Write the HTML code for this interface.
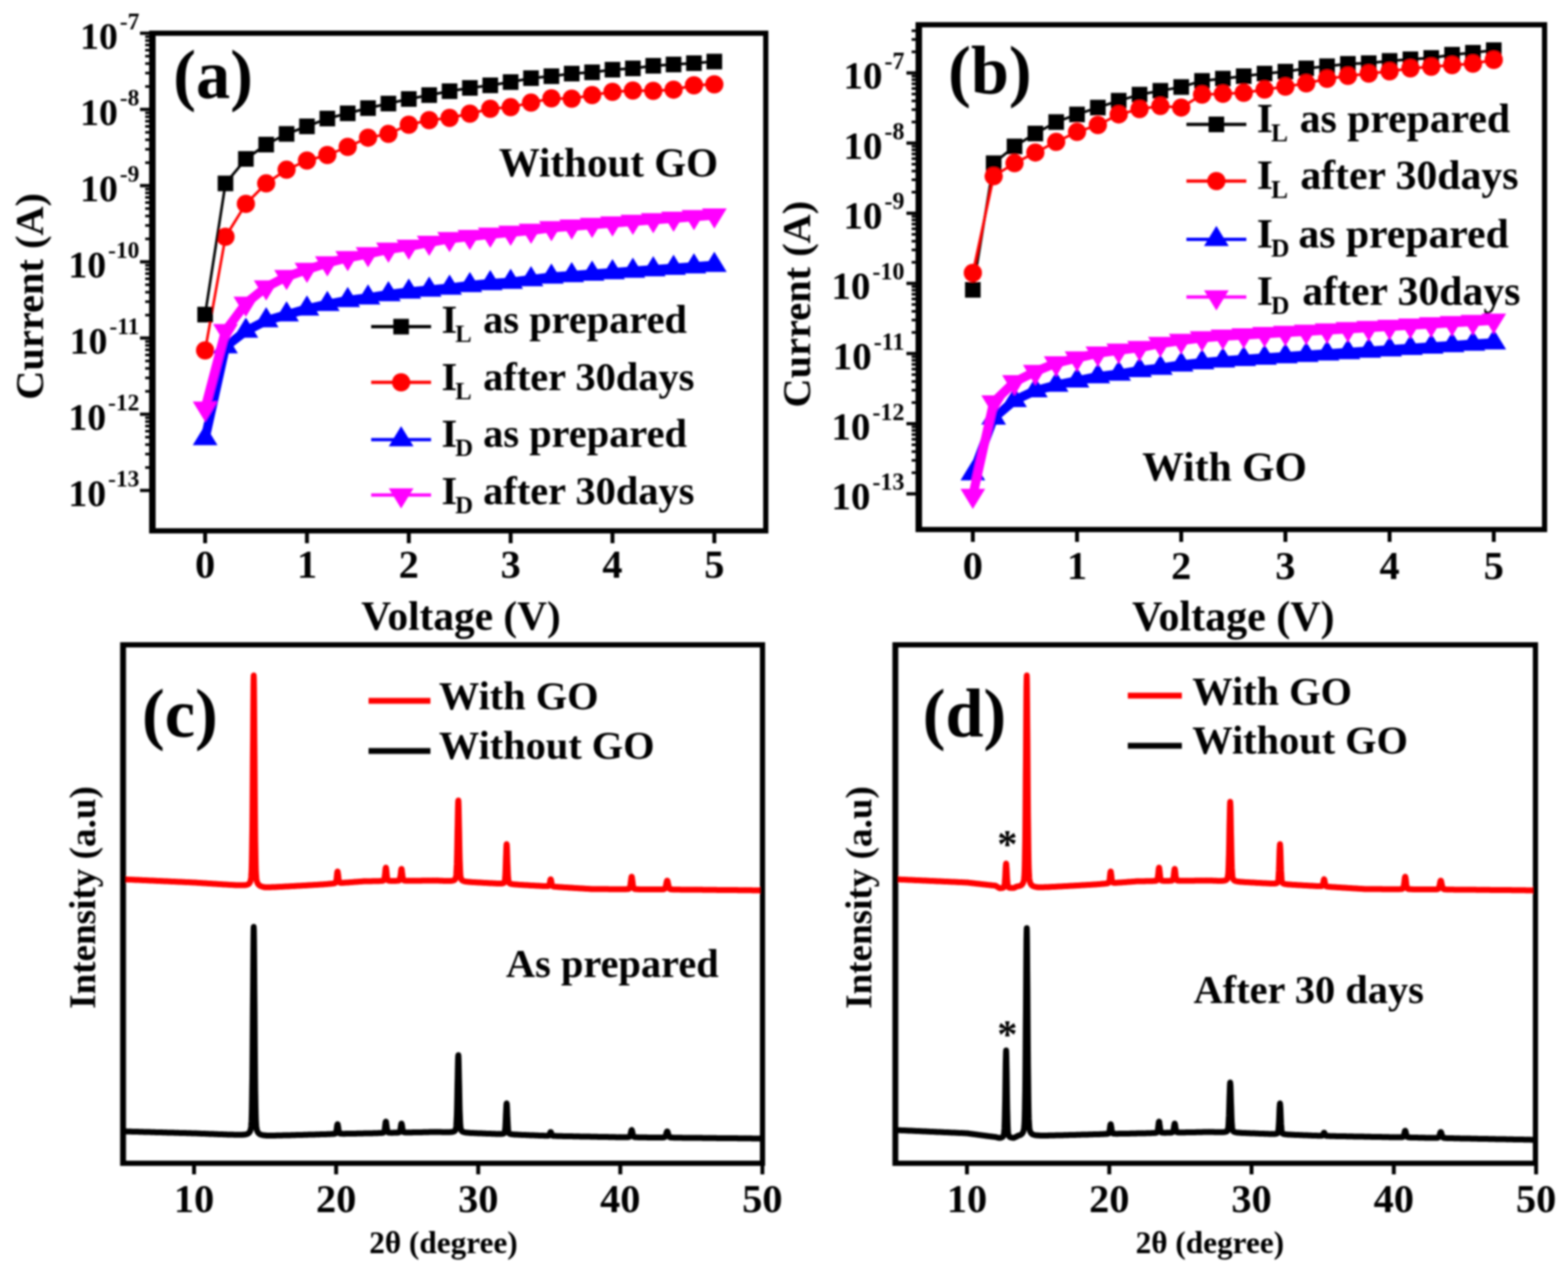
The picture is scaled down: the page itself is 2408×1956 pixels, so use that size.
<!DOCTYPE html>
<html><head><meta charset="utf-8"><title>Figure</title><style>html,body{margin:0;padding:0;background:#fff;}svg{display:block;}</style></head><body>
<svg width="2408" height="1956" viewBox="0 0 2408 1956" font-family="Liberation Serif, Times New Roman, serif" font-weight="bold">
<rect width="2408" height="1956" fill="#fff"/>
<defs><filter id="soft" x="0" y="0" width="100%" height="100%" filterUnits="userSpaceOnUse"><feGaussianBlur stdDeviation="1.6"/></filter></defs>
<g filter="url(#soft)">
<polyline points="315,673.2 346.3,532.2 377.6,508.2 408.8,492.2 440.1,483.2 471.4,474.2 502.7,467.2 534,461.2 565.2,457.2 596.5,452.2 627.8,448.2 659.1,445.2 690.4,442.2 721.6,438.2 752.9,435.2 784.2,433.2 815.5,429.2 846.8,425.2 878,422.9 909.3,420.7 940.6,418.4 971.9,416.2 1003.2,413.9 1034.4,411.7 1065.7,409.4 1097,407.2" fill="none" stroke="#0000ff" stroke-width="14" stroke-linejoin="round"/>
<polygon points="315,652.5 334,683.5 296,683.5" fill="#0000ff"/>
<polygon points="346.3,511.5 365.3,542.5 327.3,542.5" fill="#0000ff"/>
<polygon points="377.6,487.5 396.6,518.5 358.6,518.5" fill="#0000ff"/>
<polygon points="408.8,471.5 427.8,502.5 389.8,502.5" fill="#0000ff"/>
<polygon points="440.1,462.5 459.1,493.5 421.1,493.5" fill="#0000ff"/>
<polygon points="471.4,453.5 490.4,484.5 452.4,484.5" fill="#0000ff"/>
<polygon points="502.7,446.5 521.7,477.5 483.7,477.5" fill="#0000ff"/>
<polygon points="534,440.5 553,471.5 515,471.5" fill="#0000ff"/>
<polygon points="565.2,436.5 584.2,467.5 546.2,467.5" fill="#0000ff"/>
<polygon points="596.5,431.5 615.5,462.5 577.5,462.5" fill="#0000ff"/>
<polygon points="627.8,427.5 646.8,458.5 608.8,458.5" fill="#0000ff"/>
<polygon points="659.1,424.5 678.1,455.5 640.1,455.5" fill="#0000ff"/>
<polygon points="690.4,421.5 709.4,452.5 671.4,452.5" fill="#0000ff"/>
<polygon points="721.6,417.5 740.6,448.5 702.6,448.5" fill="#0000ff"/>
<polygon points="752.9,414.5 771.9,445.5 733.9,445.5" fill="#0000ff"/>
<polygon points="784.2,412.5 803.2,443.5 765.2,443.5" fill="#0000ff"/>
<polygon points="815.5,408.5 834.5,439.5 796.5,439.5" fill="#0000ff"/>
<polygon points="846.8,404.5 865.8,435.5 827.8,435.5" fill="#0000ff"/>
<polygon points="878,402.2 897,433.2 859,433.2" fill="#0000ff"/>
<polygon points="909.3,400 928.3,431 890.3,431" fill="#0000ff"/>
<polygon points="940.6,397.8 959.6,428.8 921.6,428.8" fill="#0000ff"/>
<polygon points="971.9,395.5 990.9,426.5 952.9,426.5" fill="#0000ff"/>
<polygon points="1003.2,393.2 1022.2,424.2 984.2,424.2" fill="#0000ff"/>
<polygon points="1034.4,391 1053.4,422 1015.4,422" fill="#0000ff"/>
<polygon points="1065.7,388.8 1084.7,419.8 1046.7,419.8" fill="#0000ff"/>
<polygon points="1097,386.5 1116,417.5 1078,417.5" fill="#0000ff"/>
<polyline points="315,626.8 346.3,507.8 377.6,465.8 408.8,440.8 440.1,424.8 471.4,413.8 502.7,403.8 534,395.8 565.2,389.8 596.5,382.8 627.8,378.4 659.1,372.3 690.4,366.5 721.6,363.4 752.9,359.8 784.2,356.8 815.5,353.8 846.8,349.8 878,347.4 909.3,345 940.6,342.5 971.9,340.1 1003.2,337.6 1034.4,335.2 1065.7,332.8 1097,330.3" fill="none" stroke="#ff00ff" stroke-width="14" stroke-linejoin="round"/>
<polygon points="296,616.5 334,616.5 315,647.5" fill="#ff00ff"/>
<polygon points="327.3,497.5 365.3,497.5 346.3,528.5" fill="#ff00ff"/>
<polygon points="358.6,455.5 396.6,455.5 377.6,486.5" fill="#ff00ff"/>
<polygon points="389.8,430.5 427.8,430.5 408.8,461.5" fill="#ff00ff"/>
<polygon points="421.1,414.5 459.1,414.5 440.1,445.5" fill="#ff00ff"/>
<polygon points="452.4,403.5 490.4,403.5 471.4,434.5" fill="#ff00ff"/>
<polygon points="483.7,393.5 521.7,393.5 502.7,424.5" fill="#ff00ff"/>
<polygon points="515,385.5 553,385.5 534,416.5" fill="#ff00ff"/>
<polygon points="546.2,379.5 584.2,379.5 565.2,410.5" fill="#ff00ff"/>
<polygon points="577.5,372.5 615.5,372.5 596.5,403.5" fill="#ff00ff"/>
<polygon points="608.8,368.1 646.8,368.1 627.8,399.1" fill="#ff00ff"/>
<polygon points="640.1,362 678.1,362 659.1,393" fill="#ff00ff"/>
<polygon points="671.4,356.2 709.4,356.2 690.4,387.2" fill="#ff00ff"/>
<polygon points="702.6,353.1 740.6,353.1 721.6,384.1" fill="#ff00ff"/>
<polygon points="733.9,349.5 771.9,349.5 752.9,380.5" fill="#ff00ff"/>
<polygon points="765.2,346.5 803.2,346.5 784.2,377.5" fill="#ff00ff"/>
<polygon points="796.5,343.5 834.5,343.5 815.5,374.5" fill="#ff00ff"/>
<polygon points="827.8,339.5 865.8,339.5 846.8,370.5" fill="#ff00ff"/>
<polygon points="859,337.1 897,337.1 878,368.1" fill="#ff00ff"/>
<polygon points="890.3,334.6 928.3,334.6 909.3,365.6" fill="#ff00ff"/>
<polygon points="921.6,332.2 959.6,332.2 940.6,363.2" fill="#ff00ff"/>
<polygon points="952.9,329.8 990.9,329.8 971.9,360.8" fill="#ff00ff"/>
<polygon points="984.2,327.3 1022.2,327.3 1003.2,358.3" fill="#ff00ff"/>
<polygon points="1015.4,324.9 1053.4,324.9 1034.4,355.9" fill="#ff00ff"/>
<polygon points="1046.7,322.4 1084.7,322.4 1065.7,353.4" fill="#ff00ff"/>
<polygon points="1078,320 1116,320 1097,351" fill="#ff00ff"/>
<polyline points="315,538 346.3,363.5 377.6,313 408.8,281.6 440.1,260.6 471.4,246.5 502.7,238 534,225.5 565.2,211.4 596.5,205.6 627.8,191.5 659.1,184.5 690.4,181 721.6,174.5 752.9,167 784.2,164.6 815.5,157.6 846.8,151 878,151.5 909.3,146 940.6,141 971.9,139 1003.2,139.5 1034.4,137.7 1065.7,131 1097,129.5" fill="none" stroke="#ff0000" stroke-width="4" stroke-linejoin="round"/>
<circle cx="315" cy="538" r="14.0" fill="#ff0000"/>
<circle cx="346.3" cy="363.5" r="14.0" fill="#ff0000"/>
<circle cx="377.6" cy="313" r="14.0" fill="#ff0000"/>
<circle cx="408.8" cy="281.6" r="14.0" fill="#ff0000"/>
<circle cx="440.1" cy="260.6" r="14.0" fill="#ff0000"/>
<circle cx="471.4" cy="246.5" r="14.0" fill="#ff0000"/>
<circle cx="502.7" cy="238" r="14.0" fill="#ff0000"/>
<circle cx="534" cy="225.5" r="14.0" fill="#ff0000"/>
<circle cx="565.2" cy="211.4" r="14.0" fill="#ff0000"/>
<circle cx="596.5" cy="205.6" r="14.0" fill="#ff0000"/>
<circle cx="627.8" cy="191.5" r="14.0" fill="#ff0000"/>
<circle cx="659.1" cy="184.5" r="14.0" fill="#ff0000"/>
<circle cx="690.4" cy="181" r="14.0" fill="#ff0000"/>
<circle cx="721.6" cy="174.5" r="14.0" fill="#ff0000"/>
<circle cx="752.9" cy="167" r="14.0" fill="#ff0000"/>
<circle cx="784.2" cy="164.6" r="14.0" fill="#ff0000"/>
<circle cx="815.5" cy="157.6" r="14.0" fill="#ff0000"/>
<circle cx="846.8" cy="151" r="14.0" fill="#ff0000"/>
<circle cx="878" cy="151.5" r="14.0" fill="#ff0000"/>
<circle cx="909.3" cy="146" r="14.0" fill="#ff0000"/>
<circle cx="940.6" cy="141" r="14.0" fill="#ff0000"/>
<circle cx="971.9" cy="139" r="14.0" fill="#ff0000"/>
<circle cx="1003.2" cy="139.5" r="14.0" fill="#ff0000"/>
<circle cx="1034.4" cy="137.7" r="14.0" fill="#ff0000"/>
<circle cx="1065.7" cy="131" r="14.0" fill="#ff0000"/>
<circle cx="1097" cy="129.5" r="14.0" fill="#ff0000"/>
<polyline points="315,483 346.3,281.6 377.6,244 408.8,222 440.1,205.6 471.4,194 502.7,182 534,174 565.2,166 596.5,159 627.8,152 659.1,146 690.4,140 721.6,135 752.9,131 784.2,126 815.5,120 846.8,117 878,113 909.3,111 940.6,107 971.9,105 1003.2,101 1034.4,99 1065.7,97 1097,94.5" fill="none" stroke="#000000" stroke-width="4" stroke-linejoin="round"/>
<rect x="303" y="471" width="24" height="24" fill="#000000"/>
<rect x="334.3" y="269.6" width="24" height="24" fill="#000000"/>
<rect x="365.6" y="232" width="24" height="24" fill="#000000"/>
<rect x="396.8" y="210" width="24" height="24" fill="#000000"/>
<rect x="428.1" y="193.6" width="24" height="24" fill="#000000"/>
<rect x="459.4" y="182" width="24" height="24" fill="#000000"/>
<rect x="490.7" y="170" width="24" height="24" fill="#000000"/>
<rect x="522" y="162" width="24" height="24" fill="#000000"/>
<rect x="553.2" y="154" width="24" height="24" fill="#000000"/>
<rect x="584.5" y="147" width="24" height="24" fill="#000000"/>
<rect x="615.8" y="140" width="24" height="24" fill="#000000"/>
<rect x="647.1" y="134" width="24" height="24" fill="#000000"/>
<rect x="678.4" y="128" width="24" height="24" fill="#000000"/>
<rect x="709.6" y="123" width="24" height="24" fill="#000000"/>
<rect x="740.9" y="119" width="24" height="24" fill="#000000"/>
<rect x="772.2" y="114" width="24" height="24" fill="#000000"/>
<rect x="803.5" y="108" width="24" height="24" fill="#000000"/>
<rect x="834.8" y="105" width="24" height="24" fill="#000000"/>
<rect x="866" y="101" width="24" height="24" fill="#000000"/>
<rect x="897.3" y="99" width="24" height="24" fill="#000000"/>
<rect x="928.6" y="95" width="24" height="24" fill="#000000"/>
<rect x="959.9" y="93" width="24" height="24" fill="#000000"/>
<rect x="991.2" y="89" width="24" height="24" fill="#000000"/>
<rect x="1022.4" y="87" width="24" height="24" fill="#000000"/>
<rect x="1053.7" y="85" width="24" height="24" fill="#000000"/>
<rect x="1085" y="82.5" width="24" height="24" fill="#000000"/>
<line x1="234" y1="47" x2="234" y2="819" stroke="#000" stroke-width="10"/>
<line x1="234" y1="51" x2="1180" y2="51" stroke="#000" stroke-width="8"/>
<line x1="1176" y1="51" x2="1176" y2="815" stroke="#000" stroke-width="8"/>
<line x1="234" y1="815" x2="1180" y2="815" stroke="#000" stroke-width="8"/>
<line x1="215" y1="51" x2="229" y2="51" stroke="#000" stroke-width="5"/>
<text x="214" y="75" font-size="58" text-anchor="end">10<tspan dx="3" dy="-30" font-size="36">-7</tspan></text>
<line x1="215" y1="168" x2="229" y2="168" stroke="#000" stroke-width="5"/>
<text x="214" y="192" font-size="58" text-anchor="end">10<tspan dx="3" dy="-30" font-size="36">-8</tspan></text>
<line x1="223" y1="132.8" x2="229" y2="132.8" stroke="#000" stroke-width="4"/>
<line x1="223" y1="112.2" x2="229" y2="112.2" stroke="#000" stroke-width="4"/>
<line x1="223" y1="97.6" x2="229" y2="97.6" stroke="#000" stroke-width="4"/>
<line x1="223" y1="86.2" x2="229" y2="86.2" stroke="#000" stroke-width="4"/>
<line x1="223" y1="77" x2="229" y2="77" stroke="#000" stroke-width="4"/>
<line x1="223" y1="69.1" x2="229" y2="69.1" stroke="#000" stroke-width="4"/>
<line x1="223" y1="62.3" x2="229" y2="62.3" stroke="#000" stroke-width="4"/>
<line x1="223" y1="56.4" x2="229" y2="56.4" stroke="#000" stroke-width="4"/>
<line x1="215" y1="285" x2="229" y2="285" stroke="#000" stroke-width="5"/>
<text x="214" y="309" font-size="58" text-anchor="end">10<tspan dx="3" dy="-30" font-size="36">-9</tspan></text>
<line x1="223" y1="249.8" x2="229" y2="249.8" stroke="#000" stroke-width="4"/>
<line x1="223" y1="229.2" x2="229" y2="229.2" stroke="#000" stroke-width="4"/>
<line x1="223" y1="214.6" x2="229" y2="214.6" stroke="#000" stroke-width="4"/>
<line x1="223" y1="203.2" x2="229" y2="203.2" stroke="#000" stroke-width="4"/>
<line x1="223" y1="194" x2="229" y2="194" stroke="#000" stroke-width="4"/>
<line x1="223" y1="186.1" x2="229" y2="186.1" stroke="#000" stroke-width="4"/>
<line x1="223" y1="179.3" x2="229" y2="179.3" stroke="#000" stroke-width="4"/>
<line x1="223" y1="173.4" x2="229" y2="173.4" stroke="#000" stroke-width="4"/>
<line x1="215" y1="402" x2="229" y2="402" stroke="#000" stroke-width="5"/>
<text x="214" y="426" font-size="58" text-anchor="end">10<tspan dx="3" dy="-30" font-size="36">-10</tspan></text>
<line x1="223" y1="366.8" x2="229" y2="366.8" stroke="#000" stroke-width="4"/>
<line x1="223" y1="346.2" x2="229" y2="346.2" stroke="#000" stroke-width="4"/>
<line x1="223" y1="331.6" x2="229" y2="331.6" stroke="#000" stroke-width="4"/>
<line x1="223" y1="320.2" x2="229" y2="320.2" stroke="#000" stroke-width="4"/>
<line x1="223" y1="311" x2="229" y2="311" stroke="#000" stroke-width="4"/>
<line x1="223" y1="303.1" x2="229" y2="303.1" stroke="#000" stroke-width="4"/>
<line x1="223" y1="296.3" x2="229" y2="296.3" stroke="#000" stroke-width="4"/>
<line x1="223" y1="290.4" x2="229" y2="290.4" stroke="#000" stroke-width="4"/>
<line x1="215" y1="519" x2="229" y2="519" stroke="#000" stroke-width="5"/>
<text x="214" y="543" font-size="58" text-anchor="end">10<tspan dx="3" dy="-30" font-size="36">-11</tspan></text>
<line x1="223" y1="483.8" x2="229" y2="483.8" stroke="#000" stroke-width="4"/>
<line x1="223" y1="463.2" x2="229" y2="463.2" stroke="#000" stroke-width="4"/>
<line x1="223" y1="448.6" x2="229" y2="448.6" stroke="#000" stroke-width="4"/>
<line x1="223" y1="437.2" x2="229" y2="437.2" stroke="#000" stroke-width="4"/>
<line x1="223" y1="428" x2="229" y2="428" stroke="#000" stroke-width="4"/>
<line x1="223" y1="420.1" x2="229" y2="420.1" stroke="#000" stroke-width="4"/>
<line x1="223" y1="413.3" x2="229" y2="413.3" stroke="#000" stroke-width="4"/>
<line x1="223" y1="407.4" x2="229" y2="407.4" stroke="#000" stroke-width="4"/>
<line x1="215" y1="636" x2="229" y2="636" stroke="#000" stroke-width="5"/>
<text x="214" y="660" font-size="58" text-anchor="end">10<tspan dx="3" dy="-30" font-size="36">-12</tspan></text>
<line x1="223" y1="600.8" x2="229" y2="600.8" stroke="#000" stroke-width="4"/>
<line x1="223" y1="580.2" x2="229" y2="580.2" stroke="#000" stroke-width="4"/>
<line x1="223" y1="565.6" x2="229" y2="565.6" stroke="#000" stroke-width="4"/>
<line x1="223" y1="554.2" x2="229" y2="554.2" stroke="#000" stroke-width="4"/>
<line x1="223" y1="545" x2="229" y2="545" stroke="#000" stroke-width="4"/>
<line x1="223" y1="537.1" x2="229" y2="537.1" stroke="#000" stroke-width="4"/>
<line x1="223" y1="530.3" x2="229" y2="530.3" stroke="#000" stroke-width="4"/>
<line x1="223" y1="524.4" x2="229" y2="524.4" stroke="#000" stroke-width="4"/>
<line x1="215" y1="753" x2="229" y2="753" stroke="#000" stroke-width="5"/>
<text x="214" y="777" font-size="58" text-anchor="end">10<tspan dx="3" dy="-30" font-size="36">-13</tspan></text>
<line x1="223" y1="717.8" x2="229" y2="717.8" stroke="#000" stroke-width="4"/>
<line x1="223" y1="697.2" x2="229" y2="697.2" stroke="#000" stroke-width="4"/>
<line x1="223" y1="682.6" x2="229" y2="682.6" stroke="#000" stroke-width="4"/>
<line x1="223" y1="671.2" x2="229" y2="671.2" stroke="#000" stroke-width="4"/>
<line x1="223" y1="662" x2="229" y2="662" stroke="#000" stroke-width="4"/>
<line x1="223" y1="654.1" x2="229" y2="654.1" stroke="#000" stroke-width="4"/>
<line x1="223" y1="647.3" x2="229" y2="647.3" stroke="#000" stroke-width="4"/>
<line x1="223" y1="641.4" x2="229" y2="641.4" stroke="#000" stroke-width="4"/>
<line x1="315" y1="815" x2="315" y2="834" stroke="#000" stroke-width="6"/>
<text x="315" y="887" font-size="62" text-anchor="middle" >0</text>
<line x1="471.4" y1="815" x2="471.4" y2="834" stroke="#000" stroke-width="6"/>
<text x="471.4" y="887" font-size="62" text-anchor="middle" >1</text>
<line x1="627.8" y1="815" x2="627.8" y2="834" stroke="#000" stroke-width="6"/>
<text x="627.8" y="887" font-size="62" text-anchor="middle" >2</text>
<line x1="784.2" y1="815" x2="784.2" y2="834" stroke="#000" stroke-width="6"/>
<text x="784.2" y="887" font-size="62" text-anchor="middle" >3</text>
<line x1="940.6" y1="815" x2="940.6" y2="834" stroke="#000" stroke-width="6"/>
<text x="940.6" y="887" font-size="62" text-anchor="middle" >4</text>
<line x1="1097" y1="815" x2="1097" y2="834" stroke="#000" stroke-width="6"/>
<text x="1097" y="887" font-size="62" text-anchor="middle" >5</text>
<text x="708" y="967" font-size="63.5" text-anchor="middle" >Voltage (V)</text>
<text transform="translate(66,455) rotate(-90)" font-size="62" text-anchor="middle">Current (A)</text>
<text x="266" y="150" font-size="105" text-anchor="start" >(a)</text>
<text x="766" y="271" font-size="63" text-anchor="start" >Without GO</text>
<line x1="570" y1="501.5" x2="662" y2="501.5" stroke="#000000" stroke-width="5"/>
<rect x="604" y="489.5" width="24" height="24" fill="#000000"/>
<text x="678" y="511" font-size="62">I</text>
<text x="699" y="525" font-size="38">L</text>
<text x="742" y="511" font-size="62">as prepared</text>
<line x1="570" y1="587" x2="662" y2="587" stroke="#ff0000" stroke-width="5"/>
<circle cx="616" cy="587" r="14.0" fill="#ff0000"/>
<text x="678" y="598.7" font-size="62">I</text>
<text x="699" y="612.7" font-size="38">L</text>
<text x="742" y="598.7" font-size="62">after 30days</text>
<line x1="570" y1="675" x2="662" y2="675" stroke="#0000ff" stroke-width="5"/>
<polygon points="616,654.3 635,685.3 597,685.3" fill="#0000ff"/>
<text x="678" y="686.4" font-size="62">I</text>
<text x="699" y="700.4" font-size="38">D</text>
<text x="742" y="686.4" font-size="62">as prepared</text>
<line x1="570" y1="760" x2="662" y2="760" stroke="#ff00ff" stroke-width="5"/>
<polygon points="597,749.7 635,749.7 616,780.7" fill="#ff00ff"/>
<text x="678" y="774.1" font-size="62">I</text>
<text x="699" y="788.1" font-size="38">D</text>
<text x="742" y="774.1" font-size="62">after 30days</text>
<polyline points="1494,727.2 1526,641.8 1558,614.7 1590,599.7 1622,591.2 1654,584.7 1686,578.2 1718,574.2 1750,568.8 1782,565.2 1814,560.2 1846,556.7 1878,553.9 1910,551.7 1942,549.6 1974,547.5 2006,545.3 2038,543.2 2070,541.1 2102,539 2134,536.8 2166,534.7 2198,532.6 2230,530.4 2262,528.3 2294,526.2" fill="none" stroke="#0000ff" stroke-width="14" stroke-linejoin="round"/>
<polygon points="1494,706.5 1513,737.5 1475,737.5" fill="#0000ff"/>
<polygon points="1526,621.1 1545,652.1 1507,652.1" fill="#0000ff"/>
<polygon points="1558,594 1577,625 1539,625" fill="#0000ff"/>
<polygon points="1590,579 1609,610 1571,610" fill="#0000ff"/>
<polygon points="1622,570.5 1641,601.5 1603,601.5" fill="#0000ff"/>
<polygon points="1654,564 1673,595 1635,595" fill="#0000ff"/>
<polygon points="1686,557.5 1705,588.5 1667,588.5" fill="#0000ff"/>
<polygon points="1718,553.5 1737,584.5 1699,584.5" fill="#0000ff"/>
<polygon points="1750,548.1 1769,579.1 1731,579.1" fill="#0000ff"/>
<polygon points="1782,544.5 1801,575.5 1763,575.5" fill="#0000ff"/>
<polygon points="1814,539.5 1833,570.5 1795,570.5" fill="#0000ff"/>
<polygon points="1846,536 1865,567 1827,567" fill="#0000ff"/>
<polygon points="1878,533.2 1897,564.2 1859,564.2" fill="#0000ff"/>
<polygon points="1910,531.1 1929,562.1 1891,562.1" fill="#0000ff"/>
<polygon points="1942,528.9 1961,559.9 1923,559.9" fill="#0000ff"/>
<polygon points="1974,526.8 1993,557.8 1955,557.8" fill="#0000ff"/>
<polygon points="2006,524.7 2025,555.7 1987,555.7" fill="#0000ff"/>
<polygon points="2038,522.5 2057,553.5 2019,553.5" fill="#0000ff"/>
<polygon points="2070,520.4 2089,551.4 2051,551.4" fill="#0000ff"/>
<polygon points="2102,518.3 2121,549.3 2083,549.3" fill="#0000ff"/>
<polygon points="2134,516.2 2153,547.2 2115,547.2" fill="#0000ff"/>
<polygon points="2166,514 2185,545 2147,545" fill="#0000ff"/>
<polygon points="2198,511.9 2217,542.9 2179,542.9" fill="#0000ff"/>
<polygon points="2230,509.8 2249,540.8 2211,540.8" fill="#0000ff"/>
<polygon points="2262,507.6 2281,538.6 2243,538.6" fill="#0000ff"/>
<polygon points="2294,505.5 2313,536.5 2275,536.5" fill="#0000ff"/>
<polyline points="1494,760.8 1526,617.3 1558,586.4 1590,570.5 1622,557.4 1654,549.8 1686,542.4 1718,537.8 1750,533.8 1782,527.5 1814,522.8 1846,518.8 1878,516.2 1910,514.4 1942,512.5 1974,510.6 2006,508.7 2038,506.8 2070,505 2102,503.1 2134,501.2 2166,499.3 2198,497.5 2230,495.6 2262,493.7 2294,491.8" fill="none" stroke="#ff00ff" stroke-width="14" stroke-linejoin="round"/>
<polygon points="1475,750.5 1513,750.5 1494,781.5" fill="#ff00ff"/>
<polygon points="1507,607 1545,607 1526,638" fill="#ff00ff"/>
<polygon points="1539,576.1 1577,576.1 1558,607.1" fill="#ff00ff"/>
<polygon points="1571,560.2 1609,560.2 1590,591.2" fill="#ff00ff"/>
<polygon points="1603,547.1 1641,547.1 1622,578.1" fill="#ff00ff"/>
<polygon points="1635,539.5 1673,539.5 1654,570.5" fill="#ff00ff"/>
<polygon points="1667,532.1 1705,532.1 1686,563.1" fill="#ff00ff"/>
<polygon points="1699,527.5 1737,527.5 1718,558.5" fill="#ff00ff"/>
<polygon points="1731,523.5 1769,523.5 1750,554.5" fill="#ff00ff"/>
<polygon points="1763,517.2 1801,517.2 1782,548.2" fill="#ff00ff"/>
<polygon points="1795,512.5 1833,512.5 1814,543.5" fill="#ff00ff"/>
<polygon points="1827,508.5 1865,508.5 1846,539.5" fill="#ff00ff"/>
<polygon points="1859,505.9 1897,505.9 1878,536.9" fill="#ff00ff"/>
<polygon points="1891,504 1929,504 1910,535" fill="#ff00ff"/>
<polygon points="1923,502.1 1961,502.1 1942,533.1" fill="#ff00ff"/>
<polygon points="1955,500.3 1993,500.3 1974,531.3" fill="#ff00ff"/>
<polygon points="1987,498.4 2025,498.4 2006,529.4" fill="#ff00ff"/>
<polygon points="2019,496.5 2057,496.5 2038,527.5" fill="#ff00ff"/>
<polygon points="2051,494.6 2089,494.6 2070,525.6" fill="#ff00ff"/>
<polygon points="2083,492.8 2121,492.8 2102,523.8" fill="#ff00ff"/>
<polygon points="2115,490.9 2153,490.9 2134,521.9" fill="#ff00ff"/>
<polygon points="2147,489 2185,489 2166,520" fill="#ff00ff"/>
<polygon points="2179,487.1 2217,487.1 2198,518.1" fill="#ff00ff"/>
<polygon points="2211,485.3 2249,485.3 2230,516.3" fill="#ff00ff"/>
<polygon points="2243,483.4 2281,483.4 2262,514.4" fill="#ff00ff"/>
<polygon points="2275,481.5 2313,481.5 2294,512.5" fill="#ff00ff"/>
<polyline points="1494,445 1526,250.6 1558,224.8 1590,205 1622,187.4 1654,175.7 1686,165.2 1718,154.6 1750,145.3 1782,139.4 1814,133.6 1846,124.2 1878,120.7 1910,117 1942,113 1974,110 2006,105 2038,101.7 2070,98 2102,97 2134,93.5 2166,91 2198,89 2230,84 2262,81 2294,77" fill="none" stroke="#000000" stroke-width="4" stroke-linejoin="round"/>
<rect x="1482" y="433" width="24" height="24" fill="#000000"/>
<rect x="1514" y="238.6" width="24" height="24" fill="#000000"/>
<rect x="1546" y="212.8" width="24" height="24" fill="#000000"/>
<rect x="1578" y="193" width="24" height="24" fill="#000000"/>
<rect x="1610" y="175.4" width="24" height="24" fill="#000000"/>
<rect x="1642" y="163.7" width="24" height="24" fill="#000000"/>
<rect x="1674" y="153.2" width="24" height="24" fill="#000000"/>
<rect x="1706" y="142.6" width="24" height="24" fill="#000000"/>
<rect x="1738" y="133.3" width="24" height="24" fill="#000000"/>
<rect x="1770" y="127.4" width="24" height="24" fill="#000000"/>
<rect x="1802" y="121.6" width="24" height="24" fill="#000000"/>
<rect x="1834" y="112.2" width="24" height="24" fill="#000000"/>
<rect x="1866" y="108.7" width="24" height="24" fill="#000000"/>
<rect x="1898" y="105" width="24" height="24" fill="#000000"/>
<rect x="1930" y="101" width="24" height="24" fill="#000000"/>
<rect x="1962" y="98" width="24" height="24" fill="#000000"/>
<rect x="1994" y="93" width="24" height="24" fill="#000000"/>
<rect x="2026" y="89.7" width="24" height="24" fill="#000000"/>
<rect x="2058" y="86" width="24" height="24" fill="#000000"/>
<rect x="2090" y="85" width="24" height="24" fill="#000000"/>
<rect x="2122" y="81.5" width="24" height="24" fill="#000000"/>
<rect x="2154" y="79" width="24" height="24" fill="#000000"/>
<rect x="2186" y="77" width="24" height="24" fill="#000000"/>
<rect x="2218" y="72" width="24" height="24" fill="#000000"/>
<rect x="2250" y="69" width="24" height="24" fill="#000000"/>
<rect x="2282" y="65" width="24" height="24" fill="#000000"/>
<polyline points="1494,419 1526,270.5 1558,250.6 1590,234.2 1622,217.8 1654,202.6 1686,192 1718,175.7 1750,167.5 1782,162.8 1814,165.2 1846,145.3 1878,144 1910,142.5 1942,137.6 1974,133 2006,128 2038,121 2070,116.6 2102,113 2134,109.5 2166,105 2198,102.5 2230,100 2262,97.8 2294,92" fill="none" stroke="#ff0000" stroke-width="4" stroke-linejoin="round"/>
<circle cx="1494" cy="419" r="14.0" fill="#ff0000"/>
<circle cx="1526" cy="270.5" r="14.0" fill="#ff0000"/>
<circle cx="1558" cy="250.6" r="14.0" fill="#ff0000"/>
<circle cx="1590" cy="234.2" r="14.0" fill="#ff0000"/>
<circle cx="1622" cy="217.8" r="14.0" fill="#ff0000"/>
<circle cx="1654" cy="202.6" r="14.0" fill="#ff0000"/>
<circle cx="1686" cy="192" r="14.0" fill="#ff0000"/>
<circle cx="1718" cy="175.7" r="14.0" fill="#ff0000"/>
<circle cx="1750" cy="167.5" r="14.0" fill="#ff0000"/>
<circle cx="1782" cy="162.8" r="14.0" fill="#ff0000"/>
<circle cx="1814" cy="165.2" r="14.0" fill="#ff0000"/>
<circle cx="1846" cy="145.3" r="14.0" fill="#ff0000"/>
<circle cx="1878" cy="144" r="14.0" fill="#ff0000"/>
<circle cx="1910" cy="142.5" r="14.0" fill="#ff0000"/>
<circle cx="1942" cy="137.6" r="14.0" fill="#ff0000"/>
<circle cx="1974" cy="133" r="14.0" fill="#ff0000"/>
<circle cx="2006" cy="128" r="14.0" fill="#ff0000"/>
<circle cx="2038" cy="121" r="14.0" fill="#ff0000"/>
<circle cx="2070" cy="116.6" r="14.0" fill="#ff0000"/>
<circle cx="2102" cy="113" r="14.0" fill="#ff0000"/>
<circle cx="2134" cy="109.5" r="14.0" fill="#ff0000"/>
<circle cx="2166" cy="105" r="14.0" fill="#ff0000"/>
<circle cx="2198" cy="102.5" r="14.0" fill="#ff0000"/>
<circle cx="2230" cy="100" r="14.0" fill="#ff0000"/>
<circle cx="2262" cy="97.8" r="14.0" fill="#ff0000"/>
<circle cx="2294" cy="92" r="14.0" fill="#ff0000"/>
<line x1="1411" y1="34" x2="1411" y2="817" stroke="#000" stroke-width="10"/>
<line x1="1411" y1="38" x2="2376" y2="38" stroke="#000" stroke-width="8"/>
<line x1="2372" y1="38" x2="2372" y2="813" stroke="#000" stroke-width="8"/>
<line x1="1411" y1="813" x2="2376" y2="813" stroke="#000" stroke-width="8"/>
<line x1="1392" y1="112" x2="1406" y2="112" stroke="#000" stroke-width="5"/>
<text x="1389" y="136" font-size="60" text-anchor="end">10<tspan dx="3" dy="-30" font-size="37">-7</tspan></text>
<line x1="1400" y1="79.6" x2="1406" y2="79.6" stroke="#000" stroke-width="4"/>
<line x1="1400" y1="60.6" x2="1406" y2="60.6" stroke="#000" stroke-width="4"/>
<line x1="1400" y1="47.2" x2="1406" y2="47.2" stroke="#000" stroke-width="4"/>
<line x1="1392" y1="219.7" x2="1406" y2="219.7" stroke="#000" stroke-width="5"/>
<text x="1389" y="243.7" font-size="60" text-anchor="end">10<tspan dx="3" dy="-30" font-size="37">-8</tspan></text>
<line x1="1400" y1="187.3" x2="1406" y2="187.3" stroke="#000" stroke-width="4"/>
<line x1="1400" y1="168.3" x2="1406" y2="168.3" stroke="#000" stroke-width="4"/>
<line x1="1400" y1="154.9" x2="1406" y2="154.9" stroke="#000" stroke-width="4"/>
<line x1="1400" y1="144.4" x2="1406" y2="144.4" stroke="#000" stroke-width="4"/>
<line x1="1400" y1="135.9" x2="1406" y2="135.9" stroke="#000" stroke-width="4"/>
<line x1="1400" y1="128.7" x2="1406" y2="128.7" stroke="#000" stroke-width="4"/>
<line x1="1400" y1="122.4" x2="1406" y2="122.4" stroke="#000" stroke-width="4"/>
<line x1="1400" y1="116.9" x2="1406" y2="116.9" stroke="#000" stroke-width="4"/>
<line x1="1392" y1="327.4" x2="1406" y2="327.4" stroke="#000" stroke-width="5"/>
<text x="1389" y="351.4" font-size="60" text-anchor="end">10<tspan dx="3" dy="-30" font-size="37">-9</tspan></text>
<line x1="1400" y1="295" x2="1406" y2="295" stroke="#000" stroke-width="4"/>
<line x1="1400" y1="276" x2="1406" y2="276" stroke="#000" stroke-width="4"/>
<line x1="1400" y1="262.6" x2="1406" y2="262.6" stroke="#000" stroke-width="4"/>
<line x1="1400" y1="252.1" x2="1406" y2="252.1" stroke="#000" stroke-width="4"/>
<line x1="1400" y1="243.6" x2="1406" y2="243.6" stroke="#000" stroke-width="4"/>
<line x1="1400" y1="236.4" x2="1406" y2="236.4" stroke="#000" stroke-width="4"/>
<line x1="1400" y1="230.1" x2="1406" y2="230.1" stroke="#000" stroke-width="4"/>
<line x1="1400" y1="224.6" x2="1406" y2="224.6" stroke="#000" stroke-width="4"/>
<line x1="1392" y1="435.1" x2="1406" y2="435.1" stroke="#000" stroke-width="5"/>
<text x="1389" y="459.1" font-size="60" text-anchor="end">10<tspan dx="3" dy="-30" font-size="37">-10</tspan></text>
<line x1="1400" y1="402.7" x2="1406" y2="402.7" stroke="#000" stroke-width="4"/>
<line x1="1400" y1="383.7" x2="1406" y2="383.7" stroke="#000" stroke-width="4"/>
<line x1="1400" y1="370.3" x2="1406" y2="370.3" stroke="#000" stroke-width="4"/>
<line x1="1400" y1="359.8" x2="1406" y2="359.8" stroke="#000" stroke-width="4"/>
<line x1="1400" y1="351.3" x2="1406" y2="351.3" stroke="#000" stroke-width="4"/>
<line x1="1400" y1="344.1" x2="1406" y2="344.1" stroke="#000" stroke-width="4"/>
<line x1="1400" y1="337.8" x2="1406" y2="337.8" stroke="#000" stroke-width="4"/>
<line x1="1400" y1="332.3" x2="1406" y2="332.3" stroke="#000" stroke-width="4"/>
<line x1="1392" y1="542.8" x2="1406" y2="542.8" stroke="#000" stroke-width="5"/>
<text x="1389" y="566.8" font-size="60" text-anchor="end">10<tspan dx="3" dy="-30" font-size="37">-11</tspan></text>
<line x1="1400" y1="510.4" x2="1406" y2="510.4" stroke="#000" stroke-width="4"/>
<line x1="1400" y1="491.4" x2="1406" y2="491.4" stroke="#000" stroke-width="4"/>
<line x1="1400" y1="478" x2="1406" y2="478" stroke="#000" stroke-width="4"/>
<line x1="1400" y1="467.5" x2="1406" y2="467.5" stroke="#000" stroke-width="4"/>
<line x1="1400" y1="459" x2="1406" y2="459" stroke="#000" stroke-width="4"/>
<line x1="1400" y1="451.8" x2="1406" y2="451.8" stroke="#000" stroke-width="4"/>
<line x1="1400" y1="445.5" x2="1406" y2="445.5" stroke="#000" stroke-width="4"/>
<line x1="1400" y1="440" x2="1406" y2="440" stroke="#000" stroke-width="4"/>
<line x1="1392" y1="650.5" x2="1406" y2="650.5" stroke="#000" stroke-width="5"/>
<text x="1389" y="674.5" font-size="60" text-anchor="end">10<tspan dx="3" dy="-30" font-size="37">-12</tspan></text>
<line x1="1400" y1="618.1" x2="1406" y2="618.1" stroke="#000" stroke-width="4"/>
<line x1="1400" y1="599.1" x2="1406" y2="599.1" stroke="#000" stroke-width="4"/>
<line x1="1400" y1="585.7" x2="1406" y2="585.7" stroke="#000" stroke-width="4"/>
<line x1="1400" y1="575.2" x2="1406" y2="575.2" stroke="#000" stroke-width="4"/>
<line x1="1400" y1="566.7" x2="1406" y2="566.7" stroke="#000" stroke-width="4"/>
<line x1="1400" y1="559.5" x2="1406" y2="559.5" stroke="#000" stroke-width="4"/>
<line x1="1400" y1="553.2" x2="1406" y2="553.2" stroke="#000" stroke-width="4"/>
<line x1="1400" y1="547.7" x2="1406" y2="547.7" stroke="#000" stroke-width="4"/>
<line x1="1392" y1="758.2" x2="1406" y2="758.2" stroke="#000" stroke-width="5"/>
<text x="1389" y="782.2" font-size="60" text-anchor="end">10<tspan dx="3" dy="-30" font-size="37">-13</tspan></text>
<line x1="1400" y1="725.8" x2="1406" y2="725.8" stroke="#000" stroke-width="4"/>
<line x1="1400" y1="706.8" x2="1406" y2="706.8" stroke="#000" stroke-width="4"/>
<line x1="1400" y1="693.4" x2="1406" y2="693.4" stroke="#000" stroke-width="4"/>
<line x1="1400" y1="682.9" x2="1406" y2="682.9" stroke="#000" stroke-width="4"/>
<line x1="1400" y1="674.4" x2="1406" y2="674.4" stroke="#000" stroke-width="4"/>
<line x1="1400" y1="667.2" x2="1406" y2="667.2" stroke="#000" stroke-width="4"/>
<line x1="1400" y1="660.9" x2="1406" y2="660.9" stroke="#000" stroke-width="4"/>
<line x1="1400" y1="655.4" x2="1406" y2="655.4" stroke="#000" stroke-width="4"/>
<line x1="1494" y1="813" x2="1494" y2="832" stroke="#000" stroke-width="6"/>
<text x="1494" y="889" font-size="62" text-anchor="middle" >0</text>
<line x1="1654" y1="813" x2="1654" y2="832" stroke="#000" stroke-width="6"/>
<text x="1654" y="889" font-size="62" text-anchor="middle" >1</text>
<line x1="1814" y1="813" x2="1814" y2="832" stroke="#000" stroke-width="6"/>
<text x="1814" y="889" font-size="62" text-anchor="middle" >2</text>
<line x1="1974" y1="813" x2="1974" y2="832" stroke="#000" stroke-width="6"/>
<text x="1974" y="889" font-size="62" text-anchor="middle" >3</text>
<line x1="2134" y1="813" x2="2134" y2="832" stroke="#000" stroke-width="6"/>
<text x="2134" y="889" font-size="62" text-anchor="middle" >4</text>
<line x1="2294" y1="813" x2="2294" y2="832" stroke="#000" stroke-width="6"/>
<text x="2294" y="889" font-size="62" text-anchor="middle" >5</text>
<text x="1894" y="968" font-size="64.5" text-anchor="middle" >Voltage (V)</text>
<text transform="translate(1244,467) rotate(-90)" font-size="62" text-anchor="middle">Current (A)</text>
<text x="1456" y="144" font-size="105" text-anchor="start" >(b)</text>
<text x="1754" y="738" font-size="64" text-anchor="start" >With GO</text>
<line x1="1822" y1="191" x2="1914" y2="191" stroke="#000000" stroke-width="5"/>
<rect x="1856" y="179" width="24" height="24" fill="#000000"/>
<text x="1930" y="203" font-size="64">I</text>
<text x="1952" y="217" font-size="39">L</text>
<text x="1996" y="203" font-size="64">as prepared</text>
<line x1="1822" y1="278" x2="1914" y2="278" stroke="#ff0000" stroke-width="5"/>
<circle cx="1868" cy="278" r="14.0" fill="#ff0000"/>
<text x="1930" y="290" font-size="64">I</text>
<text x="1952" y="304" font-size="39">L</text>
<text x="1997" y="290" font-size="64">after 30days</text>
<line x1="1822" y1="367.5" x2="1914" y2="367.5" stroke="#0000ff" stroke-width="5"/>
<polygon points="1868,346.8 1887,377.8 1849,377.8" fill="#0000ff"/>
<text x="1930" y="379.5" font-size="64">I</text>
<text x="1952" y="393.5" font-size="39">D</text>
<text x="1994" y="379.5" font-size="64">as prepared</text>
<line x1="1822" y1="456" x2="1914" y2="456" stroke="#ff00ff" stroke-width="5"/>
<polygon points="1849,445.7 1887,445.7 1868,476.7" fill="#ff00ff"/>
<text x="1930" y="468" font-size="64">I</text>
<text x="1952" y="482" font-size="39">D</text>
<text x="2000" y="468" font-size="64">after 30days</text>
<polyline points="189.0,1350.0 189.1,1350.0 189.3,1350.0 189.6,1350.0 189.8,1350.0 190.0,1350.0 190.2,1350.1 190.4,1350.1 190.6,1350.1 190.9,1350.1 191.1,1350.1 191.3,1350.1 191.5,1350.1 191.7,1350.1 192.0,1350.1 192.2,1350.1 192.4,1350.2 192.6,1350.2 192.8,1350.2 193.0,1350.2 193.3,1350.2 193.5,1350.2 193.7,1350.2 193.9,1350.2 194.1,1350.2 194.4,1350.2 194.6,1350.3 194.8,1350.3 195.0,1350.3 195.2,1350.3 195.4,1350.3 195.7,1350.3 195.9,1350.3 196.1,1350.3 196.3,1350.3 196.5,1350.3 196.8,1350.4 197.0,1350.4 197.2,1350.4 197.4,1350.4 197.6,1350.4 197.8,1350.4 198.1,1350.4 198.3,1350.4 198.5,1350.4 198.7,1350.4 198.9,1350.5 199.2,1350.5 199.4,1350.5 199.6,1350.5 199.8,1350.5 200.0,1350.5 200.2,1350.5 200.5,1350.5 200.7,1350.5 200.9,1350.5 201.1,1350.6 201.3,1350.6 201.6,1350.6 201.8,1350.6 202.0,1350.6 202.2,1350.6 202.4,1350.6 202.6,1350.6 202.9,1350.6 203.1,1350.6 203.3,1350.7 203.5,1350.7 203.7,1350.7 204.0,1350.7 204.2,1350.7 204.4,1350.7 204.6,1350.7 204.8,1350.7 205.0,1350.7 205.3,1350.7 205.5,1350.8 205.7,1350.8 205.9,1350.8 206.1,1350.8 206.4,1350.8 206.6,1350.8 206.8,1350.8 207.0,1350.8 207.2,1350.8 207.4,1350.8 207.7,1350.9 207.9,1350.9 208.1,1350.9 208.3,1350.9 208.5,1350.9 208.8,1350.9 209.0,1350.9 209.2,1350.9 209.4,1350.9 209.6,1350.9 209.8,1351.0 210.1,1351.0 210.3,1351.0 210.5,1351.0 210.7,1351.0 210.9,1351.0 211.2,1351.0 211.4,1351.0 211.6,1351.0 211.8,1351.0 212.0,1351.1 212.2,1351.1 212.5,1351.1 212.7,1351.1 212.9,1351.1 213.1,1351.1 213.3,1351.1 213.6,1351.1 213.8,1351.1 214.0,1351.1 214.2,1351.2 214.4,1351.2 214.6,1351.2 214.9,1351.2 215.1,1351.2 215.3,1351.2 215.5,1351.2 215.7,1351.2 216.0,1351.2 216.2,1351.2 216.4,1351.3 216.6,1351.3 216.8,1351.3 217.0,1351.3 217.3,1351.3 217.5,1351.3 217.7,1351.3 217.9,1351.3 218.1,1351.3 218.4,1351.3 218.6,1351.4 218.8,1351.4 219.0,1351.4 219.2,1351.4 219.4,1351.4 219.7,1351.4 219.9,1351.4 220.1,1351.4 220.3,1351.4 220.5,1351.4 220.8,1351.5 221.0,1351.5 221.2,1351.5 221.4,1351.5 221.6,1351.5 221.8,1351.5 222.1,1351.5 222.3,1351.5 222.5,1351.5 222.7,1351.5 222.9,1351.6 223.2,1351.6 223.4,1351.6 223.6,1351.6 223.8,1351.6 224.0,1351.6 224.2,1351.6 224.5,1351.6 224.7,1351.6 224.9,1351.6 225.1,1351.7 225.3,1351.7 225.6,1351.7 225.8,1351.7 226.0,1351.7 226.2,1351.7 226.4,1351.7 226.6,1351.7 226.9,1351.7 227.1,1351.7 227.3,1351.8 227.5,1351.8 227.7,1351.8 228.0,1351.8 228.2,1351.8 228.4,1351.8 228.6,1351.8 228.8,1351.8 229.0,1351.8 229.3,1351.8 229.5,1351.9 229.7,1351.9 229.9,1351.9 230.1,1351.9 230.4,1351.9 230.6,1351.9 230.8,1351.9 231.0,1351.9 231.2,1351.9 231.4,1351.9 231.7,1352.0 231.9,1352.0 232.1,1352.0 232.3,1352.0 232.5,1352.0 232.8,1352.0 233.0,1352.0 233.2,1352.0 233.4,1352.0 233.6,1352.0 233.8,1352.0 234.1,1352.1 234.3,1352.1 234.5,1352.1 234.7,1352.1 234.9,1352.1 235.2,1352.1 235.4,1352.1 235.6,1352.1 235.8,1352.1 236.0,1352.1 236.2,1352.2 236.5,1352.2 236.7,1352.2 236.9,1352.2 237.1,1352.2 237.3,1352.2 237.6,1352.2 237.8,1352.2 238.0,1352.2 238.2,1352.2 238.4,1352.3 238.6,1352.3 238.9,1352.3 239.1,1352.3 239.3,1352.3 239.5,1352.3 239.7,1352.3 240.0,1352.3 240.2,1352.3 240.4,1352.3 240.6,1352.4 240.8,1352.4 241.0,1352.4 241.3,1352.4 241.5,1352.4 241.7,1352.4 241.9,1352.4 242.1,1352.4 242.4,1352.4 242.6,1352.4 242.8,1352.5 243.0,1352.5 243.2,1352.5 243.4,1352.5 243.7,1352.5 243.9,1352.5 244.1,1352.5 244.3,1352.5 244.5,1352.5 244.8,1352.5 245.0,1352.6 245.2,1352.6 245.4,1352.6 245.6,1352.6 245.9,1352.6 246.1,1352.6 246.3,1352.6 246.5,1352.6 246.7,1352.6 246.9,1352.6 247.2,1352.7 247.4,1352.7 247.6,1352.7 247.8,1352.7 248.0,1352.7 248.3,1352.7 248.5,1352.7 248.7,1352.7 248.9,1352.7 249.1,1352.7 249.3,1352.8 249.6,1352.8 249.8,1352.8 250.0,1352.8 250.2,1352.8 250.4,1352.8 250.7,1352.8 250.9,1352.8 251.1,1352.8 251.3,1352.8 251.5,1352.9 251.7,1352.9 252.0,1352.9 252.2,1352.9 252.4,1352.9 252.6,1352.9 252.8,1352.9 253.1,1352.9 253.3,1352.9 253.5,1352.9 253.7,1353.0 253.9,1353.0 254.1,1353.0 254.4,1353.0 254.6,1353.0 254.8,1353.0 255.0,1353.0 255.2,1353.0 255.5,1353.0 255.7,1353.0 255.9,1353.1 256.1,1353.1 256.3,1353.1 256.5,1353.1 256.8,1353.1 257.0,1353.1 257.2,1353.1 257.4,1353.1 257.6,1353.1 257.9,1353.1 258.1,1353.2 258.3,1353.2 258.5,1353.2 258.7,1353.2 258.9,1353.2 259.2,1353.2 259.4,1353.2 259.6,1353.2 259.8,1353.2 260.0,1353.2 260.3,1353.3 260.5,1353.3 260.7,1353.3 260.9,1353.3 261.1,1353.3 261.3,1353.3 261.6,1353.3 261.8,1353.3 262.0,1353.3 262.2,1353.3 262.4,1353.4 262.7,1353.4 262.9,1353.4 263.1,1353.4 263.3,1353.4 263.5,1353.4 263.7,1353.4 264.0,1353.4 264.2,1353.4 264.4,1353.4 264.6,1353.5 264.8,1353.5 265.1,1353.5 265.3,1353.5 265.5,1353.5 265.7,1353.5 265.9,1353.5 266.1,1353.5 266.4,1353.5 266.6,1353.5 266.8,1353.6 267.0,1353.6 267.2,1353.6 267.5,1353.6 267.7,1353.6 267.9,1353.6 268.1,1353.6 268.3,1353.6 268.5,1353.6 268.8,1353.6 269.0,1353.7 269.2,1353.7 269.4,1353.7 269.6,1353.7 269.9,1353.7 270.1,1353.7 270.3,1353.7 270.5,1353.7 270.7,1353.7 270.9,1353.7 271.2,1353.8 271.4,1353.8 271.6,1353.8 271.8,1353.8 272.0,1353.8 272.3,1353.8 272.5,1353.8 272.7,1353.8 272.9,1353.8 273.1,1353.8 273.3,1353.9 273.6,1353.9 273.8,1353.9 274.0,1353.9 274.2,1353.9 274.4,1353.9 274.7,1353.9 274.9,1353.9 275.1,1353.9 275.3,1353.9 275.5,1354.0 275.7,1354.0 276.0,1354.0 276.2,1354.0 276.4,1354.0 276.6,1354.0 276.8,1354.0 277.1,1354.0 277.3,1354.0 277.5,1354.0 277.7,1354.1 277.9,1354.1 278.1,1354.1 278.4,1354.1 278.6,1354.1 278.8,1354.1 279.0,1354.1 279.2,1354.1 279.5,1354.1 279.7,1354.1 279.9,1354.2 280.1,1354.2 280.3,1354.2 280.5,1354.2 280.8,1354.2 281.0,1354.2 281.2,1354.2 281.4,1354.2 281.6,1354.2 281.9,1354.2 282.1,1354.2 282.3,1354.3 282.5,1354.3 282.7,1354.3 282.9,1354.3 283.2,1354.3 283.4,1354.3 283.6,1354.3 283.8,1354.3 284.0,1354.3 284.3,1354.3 284.5,1354.4 284.7,1354.4 284.9,1354.4 285.1,1354.4 285.3,1354.4 285.6,1354.4 285.8,1354.4 286.0,1354.4 286.2,1354.4 286.4,1354.4 286.7,1354.5 286.9,1354.5 287.1,1354.5 287.3,1354.5 287.5,1354.5 287.7,1354.5 288.0,1354.5 288.2,1354.5 288.4,1354.5 288.6,1354.5 288.8,1354.6 289.1,1354.6 289.3,1354.6 289.5,1354.6 289.7,1354.6 289.9,1354.6 290.1,1354.6 290.4,1354.6 290.6,1354.6 290.8,1354.6 291.0,1354.7 291.2,1354.7 291.5,1354.7 291.7,1354.7 291.9,1354.7 292.1,1354.7 292.3,1354.7 292.5,1354.7 292.8,1354.7 293.0,1354.7 293.2,1354.8 293.4,1354.8 293.6,1354.8 293.9,1354.8 294.1,1354.8 294.3,1354.8 294.5,1354.8 294.7,1354.8 294.9,1354.8 295.2,1354.8 295.4,1354.9 295.6,1354.9 295.8,1354.9 296.0,1354.9 296.3,1354.9 296.5,1354.9 296.7,1354.9 296.9,1354.9 297.1,1354.9 297.3,1354.9 297.6,1355.0 297.8,1355.0 298.0,1355.0 298.2,1355.0 298.4,1355.0 298.7,1355.0 298.9,1355.0 299.1,1355.0 299.3,1355.1 299.5,1355.1 299.7,1355.1 300.0,1355.1 300.2,1355.1 300.4,1355.1 300.6,1355.1 300.8,1355.2 301.1,1355.2 301.3,1355.2 301.5,1355.2 301.7,1355.2 301.9,1355.2 302.1,1355.2 302.4,1355.3 302.6,1355.3 302.8,1355.3 303.0,1355.3 303.2,1355.3 303.5,1355.3 303.7,1355.3 303.9,1355.4 304.1,1355.4 304.3,1355.4 304.5,1355.4 304.8,1355.4 305.0,1355.4 305.2,1355.4 305.4,1355.5 305.6,1355.5 305.9,1355.5 306.1,1355.5 306.3,1355.5 306.5,1355.5 306.7,1355.5 306.9,1355.6 307.2,1355.6 307.4,1355.6 307.6,1355.6 307.8,1355.6 308.0,1355.6 308.3,1355.6 308.5,1355.7 308.7,1355.7 308.9,1355.7 309.1,1355.7 309.3,1355.7 309.6,1355.7 309.8,1355.7 310.0,1355.7 310.2,1355.8 310.4,1355.8 310.7,1355.8 310.9,1355.8 311.1,1355.8 311.3,1355.8 311.5,1355.8 311.7,1355.9 312.0,1355.9 312.2,1355.9 312.4,1355.9 312.6,1355.9 312.8,1355.9 313.1,1355.9 313.3,1356.0 313.5,1356.0 313.7,1356.0 313.9,1356.0 314.1,1356.0 314.4,1356.0 314.6,1356.0 314.8,1356.1 315.0,1356.1 315.2,1356.1 315.5,1356.1 315.7,1356.1 315.9,1356.1 316.1,1356.1 316.3,1356.2 316.5,1356.2 316.8,1356.2 317.0,1356.2 317.2,1356.2 317.4,1356.2 317.6,1356.2 317.9,1356.3 318.1,1356.3 318.3,1356.3 318.5,1356.3 318.7,1356.3 318.9,1356.3 319.2,1356.3 319.4,1356.4 319.6,1356.4 319.8,1356.4 320.0,1356.4 320.3,1356.4 320.5,1356.4 320.7,1356.4 320.9,1356.5 321.1,1356.5 321.3,1356.5 321.6,1356.5 321.8,1356.5 322.0,1356.5 322.2,1356.5 322.4,1356.5 322.7,1356.6 322.9,1356.6 323.1,1356.6 323.3,1356.6 323.5,1356.6 323.7,1356.6 324.0,1356.6 324.2,1356.7 324.4,1356.7 324.6,1356.7 324.8,1356.7 325.1,1356.7 325.3,1356.7 325.5,1356.7 325.7,1356.8 325.9,1356.8 326.1,1356.8 326.4,1356.8 326.6,1356.8 326.8,1356.8 327.0,1356.8 327.2,1356.9 327.5,1356.9 327.7,1356.9 327.9,1356.9 328.1,1356.9 328.3,1356.9 328.5,1356.9 328.8,1357.0 329.0,1357.0 329.2,1357.0 329.4,1357.0 329.6,1357.0 329.9,1357.0 330.1,1357.0 330.3,1357.0 330.5,1357.1 330.7,1357.1 330.9,1357.1 331.2,1357.1 331.4,1357.1 331.6,1357.1 331.8,1357.1 332.0,1357.2 332.3,1357.2 332.5,1357.2 332.7,1357.2 332.9,1357.2 333.1,1357.2 333.3,1357.2 333.6,1357.3 333.8,1357.3 334.0,1357.3 334.2,1357.3 334.4,1357.3 334.7,1357.3 334.9,1357.3 335.1,1357.4 335.3,1357.4 335.5,1357.4 335.7,1357.4 336.0,1357.4 336.2,1357.4 336.4,1357.4 336.6,1357.4 336.8,1357.5 337.1,1357.5 337.3,1357.5 337.5,1357.5 337.7,1357.5 337.9,1357.5 338.1,1357.5 338.4,1357.6 338.6,1357.6 338.8,1357.6 339.0,1357.6 339.2,1357.6 339.5,1357.6 339.7,1357.6 339.9,1357.7 340.1,1357.7 340.3,1357.7 340.5,1357.7 340.8,1357.7 341.0,1357.7 341.2,1357.7 341.4,1357.7 341.6,1357.8 341.9,1357.8 342.1,1357.8 342.3,1357.8 342.5,1357.8 342.7,1357.8 342.9,1357.8 343.2,1357.9 343.4,1357.9 343.6,1357.9 343.8,1357.9 344.0,1357.9 344.3,1357.9 344.5,1357.9 344.7,1357.9 344.9,1358.0 345.1,1358.0 345.3,1358.0 345.6,1358.0 345.8,1358.0 346.0,1358.0 346.2,1358.0 346.4,1358.0 346.7,1358.1 346.9,1358.1 347.1,1358.1 347.3,1358.1 347.5,1358.1 347.7,1358.1 348.0,1358.1 348.2,1358.2 348.4,1358.2 348.6,1358.2 348.8,1358.2 349.1,1358.2 349.3,1358.2 349.5,1358.2 349.7,1358.2 349.9,1358.3 350.1,1358.3 350.4,1358.3 350.6,1358.3 350.8,1358.3 351.0,1358.3 351.2,1358.3 351.5,1358.3 351.7,1358.4 351.9,1358.4 352.1,1358.4 352.3,1358.4 352.5,1358.4 352.8,1358.4 353.0,1358.4 353.2,1358.4 353.4,1358.5 353.6,1358.5 353.9,1358.5 354.1,1358.5 354.3,1358.5 354.5,1358.5 354.7,1358.5 355.0,1358.5 355.2,1358.6 355.4,1358.6 355.6,1358.6 355.8,1358.6 356.0,1358.6 356.3,1358.6 356.5,1358.6 356.7,1358.6 356.9,1358.6 357.1,1358.7 357.4,1358.7 357.6,1358.7 357.8,1358.7 358.0,1358.7 358.2,1358.7 358.4,1358.7 358.7,1358.7 358.9,1358.7 359.1,1358.8 359.3,1358.8 359.5,1358.8 359.8,1358.8 360.0,1358.8 360.2,1358.8 360.4,1358.8 360.6,1358.8 360.8,1358.8 361.1,1358.9 361.3,1358.9 361.5,1358.9 361.7,1358.9 361.9,1358.9 362.2,1358.9 362.4,1358.9 362.6,1358.9 362.8,1358.9 363.0,1358.9 363.2,1358.9 363.5,1359.0 363.7,1359.0 363.9,1359.0 364.1,1359.0 364.3,1359.0 364.6,1359.0 364.8,1359.0 365.0,1359.0 365.2,1359.0 365.4,1359.0 365.6,1359.0 365.9,1359.0 366.1,1359.1 366.3,1359.1 366.5,1359.1 366.7,1359.1 367.0,1359.1 367.2,1359.1 367.4,1359.1 367.6,1359.1 367.8,1359.1 368.0,1359.1 368.3,1359.1 368.5,1359.1 368.7,1359.1 368.9,1359.1 369.1,1359.1 369.4,1359.1 369.6,1359.1 369.8,1359.1 370.0,1359.1 370.2,1359.1 370.4,1359.1 370.7,1359.1 370.9,1359.1 371.1,1359.1 371.3,1359.1 371.5,1359.1 371.8,1359.1 372.0,1359.1 372.2,1359.1 372.4,1359.1 372.6,1359.1 372.8,1359.1 373.1,1359.1 373.3,1359.1 373.5,1359.1 373.7,1359.1 373.9,1359.1 374.2,1359.1 374.4,1359.0 374.6,1359.0 374.8,1359.0 375.0,1359.0 375.2,1359.0 375.5,1359.0 375.7,1359.0 375.9,1359.0 376.1,1358.9 376.3,1358.9 376.6,1358.9 376.8,1358.9 377.0,1358.9 377.2,1358.8 377.4,1358.8 377.6,1358.8 377.9,1358.7 378.1,1358.7 378.3,1358.6 378.5,1358.6 378.7,1358.5 379.0,1358.5 379.2,1358.4 379.4,1358.4 379.6,1358.3 379.8,1358.2 380.0,1358.1 380.3,1358.0 380.5,1358.0 380.7,1357.8 380.9,1357.7 381.1,1357.6 381.4,1357.5 381.6,1357.3 381.8,1357.2 382.0,1357.0 382.2,1356.8 382.4,1356.6 382.7,1356.4 382.9,1356.1 383.1,1355.8 383.3,1355.5 383.5,1355.2 383.8,1354.8 384.0,1354.4 384.2,1353.9 384.4,1353.4 384.6,1352.7 384.8,1351.9 385.1,1351.0 385.3,1349.8 385.5,1348.2 385.7,1346.1 385.9,1343.3 386.2,1339.4 386.4,1334.2 386.6,1327.2 386.8,1317.9 387.0,1305.9 387.2,1290.7 387.5,1272.0 387.7,1249.7 387.9,1224.0 388.1,1195.3 388.3,1164.7 388.6,1133.5 388.8,1103.5 389.0,1076.8 389.2,1055.5 389.4,1041.8 389.6,1037.0 389.9,1041.8 390.1,1055.6 390.3,1076.9 390.5,1103.7 390.7,1133.7 391.0,1165.0 391.2,1195.6 391.4,1224.3 391.6,1250.1 391.8,1272.4 392.0,1291.1 392.3,1306.4 392.5,1318.4 392.7,1327.8 392.9,1334.8 393.1,1340.1 393.4,1344.0 393.6,1346.8 393.8,1349.0 394.0,1350.6 394.2,1351.8 394.4,1352.8 394.7,1353.6 394.9,1354.3 395.1,1354.9 395.3,1355.4 395.5,1355.9 395.8,1356.3 396.0,1356.7 396.2,1357.0 396.4,1357.4 396.6,1357.7 396.8,1357.9 397.1,1358.2 397.3,1358.4 397.5,1358.6 397.7,1358.8 397.9,1359.0 398.2,1359.2 398.4,1359.3 398.6,1359.5 398.8,1359.6 399.0,1359.8 399.2,1359.9 399.5,1360.0 399.7,1360.1 399.9,1360.2 400.1,1360.3 400.3,1360.4 400.6,1360.5 400.8,1360.6 401.0,1360.7 401.2,1360.8 401.4,1360.9 401.6,1361.0 401.9,1361.0 402.1,1361.1 402.3,1361.2 402.5,1361.2 402.7,1361.3 403.0,1361.4 403.2,1361.4 403.4,1361.5 403.6,1361.5 403.8,1361.6 404.0,1361.6 404.3,1361.7 404.5,1361.7 404.7,1361.8 404.9,1361.8 405.1,1361.9 405.4,1361.9 405.6,1362.0 405.8,1362.0 406.0,1362.1 406.2,1362.1 406.4,1362.1 406.7,1362.2 406.9,1362.2 407.1,1362.3 407.3,1362.3 407.5,1362.3 407.8,1362.3 408.0,1362.3 408.2,1362.3 408.4,1362.3 408.6,1362.3 408.8,1362.3 409.1,1362.3 409.3,1362.3 409.5,1362.3 409.7,1362.3 409.9,1362.3 410.2,1362.3 410.4,1362.3 410.6,1362.3 410.8,1362.3 411.0,1362.3 411.2,1362.3 411.5,1362.3 411.7,1362.3 411.9,1362.3 412.1,1362.3 412.3,1362.3 412.6,1362.3 412.8,1362.3 413.0,1362.2 413.2,1362.2 413.4,1362.2 413.6,1362.2 413.9,1362.2 414.1,1362.2 414.3,1362.2 414.5,1362.2 414.7,1362.2 415.0,1362.2 415.2,1362.2 415.4,1362.2 415.6,1362.2 415.8,1362.2 416.0,1362.2 416.3,1362.2 416.5,1362.1 416.7,1362.1 416.9,1362.1 417.1,1362.1 417.4,1362.1 417.6,1362.1 417.8,1362.1 418.0,1362.1 418.2,1362.1 418.4,1362.1 418.7,1362.1 418.9,1362.1 419.1,1362.0 419.3,1362.0 419.5,1362.0 419.8,1362.0 420.0,1362.0 420.2,1362.0 420.4,1362.0 420.6,1362.0 420.8,1362.0 421.1,1362.0 421.3,1362.0 421.5,1361.9 421.7,1361.9 421.9,1361.9 422.2,1361.9 422.4,1361.9 422.6,1361.9 422.8,1361.9 423.0,1361.9 423.2,1361.9 423.5,1361.9 423.7,1361.9 423.9,1361.8 424.1,1361.8 424.3,1361.8 424.6,1361.8 424.8,1361.8 425.0,1361.8 425.2,1361.8 425.4,1361.8 425.6,1361.8 425.9,1361.7 426.1,1361.7 426.3,1361.7 426.5,1361.7 426.7,1361.7 427.0,1361.7 427.2,1361.7 427.4,1361.7 427.6,1361.7 427.8,1361.7 428.0,1361.6 428.3,1361.6 428.5,1361.6 428.7,1361.6 428.9,1361.6 429.1,1361.6 429.4,1361.6 429.6,1361.6 429.8,1361.6 430.0,1361.5 430.2,1361.5 430.4,1361.5 430.7,1361.5 430.9,1361.5 431.1,1361.5 431.3,1361.5 431.5,1361.5 431.8,1361.5 432.0,1361.4 432.2,1361.4 432.4,1361.4 432.6,1361.4 432.8,1361.4 433.1,1361.4 433.3,1361.4 433.5,1361.4 433.7,1361.4 433.9,1361.3 434.2,1361.3 434.4,1361.3 434.6,1361.3 434.8,1361.3 435.0,1361.3 435.2,1361.3 435.5,1361.3 435.7,1361.3 435.9,1361.2 436.1,1361.2 436.3,1361.2 436.6,1361.2 436.8,1361.2 437.0,1361.2 437.2,1361.2 437.4,1361.2 437.6,1361.1 437.9,1361.1 438.1,1361.1 438.3,1361.1 438.5,1361.1 438.7,1361.1 439.0,1361.1 439.2,1361.1 439.4,1361.1 439.6,1361.0 439.8,1361.0 440.0,1361.0 440.3,1361.0 440.5,1361.0 440.7,1361.0 440.9,1361.0 441.1,1361.0 441.4,1360.9 441.6,1360.9 441.8,1360.9 442.0,1360.9 442.2,1360.9 442.4,1360.9 442.7,1360.9 442.9,1360.9 443.1,1360.9 443.3,1360.8 443.5,1360.8 443.8,1360.8 444.0,1360.8 444.2,1360.8 444.4,1360.8 444.6,1360.8 444.8,1360.8 445.1,1360.7 445.3,1360.7 445.5,1360.7 445.7,1360.7 445.9,1360.7 446.2,1360.7 446.4,1360.7 446.6,1360.7 446.8,1360.7 447.0,1360.6 447.2,1360.6 447.5,1360.6 447.7,1360.6 447.9,1360.6 448.1,1360.6 448.3,1360.6 448.6,1360.6 448.8,1360.5 449.0,1360.5 449.2,1360.5 449.4,1360.5 449.6,1360.5 449.9,1360.5 450.1,1360.5 450.3,1360.5 450.5,1360.4 450.7,1360.4 451.0,1360.4 451.2,1360.4 451.4,1360.4 451.6,1360.4 451.8,1360.4 452.0,1360.4 452.3,1360.3 452.5,1360.3 452.7,1360.3 452.9,1360.3 453.1,1360.3 453.4,1360.3 453.6,1360.3 453.8,1360.3 454.0,1360.3 454.2,1360.2 454.4,1360.2 454.7,1360.2 454.9,1360.2 455.1,1360.2 455.3,1360.2 455.5,1360.2 455.8,1360.2 456.0,1360.1 456.2,1360.1 456.4,1360.1 456.6,1360.1 456.8,1360.1 457.1,1360.1 457.3,1360.1 457.5,1360.1 457.7,1360.0 457.9,1360.0 458.2,1360.0 458.4,1360.0 458.6,1360.0 458.8,1360.0 459.0,1360.0 459.2,1360.0 459.5,1359.9 459.7,1359.9 459.9,1359.9 460.1,1359.9 460.3,1359.9 460.6,1359.9 460.8,1359.9 461.0,1359.9 461.2,1359.8 461.4,1359.8 461.6,1359.8 461.9,1359.8 462.1,1359.8 462.3,1359.8 462.5,1359.8 462.7,1359.8 463.0,1359.8 463.2,1359.7 463.4,1359.7 463.6,1359.7 463.8,1359.7 464.1,1359.7 464.3,1359.7 464.5,1359.7 464.7,1359.7 464.9,1359.6 465.1,1359.6 465.4,1359.6 465.6,1359.6 465.8,1359.6 466.0,1359.6 466.2,1359.6 466.5,1359.6 466.7,1359.5 466.9,1359.5 467.1,1359.5 467.3,1359.5 467.5,1359.5 467.8,1359.5 468.0,1359.5 468.2,1359.5 468.4,1359.4 468.6,1359.4 468.9,1359.4 469.1,1359.4 469.3,1359.4 469.5,1359.4 469.7,1359.4 469.9,1359.4 470.2,1359.3 470.4,1359.3 470.6,1359.3 470.8,1359.3 471.0,1359.3 471.3,1359.3 471.5,1359.3 471.7,1359.3 471.9,1359.2 472.1,1359.2 472.3,1359.2 472.6,1359.2 472.8,1359.2 473.0,1359.2 473.2,1359.2 473.4,1359.2 473.7,1359.1 473.9,1359.1 474.1,1359.1 474.3,1359.1 474.5,1359.1 474.7,1359.1 475.0,1359.1 475.2,1359.1 475.4,1359.0 475.6,1359.0 475.8,1359.0 476.1,1359.0 476.3,1359.0 476.5,1359.0 476.7,1359.0 476.9,1359.0 477.1,1358.9 477.4,1358.9 477.6,1358.9 477.8,1358.9 478.0,1358.9 478.2,1358.9 478.5,1358.9 478.7,1358.9 478.9,1358.8 479.1,1358.8 479.3,1358.8 479.5,1358.8 479.8,1358.8 480.0,1358.8 480.2,1358.8 480.4,1358.8 480.6,1358.7 480.9,1358.7 481.1,1358.7 481.3,1358.7 481.5,1358.7 481.7,1358.7 481.9,1358.7 482.2,1358.7 482.4,1358.6 482.6,1358.6 482.8,1358.6 483.0,1358.6 483.3,1358.6 483.5,1358.6 483.7,1358.6 483.9,1358.6 484.1,1358.5 484.3,1358.5 484.6,1358.5 484.8,1358.5 485.0,1358.5 485.2,1358.5 485.4,1358.5 485.7,1358.5 485.9,1358.4 486.1,1358.4 486.3,1358.4 486.5,1358.4 486.7,1358.4 487.0,1358.4 487.2,1358.4 487.4,1358.4 487.6,1358.3 487.8,1358.3 488.1,1358.3 488.3,1358.3 488.5,1358.3 488.7,1358.3 488.9,1358.3 489.1,1358.3 489.4,1358.2 489.6,1358.2 489.8,1358.2 490.0,1358.2 490.2,1358.2 490.5,1358.2 490.7,1358.2 490.9,1358.2 491.1,1358.1 491.3,1358.1 491.5,1358.1 491.8,1358.1 492.0,1358.1 492.2,1358.1 492.4,1358.1 492.6,1358.1 492.9,1358.0 493.1,1358.0 493.3,1358.0 493.5,1358.0 493.7,1358.0 493.9,1358.0 494.2,1358.0 494.4,1358.0 494.6,1357.9 494.8,1357.9 495.0,1357.9 495.3,1357.9 495.5,1357.9 495.7,1357.9 495.9,1357.8 496.1,1357.8 496.3,1357.8 496.6,1357.8 496.8,1357.8 497.0,1357.8 497.2,1357.7 497.4,1357.7 497.7,1357.7 497.9,1357.7 498.1,1357.7 498.3,1357.7 498.5,1357.6 498.7,1357.6 499.0,1357.6 499.2,1357.6 499.4,1357.6 499.6,1357.5 499.8,1357.5 500.1,1357.5 500.3,1357.5 500.5,1357.5 500.7,1357.5 500.9,1357.4 501.1,1357.4 501.4,1357.4 501.6,1357.4 501.8,1357.4 502.0,1357.4 502.2,1357.3 502.5,1357.3 502.7,1357.3 502.9,1357.3 503.1,1357.3 503.3,1357.3 503.5,1357.2 503.8,1357.2 504.0,1357.2 504.2,1357.2 504.4,1357.2 504.6,1357.1 504.9,1357.1 505.1,1357.1 505.3,1357.1 505.5,1357.1 505.7,1357.1 505.9,1357.0 506.2,1357.0 506.4,1357.0 506.6,1357.0 506.8,1357.0 507.0,1356.9 507.3,1356.9 507.5,1356.9 507.7,1356.9 507.9,1356.9 508.1,1356.8 508.3,1356.8 508.6,1356.8 508.8,1356.8 509.0,1356.8 509.2,1356.7 509.4,1356.7 509.7,1356.7 509.9,1356.7 510.1,1356.6 510.3,1356.6 510.5,1356.6 510.7,1356.6 511.0,1356.5 511.2,1356.5 511.4,1356.5 511.6,1356.5 511.8,1356.4 512.1,1356.4 512.3,1356.4 512.5,1356.3 512.7,1356.3 512.9,1356.3 513.1,1356.2 513.4,1356.2 513.6,1356.1 513.8,1356.1 514.0,1356.0 514.2,1355.9 514.5,1355.8 514.7,1355.7 514.9,1355.6 515.1,1355.4 515.3,1355.1 515.5,1354.8 515.8,1354.3 516.0,1353.6 516.2,1352.7 516.4,1351.5 516.6,1350.1 516.9,1348.5 517.1,1346.6 517.3,1344.6 517.5,1342.7 517.7,1340.8 517.9,1339.3 518.2,1338.3 518.4,1338.0 518.6,1338.3 518.8,1339.3 519.0,1340.7 519.3,1342.5 519.5,1344.5 519.7,1346.4 519.9,1348.2 520.1,1349.9 520.3,1351.2 520.6,1352.3 520.8,1353.2 521.0,1353.9 521.2,1354.3 521.4,1354.7 521.7,1354.9 521.9,1355.1 522.1,1355.2 522.3,1355.2 522.5,1355.3 522.7,1355.3 523.0,1355.4 523.2,1355.4 523.4,1355.4 523.6,1355.4 523.8,1355.4 524.1,1355.4 524.3,1355.4 524.5,1355.4 524.7,1355.4 524.9,1355.4 525.1,1355.4 525.4,1355.4 525.6,1355.4 525.8,1355.4 526.0,1355.4 526.2,1355.4 526.5,1355.4 526.7,1355.4 526.9,1355.4 527.1,1355.4 527.3,1355.3 527.5,1355.3 527.8,1355.3 528.0,1355.3 528.2,1355.3 528.4,1355.3 528.6,1355.3 528.9,1355.3 529.1,1355.2 529.3,1355.2 529.5,1355.2 529.7,1355.2 529.9,1355.2 530.2,1355.2 530.4,1355.2 530.6,1355.1 530.8,1355.1 531.0,1355.1 531.3,1355.1 531.5,1355.1 531.7,1355.1 531.9,1355.1 532.1,1355.0 532.3,1355.0 532.6,1355.0 532.8,1355.0 533.0,1355.0 533.2,1355.0 533.4,1355.0 533.7,1354.9 533.9,1354.9 534.1,1354.9 534.3,1354.9 534.5,1354.9 534.7,1354.9 535.0,1354.8 535.2,1354.8 535.4,1354.8 535.6,1354.8 535.8,1354.8 536.1,1354.8 536.3,1354.7 536.5,1354.7 536.7,1354.7 536.9,1354.7 537.1,1354.7 537.4,1354.7 537.6,1354.7 537.8,1354.6 538.0,1354.6 538.2,1354.6 538.5,1354.6 538.7,1354.6 538.9,1354.6 539.1,1354.5 539.3,1354.5 539.5,1354.5 539.8,1354.5 540.0,1354.5 540.2,1354.5 540.4,1354.4 540.6,1354.4 540.9,1354.4 541.1,1354.4 541.3,1354.4 541.5,1354.4 541.7,1354.3 541.9,1354.3 542.2,1354.3 542.4,1354.3 542.6,1354.3 542.8,1354.3 543.0,1354.2 543.3,1354.2 543.5,1354.2 543.7,1354.2 543.9,1354.2 544.1,1354.2 544.3,1354.1 544.6,1354.1 544.8,1354.1 545.0,1354.1 545.2,1354.1 545.4,1354.1 545.7,1354.0 545.9,1354.0 546.1,1354.0 546.3,1354.0 546.5,1354.0 546.7,1354.0 547.0,1354.0 547.2,1353.9 547.4,1353.9 547.6,1353.9 547.8,1353.9 548.1,1353.9 548.3,1353.9 548.5,1353.8 548.7,1353.8 548.9,1353.8 549.1,1353.8 549.4,1353.8 549.6,1353.8 549.8,1353.7 550.0,1353.7 550.2,1353.7 550.5,1353.7 550.7,1353.7 550.9,1353.7 551.1,1353.6 551.3,1353.6 551.5,1353.6 551.8,1353.6 552.0,1353.6 552.2,1353.6 552.4,1353.5 552.6,1353.5 552.9,1353.5 553.1,1353.5 553.3,1353.5 553.5,1353.5 553.7,1353.4 553.9,1353.4 554.2,1353.4 554.4,1353.4 554.6,1353.4 554.8,1353.4 555.0,1353.3 555.3,1353.3 555.5,1353.3 555.7,1353.3 555.9,1353.3 556.1,1353.3 556.3,1353.2 556.6,1353.2 556.8,1353.2 557.0,1353.2 557.2,1353.2 557.4,1353.2 557.7,1353.1 557.9,1353.1 558.1,1353.1 558.3,1353.1 558.5,1353.1 558.7,1353.1 559.0,1353.0 559.2,1353.0 559.4,1353.0 559.6,1353.0 559.8,1353.0 560.1,1353.0 560.3,1353.0 560.5,1353.0 560.7,1353.0 560.9,1353.0 561.1,1353.0 561.4,1353.0 561.6,1353.0 561.8,1352.9 562.0,1352.9 562.2,1352.9 562.5,1352.9 562.7,1352.9 562.9,1352.9 563.1,1352.9 563.3,1352.9 563.5,1352.9 563.8,1352.9 564.0,1352.9 564.2,1352.9 564.4,1352.9 564.6,1352.9 564.9,1352.9 565.1,1352.9 565.3,1352.9 565.5,1352.9 565.7,1352.9 565.9,1352.9 566.2,1352.9 566.4,1352.9 566.6,1352.9 566.8,1352.9 567.0,1352.9 567.3,1352.9 567.5,1352.9 567.7,1352.9 567.9,1352.9 568.1,1352.9 568.3,1352.9 568.6,1352.9 568.8,1352.9 569.0,1352.9 569.2,1352.9 569.4,1352.9 569.7,1352.9 569.9,1352.9 570.1,1352.9 570.3,1352.9 570.5,1352.9 570.8,1352.9 571.0,1352.9 571.2,1352.9 571.4,1352.8 571.6,1352.8 571.8,1352.8 572.1,1352.8 572.3,1352.8 572.5,1352.8 572.7,1352.8 572.9,1352.8 573.2,1352.8 573.4,1352.8 573.6,1352.8 573.8,1352.8 574.0,1352.8 574.2,1352.8 574.5,1352.8 574.7,1352.8 574.9,1352.8 575.1,1352.8 575.3,1352.8 575.6,1352.8 575.8,1352.8 576.0,1352.8 576.2,1352.8 576.4,1352.8 576.6,1352.8 576.9,1352.8 577.1,1352.8 577.3,1352.8 577.5,1352.8 577.7,1352.8 578.0,1352.8 578.2,1352.8 578.4,1352.8 578.6,1352.7 578.8,1352.7 579.0,1352.7 579.3,1352.7 579.5,1352.7 579.7,1352.7 579.9,1352.7 580.1,1352.7 580.4,1352.7 580.6,1352.7 580.8,1352.7 581.0,1352.7 581.2,1352.7 581.4,1352.7 581.7,1352.7 581.9,1352.7 582.1,1352.7 582.3,1352.7 582.5,1352.7 582.8,1352.7 583.0,1352.6 583.2,1352.6 583.4,1352.6 583.6,1352.6 583.8,1352.6 584.1,1352.6 584.3,1352.6 584.5,1352.6 584.7,1352.6 584.9,1352.6 585.2,1352.5 585.4,1352.5 585.6,1352.5 585.8,1352.5 586.0,1352.5 586.2,1352.5 586.5,1352.4 586.7,1352.4 586.9,1352.4 587.1,1352.4 587.3,1352.3 587.6,1352.3 587.8,1352.3 588.0,1352.2 588.2,1352.2 588.4,1352.1 588.6,1352.0 588.9,1351.9 589.1,1351.8 589.3,1351.6 589.5,1351.3 589.7,1350.9 590.0,1350.3 590.2,1349.5 590.4,1348.5 590.6,1347.3 590.8,1345.7 591.0,1343.8 591.3,1341.7 591.5,1339.5 591.7,1337.2 591.9,1335.2 592.1,1333.5 592.4,1332.4 592.6,1332.0 592.8,1332.4 593.0,1333.5 593.2,1335.2 593.4,1337.2 593.7,1339.4 593.9,1341.7 594.1,1343.8 594.3,1345.6 594.5,1347.2 594.8,1348.5 595.0,1349.5 595.2,1350.3 595.4,1350.8 595.6,1351.2 595.8,1351.5 596.1,1351.7 596.3,1351.8 596.5,1351.9 596.7,1352.0 596.9,1352.1 597.2,1352.1 597.4,1352.2 597.6,1352.2 597.8,1352.2 598.0,1352.3 598.2,1352.3 598.5,1352.3 598.7,1352.3 598.9,1352.3 599.1,1352.3 599.3,1352.4 599.6,1352.4 599.8,1352.4 600.0,1352.4 600.2,1352.4 600.4,1352.4 600.6,1352.4 600.9,1352.4 601.1,1352.4 601.3,1352.4 601.5,1352.4 601.7,1352.4 602.0,1352.4 602.2,1352.4 602.4,1352.4 602.6,1352.4 602.8,1352.4 603.0,1352.4 603.3,1352.4 603.5,1352.4 603.7,1352.4 603.9,1352.4 604.1,1352.4 604.4,1352.4 604.6,1352.4 604.8,1352.4 605.0,1352.4 605.2,1352.4 605.4,1352.4 605.7,1352.4 605.9,1352.4 606.1,1352.4 606.3,1352.4 606.5,1352.4 606.8,1352.4 607.0,1352.4 607.2,1352.4 607.4,1352.4 607.6,1352.4 607.8,1352.4 608.1,1352.4 608.3,1352.4 608.5,1352.3 608.7,1352.3 608.9,1352.3 609.2,1352.3 609.4,1352.3 609.6,1352.3 609.8,1352.3 610.0,1352.3 610.2,1352.2 610.5,1352.2 610.7,1352.2 610.9,1352.2 611.1,1352.2 611.3,1352.1 611.6,1352.1 611.8,1352.1 612.0,1352.0 612.2,1352.0 612.4,1351.9 612.6,1351.9 612.9,1351.8 613.1,1351.6 613.3,1351.5 613.5,1351.2 613.7,1350.8 614.0,1350.3 614.2,1349.7 614.4,1348.8 614.6,1347.6 614.8,1346.2 615.0,1344.5 615.3,1342.7 615.5,1340.7 615.7,1338.7 615.9,1336.8 616.1,1335.3 616.4,1334.3 616.6,1334.0 616.8,1334.3 617.0,1335.3 617.2,1336.8 617.4,1338.6 617.7,1340.6 617.9,1342.6 618.1,1344.5 618.3,1346.2 618.5,1347.6 618.8,1348.7 619.0,1349.6 619.2,1350.3 619.4,1350.8 619.6,1351.2 619.8,1351.4 620.1,1351.6 620.3,1351.7 620.5,1351.8 620.7,1351.9 620.9,1351.9 621.2,1352.0 621.4,1352.0 621.6,1352.0 621.8,1352.1 622.0,1352.1 622.2,1352.1 622.5,1352.1 622.7,1352.1 622.9,1352.2 623.1,1352.2 623.3,1352.2 623.6,1352.2 623.8,1352.2 624.0,1352.2 624.2,1352.2 624.4,1352.2 624.6,1352.2 624.9,1352.2 625.1,1352.2 625.3,1352.2 625.5,1352.2 625.7,1352.2 626.0,1352.3 626.2,1352.3 626.4,1352.3 626.6,1352.3 626.8,1352.3 627.0,1352.3 627.3,1352.3 627.5,1352.3 627.7,1352.3 627.9,1352.3 628.1,1352.3 628.4,1352.3 628.6,1352.3 628.8,1352.3 629.0,1352.3 629.2,1352.3 629.4,1352.3 629.7,1352.3 629.9,1352.3 630.1,1352.3 630.3,1352.3 630.5,1352.3 630.8,1352.3 631.0,1352.3 631.2,1352.3 631.4,1352.3 631.6,1352.3 631.8,1352.3 632.1,1352.3 632.3,1352.3 632.5,1352.3 632.7,1352.3 632.9,1352.3 633.2,1352.3 633.4,1352.3 633.6,1352.3 633.8,1352.3 634.0,1352.3 634.2,1352.3 634.5,1352.3 634.7,1352.3 634.9,1352.3 635.1,1352.3 635.3,1352.2 635.6,1352.2 635.8,1352.2 636.0,1352.2 636.2,1352.2 636.4,1352.2 636.6,1352.2 636.9,1352.2 637.1,1352.2 637.3,1352.2 637.5,1352.2 637.7,1352.2 638.0,1352.2 638.2,1352.2 638.4,1352.2 638.6,1352.2 638.8,1352.2 639.0,1352.2 639.3,1352.2 639.5,1352.2 639.7,1352.2 639.9,1352.2 640.1,1352.2 640.4,1352.2 640.6,1352.2 640.8,1352.2 641.0,1352.2 641.2,1352.2 641.4,1352.2 641.7,1352.2 641.9,1352.2 642.1,1352.2 642.3,1352.2 642.5,1352.2 642.8,1352.2 643.0,1352.2 643.2,1352.2 643.4,1352.2 643.6,1352.2 643.8,1352.2 644.1,1352.2 644.3,1352.2 644.5,1352.2 644.7,1352.2 644.9,1352.2 645.2,1352.2 645.4,1352.2 645.6,1352.2 645.8,1352.2 646.0,1352.2 646.2,1352.2 646.5,1352.2 646.7,1352.2 646.9,1352.2 647.1,1352.2 647.3,1352.2 647.6,1352.1 647.8,1352.1 648.0,1352.1 648.2,1352.1 648.4,1352.1 648.6,1352.1 648.9,1352.1 649.1,1352.1 649.3,1352.1 649.5,1352.1 649.7,1352.1 650.0,1352.1 650.2,1352.1 650.4,1352.1 650.6,1352.1 650.8,1352.1 651.0,1352.1 651.3,1352.1 651.5,1352.1 651.7,1352.1 651.9,1352.1 652.1,1352.1 652.4,1352.1 652.6,1352.1 652.8,1352.1 653.0,1352.1 653.2,1352.1 653.4,1352.1 653.7,1352.1 653.9,1352.1 654.1,1352.1 654.3,1352.1 654.5,1352.1 654.8,1352.1 655.0,1352.1 655.2,1352.1 655.4,1352.1 655.6,1352.1 655.8,1352.1 656.1,1352.1 656.3,1352.1 656.5,1352.1 656.7,1352.1 656.9,1352.1 657.2,1352.1 657.4,1352.1 657.6,1352.0 657.8,1352.0 658.0,1352.0 658.2,1352.0 658.5,1352.0 658.7,1352.0 658.9,1352.0 659.1,1352.0 659.3,1352.0 659.6,1352.0 659.8,1352.0 660.0,1352.0 660.2,1352.0 660.4,1352.0 660.6,1352.0 660.9,1352.0 661.1,1352.0 661.3,1352.0 661.5,1352.0 661.7,1352.0 662.0,1352.0 662.2,1352.0 662.4,1352.0 662.6,1352.0 662.8,1352.0 663.0,1352.0 663.3,1352.0 663.5,1352.0 663.7,1352.0 663.9,1352.0 664.1,1352.0 664.4,1352.0 664.6,1352.0 664.8,1352.0 665.0,1352.0 665.2,1352.0 665.4,1352.0 665.7,1352.0 665.9,1352.0 666.1,1352.0 666.3,1351.9 666.5,1351.9 666.8,1351.9 667.0,1351.9 667.2,1351.9 667.4,1351.9 667.6,1351.9 667.8,1351.9 668.1,1351.9 668.3,1351.9 668.5,1351.9 668.7,1351.9 668.9,1351.9 669.2,1351.9 669.4,1351.9 669.6,1351.9 669.8,1352.0 670.0,1352.0 670.2,1352.0 670.5,1352.0 670.7,1352.0 670.9,1352.0 671.1,1352.0 671.3,1352.0 671.6,1352.0 671.8,1352.0 672.0,1352.0 672.2,1352.1 672.4,1352.1 672.6,1352.1 672.9,1352.1 673.1,1352.1 673.3,1352.1 673.5,1352.1 673.7,1352.1 674.0,1352.1 674.2,1352.1 674.4,1352.1 674.6,1352.1 674.8,1352.2 675.0,1352.2 675.3,1352.2 675.5,1352.2 675.7,1352.2 675.9,1352.2 676.1,1352.2 676.4,1352.2 676.6,1352.2 676.8,1352.2 677.0,1352.2 677.2,1352.2 677.4,1352.3 677.7,1352.3 677.9,1352.3 678.1,1352.3 678.3,1352.3 678.5,1352.3 678.8,1352.3 679.0,1352.3 679.2,1352.3 679.4,1352.3 679.6,1352.3 679.9,1352.3 680.1,1352.3 680.3,1352.4 680.5,1352.4 680.7,1352.4 680.9,1352.4 681.2,1352.4 681.4,1352.4 681.6,1352.4 681.8,1352.4 682.0,1352.4 682.3,1352.4 682.5,1352.4 682.7,1352.4 682.9,1352.4 683.1,1352.4 683.3,1352.4 683.6,1352.4 683.8,1352.5 684.0,1352.5 684.2,1352.5 684.4,1352.5 684.7,1352.5 684.9,1352.5 685.1,1352.5 685.3,1352.5 685.5,1352.5 685.7,1352.5 686.0,1352.5 686.2,1352.5 686.4,1352.5 686.6,1352.5 686.8,1352.5 687.1,1352.5 687.3,1352.5 687.5,1352.5 687.7,1352.5 687.9,1352.5 688.1,1352.5 688.4,1352.5 688.6,1352.5 688.8,1352.5 689.0,1352.5 689.2,1352.5 689.5,1352.5 689.7,1352.5 689.9,1352.5 690.1,1352.5 690.3,1352.5 690.5,1352.5 690.8,1352.5 691.0,1352.5 691.2,1352.5 691.4,1352.5 691.6,1352.5 691.9,1352.4 692.1,1352.4 692.3,1352.4 692.5,1352.4 692.7,1352.4 692.9,1352.4 693.2,1352.4 693.4,1352.3 693.6,1352.3 693.8,1352.3 694.0,1352.3 694.3,1352.2 694.5,1352.2 694.7,1352.2 694.9,1352.1 695.1,1352.1 695.3,1352.0 695.6,1352.0 695.8,1351.9 696.0,1351.9 696.2,1351.8 696.4,1351.7 696.7,1351.7 696.9,1351.6 697.1,1351.5 697.3,1351.4 697.5,1351.3 697.7,1351.1 698.0,1351.0 698.2,1350.8 698.4,1350.7 698.6,1350.4 698.8,1350.2 699.1,1349.9 699.3,1349.5 699.5,1349.1 699.7,1348.5 699.9,1347.7 700.1,1346.6 700.4,1345.1 700.6,1343.1 700.8,1340.4 701.0,1336.9 701.2,1332.2 701.5,1326.4 701.7,1319.2 701.9,1310.7 702.1,1300.8 702.3,1289.8 702.5,1278.0 702.8,1266.1 703.0,1254.5 703.2,1244.3 703.4,1236.1 703.6,1230.8 703.9,1229.0 704.1,1230.8 704.3,1236.1 704.5,1244.3 704.7,1254.6 704.9,1266.2 705.2,1278.2 705.4,1289.9 705.6,1300.9 705.8,1310.8 706.0,1319.4 706.3,1326.6 706.5,1332.5 706.7,1337.1 706.9,1340.7 707.1,1343.4 707.3,1345.4 707.6,1346.9 707.8,1348.0 708.0,1348.9 708.2,1349.5 708.4,1350.0 708.7,1350.3 708.9,1350.7 709.1,1350.9 709.3,1351.2 709.5,1351.4 709.7,1351.5 710.0,1351.7 710.2,1351.9 710.4,1352.0 710.6,1352.1 710.8,1352.2 711.1,1352.3 711.3,1352.4 711.5,1352.5 711.7,1352.6 711.9,1352.7 712.1,1352.8 712.4,1352.8 712.6,1352.9 712.8,1352.9 713.0,1353.0 713.2,1353.1 713.5,1353.1 713.7,1353.2 713.9,1353.2 714.1,1353.3 714.3,1353.3 714.5,1353.3 714.8,1353.4 715.0,1353.4 715.2,1353.4 715.4,1353.5 715.6,1353.5 715.9,1353.5 716.1,1353.6 716.3,1353.6 716.5,1353.6 716.7,1353.7 716.9,1353.7 717.2,1353.7 717.4,1353.7 717.6,1353.8 717.8,1353.8 718.0,1353.8 718.3,1353.8 718.5,1353.9 718.7,1353.9 718.9,1353.9 719.1,1353.9 719.3,1353.9 719.6,1354.0 719.8,1354.0 720.0,1354.0 720.2,1354.0 720.4,1354.0 720.7,1354.1 720.9,1354.1 721.1,1354.1 721.3,1354.1 721.5,1354.1 721.7,1354.1 722.0,1354.2 722.2,1354.2 722.4,1354.2 722.6,1354.2 722.8,1354.2 723.1,1354.2 723.3,1354.2 723.5,1354.3 723.7,1354.3 723.9,1354.3 724.1,1354.3 724.4,1354.3 724.6,1354.3 724.8,1354.3 725.0,1354.4 725.2,1354.4 725.5,1354.4 725.7,1354.4 725.9,1354.4 726.1,1354.4 726.3,1354.4 726.5,1354.5 726.8,1354.5 727.0,1354.5 727.2,1354.5 727.4,1354.5 727.6,1354.5 727.9,1354.5 728.1,1354.5 728.3,1354.6 728.5,1354.6 728.7,1354.6 728.9,1354.6 729.2,1354.6 729.4,1354.6 729.6,1354.6 729.8,1354.6 730.0,1354.7 730.3,1354.7 730.5,1354.7 730.7,1354.7 730.9,1354.7 731.1,1354.7 731.3,1354.7 731.6,1354.7 731.8,1354.7 732.0,1354.8 732.2,1354.8 732.4,1354.8 732.7,1354.8 732.9,1354.8 733.1,1354.8 733.3,1354.8 733.5,1354.8 733.7,1354.9 734.0,1354.9 734.2,1354.9 734.4,1354.9 734.6,1354.9 734.8,1354.9 735.1,1354.9 735.3,1354.9 735.5,1355.0 735.7,1355.0 735.9,1355.0 736.1,1355.0 736.4,1355.0 736.6,1355.0 736.8,1355.0 737.0,1355.0 737.2,1355.1 737.5,1355.1 737.7,1355.1 737.9,1355.1 738.1,1355.1 738.3,1355.1 738.5,1355.1 738.8,1355.1 739.0,1355.2 739.2,1355.2 739.4,1355.2 739.6,1355.2 739.9,1355.2 740.1,1355.2 740.3,1355.2 740.5,1355.2 740.7,1355.3 740.9,1355.3 741.2,1355.3 741.4,1355.3 741.6,1355.3 741.8,1355.3 742.0,1355.3 742.3,1355.3 742.5,1355.4 742.7,1355.4 742.9,1355.4 743.1,1355.4 743.3,1355.4 743.6,1355.4 743.8,1355.4 744.0,1355.4 744.2,1355.5 744.4,1355.5 744.7,1355.5 744.9,1355.5 745.1,1355.5 745.3,1355.5 745.5,1355.5 745.7,1355.5 746.0,1355.6 746.2,1355.6 746.4,1355.6 746.6,1355.6 746.8,1355.6 747.1,1355.6 747.3,1355.6 747.5,1355.6 747.7,1355.6 747.9,1355.7 748.1,1355.7 748.4,1355.7 748.6,1355.7 748.8,1355.7 749.0,1355.7 749.2,1355.7 749.5,1355.7 749.7,1355.8 749.9,1355.8 750.1,1355.8 750.3,1355.8 750.5,1355.8 750.8,1355.8 751.0,1355.8 751.2,1355.8 751.4,1355.8 751.6,1355.9 751.9,1355.9 752.1,1355.9 752.3,1355.9 752.5,1355.9 752.7,1355.9 752.9,1355.9 753.2,1355.9 753.4,1356.0 753.6,1356.0 753.8,1356.0 754.0,1356.0 754.3,1356.0 754.5,1356.0 754.7,1356.0 754.9,1356.0 755.1,1356.0 755.3,1356.1 755.6,1356.1 755.8,1356.1 756.0,1356.1 756.2,1356.1 756.4,1356.1 756.7,1356.1 756.9,1356.1 757.1,1356.1 757.3,1356.1 757.5,1356.2 757.7,1356.2 758.0,1356.2 758.2,1356.2 758.4,1356.2 758.6,1356.2 758.8,1356.2 759.1,1356.2 759.3,1356.2 759.5,1356.3 759.7,1356.3 759.9,1356.3 760.1,1356.3 760.4,1356.3 760.6,1356.3 760.8,1356.3 761.0,1356.3 761.2,1356.3 761.5,1356.3 761.7,1356.3 761.9,1356.4 762.1,1356.4 762.3,1356.4 762.5,1356.4 762.8,1356.4 763.0,1356.4 763.2,1356.4 763.4,1356.4 763.6,1356.4 763.9,1356.4 764.1,1356.4 764.3,1356.4 764.5,1356.4 764.7,1356.5 764.9,1356.5 765.2,1356.5 765.4,1356.5 765.6,1356.5 765.8,1356.5 766.0,1356.5 766.3,1356.5 766.5,1356.5 766.7,1356.5 766.9,1356.5 767.1,1356.5 767.3,1356.5 767.6,1356.5 767.8,1356.5 768.0,1356.5 768.2,1356.5 768.4,1356.5 768.7,1356.5 768.9,1356.5 769.1,1356.5 769.3,1356.5 769.5,1356.5 769.7,1356.5 770.0,1356.4 770.2,1356.4 770.4,1356.4 770.6,1356.4 770.8,1356.4 771.1,1356.3 771.3,1356.3 771.5,1356.3 771.7,1356.2 771.9,1356.2 772.1,1356.2 772.4,1356.1 772.6,1356.0 772.8,1356.0 773.0,1355.9 773.2,1355.8 773.5,1355.7 773.7,1355.5 773.9,1355.4 774.1,1355.1 774.3,1354.8 774.5,1354.4 774.8,1353.8 775.0,1353.0 775.2,1351.8 775.4,1350.2 775.6,1347.9 775.9,1344.9 776.1,1341.2 776.3,1336.5 776.5,1331.0 776.7,1324.8 776.9,1318.1 777.2,1311.5 777.4,1305.4 777.6,1300.4 777.8,1297.1 778.0,1296.0 778.3,1297.1 778.5,1300.5 778.7,1305.5 778.9,1311.6 779.1,1318.3 779.3,1324.9 779.6,1331.1 779.8,1336.7 780.0,1341.4 780.2,1345.2 780.4,1348.2 780.7,1350.5 780.9,1352.1 781.1,1353.3 781.3,1354.2 781.5,1354.8 781.7,1355.3 782.0,1355.6 782.2,1355.8 782.4,1356.0 782.6,1356.2 782.8,1356.3 783.1,1356.4 783.3,1356.5 783.5,1356.6 783.7,1356.7 783.9,1356.8 784.1,1356.9 784.4,1356.9 784.6,1357.0 784.8,1357.1 785.0,1357.1 785.2,1357.2 785.5,1357.2 785.7,1357.3 785.9,1357.3 786.1,1357.3 786.3,1357.4 786.5,1357.4 786.8,1357.4 787.0,1357.5 787.2,1357.5 787.4,1357.5 787.6,1357.6 787.9,1357.6 788.1,1357.6 788.3,1357.6 788.5,1357.7 788.7,1357.7 789.0,1357.7 789.2,1357.7 789.4,1357.8 789.6,1357.8 789.8,1357.8 790.0,1357.8 790.3,1357.8 790.5,1357.9 790.7,1357.9 790.9,1357.9 791.1,1357.9 791.4,1357.9 791.6,1357.9 791.8,1358.0 792.0,1358.0 792.2,1358.0 792.4,1358.0 792.7,1358.0 792.9,1358.1 793.1,1358.1 793.3,1358.1 793.5,1358.1 793.8,1358.1 794.0,1358.1 794.2,1358.1 794.4,1358.2 794.6,1358.2 794.8,1358.2 795.1,1358.2 795.3,1358.2 795.5,1358.2 795.7,1358.3 795.9,1358.3 796.2,1358.3 796.4,1358.3 796.6,1358.3 796.8,1358.3 797.0,1358.3 797.2,1358.4 797.5,1358.4 797.7,1358.4 797.9,1358.4 798.1,1358.4 798.3,1358.4 798.6,1358.4 798.8,1358.4 799.0,1358.5 799.2,1358.5 799.4,1358.5 799.6,1358.5 799.9,1358.5 800.1,1358.5 800.3,1358.5 800.5,1358.6 800.7,1358.6 801.0,1358.6 801.2,1358.6 801.4,1358.6 801.6,1358.6 801.8,1358.6 802.0,1358.6 802.3,1358.7 802.5,1358.7 802.7,1358.7 802.9,1358.7 803.1,1358.7 803.4,1358.7 803.6,1358.7 803.8,1358.8 804.0,1358.8 804.2,1358.8 804.4,1358.8 804.7,1358.8 804.9,1358.8 805.1,1358.8 805.3,1358.8 805.5,1358.9 805.8,1358.9 806.0,1358.9 806.2,1358.9 806.4,1358.9 806.6,1358.9 806.8,1358.9 807.1,1358.9 807.3,1359.0 807.5,1359.0 807.7,1359.0 807.9,1359.0 808.2,1359.0 808.4,1359.0 808.6,1359.0 808.8,1359.0 809.0,1359.1 809.2,1359.1 809.5,1359.1 809.7,1359.1 809.9,1359.1 810.1,1359.1 810.3,1359.1 810.6,1359.1 810.8,1359.2 811.0,1359.2 811.2,1359.2 811.4,1359.2 811.6,1359.2 811.9,1359.2 812.1,1359.2 812.3,1359.2 812.5,1359.3 812.7,1359.3 813.0,1359.3 813.2,1359.3 813.4,1359.3 813.6,1359.3 813.8,1359.3 814.0,1359.3 814.3,1359.4 814.5,1359.4 814.7,1359.4 814.9,1359.4 815.1,1359.4 815.4,1359.4 815.6,1359.4 815.8,1359.4 816.0,1359.4 816.2,1359.5 816.4,1359.5 816.7,1359.5 816.9,1359.5 817.1,1359.5 817.3,1359.5 817.5,1359.5 817.8,1359.5 818.0,1359.6 818.2,1359.6 818.4,1359.6 818.6,1359.6 818.8,1359.6 819.1,1359.6 819.3,1359.6 819.5,1359.6 819.7,1359.7 819.9,1359.7 820.2,1359.7 820.4,1359.7 820.6,1359.7 820.8,1359.7 821.0,1359.7 821.2,1359.7 821.5,1359.8 821.7,1359.8 821.9,1359.8 822.1,1359.8 822.3,1359.8 822.6,1359.8 822.8,1359.8 823.0,1359.8 823.2,1359.8 823.4,1359.9 823.6,1359.9 823.9,1359.9 824.1,1359.9 824.3,1359.9 824.5,1359.9 824.7,1359.9 825.0,1359.9 825.2,1360.0 825.4,1360.0 825.6,1360.0 825.8,1360.0 826.0,1360.0 826.3,1360.0 826.5,1360.0 826.7,1360.0 826.9,1360.0 827.1,1360.1 827.4,1360.1 827.6,1360.1 827.8,1360.1 828.0,1360.1 828.2,1360.1 828.4,1360.1 828.7,1360.1 828.9,1360.2 829.1,1360.2 829.3,1360.2 829.5,1360.2 829.8,1360.2 830.0,1360.2 830.2,1360.2 830.4,1360.2 830.6,1360.2 830.8,1360.3 831.1,1360.3 831.3,1360.3 831.5,1360.3 831.7,1360.3 831.9,1360.3 832.2,1360.3 832.4,1360.3 832.6,1360.3 832.8,1360.4 833.0,1360.4 833.2,1360.4 833.5,1360.4 833.7,1360.4 833.9,1360.4 834.1,1360.4 834.3,1360.4 834.6,1360.4 834.8,1360.5 835.0,1360.5 835.2,1360.5 835.4,1360.5 835.6,1360.5 835.9,1360.5 836.1,1360.5 836.3,1360.5 836.5,1360.5 836.7,1360.5 837.0,1360.5 837.2,1360.6 837.4,1360.6 837.6,1360.6 837.8,1360.6 838.0,1360.6 838.3,1360.6 838.5,1360.6 838.7,1360.6 838.9,1360.6 839.1,1360.6 839.4,1360.6 839.6,1360.6 839.8,1360.6 840.0,1360.6 840.2,1360.6 840.4,1360.6 840.7,1360.6 840.9,1360.6 841.1,1360.6 841.3,1360.6 841.5,1360.6 841.8,1360.5 842.0,1360.5 842.2,1360.4 842.4,1360.3 842.6,1360.2 842.8,1360.0 843.1,1359.7 843.3,1359.3 843.5,1358.8 843.7,1358.1 843.9,1357.2 844.2,1356.3 844.4,1355.1 844.6,1353.9 844.8,1352.8 845.0,1351.7 845.2,1350.8 845.5,1350.2 845.7,1350.0 845.9,1350.2 846.1,1350.8 846.3,1351.7 846.6,1352.9 846.8,1354.1 847.0,1355.3 847.2,1356.4 847.4,1357.5 847.6,1358.3 847.9,1359.0 848.1,1359.6 848.3,1360.0 848.5,1360.3 848.7,1360.5 849.0,1360.7 849.2,1360.8 849.4,1360.9 849.6,1361.0 849.8,1361.0 850.0,1361.1 850.3,1361.1 850.5,1361.2 850.7,1361.2 850.9,1361.2 851.1,1361.3 851.4,1361.3 851.6,1361.3 851.8,1361.3 852.0,1361.4 852.2,1361.4 852.4,1361.4 852.7,1361.4 852.9,1361.4 853.1,1361.5 853.3,1361.5 853.5,1361.5 853.8,1361.5 854.0,1361.5 854.2,1361.6 854.4,1361.6 854.6,1361.6 854.8,1361.6 855.1,1361.6 855.3,1361.6 855.5,1361.7 855.7,1361.7 855.9,1361.7 856.2,1361.7 856.4,1361.7 856.6,1361.7 856.8,1361.8 857.0,1361.8 857.2,1361.8 857.5,1361.8 857.7,1361.8 857.9,1361.8 858.1,1361.8 858.3,1361.9 858.6,1361.9 858.8,1361.9 859.0,1361.9 859.2,1361.9 859.4,1361.9 859.6,1361.9 859.9,1362.0 860.1,1362.0 860.3,1362.0 860.5,1362.0 860.7,1362.0 861.0,1362.0 861.2,1362.0 861.4,1362.1 861.6,1362.1 861.8,1362.1 862.0,1362.1 862.3,1362.1 862.5,1362.1 862.7,1362.1 862.9,1362.2 863.1,1362.2 863.4,1362.2 863.6,1362.2 863.8,1362.2 864.0,1362.2 864.2,1362.2 864.4,1362.3 864.7,1362.3 864.9,1362.3 865.1,1362.3 865.3,1362.3 865.5,1362.3 865.8,1362.3 866.0,1362.3 866.2,1362.4 866.4,1362.4 866.6,1362.4 866.8,1362.4 867.1,1362.4 867.3,1362.4 867.5,1362.4 867.7,1362.5 867.9,1362.5 868.2,1362.5 868.4,1362.5 868.6,1362.5 868.8,1362.5 869.0,1362.5 869.2,1362.6 869.5,1362.6 869.7,1362.6 869.9,1362.6 870.1,1362.6 870.3,1362.6 870.6,1362.6 870.8,1362.6 871.0,1362.7 871.2,1362.7 871.4,1362.7 871.6,1362.7 871.9,1362.7 872.1,1362.7 872.3,1362.7 872.5,1362.8 872.7,1362.8 873.0,1362.8 873.2,1362.8 873.4,1362.8 873.6,1362.8 873.8,1362.8 874.0,1362.8 874.3,1362.9 874.5,1362.9 874.7,1362.9 874.9,1362.9 875.1,1362.9 875.4,1362.9 875.6,1362.9 875.8,1363.0 876.0,1363.0 876.2,1363.0 876.4,1363.0 876.7,1363.0 876.9,1363.0 877.1,1363.0 877.3,1363.1 877.5,1363.1 877.8,1363.1 878.0,1363.1 878.2,1363.1 878.4,1363.1 878.6,1363.1 878.8,1363.1 879.1,1363.2 879.3,1363.2 879.5,1363.2 879.7,1363.2 879.9,1363.2 880.2,1363.2 880.4,1363.2 880.6,1363.3 880.8,1363.3 881.0,1363.3 881.2,1363.3 881.5,1363.3 881.7,1363.3 881.9,1363.3 882.1,1363.3 882.3,1363.4 882.6,1363.4 882.8,1363.4 883.0,1363.4 883.2,1363.4 883.4,1363.4 883.6,1363.4 883.9,1363.5 884.1,1363.5 884.3,1363.5 884.5,1363.5 884.7,1363.5 885.0,1363.5 885.2,1363.5 885.4,1363.5 885.6,1363.6 885.8,1363.6 886.0,1363.6 886.3,1363.6 886.5,1363.6 886.7,1363.6 886.9,1363.6 887.1,1363.7 887.4,1363.7 887.6,1363.7 887.8,1363.7 888.0,1363.7 888.2,1363.7 888.4,1363.7 888.7,1363.7 888.9,1363.8 889.1,1363.8 889.3,1363.8 889.5,1363.8 889.8,1363.8 890.0,1363.8 890.2,1363.8 890.4,1363.9 890.6,1363.9 890.8,1363.9 891.1,1363.9 891.3,1363.9 891.5,1363.9 891.7,1363.9 891.9,1363.9 892.2,1364.0 892.4,1364.0 892.6,1364.0 892.8,1364.0 893.0,1364.0 893.2,1364.0 893.5,1364.0 893.7,1364.1 893.9,1364.1 894.1,1364.1 894.3,1364.1 894.6,1364.1 894.8,1364.1 895.0,1364.1 895.2,1364.1 895.4,1364.2 895.6,1364.2 895.9,1364.2 896.1,1364.2 896.3,1364.2 896.5,1364.2 896.7,1364.2 897.0,1364.3 897.2,1364.3 897.4,1364.3 897.6,1364.3 897.8,1364.3 898.1,1364.3 898.3,1364.3 898.5,1364.3 898.7,1364.4 898.9,1364.4 899.1,1364.4 899.4,1364.4 899.6,1364.4 899.8,1364.4 900.0,1364.4 900.2,1364.5 900.5,1364.5 900.7,1364.5 900.9,1364.5 901.1,1364.5 901.3,1364.5 901.5,1364.5 901.8,1364.5 902.0,1364.6 902.2,1364.6 902.4,1364.6 902.6,1364.6 902.9,1364.6 903.1,1364.6 903.3,1364.6 903.5,1364.7 903.7,1364.7 903.9,1364.7 904.2,1364.7 904.4,1364.7 904.6,1364.7 904.8,1364.7 905.0,1364.7 905.3,1364.8 905.5,1364.8 905.7,1364.8 905.9,1364.8 906.1,1364.8 906.3,1364.8 906.6,1364.8 906.8,1364.9 907.0,1364.9 907.2,1364.9 907.4,1364.9 907.7,1364.9 907.9,1364.9 908.1,1364.9 908.3,1364.9 908.5,1365.0 908.7,1365.0 909.0,1365.0 909.2,1365.0 909.4,1365.0 909.6,1365.0 909.8,1365.0 910.1,1365.0 910.3,1365.0 910.5,1365.0 910.7,1365.0 910.9,1365.0 911.1,1365.0 911.4,1365.0 911.6,1365.0 911.8,1365.0 912.0,1365.0 912.2,1365.0 912.5,1365.0 912.7,1365.0 912.9,1365.0 913.1,1365.0 913.3,1365.0 913.5,1365.0 913.8,1365.0 914.0,1365.0 914.2,1365.0 914.4,1365.0 914.6,1365.0 914.9,1365.0 915.1,1365.0 915.3,1365.0 915.5,1365.0 915.7,1365.0 915.9,1365.0 916.2,1365.0 916.4,1365.0 916.6,1365.0 916.8,1365.0 917.0,1365.0 917.3,1365.0 917.5,1365.0 917.7,1365.0 917.9,1365.0 918.1,1365.0 918.3,1365.0 918.6,1365.1 918.8,1365.1 919.0,1365.1 919.2,1365.1 919.4,1365.1 919.7,1365.1 919.9,1365.1 920.1,1365.1 920.3,1365.1 920.5,1365.1 920.7,1365.1 921.0,1365.1 921.2,1365.1 921.4,1365.1 921.6,1365.1 921.8,1365.1 922.1,1365.1 922.3,1365.1 922.5,1365.1 922.7,1365.1 922.9,1365.1 923.1,1365.1 923.4,1365.1 923.6,1365.1 923.8,1365.1 924.0,1365.1 924.2,1365.1 924.5,1365.1 924.7,1365.1 924.9,1365.1 925.1,1365.1 925.3,1365.1 925.5,1365.1 925.8,1365.1 926.0,1365.1 926.2,1365.1 926.4,1365.1 926.6,1365.1 926.9,1365.1 927.1,1365.1 927.3,1365.1 927.5,1365.1 927.7,1365.1 927.9,1365.1 928.2,1365.1 928.4,1365.1 928.6,1365.1 928.8,1365.1 929.0,1365.1 929.3,1365.1 929.5,1365.1 929.7,1365.1 929.9,1365.1 930.1,1365.1 930.3,1365.1 930.6,1365.1 930.8,1365.1 931.0,1365.1 931.2,1365.1 931.4,1365.1 931.7,1365.1 931.9,1365.1 932.1,1365.1 932.3,1365.1 932.5,1365.1 932.7,1365.1 933.0,1365.1 933.2,1365.1 933.4,1365.1 933.6,1365.1 933.8,1365.1 934.1,1365.1 934.3,1365.1 934.5,1365.2 934.7,1365.2 934.9,1365.2 935.1,1365.2 935.4,1365.2 935.6,1365.2 935.8,1365.2 936.0,1365.2 936.2,1365.2 936.5,1365.2 936.7,1365.2 936.9,1365.2 937.1,1365.2 937.3,1365.2 937.5,1365.2 937.8,1365.2 938.0,1365.2 938.2,1365.2 938.4,1365.2 938.6,1365.2 938.9,1365.2 939.1,1365.2 939.3,1365.2 939.5,1365.2 939.7,1365.2 939.9,1365.2 940.2,1365.2 940.4,1365.2 940.6,1365.2 940.8,1365.2 941.0,1365.2 941.3,1365.2 941.5,1365.2 941.7,1365.2 941.9,1365.2 942.1,1365.2 942.3,1365.2 942.6,1365.2 942.8,1365.2 943.0,1365.2 943.2,1365.2 943.4,1365.2 943.7,1365.2 943.9,1365.2 944.1,1365.2 944.3,1365.2 944.5,1365.2 944.7,1365.2 945.0,1365.2 945.2,1365.2 945.4,1365.2 945.6,1365.2 945.8,1365.2 946.1,1365.2 946.3,1365.2 946.5,1365.2 946.7,1365.2 946.9,1365.2 947.1,1365.2 947.4,1365.2 947.6,1365.2 947.8,1365.2 948.0,1365.2 948.2,1365.2 948.5,1365.2 948.7,1365.2 948.9,1365.2 949.1,1365.2 949.3,1365.2 949.5,1365.2 949.8,1365.2 950.0,1365.2 950.2,1365.2 950.4,1365.2 950.6,1365.2 950.9,1365.2 951.1,1365.2 951.3,1365.2 951.5,1365.2 951.7,1365.2 951.9,1365.2 952.2,1365.2 952.4,1365.2 952.6,1365.2 952.8,1365.2 953.0,1365.2 953.3,1365.2 953.5,1365.2 953.7,1365.2 953.9,1365.2 954.1,1365.2 954.3,1365.2 954.6,1365.2 954.8,1365.2 955.0,1365.2 955.2,1365.2 955.4,1365.2 955.7,1365.2 955.9,1365.2 956.1,1365.2 956.3,1365.2 956.5,1365.2 956.7,1365.2 957.0,1365.2 957.2,1365.2 957.4,1365.2 957.6,1365.2 957.8,1365.2 958.1,1365.2 958.3,1365.2 958.5,1365.2 958.7,1365.2 958.9,1365.2 959.1,1365.2 959.4,1365.2 959.6,1365.2 959.8,1365.2 960.0,1365.2 960.2,1365.2 960.5,1365.2 960.7,1365.2 960.9,1365.2 961.1,1365.2 961.3,1365.2 961.5,1365.2 961.8,1365.1 962.0,1365.1 962.2,1365.1 962.4,1365.1 962.6,1365.1 962.9,1365.1 963.1,1365.1 963.3,1365.1 963.5,1365.1 963.7,1365.0 963.9,1365.0 964.2,1365.0 964.4,1365.0 964.6,1364.9 964.8,1364.9 965.0,1364.9 965.3,1364.8 965.5,1364.8 965.7,1364.7 965.9,1364.6 966.1,1364.5 966.3,1364.3 966.6,1364.1 966.8,1363.8 967.0,1363.3 967.2,1362.8 967.4,1362.1 967.7,1361.2 967.9,1360.0 968.1,1358.7 968.3,1357.2 968.5,1355.5 968.7,1353.6 969.0,1351.8 969.2,1350.0 969.4,1348.4 969.6,1347.1 969.8,1346.3 970.1,1346.0 970.3,1346.3 970.5,1347.1 970.7,1348.4 970.9,1350.0 971.1,1351.8 971.4,1353.6 971.6,1355.5 971.8,1357.2 972.0,1358.7 972.2,1360.1 972.5,1361.2 972.7,1362.1 972.9,1362.8 973.1,1363.4 973.3,1363.8 973.5,1364.1 973.8,1364.4 974.0,1364.5 974.2,1364.7 974.4,1364.7 974.6,1364.8 974.9,1364.9 975.1,1364.9 975.3,1365.0 975.5,1365.0 975.7,1365.0 975.9,1365.1 976.2,1365.1 976.4,1365.1 976.6,1365.1 976.8,1365.2 977.0,1365.2 977.3,1365.2 977.5,1365.2 977.7,1365.2 977.9,1365.2 978.1,1365.2 978.3,1365.3 978.6,1365.3 978.8,1365.3 979.0,1365.3 979.2,1365.3 979.4,1365.3 979.7,1365.3 979.9,1365.3 980.1,1365.3 980.3,1365.3 980.5,1365.3 980.7,1365.3 981.0,1365.4 981.2,1365.4 981.4,1365.4 981.6,1365.4 981.8,1365.4 982.1,1365.4 982.3,1365.4 982.5,1365.4 982.7,1365.4 982.9,1365.4 983.1,1365.4 983.4,1365.4 983.6,1365.4 983.8,1365.4 984.0,1365.4 984.2,1365.4 984.5,1365.4 984.7,1365.4 984.9,1365.4 985.1,1365.4 985.3,1365.4 985.5,1365.4 985.8,1365.4 986.0,1365.4 986.2,1365.4 986.4,1365.4 986.6,1365.4 986.9,1365.5 987.1,1365.5 987.3,1365.5 987.5,1365.5 987.7,1365.5 987.9,1365.5 988.2,1365.5 988.4,1365.5 988.6,1365.5 988.8,1365.5 989.0,1365.5 989.3,1365.5 989.5,1365.5 989.7,1365.5 989.9,1365.5 990.1,1365.5 990.3,1365.5 990.6,1365.5 990.8,1365.5 991.0,1365.5 991.2,1365.5 991.4,1365.5 991.7,1365.5 991.9,1365.5 992.1,1365.5 992.3,1365.5 992.5,1365.5 992.7,1365.5 993.0,1365.5 993.2,1365.5 993.4,1365.5 993.6,1365.5 993.8,1365.5 994.1,1365.5 994.3,1365.5 994.5,1365.5 994.7,1365.5 994.9,1365.5 995.1,1365.5 995.4,1365.5 995.6,1365.5 995.8,1365.5 996.0,1365.5 996.2,1365.5 996.5,1365.5 996.7,1365.5 996.9,1365.5 997.1,1365.5 997.3,1365.5 997.5,1365.5 997.8,1365.5 998.0,1365.5 998.2,1365.5 998.4,1365.5 998.6,1365.5 998.9,1365.5 999.1,1365.6 999.3,1365.6 999.5,1365.6 999.7,1365.6 999.9,1365.6 1000.2,1365.6 1000.4,1365.6 1000.6,1365.6 1000.8,1365.6 1001.0,1365.6 1001.3,1365.6 1001.5,1365.6 1001.7,1365.6 1001.9,1365.6 1002.1,1365.6 1002.3,1365.6 1002.6,1365.6 1002.8,1365.6 1003.0,1365.6 1003.2,1365.6 1003.4,1365.6 1003.7,1365.6 1003.9,1365.6 1004.1,1365.6 1004.3,1365.6 1004.5,1365.6 1004.7,1365.6 1005.0,1365.6 1005.2,1365.6 1005.4,1365.6 1005.6,1365.6 1005.8,1365.6 1006.1,1365.6 1006.3,1365.6 1006.5,1365.6 1006.7,1365.6 1006.9,1365.6 1007.2,1365.6 1007.4,1365.6 1007.6,1365.6 1007.8,1365.6 1008.0,1365.6 1008.2,1365.6 1008.5,1365.6 1008.7,1365.6 1008.9,1365.6 1009.1,1365.6 1009.3,1365.6 1009.6,1365.6 1009.8,1365.6 1010.0,1365.6 1010.2,1365.6 1010.4,1365.6 1010.6,1365.6 1010.9,1365.6 1011.1,1365.6 1011.3,1365.6 1011.5,1365.6 1011.7,1365.6 1012.0,1365.6 1012.2,1365.6 1012.4,1365.6 1012.6,1365.6 1012.8,1365.6 1013.0,1365.6 1013.3,1365.6 1013.5,1365.6 1013.7,1365.6 1013.9,1365.6 1014.1,1365.6 1014.4,1365.6 1014.6,1365.6 1014.8,1365.6 1015.0,1365.5 1015.2,1365.5 1015.4,1365.5 1015.7,1365.5 1015.9,1365.5 1016.1,1365.5 1016.3,1365.5 1016.5,1365.5 1016.8,1365.5 1017.0,1365.5 1017.2,1365.5 1017.4,1365.5 1017.6,1365.5 1017.8,1365.4 1018.1,1365.4 1018.3,1365.4 1018.5,1365.4 1018.7,1365.4 1018.9,1365.3 1019.2,1365.3 1019.4,1365.3 1019.6,1365.2 1019.8,1365.2 1020.0,1365.1 1020.2,1365.0 1020.5,1364.8 1020.7,1364.7 1020.9,1364.4 1021.1,1364.1 1021.3,1363.8 1021.6,1363.3 1021.8,1362.8 1022.0,1362.1 1022.2,1361.4 1022.4,1360.5 1022.6,1359.5 1022.9,1358.4 1023.1,1357.3 1023.3,1356.2 1023.5,1355.1 1023.7,1354.1 1024.0,1353.2 1024.2,1352.6 1024.4,1352.1 1024.6,1352.0 1024.8,1352.1 1025.0,1352.6 1025.3,1353.2 1025.5,1354.1 1025.7,1355.1 1025.9,1356.2 1026.1,1357.4 1026.4,1358.5 1026.6,1359.5 1026.8,1360.5 1027.0,1361.4 1027.2,1362.2 1027.4,1362.8 1027.7,1363.4 1027.9,1363.8 1028.1,1364.2 1028.3,1364.5 1028.5,1364.7 1028.8,1364.9 1029.0,1365.0 1029.2,1365.1 1029.4,1365.2 1029.6,1365.3 1029.8,1365.3 1030.1,1365.4 1030.3,1365.4 1030.5,1365.4 1030.7,1365.5 1030.9,1365.5 1031.2,1365.5 1031.4,1365.5 1031.6,1365.5 1031.8,1365.6 1032.0,1365.6 1032.2,1365.6 1032.5,1365.6 1032.7,1365.6 1032.9,1365.6 1033.1,1365.6 1033.3,1365.6 1033.6,1365.7 1033.8,1365.7 1034.0,1365.7 1034.2,1365.7 1034.4,1365.7 1034.6,1365.7 1034.9,1365.7 1035.1,1365.7 1035.3,1365.7 1035.5,1365.7 1035.7,1365.7 1036.0,1365.7 1036.2,1365.7 1036.4,1365.7 1036.6,1365.7 1036.8,1365.7 1037.0,1365.7 1037.3,1365.8 1037.5,1365.8 1037.7,1365.8 1037.9,1365.8 1038.1,1365.8 1038.4,1365.8 1038.6,1365.8 1038.8,1365.8 1039.0,1365.8 1039.2,1365.8 1039.4,1365.8 1039.7,1365.8 1039.9,1365.8 1040.1,1365.8 1040.3,1365.8 1040.5,1365.8 1040.8,1365.8 1041.0,1365.8 1041.2,1365.8 1041.4,1365.8 1041.6,1365.8 1041.8,1365.8 1042.1,1365.8 1042.3,1365.8 1042.5,1365.8 1042.7,1365.8 1042.9,1365.8 1043.2,1365.8 1043.4,1365.8 1043.6,1365.8 1043.8,1365.8 1044.0,1365.8 1044.2,1365.8 1044.5,1365.8 1044.7,1365.9 1044.9,1365.9 1045.1,1365.9 1045.3,1365.9 1045.6,1365.9 1045.8,1365.9 1046.0,1365.9 1046.2,1365.9 1046.4,1365.9 1046.6,1365.9 1046.9,1365.9 1047.1,1365.9 1047.3,1365.9 1047.5,1365.9 1047.7,1365.9 1048.0,1365.9 1048.2,1365.9 1048.4,1365.9 1048.6,1365.9 1048.8,1365.9 1049.0,1365.9 1049.3,1365.9 1049.5,1365.9 1049.7,1365.9 1049.9,1365.9 1050.1,1365.9 1050.4,1365.9 1050.6,1365.9 1050.8,1365.9 1051.0,1365.9 1051.2,1365.9 1051.4,1365.9 1051.7,1365.9 1051.9,1365.9 1052.1,1365.9 1052.3,1365.9 1052.5,1365.9 1052.8,1365.9 1053.0,1365.9 1053.2,1365.9 1053.4,1365.9 1053.6,1365.9 1053.8,1365.9 1054.1,1365.9 1054.3,1365.9 1054.5,1365.9 1054.7,1365.9 1054.9,1365.9 1055.2,1365.9 1055.4,1365.9 1055.6,1365.9 1055.8,1365.9 1056.0,1365.9 1056.2,1365.9 1056.5,1365.9 1056.7,1366.0 1056.9,1366.0 1057.1,1366.0 1057.3,1366.0 1057.6,1366.0 1057.8,1366.0 1058.0,1366.0 1058.2,1366.0 1058.4,1366.0 1058.6,1366.0 1058.9,1366.0 1059.1,1366.0 1059.3,1366.0 1059.5,1366.0 1059.7,1366.0 1060.0,1366.0 1060.2,1366.0 1060.4,1366.0 1060.6,1366.0 1060.8,1366.0 1061.0,1366.0 1061.3,1366.0 1061.5,1366.0 1061.7,1366.0 1061.9,1366.0 1062.1,1366.0 1062.4,1366.0 1062.6,1366.0 1062.8,1366.0 1063.0,1366.0 1063.2,1366.0 1063.4,1366.0 1063.7,1366.0 1063.9,1366.0 1064.1,1366.0 1064.3,1366.0 1064.5,1366.0 1064.8,1366.0 1065.0,1366.0 1065.2,1366.0 1065.4,1366.0 1065.6,1366.0 1065.8,1366.0 1066.1,1366.0 1066.3,1366.0 1066.5,1366.0 1066.7,1366.0 1066.9,1366.0 1067.2,1366.0 1067.4,1366.0 1067.6,1366.0 1067.8,1366.0 1068.0,1366.0 1068.2,1366.0 1068.5,1366.1 1068.7,1366.1 1068.9,1366.1 1069.1,1366.1 1069.3,1366.1 1069.6,1366.1 1069.8,1366.1 1070.0,1366.1 1070.2,1366.1 1070.4,1366.1 1070.6,1366.1 1070.9,1366.1 1071.1,1366.1 1071.3,1366.1 1071.5,1366.1 1071.7,1366.1 1072.0,1366.1 1072.2,1366.1 1072.4,1366.1 1072.6,1366.1 1072.8,1366.1 1073.0,1366.1 1073.3,1366.1 1073.5,1366.1 1073.7,1366.1 1073.9,1366.1 1074.1,1366.1 1074.4,1366.1 1074.6,1366.1 1074.8,1366.1 1075.0,1366.1 1075.2,1366.1 1075.4,1366.1 1075.7,1366.1 1075.9,1366.1 1076.1,1366.1 1076.3,1366.1 1076.5,1366.1 1076.8,1366.1 1077.0,1366.1 1077.2,1366.1 1077.4,1366.1 1077.6,1366.1 1077.8,1366.1 1078.1,1366.1 1078.3,1366.1 1078.5,1366.1 1078.7,1366.1 1078.9,1366.2 1079.2,1366.2 1079.4,1366.2 1079.6,1366.2 1079.8,1366.2 1080.0,1366.2 1080.2,1366.2 1080.5,1366.2 1080.7,1366.2 1080.9,1366.2 1081.1,1366.2 1081.3,1366.2 1081.6,1366.2 1081.8,1366.2 1082.0,1366.2 1082.2,1366.2 1082.4,1366.2 1082.6,1366.2 1082.9,1366.2 1083.1,1366.2 1083.3,1366.2 1083.5,1366.2 1083.7,1366.2 1084.0,1366.2 1084.2,1366.2 1084.4,1366.2 1084.6,1366.2 1084.8,1366.2 1085.0,1366.2 1085.3,1366.2 1085.5,1366.2 1085.7,1366.2 1085.9,1366.2 1086.1,1366.2 1086.4,1366.2 1086.6,1366.2 1086.8,1366.2 1087.0,1366.2 1087.2,1366.2 1087.4,1366.2 1087.7,1366.2 1087.9,1366.2 1088.1,1366.2 1088.3,1366.2 1088.5,1366.2 1088.8,1366.2 1089.0,1366.2 1089.2,1366.2 1089.4,1366.2 1089.6,1366.3 1089.8,1366.3 1090.1,1366.3 1090.3,1366.3 1090.5,1366.3 1090.7,1366.3 1090.9,1366.3 1091.2,1366.3 1091.4,1366.3 1091.6,1366.3 1091.8,1366.3 1092.0,1366.3 1092.2,1366.3 1092.5,1366.3 1092.7,1366.3 1092.9,1366.3 1093.1,1366.3 1093.3,1366.3 1093.6,1366.3 1093.8,1366.3 1094.0,1366.3 1094.2,1366.3 1094.4,1366.3 1094.6,1366.3 1094.9,1366.3 1095.1,1366.3 1095.3,1366.3 1095.5,1366.3 1095.7,1366.3 1096.0,1366.3 1096.2,1366.3 1096.4,1366.3 1096.6,1366.3 1096.8,1366.3 1097.0,1366.3 1097.3,1366.3 1097.5,1366.3 1097.7,1366.3 1097.9,1366.3 1098.1,1366.3 1098.4,1366.3 1098.6,1366.3 1098.8,1366.3 1099.0,1366.3 1099.2,1366.3 1099.4,1366.3 1099.7,1366.3 1099.9,1366.3 1100.1,1366.3 1100.3,1366.3 1100.5,1366.4 1100.8,1366.4 1101.0,1366.4 1101.2,1366.4 1101.4,1366.4 1101.6,1366.4 1101.8,1366.4 1102.1,1366.4 1102.3,1366.4 1102.5,1366.4 1102.7,1366.4 1102.9,1366.4 1103.2,1366.4 1103.4,1366.4 1103.6,1366.4 1103.8,1366.4 1104.0,1366.4 1104.2,1366.4 1104.5,1366.4 1104.7,1366.4 1104.9,1366.4 1105.1,1366.4 1105.3,1366.4 1105.6,1366.4 1105.8,1366.4 1106.0,1366.4 1106.2,1366.4 1106.4,1366.4 1106.6,1366.4 1106.9,1366.4 1107.1,1366.4 1107.3,1366.4 1107.5,1366.4 1107.7,1366.4 1108.0,1366.4 1108.2,1366.4 1108.4,1366.4 1108.6,1366.4 1108.8,1366.4 1109.0,1366.4 1109.3,1366.4 1109.5,1366.4 1109.7,1366.4 1109.9,1366.4 1110.1,1366.4 1110.4,1366.4 1110.6,1366.4 1110.8,1366.4 1111.0,1366.4 1111.2,1366.5 1111.4,1366.5 1111.7,1366.5 1111.9,1366.5 1112.1,1366.5 1112.3,1366.5 1112.5,1366.5 1112.8,1366.5 1113.0,1366.5 1113.2,1366.5 1113.4,1366.5 1113.6,1366.5 1113.8,1366.5 1114.1,1366.5 1114.3,1366.5 1114.5,1366.5 1114.7,1366.5 1114.9,1366.5 1115.2,1366.5 1115.4,1366.5 1115.6,1366.5 1115.8,1366.5 1116.0,1366.5 1116.2,1366.5 1116.5,1366.5 1116.7,1366.5 1116.9,1366.5 1117.1,1366.5 1117.3,1366.5 1117.6,1366.5 1117.8,1366.5 1118.0,1366.5 1118.2,1366.5 1118.4,1366.5 1118.7,1366.5 1118.9,1366.5 1119.1,1366.5 1119.3,1366.5 1119.5,1366.5 1119.7,1366.5 1120.0,1366.5 1120.2,1366.5 1120.4,1366.5 1120.6,1366.5 1120.8,1366.5 1121.1,1366.5 1121.3,1366.5 1121.5,1366.5 1121.7,1366.5 1121.9,1366.5 1122.1,1366.6 1122.4,1366.6 1122.6,1366.6 1122.8,1366.6 1123.0,1366.6 1123.2,1366.6 1123.5,1366.6 1123.7,1366.6 1123.9,1366.6 1124.1,1366.6 1124.3,1366.6 1124.5,1366.6 1124.8,1366.6 1125.0,1366.6 1125.2,1366.6 1125.4,1366.6 1125.6,1366.6 1125.9,1366.6 1126.1,1366.6 1126.3,1366.6 1126.5,1366.6 1126.7,1366.6 1126.9,1366.6 1127.2,1366.6 1127.4,1366.6 1127.6,1366.6 1127.8,1366.6 1128.0,1366.6 1128.3,1366.6 1128.5,1366.6 1128.7,1366.6 1128.9,1366.6 1129.1,1366.6 1129.3,1366.6 1129.6,1366.6 1129.8,1366.6 1130.0,1366.6 1130.2,1366.6 1130.4,1366.6 1130.7,1366.6 1130.9,1366.6 1131.1,1366.6 1131.3,1366.6 1131.5,1366.6 1131.7,1366.6 1132.0,1366.6 1132.2,1366.6 1132.4,1366.6 1132.6,1366.6 1132.8,1366.6 1133.1,1366.7 1133.3,1366.7 1133.5,1366.7 1133.7,1366.7 1133.9,1366.7 1134.1,1366.7 1134.4,1366.7 1134.6,1366.7 1134.8,1366.7 1135.0,1366.7 1135.2,1366.7 1135.5,1366.7 1135.7,1366.7 1135.9,1366.7 1136.1,1366.7 1136.3,1366.7 1136.5,1366.7 1136.8,1366.7 1137.0,1366.7 1137.2,1366.7 1137.4,1366.7 1137.6,1366.7 1137.9,1366.7 1138.1,1366.7 1138.3,1366.7 1138.5,1366.7 1138.7,1366.7 1138.9,1366.7 1139.2,1366.7 1139.4,1366.7 1139.6,1366.7 1139.8,1366.7 1140.0,1366.7 1140.3,1366.7 1140.5,1366.7 1140.7,1366.7 1140.9,1366.7 1141.1,1366.7 1141.3,1366.7 1141.6,1366.7 1141.8,1366.7 1142.0,1366.7 1142.2,1366.7 1142.4,1366.7 1142.7,1366.7 1142.9,1366.7 1143.1,1366.7 1143.3,1366.7 1143.5,1366.7 1143.7,1366.7 1144.0,1366.8 1144.2,1366.8 1144.4,1366.8 1144.6,1366.8 1144.8,1366.8 1145.1,1366.8 1145.3,1366.8 1145.5,1366.8 1145.7,1366.8 1145.9,1366.8 1146.1,1366.8 1146.4,1366.8 1146.6,1366.8 1146.8,1366.8 1147.0,1366.8 1147.2,1366.8 1147.5,1366.8 1147.7,1366.8 1147.9,1366.8 1148.1,1366.8 1148.3,1366.8 1148.5,1366.8 1148.8,1366.8 1149.0,1366.8 1149.2,1366.8 1149.4,1366.8 1149.6,1366.8 1149.9,1366.8 1150.1,1366.8 1150.3,1366.8 1150.5,1366.8 1150.7,1366.8 1150.9,1366.8 1151.2,1366.8 1151.4,1366.8 1151.6,1366.8 1151.8,1366.8 1152.0,1366.8 1152.3,1366.8 1152.5,1366.8 1152.7,1366.8 1152.9,1366.8 1153.1,1366.8 1153.3,1366.8 1153.6,1366.8 1153.8,1366.8 1154.0,1366.8 1154.2,1366.8 1154.4,1366.8 1154.7,1366.8 1154.9,1366.9 1155.1,1366.9 1155.3,1366.9 1155.5,1366.9 1155.7,1366.9 1156.0,1366.9 1156.2,1366.9 1156.4,1366.9 1156.6,1366.9 1156.8,1366.9 1157.1,1366.9 1157.3,1366.9 1157.5,1366.9 1157.7,1366.9 1157.9,1366.9 1158.1,1366.9 1158.4,1366.9 1158.6,1366.9 1158.8,1366.9 1159.0,1366.9 1159.2,1366.9 1159.5,1366.9 1159.7,1366.9 1159.9,1366.9 1160.1,1366.9 1160.3,1366.9 1160.5,1366.9 1160.8,1366.9 1161.0,1366.9 1161.2,1366.9 1161.4,1366.9 1161.6,1366.9 1161.9,1366.9 1162.1,1366.9 1162.3,1366.9 1162.5,1366.9 1162.7,1366.9 1162.9,1366.9 1163.2,1366.9 1163.4,1366.9 1163.6,1366.9 1163.8,1366.9 1164.0,1366.9 1164.3,1366.9 1164.5,1366.9 1164.7,1366.9 1164.9,1366.9 1165.1,1366.9 1165.3,1366.9 1165.6,1366.9 1165.8,1367.0 1166.0,1367.0 1166.2,1367.0 1166.4,1367.0 1166.7,1367.0 1166.9,1367.0 1167.1,1367.0 1167.3,1367.0 1167.5,1367.0 1167.7,1367.0 1168.0,1367.0 1168.2,1367.0 1168.4,1367.0 1168.6,1367.0 1168.8,1367.0 1169.1,1367.0 1169.3,1367.0 1169.5,1367.0 1169.7,1367.0 1169.9,1367.0 1170.1,1367.0 1170.4,1367.0 1170.6,1367.0 1170.8,1367.0" fill="none" stroke="#ff0000" stroke-width="9" stroke-linejoin="round"/>
<polyline points="189.0,1737.0 189.1,1737.0 189.3,1737.0 189.6,1737.0 189.8,1737.0 190.0,1737.0 190.2,1737.0 190.4,1737.0 190.6,1737.0 190.9,1737.0 191.1,1737.1 191.3,1737.1 191.5,1737.1 191.7,1737.1 192.0,1737.1 192.2,1737.1 192.4,1737.1 192.6,1737.1 192.8,1737.1 193.0,1737.1 193.3,1737.1 193.5,1737.1 193.7,1737.1 193.9,1737.1 194.1,1737.1 194.4,1737.1 194.6,1737.1 194.8,1737.2 195.0,1737.2 195.2,1737.2 195.4,1737.2 195.7,1737.2 195.9,1737.2 196.1,1737.2 196.3,1737.2 196.5,1737.2 196.8,1737.2 197.0,1737.2 197.2,1737.2 197.4,1737.2 197.6,1737.2 197.8,1737.2 198.1,1737.2 198.3,1737.3 198.5,1737.3 198.7,1737.3 198.9,1737.3 199.2,1737.3 199.4,1737.3 199.6,1737.3 199.8,1737.3 200.0,1737.3 200.2,1737.3 200.5,1737.3 200.7,1737.3 200.9,1737.3 201.1,1737.3 201.3,1737.3 201.6,1737.3 201.8,1737.3 202.0,1737.4 202.2,1737.4 202.4,1737.4 202.6,1737.4 202.9,1737.4 203.1,1737.4 203.3,1737.4 203.5,1737.4 203.7,1737.4 204.0,1737.4 204.2,1737.4 204.4,1737.4 204.6,1737.4 204.8,1737.4 205.0,1737.4 205.3,1737.4 205.5,1737.4 205.7,1737.5 205.9,1737.5 206.1,1737.5 206.4,1737.5 206.6,1737.5 206.8,1737.5 207.0,1737.5 207.2,1737.5 207.4,1737.5 207.7,1737.5 207.9,1737.5 208.1,1737.5 208.3,1737.5 208.5,1737.5 208.8,1737.5 209.0,1737.5 209.2,1737.6 209.4,1737.6 209.6,1737.6 209.8,1737.6 210.1,1737.6 210.3,1737.6 210.5,1737.6 210.7,1737.6 210.9,1737.6 211.2,1737.6 211.4,1737.6 211.6,1737.6 211.8,1737.6 212.0,1737.6 212.2,1737.6 212.5,1737.6 212.7,1737.6 212.9,1737.7 213.1,1737.7 213.3,1737.7 213.6,1737.7 213.8,1737.7 214.0,1737.7 214.2,1737.7 214.4,1737.7 214.6,1737.7 214.9,1737.7 215.1,1737.7 215.3,1737.7 215.5,1737.7 215.7,1737.7 216.0,1737.7 216.2,1737.7 216.4,1737.7 216.6,1737.8 216.8,1737.8 217.0,1737.8 217.3,1737.8 217.5,1737.8 217.7,1737.8 217.9,1737.8 218.1,1737.8 218.4,1737.8 218.6,1737.8 218.8,1737.8 219.0,1737.8 219.2,1737.8 219.4,1737.8 219.7,1737.8 219.9,1737.8 220.1,1737.8 220.3,1737.9 220.5,1737.9 220.8,1737.9 221.0,1737.9 221.2,1737.9 221.4,1737.9 221.6,1737.9 221.8,1737.9 222.1,1737.9 222.3,1737.9 222.5,1737.9 222.7,1737.9 222.9,1737.9 223.2,1737.9 223.4,1737.9 223.6,1737.9 223.8,1738.0 224.0,1738.0 224.2,1738.0 224.5,1738.0 224.7,1738.0 224.9,1738.0 225.1,1738.0 225.3,1738.0 225.6,1738.0 225.8,1738.0 226.0,1738.0 226.2,1738.0 226.4,1738.0 226.6,1738.0 226.9,1738.0 227.1,1738.0 227.3,1738.0 227.5,1738.1 227.7,1738.1 228.0,1738.1 228.2,1738.1 228.4,1738.1 228.6,1738.1 228.8,1738.1 229.0,1738.1 229.3,1738.1 229.5,1738.1 229.7,1738.1 229.9,1738.1 230.1,1738.1 230.4,1738.1 230.6,1738.1 230.8,1738.1 231.0,1738.1 231.2,1738.2 231.4,1738.2 231.7,1738.2 231.9,1738.2 232.1,1738.2 232.3,1738.2 232.5,1738.2 232.8,1738.2 233.0,1738.2 233.2,1738.2 233.4,1738.2 233.6,1738.2 233.8,1738.2 234.1,1738.2 234.3,1738.2 234.5,1738.2 234.7,1738.2 234.9,1738.3 235.2,1738.3 235.4,1738.3 235.6,1738.3 235.8,1738.3 236.0,1738.3 236.2,1738.3 236.5,1738.3 236.7,1738.3 236.9,1738.3 237.1,1738.3 237.3,1738.3 237.6,1738.3 237.8,1738.3 238.0,1738.3 238.2,1738.3 238.4,1738.4 238.6,1738.4 238.9,1738.4 239.1,1738.4 239.3,1738.4 239.5,1738.4 239.7,1738.4 240.0,1738.4 240.2,1738.4 240.4,1738.4 240.6,1738.4 240.8,1738.4 241.0,1738.4 241.3,1738.4 241.5,1738.4 241.7,1738.4 241.9,1738.4 242.1,1738.5 242.4,1738.5 242.6,1738.5 242.8,1738.5 243.0,1738.5 243.2,1738.5 243.4,1738.5 243.7,1738.5 243.9,1738.5 244.1,1738.5 244.3,1738.5 244.5,1738.5 244.8,1738.5 245.0,1738.5 245.2,1738.5 245.4,1738.5 245.6,1738.5 245.9,1738.6 246.1,1738.6 246.3,1738.6 246.5,1738.6 246.7,1738.6 246.9,1738.6 247.2,1738.6 247.4,1738.6 247.6,1738.6 247.8,1738.6 248.0,1738.6 248.3,1738.6 248.5,1738.6 248.7,1738.6 248.9,1738.6 249.1,1738.6 249.3,1738.6 249.6,1738.7 249.8,1738.7 250.0,1738.7 250.2,1738.7 250.4,1738.7 250.7,1738.7 250.9,1738.7 251.1,1738.7 251.3,1738.7 251.5,1738.7 251.7,1738.7 252.0,1738.7 252.2,1738.7 252.4,1738.7 252.6,1738.7 252.8,1738.7 253.1,1738.8 253.3,1738.8 253.5,1738.8 253.7,1738.8 253.9,1738.8 254.1,1738.8 254.4,1738.8 254.6,1738.8 254.8,1738.8 255.0,1738.8 255.2,1738.8 255.5,1738.8 255.7,1738.8 255.9,1738.8 256.1,1738.8 256.3,1738.8 256.5,1738.8 256.8,1738.9 257.0,1738.9 257.2,1738.9 257.4,1738.9 257.6,1738.9 257.9,1738.9 258.1,1738.9 258.3,1738.9 258.5,1738.9 258.7,1738.9 258.9,1738.9 259.2,1738.9 259.4,1738.9 259.6,1738.9 259.8,1738.9 260.0,1738.9 260.3,1738.9 260.5,1739.0 260.7,1739.0 260.9,1739.0 261.1,1739.0 261.3,1739.0 261.6,1739.0 261.8,1739.0 262.0,1739.0 262.2,1739.0 262.4,1739.0 262.7,1739.0 262.9,1739.0 263.1,1739.0 263.3,1739.0 263.5,1739.0 263.7,1739.0 264.0,1739.0 264.2,1739.1 264.4,1739.1 264.6,1739.1 264.8,1739.1 265.1,1739.1 265.3,1739.1 265.5,1739.1 265.7,1739.1 265.9,1739.1 266.1,1739.1 266.4,1739.1 266.6,1739.1 266.8,1739.1 267.0,1739.1 267.2,1739.1 267.5,1739.1 267.7,1739.2 267.9,1739.2 268.1,1739.2 268.3,1739.2 268.5,1739.2 268.8,1739.2 269.0,1739.2 269.2,1739.2 269.4,1739.2 269.6,1739.2 269.9,1739.2 270.1,1739.2 270.3,1739.2 270.5,1739.2 270.7,1739.2 270.9,1739.2 271.2,1739.2 271.4,1739.3 271.6,1739.3 271.8,1739.3 272.0,1739.3 272.3,1739.3 272.5,1739.3 272.7,1739.3 272.9,1739.3 273.1,1739.3 273.3,1739.3 273.6,1739.3 273.8,1739.3 274.0,1739.3 274.2,1739.3 274.4,1739.3 274.7,1739.3 274.9,1739.3 275.1,1739.4 275.3,1739.4 275.5,1739.4 275.7,1739.4 276.0,1739.4 276.2,1739.4 276.4,1739.4 276.6,1739.4 276.8,1739.4 277.1,1739.4 277.3,1739.4 277.5,1739.4 277.7,1739.4 277.9,1739.4 278.1,1739.4 278.4,1739.4 278.6,1739.4 278.8,1739.5 279.0,1739.5 279.2,1739.5 279.5,1739.5 279.7,1739.5 279.9,1739.5 280.1,1739.5 280.3,1739.5 280.5,1739.5 280.8,1739.5 281.0,1739.5 281.2,1739.5 281.4,1739.5 281.6,1739.5 281.9,1739.5 282.1,1739.5 282.3,1739.5 282.5,1739.6 282.7,1739.6 282.9,1739.6 283.2,1739.6 283.4,1739.6 283.6,1739.6 283.8,1739.6 284.0,1739.6 284.3,1739.6 284.5,1739.6 284.7,1739.6 284.9,1739.6 285.1,1739.6 285.3,1739.6 285.6,1739.6 285.8,1739.6 286.0,1739.6 286.2,1739.7 286.4,1739.7 286.7,1739.7 286.9,1739.7 287.1,1739.7 287.3,1739.7 287.5,1739.7 287.7,1739.7 288.0,1739.7 288.2,1739.7 288.4,1739.7 288.6,1739.7 288.8,1739.7 289.1,1739.7 289.3,1739.7 289.5,1739.7 289.7,1739.7 289.9,1739.8 290.1,1739.8 290.4,1739.8 290.6,1739.8 290.8,1739.8 291.0,1739.8 291.2,1739.8 291.5,1739.8 291.7,1739.8 291.9,1739.8 292.1,1739.8 292.3,1739.8 292.5,1739.8 292.8,1739.8 293.0,1739.8 293.2,1739.8 293.4,1739.8 293.6,1739.9 293.9,1739.9 294.1,1739.9 294.3,1739.9 294.5,1739.9 294.7,1739.9 294.9,1739.9 295.2,1739.9 295.4,1739.9 295.6,1739.9 295.8,1739.9 296.0,1739.9 296.3,1739.9 296.5,1739.9 296.7,1739.9 296.9,1739.9 297.1,1739.9 297.3,1740.0 297.6,1740.0 297.8,1740.0 298.0,1740.0 298.2,1740.0 298.4,1740.0 298.7,1740.0 298.9,1740.0 299.1,1740.0 299.3,1740.0 299.5,1740.0 299.7,1740.0 300.0,1740.0 300.2,1740.1 300.4,1740.1 300.6,1740.1 300.8,1740.1 301.1,1740.1 301.3,1740.1 301.5,1740.1 301.7,1740.1 301.9,1740.1 302.1,1740.1 302.4,1740.1 302.6,1740.1 302.8,1740.2 303.0,1740.2 303.2,1740.2 303.5,1740.2 303.7,1740.2 303.9,1740.2 304.1,1740.2 304.3,1740.2 304.5,1740.2 304.8,1740.2 305.0,1740.2 305.2,1740.3 305.4,1740.3 305.6,1740.3 305.9,1740.3 306.1,1740.3 306.3,1740.3 306.5,1740.3 306.7,1740.3 306.9,1740.3 307.2,1740.3 307.4,1740.3 307.6,1740.3 307.8,1740.4 308.0,1740.4 308.3,1740.4 308.5,1740.4 308.7,1740.4 308.9,1740.4 309.1,1740.4 309.3,1740.4 309.6,1740.4 309.8,1740.4 310.0,1740.4 310.2,1740.4 310.4,1740.5 310.7,1740.5 310.9,1740.5 311.1,1740.5 311.3,1740.5 311.5,1740.5 311.7,1740.5 312.0,1740.5 312.2,1740.5 312.4,1740.5 312.6,1740.5 312.8,1740.5 313.1,1740.6 313.3,1740.6 313.5,1740.6 313.7,1740.6 313.9,1740.6 314.1,1740.6 314.4,1740.6 314.6,1740.6 314.8,1740.6 315.0,1740.6 315.2,1740.6 315.5,1740.6 315.7,1740.7 315.9,1740.7 316.1,1740.7 316.3,1740.7 316.5,1740.7 316.8,1740.7 317.0,1740.7 317.2,1740.7 317.4,1740.7 317.6,1740.7 317.9,1740.7 318.1,1740.7 318.3,1740.8 318.5,1740.8 318.7,1740.8 318.9,1740.8 319.2,1740.8 319.4,1740.8 319.6,1740.8 319.8,1740.8 320.0,1740.8 320.3,1740.8 320.5,1740.8 320.7,1740.8 320.9,1740.9 321.1,1740.9 321.3,1740.9 321.6,1740.9 321.8,1740.9 322.0,1740.9 322.2,1740.9 322.4,1740.9 322.7,1740.9 322.9,1740.9 323.1,1740.9 323.3,1740.9 323.5,1741.0 323.7,1741.0 324.0,1741.0 324.2,1741.0 324.4,1741.0 324.6,1741.0 324.8,1741.0 325.1,1741.0 325.3,1741.0 325.5,1741.0 325.7,1741.0 325.9,1741.0 326.1,1741.0 326.4,1741.1 326.6,1741.1 326.8,1741.1 327.0,1741.1 327.2,1741.1 327.5,1741.1 327.7,1741.1 327.9,1741.1 328.1,1741.1 328.3,1741.1 328.5,1741.1 328.8,1741.1 329.0,1741.2 329.2,1741.2 329.4,1741.2 329.6,1741.2 329.9,1741.2 330.1,1741.2 330.3,1741.2 330.5,1741.2 330.7,1741.2 330.9,1741.2 331.2,1741.2 331.4,1741.2 331.6,1741.3 331.8,1741.3 332.0,1741.3 332.3,1741.3 332.5,1741.3 332.7,1741.3 332.9,1741.3 333.1,1741.3 333.3,1741.3 333.6,1741.3 333.8,1741.3 334.0,1741.3 334.2,1741.3 334.4,1741.4 334.7,1741.4 334.9,1741.4 335.1,1741.4 335.3,1741.4 335.5,1741.4 335.7,1741.4 336.0,1741.4 336.2,1741.4 336.4,1741.4 336.6,1741.4 336.8,1741.4 337.1,1741.5 337.3,1741.5 337.5,1741.5 337.7,1741.5 337.9,1741.5 338.1,1741.5 338.4,1741.5 338.6,1741.5 338.8,1741.5 339.0,1741.5 339.2,1741.5 339.5,1741.5 339.7,1741.5 339.9,1741.6 340.1,1741.6 340.3,1741.6 340.5,1741.6 340.8,1741.6 341.0,1741.6 341.2,1741.6 341.4,1741.6 341.6,1741.6 341.9,1741.6 342.1,1741.6 342.3,1741.6 342.5,1741.6 342.7,1741.7 342.9,1741.7 343.2,1741.7 343.4,1741.7 343.6,1741.7 343.8,1741.7 344.0,1741.7 344.3,1741.7 344.5,1741.7 344.7,1741.7 344.9,1741.7 345.1,1741.7 345.3,1741.7 345.6,1741.8 345.8,1741.8 346.0,1741.8 346.2,1741.8 346.4,1741.8 346.7,1741.8 346.9,1741.8 347.1,1741.8 347.3,1741.8 347.5,1741.8 347.7,1741.8 348.0,1741.8 348.2,1741.8 348.4,1741.8 348.6,1741.9 348.8,1741.9 349.1,1741.9 349.3,1741.9 349.5,1741.9 349.7,1741.9 349.9,1741.9 350.1,1741.9 350.4,1741.9 350.6,1741.9 350.8,1741.9 351.0,1741.9 351.2,1741.9 351.5,1741.9 351.7,1742.0 351.9,1742.0 352.1,1742.0 352.3,1742.0 352.5,1742.0 352.8,1742.0 353.0,1742.0 353.2,1742.0 353.4,1742.0 353.6,1742.0 353.9,1742.0 354.1,1742.0 354.3,1742.0 354.5,1742.0 354.7,1742.0 355.0,1742.1 355.2,1742.1 355.4,1742.1 355.6,1742.1 355.8,1742.1 356.0,1742.1 356.3,1742.1 356.5,1742.1 356.7,1742.1 356.9,1742.1 357.1,1742.1 357.4,1742.1 357.6,1742.1 357.8,1742.1 358.0,1742.1 358.2,1742.1 358.4,1742.1 358.7,1742.1 358.9,1742.2 359.1,1742.2 359.3,1742.2 359.5,1742.2 359.8,1742.2 360.0,1742.2 360.2,1742.2 360.4,1742.2 360.6,1742.2 360.8,1742.2 361.1,1742.2 361.3,1742.2 361.5,1742.2 361.7,1742.2 361.9,1742.2 362.2,1742.2 362.4,1742.2 362.6,1742.2 362.8,1742.2 363.0,1742.2 363.2,1742.2 363.5,1742.2 363.7,1742.2 363.9,1742.3 364.1,1742.3 364.3,1742.3 364.6,1742.3 364.8,1742.3 365.0,1742.3 365.2,1742.3 365.4,1742.3 365.6,1742.3 365.9,1742.3 366.1,1742.3 366.3,1742.3 366.5,1742.3 366.7,1742.3 367.0,1742.3 367.2,1742.3 367.4,1742.3 367.6,1742.3 367.8,1742.3 368.0,1742.3 368.3,1742.3 368.5,1742.3 368.7,1742.3 368.9,1742.3 369.1,1742.3 369.4,1742.3 369.6,1742.3 369.8,1742.3 370.0,1742.3 370.2,1742.2 370.4,1742.2 370.7,1742.2 370.9,1742.2 371.1,1742.2 371.3,1742.2 371.5,1742.2 371.8,1742.2 372.0,1742.2 372.2,1742.2 372.4,1742.2 372.6,1742.2 372.8,1742.2 373.1,1742.1 373.3,1742.1 373.5,1742.1 373.7,1742.1 373.9,1742.1 374.2,1742.1 374.4,1742.1 374.6,1742.0 374.8,1742.0 375.0,1742.0 375.2,1742.0 375.5,1741.9 375.7,1741.9 375.9,1741.9 376.1,1741.9 376.3,1741.8 376.6,1741.8 376.8,1741.7 377.0,1741.7 377.2,1741.7 377.4,1741.6 377.6,1741.6 377.9,1741.5 378.1,1741.5 378.3,1741.4 378.5,1741.4 378.7,1741.3 379.0,1741.2 379.2,1741.2 379.4,1741.1 379.6,1741.0 379.8,1740.9 380.0,1740.8 380.3,1740.7 380.5,1740.6 380.7,1740.5 380.9,1740.4 381.1,1740.2 381.4,1740.1 381.6,1739.9 381.8,1739.8 382.0,1739.6 382.2,1739.4 382.4,1739.2 382.7,1738.9 382.9,1738.7 383.1,1738.4 383.3,1738.1 383.5,1737.7 383.8,1737.3 384.0,1736.9 384.2,1736.4 384.4,1735.8 384.6,1735.2 384.8,1734.4 385.1,1733.5 385.3,1732.3 385.5,1730.7 385.7,1728.6 385.9,1725.8 386.2,1722.0 386.4,1716.8 386.6,1709.9 386.8,1700.7 387.0,1688.8 387.2,1673.8 387.5,1655.3 387.7,1633.2 387.9,1607.8 388.1,1579.5 388.3,1549.3 388.6,1518.4 388.8,1488.8 389.0,1462.3 389.2,1441.3 389.4,1427.7 389.6,1423.0 389.9,1427.7 390.1,1441.3 390.3,1462.4 390.5,1488.8 390.7,1518.5 391.0,1549.3 391.2,1579.6 391.4,1607.9 391.6,1633.4 391.8,1655.4 392.0,1673.9 392.3,1688.9 392.5,1700.9 392.7,1710.0 392.9,1717.0 393.1,1722.2 393.4,1726.0 393.6,1728.9 393.8,1730.9 394.0,1732.5 394.2,1733.7 394.4,1734.7 394.7,1735.5 394.9,1736.2 395.1,1736.7 395.3,1737.2 395.5,1737.7 395.8,1738.1 396.0,1738.4 396.2,1738.8 396.4,1739.1 396.6,1739.3 396.8,1739.6 397.1,1739.8 397.3,1740.0 397.5,1740.2 397.7,1740.4 397.9,1740.6 398.2,1740.8 398.4,1740.9 398.6,1741.0 398.8,1741.2 399.0,1741.3 399.2,1741.4 399.5,1741.5 399.7,1741.6 399.9,1741.7 400.1,1741.8 400.3,1741.9 400.6,1742.0 400.8,1742.0 401.0,1742.1 401.2,1742.2 401.4,1742.2 401.6,1742.3 401.9,1742.4 402.1,1742.4 402.3,1742.5 402.5,1742.5 402.7,1742.6 403.0,1742.6 403.2,1742.7 403.4,1742.7 403.6,1742.8 403.8,1742.8 404.0,1742.8 404.3,1742.9 404.5,1742.9 404.7,1743.0 404.9,1743.0 405.1,1743.0 405.4,1743.1 405.6,1743.1 405.8,1743.1 406.0,1743.1 406.2,1743.2 406.4,1743.2 406.7,1743.2 406.9,1743.2 407.1,1743.3 407.3,1743.3 407.5,1743.3 407.8,1743.3 408.0,1743.3 408.2,1743.3 408.4,1743.3 408.6,1743.3 408.8,1743.3 409.1,1743.4 409.3,1743.4 409.5,1743.4 409.7,1743.4 409.9,1743.4 410.2,1743.4 410.4,1743.4 410.6,1743.4 410.8,1743.4 411.0,1743.4 411.2,1743.4 411.5,1743.4 411.7,1743.4 411.9,1743.4 412.1,1743.4 412.3,1743.4 412.6,1743.4 412.8,1743.4 413.0,1743.4 413.2,1743.4 413.4,1743.4 413.6,1743.4 413.9,1743.4 414.1,1743.4 414.3,1743.4 414.5,1743.4 414.7,1743.4 415.0,1743.4 415.2,1743.4 415.4,1743.4 415.6,1743.4 415.8,1743.4 416.0,1743.4 416.3,1743.4 416.5,1743.4 416.7,1743.4 416.9,1743.4 417.1,1743.4 417.4,1743.4 417.6,1743.4 417.8,1743.4 418.0,1743.4 418.2,1743.4 418.4,1743.4 418.7,1743.4 418.9,1743.4 419.1,1743.4 419.3,1743.4 419.5,1743.4 419.8,1743.4 420.0,1743.4 420.2,1743.4 420.4,1743.4 420.6,1743.4 420.8,1743.4 421.1,1743.4 421.3,1743.4 421.5,1743.4 421.7,1743.4 421.9,1743.4 422.2,1743.4 422.4,1743.4 422.6,1743.4 422.8,1743.4 423.0,1743.4 423.2,1743.4 423.5,1743.4 423.7,1743.3 423.9,1743.3 424.1,1743.3 424.3,1743.3 424.6,1743.3 424.8,1743.3 425.0,1743.3 425.2,1743.3 425.4,1743.3 425.6,1743.3 425.9,1743.3 426.1,1743.3 426.3,1743.3 426.5,1743.3 426.7,1743.3 427.0,1743.3 427.2,1743.3 427.4,1743.3 427.6,1743.3 427.8,1743.3 428.0,1743.3 428.3,1743.3 428.5,1743.3 428.7,1743.3 428.9,1743.3 429.1,1743.2 429.4,1743.2 429.6,1743.2 429.8,1743.2 430.0,1743.2 430.2,1743.2 430.4,1743.2 430.7,1743.2 430.9,1743.2 431.1,1743.2 431.3,1743.2 431.5,1743.2 431.8,1743.2 432.0,1743.2 432.2,1743.2 432.4,1743.2 432.6,1743.2 432.8,1743.2 433.1,1743.2 433.3,1743.2 433.5,1743.2 433.7,1743.2 433.9,1743.1 434.2,1743.1 434.4,1743.1 434.6,1743.1 434.8,1743.1 435.0,1743.1 435.2,1743.1 435.5,1743.1 435.7,1743.1 435.9,1743.1 436.1,1743.1 436.3,1743.1 436.6,1743.1 436.8,1743.1 437.0,1743.1 437.2,1743.1 437.4,1743.1 437.6,1743.1 437.9,1743.1 438.1,1743.0 438.3,1743.0 438.5,1743.0 438.7,1743.0 439.0,1743.0 439.2,1743.0 439.4,1743.0 439.6,1743.0 439.8,1743.0 440.0,1743.0 440.3,1743.0 440.5,1743.0 440.7,1743.0 440.9,1743.0 441.1,1743.0 441.4,1743.0 441.6,1743.0 441.8,1743.0 442.0,1743.0 442.2,1742.9 442.4,1742.9 442.7,1742.9 442.9,1742.9 443.1,1742.9 443.3,1742.9 443.5,1742.9 443.8,1742.9 444.0,1742.9 444.2,1742.9 444.4,1742.9 444.6,1742.9 444.8,1742.9 445.1,1742.9 445.3,1742.9 445.5,1742.9 445.7,1742.9 445.9,1742.9 446.2,1742.9 446.4,1742.8 446.6,1742.8 446.8,1742.8 447.0,1742.8 447.2,1742.8 447.5,1742.8 447.7,1742.8 447.9,1742.8 448.1,1742.8 448.3,1742.8 448.6,1742.8 448.8,1742.8 449.0,1742.8 449.2,1742.8 449.4,1742.8 449.6,1742.8 449.9,1742.8 450.1,1742.8 450.3,1742.7 450.5,1742.7 450.7,1742.7 451.0,1742.7 451.2,1742.7 451.4,1742.7 451.6,1742.7 451.8,1742.7 452.0,1742.7 452.3,1742.7 452.5,1742.7 452.7,1742.7 452.9,1742.7 453.1,1742.7 453.4,1742.7 453.6,1742.7 453.8,1742.7 454.0,1742.7 454.2,1742.6 454.4,1742.6 454.7,1742.6 454.9,1742.6 455.1,1742.6 455.3,1742.6 455.5,1742.6 455.8,1742.6 456.0,1742.6 456.2,1742.6 456.4,1742.6 456.6,1742.6 456.8,1742.6 457.1,1742.6 457.3,1742.6 457.5,1742.6 457.7,1742.6 457.9,1742.5 458.2,1742.5 458.4,1742.5 458.6,1742.5 458.8,1742.5 459.0,1742.5 459.2,1742.5 459.5,1742.5 459.7,1742.5 459.9,1742.5 460.1,1742.5 460.3,1742.5 460.6,1742.5 460.8,1742.5 461.0,1742.5 461.2,1742.5 461.4,1742.5 461.6,1742.5 461.9,1742.4 462.1,1742.4 462.3,1742.4 462.5,1742.4 462.7,1742.4 463.0,1742.4 463.2,1742.4 463.4,1742.4 463.6,1742.4 463.8,1742.4 464.1,1742.4 464.3,1742.4 464.5,1742.4 464.7,1742.4 464.9,1742.4 465.1,1742.4 465.4,1742.4 465.6,1742.3 465.8,1742.3 466.0,1742.3 466.2,1742.3 466.5,1742.3 466.7,1742.3 466.9,1742.3 467.1,1742.3 467.3,1742.3 467.5,1742.3 467.8,1742.3 468.0,1742.3 468.2,1742.3 468.4,1742.3 468.6,1742.3 468.9,1742.3 469.1,1742.3 469.3,1742.2 469.5,1742.2 469.7,1742.2 469.9,1742.2 470.2,1742.2 470.4,1742.2 470.6,1742.2 470.8,1742.2 471.0,1742.2 471.3,1742.2 471.5,1742.2 471.7,1742.2 471.9,1742.2 472.1,1742.2 472.3,1742.2 472.6,1742.2 472.8,1742.2 473.0,1742.1 473.2,1742.1 473.4,1742.1 473.7,1742.1 473.9,1742.1 474.1,1742.1 474.3,1742.1 474.5,1742.1 474.7,1742.1 475.0,1742.1 475.2,1742.1 475.4,1742.1 475.6,1742.1 475.8,1742.1 476.1,1742.1 476.3,1742.1 476.5,1742.1 476.7,1742.0 476.9,1742.0 477.1,1742.0 477.4,1742.0 477.6,1742.0 477.8,1742.0 478.0,1742.0 478.2,1742.0 478.5,1742.0 478.7,1742.0 478.9,1742.0 479.1,1742.0 479.3,1742.0 479.5,1742.0 479.8,1742.0 480.0,1742.0 480.2,1742.0 480.4,1741.9 480.6,1741.9 480.9,1741.9 481.1,1741.9 481.3,1741.9 481.5,1741.9 481.7,1741.9 481.9,1741.9 482.2,1741.9 482.4,1741.9 482.6,1741.9 482.8,1741.9 483.0,1741.9 483.3,1741.9 483.5,1741.9 483.7,1741.9 483.9,1741.9 484.1,1741.8 484.3,1741.8 484.6,1741.8 484.8,1741.8 485.0,1741.8 485.2,1741.8 485.4,1741.8 485.7,1741.8 485.9,1741.8 486.1,1741.8 486.3,1741.8 486.5,1741.8 486.7,1741.8 487.0,1741.8 487.2,1741.8 487.4,1741.8 487.6,1741.8 487.8,1741.7 488.1,1741.7 488.3,1741.7 488.5,1741.7 488.7,1741.7 488.9,1741.7 489.1,1741.7 489.4,1741.7 489.6,1741.7 489.8,1741.7 490.0,1741.7 490.2,1741.7 490.5,1741.7 490.7,1741.7 490.9,1741.7 491.1,1741.7 491.3,1741.6 491.5,1741.6 491.8,1741.6 492.0,1741.6 492.2,1741.6 492.4,1741.6 492.6,1741.6 492.9,1741.6 493.1,1741.6 493.3,1741.6 493.5,1741.6 493.7,1741.6 493.9,1741.6 494.2,1741.6 494.4,1741.6 494.6,1741.6 494.8,1741.5 495.0,1741.5 495.3,1741.5 495.5,1741.5 495.7,1741.5 495.9,1741.5 496.1,1741.5 496.3,1741.5 496.6,1741.5 496.8,1741.5 497.0,1741.5 497.2,1741.5 497.4,1741.5 497.7,1741.5 497.9,1741.5 498.1,1741.5 498.3,1741.4 498.5,1741.4 498.7,1741.4 499.0,1741.4 499.2,1741.4 499.4,1741.4 499.6,1741.4 499.8,1741.4 500.1,1741.4 500.3,1741.4 500.5,1741.4 500.7,1741.4 500.9,1741.4 501.1,1741.4 501.4,1741.4 501.6,1741.4 501.8,1741.3 502.0,1741.3 502.2,1741.3 502.5,1741.3 502.7,1741.3 502.9,1741.3 503.1,1741.3 503.3,1741.3 503.5,1741.3 503.8,1741.3 504.0,1741.3 504.2,1741.3 504.4,1741.3 504.6,1741.3 504.9,1741.2 505.1,1741.2 505.3,1741.2 505.5,1741.2 505.7,1741.2 505.9,1741.2 506.2,1741.2 506.4,1741.2 506.6,1741.2 506.8,1741.2 507.0,1741.2 507.3,1741.2 507.5,1741.2 507.7,1741.1 507.9,1741.1 508.1,1741.1 508.3,1741.1 508.6,1741.1 508.8,1741.1 509.0,1741.1 509.2,1741.1 509.4,1741.1 509.7,1741.1 509.9,1741.0 510.1,1741.0 510.3,1741.0 510.5,1741.0 510.7,1741.0 511.0,1741.0 511.2,1741.0 511.4,1741.0 511.6,1740.9 511.8,1740.9 512.1,1740.9 512.3,1740.9 512.5,1740.9 512.7,1740.8 512.9,1740.8 513.1,1740.8 513.4,1740.8 513.6,1740.7 513.8,1740.7 514.0,1740.7 514.2,1740.6 514.5,1740.5 514.7,1740.5 514.9,1740.3 515.1,1740.2 515.3,1740.0 515.5,1739.7 515.8,1739.3 516.0,1738.7 516.2,1738.0 516.4,1737.0 516.6,1735.9 516.9,1734.6 517.1,1733.0 517.3,1731.4 517.5,1729.8 517.7,1728.3 517.9,1727.1 518.2,1726.3 518.4,1726.0 518.6,1726.3 518.8,1727.1 519.0,1728.3 519.3,1729.8 519.5,1731.4 519.7,1733.0 519.9,1734.5 520.1,1735.8 520.3,1737.0 520.6,1737.9 520.8,1738.6 521.0,1739.2 521.2,1739.6 521.4,1739.9 521.7,1740.1 521.9,1740.2 522.1,1740.3 522.3,1740.4 522.5,1740.4 522.7,1740.5 523.0,1740.5 523.2,1740.5 523.4,1740.5 523.6,1740.6 523.8,1740.6 524.1,1740.6 524.3,1740.6 524.5,1740.6 524.7,1740.6 524.9,1740.6 525.1,1740.6 525.4,1740.6 525.6,1740.6 525.8,1740.7 526.0,1740.7 526.2,1740.7 526.5,1740.7 526.7,1740.7 526.9,1740.7 527.1,1740.7 527.3,1740.7 527.5,1740.7 527.8,1740.7 528.0,1740.7 528.2,1740.7 528.4,1740.7 528.6,1740.7 528.9,1740.7 529.1,1740.7 529.3,1740.7 529.5,1740.7 529.7,1740.7 529.9,1740.7 530.2,1740.7 530.4,1740.6 530.6,1740.6 530.8,1740.6 531.0,1740.6 531.3,1740.6 531.5,1740.6 531.7,1740.6 531.9,1740.6 532.1,1740.6 532.3,1740.6 532.6,1740.6 532.8,1740.6 533.0,1740.6 533.2,1740.6 533.4,1740.6 533.7,1740.6 533.9,1740.6 534.1,1740.6 534.3,1740.6 534.5,1740.6 534.7,1740.6 535.0,1740.6 535.2,1740.6 535.4,1740.6 535.6,1740.6 535.8,1740.6 536.1,1740.6 536.3,1740.6 536.5,1740.6 536.7,1740.6 536.9,1740.6 537.1,1740.5 537.4,1740.5 537.6,1740.5 537.8,1740.5 538.0,1740.5 538.2,1740.5 538.5,1740.5 538.7,1740.5 538.9,1740.5 539.1,1740.5 539.3,1740.5 539.5,1740.5 539.8,1740.5 540.0,1740.5 540.2,1740.5 540.4,1740.5 540.6,1740.5 540.9,1740.5 541.1,1740.5 541.3,1740.5 541.5,1740.5 541.7,1740.5 541.9,1740.5 542.2,1740.5 542.4,1740.5 542.6,1740.4 542.8,1740.4 543.0,1740.4 543.3,1740.4 543.5,1740.4 543.7,1740.4 543.9,1740.4 544.1,1740.4 544.3,1740.4 544.6,1740.4 544.8,1740.4 545.0,1740.4 545.2,1740.4 545.4,1740.4 545.7,1740.4 545.9,1740.4 546.1,1740.4 546.3,1740.4 546.5,1740.4 546.7,1740.4 547.0,1740.4 547.2,1740.4 547.4,1740.4 547.6,1740.4 547.8,1740.3 548.1,1740.3 548.3,1740.3 548.5,1740.3 548.7,1740.3 548.9,1740.3 549.1,1740.3 549.4,1740.3 549.6,1740.3 549.8,1740.3 550.0,1740.3 550.2,1740.3 550.5,1740.3 550.7,1740.3 550.9,1740.3 551.1,1740.3 551.3,1740.3 551.5,1740.3 551.8,1740.3 552.0,1740.3 552.2,1740.3 552.4,1740.3 552.6,1740.3 552.9,1740.3 553.1,1740.2 553.3,1740.2 553.5,1740.2 553.7,1740.2 553.9,1740.2 554.2,1740.2 554.4,1740.2 554.6,1740.2 554.8,1740.2 555.0,1740.2 555.3,1740.2 555.5,1740.2 555.7,1740.2 555.9,1740.2 556.1,1740.2 556.3,1740.2 556.6,1740.2 556.8,1740.2 557.0,1740.2 557.2,1740.2 557.4,1740.2 557.7,1740.2 557.9,1740.2 558.1,1740.1 558.3,1740.1 558.5,1740.1 558.7,1740.1 559.0,1740.1 559.2,1740.1 559.4,1740.1 559.6,1740.1 559.8,1740.1 560.1,1740.1 560.3,1740.1 560.5,1740.1 560.7,1740.1 560.9,1740.1 561.1,1740.1 561.4,1740.1 561.6,1740.1 561.8,1740.1 562.0,1740.1 562.2,1740.1 562.5,1740.1 562.7,1740.1 562.9,1740.1 563.1,1740.0 563.3,1740.0 563.5,1740.0 563.8,1740.0 564.0,1740.0 564.2,1740.0 564.4,1740.0 564.6,1740.0 564.9,1740.0 565.1,1740.0 565.3,1740.0 565.5,1740.0 565.7,1740.0 565.9,1740.0 566.2,1740.0 566.4,1740.0 566.6,1740.0 566.8,1740.0 567.0,1740.0 567.3,1740.0 567.5,1740.0 567.7,1740.0 567.9,1739.9 568.1,1739.9 568.3,1739.9 568.6,1739.9 568.8,1739.9 569.0,1739.9 569.2,1739.9 569.4,1739.9 569.7,1739.9 569.9,1739.9 570.1,1739.9 570.3,1739.9 570.5,1739.9 570.8,1739.9 571.0,1739.9 571.2,1739.9 571.4,1739.9 571.6,1739.9 571.8,1739.9 572.1,1739.9 572.3,1739.9 572.5,1739.9 572.7,1739.8 572.9,1739.8 573.2,1739.8 573.4,1739.8 573.6,1739.8 573.8,1739.8 574.0,1739.8 574.2,1739.8 574.5,1739.8 574.7,1739.8 574.9,1739.8 575.1,1739.8 575.3,1739.8 575.6,1739.8 575.8,1739.8 576.0,1739.8 576.2,1739.8 576.4,1739.8 576.6,1739.8 576.9,1739.8 577.1,1739.7 577.3,1739.7 577.5,1739.7 577.7,1739.7 578.0,1739.7 578.2,1739.7 578.4,1739.7 578.6,1739.7 578.8,1739.7 579.0,1739.7 579.3,1739.7 579.5,1739.7 579.7,1739.7 579.9,1739.7 580.1,1739.7 580.4,1739.7 580.6,1739.7 580.8,1739.6 581.0,1739.6 581.2,1739.6 581.4,1739.6 581.7,1739.6 581.9,1739.6 582.1,1739.6 582.3,1739.6 582.5,1739.6 582.8,1739.6 583.0,1739.6 583.2,1739.6 583.4,1739.5 583.6,1739.5 583.8,1739.5 584.1,1739.5 584.3,1739.5 584.5,1739.5 584.7,1739.5 584.9,1739.5 585.2,1739.5 585.4,1739.4 585.6,1739.4 585.8,1739.4 586.0,1739.4 586.2,1739.4 586.5,1739.4 586.7,1739.3 586.9,1739.3 587.1,1739.3 587.3,1739.3 587.6,1739.2 587.8,1739.2 588.0,1739.2 588.2,1739.1 588.4,1739.0 588.6,1739.0 588.9,1738.9 589.1,1738.8 589.3,1738.6 589.5,1738.3 589.7,1738.0 590.0,1737.5 590.2,1736.9 590.4,1736.0 590.6,1734.9 590.8,1733.6 591.0,1732.0 591.3,1730.2 591.5,1728.3 591.7,1726.4 591.9,1724.7 592.1,1723.3 592.4,1722.3 592.6,1722.0 592.8,1722.3 593.0,1723.2 593.2,1724.7 593.4,1726.4 593.7,1728.3 593.9,1730.2 594.1,1731.9 594.3,1733.5 594.5,1734.8 594.8,1735.9 595.0,1736.8 595.2,1737.4 595.4,1737.9 595.6,1738.2 595.8,1738.4 596.1,1738.6 596.3,1738.7 596.5,1738.8 596.7,1738.9 596.9,1738.9 597.2,1739.0 597.4,1739.0 597.6,1739.0 597.8,1739.0 598.0,1739.1 598.2,1739.1 598.5,1739.1 598.7,1739.1 598.9,1739.1 599.1,1739.1 599.3,1739.1 599.6,1739.1 599.8,1739.1 600.0,1739.1 600.2,1739.1 600.4,1739.2 600.6,1739.2 600.9,1739.2 601.1,1739.2 601.3,1739.2 601.5,1739.2 601.7,1739.2 602.0,1739.2 602.2,1739.2 602.4,1739.2 602.6,1739.2 602.8,1739.2 603.0,1739.2 603.3,1739.2 603.5,1739.1 603.7,1739.1 603.9,1739.1 604.1,1739.1 604.4,1739.1 604.6,1739.1 604.8,1739.1 605.0,1739.1 605.2,1739.1 605.4,1739.1 605.7,1739.1 605.9,1739.1 606.1,1739.1 606.3,1739.1 606.5,1739.1 606.8,1739.1 607.0,1739.1 607.2,1739.1 607.4,1739.1 607.6,1739.1 607.8,1739.0 608.1,1739.0 608.3,1739.0 608.5,1739.0 608.7,1739.0 608.9,1739.0 609.2,1739.0 609.4,1739.0 609.6,1739.0 609.8,1739.0 610.0,1738.9 610.2,1738.9 610.5,1738.9 610.7,1738.9 610.9,1738.9 611.1,1738.9 611.3,1738.8 611.6,1738.8 611.8,1738.8 612.0,1738.7 612.2,1738.7 612.4,1738.7 612.6,1738.6 612.9,1738.5 613.1,1738.4 613.3,1738.3 613.5,1738.1 613.7,1737.8 614.0,1737.4 614.2,1736.9 614.4,1736.2 614.6,1735.3 614.8,1734.3 615.0,1733.0 615.3,1731.6 615.5,1730.1 615.7,1728.5 615.9,1727.1 616.1,1726.0 616.4,1725.2 616.6,1725.0 616.8,1725.2 617.0,1726.0 617.2,1727.1 617.4,1728.5 617.7,1730.0 617.9,1731.5 618.1,1733.0 618.3,1734.2 618.5,1735.3 618.8,1736.1 619.0,1736.8 619.2,1737.3 619.4,1737.7 619.6,1738.0 619.8,1738.2 620.1,1738.3 620.3,1738.4 620.5,1738.5 620.7,1738.5 620.9,1738.5 621.2,1738.6 621.4,1738.6 621.6,1738.6 621.8,1738.6 622.0,1738.7 622.2,1738.7 622.5,1738.7 622.7,1738.7 622.9,1738.7 623.1,1738.7 623.3,1738.7 623.6,1738.7 623.8,1738.7 624.0,1738.7 624.2,1738.7 624.4,1738.7 624.6,1738.7 624.9,1738.7 625.1,1738.7 625.3,1738.7 625.5,1738.7 625.7,1738.7 626.0,1738.7 626.2,1738.7 626.4,1738.7 626.6,1738.7 626.8,1738.7 627.0,1738.7 627.3,1738.7 627.5,1738.7 627.7,1738.7 627.9,1738.7 628.1,1738.7 628.4,1738.7 628.6,1738.7 628.8,1738.7 629.0,1738.7 629.2,1738.7 629.4,1738.7 629.7,1738.7 629.9,1738.7 630.1,1738.7 630.3,1738.7 630.5,1738.7 630.8,1738.7 631.0,1738.7 631.2,1738.7 631.4,1738.7 631.6,1738.7 631.8,1738.7 632.1,1738.7 632.3,1738.7 632.5,1738.7 632.7,1738.7 632.9,1738.7 633.2,1738.6 633.4,1738.6 633.6,1738.6 633.8,1738.6 634.0,1738.6 634.2,1738.6 634.5,1738.6 634.7,1738.6 634.9,1738.6 635.1,1738.6 635.3,1738.6 635.6,1738.6 635.8,1738.6 636.0,1738.6 636.2,1738.6 636.4,1738.6 636.6,1738.6 636.9,1738.6 637.1,1738.6 637.3,1738.6 637.5,1738.6 637.7,1738.6 638.0,1738.6 638.2,1738.6 638.4,1738.6 638.6,1738.6 638.8,1738.5 639.0,1738.5 639.3,1738.5 639.5,1738.5 639.7,1738.5 639.9,1738.5 640.1,1738.5 640.4,1738.5 640.6,1738.5 640.8,1738.5 641.0,1738.5 641.2,1738.5 641.4,1738.5 641.7,1738.5 641.9,1738.5 642.1,1738.5 642.3,1738.5 642.5,1738.5 642.8,1738.5 643.0,1738.5 643.2,1738.5 643.4,1738.5 643.6,1738.5 643.8,1738.5 644.1,1738.4 644.3,1738.4 644.5,1738.4 644.7,1738.4 644.9,1738.4 645.2,1738.4 645.4,1738.4 645.6,1738.4 645.8,1738.4 646.0,1738.4 646.2,1738.4 646.5,1738.4 646.7,1738.4 646.9,1738.4 647.1,1738.4 647.3,1738.4 647.6,1738.4 647.8,1738.4 648.0,1738.4 648.2,1738.4 648.4,1738.4 648.6,1738.4 648.9,1738.4 649.1,1738.3 649.3,1738.3 649.5,1738.3 649.7,1738.3 650.0,1738.3 650.2,1738.3 650.4,1738.3 650.6,1738.3 650.8,1738.3 651.0,1738.3 651.3,1738.3 651.5,1738.3 651.7,1738.3 651.9,1738.3 652.1,1738.3 652.4,1738.3 652.6,1738.3 652.8,1738.3 653.0,1738.3 653.2,1738.3 653.4,1738.3 653.7,1738.3 653.9,1738.2 654.1,1738.2 654.3,1738.2 654.5,1738.2 654.8,1738.2 655.0,1738.2 655.2,1738.2 655.4,1738.2 655.6,1738.2 655.8,1738.2 656.1,1738.2 656.3,1738.2 656.5,1738.2 656.7,1738.2 656.9,1738.2 657.2,1738.2 657.4,1738.2 657.6,1738.2 657.8,1738.2 658.0,1738.2 658.2,1738.2 658.5,1738.2 658.7,1738.1 658.9,1738.1 659.1,1738.1 659.3,1738.1 659.6,1738.1 659.8,1738.1 660.0,1738.1 660.2,1738.1 660.4,1738.1 660.6,1738.1 660.9,1738.1 661.1,1738.1 661.3,1738.1 661.5,1738.1 661.7,1738.1 662.0,1738.1 662.2,1738.1 662.4,1738.1 662.6,1738.1 662.8,1738.1 663.0,1738.1 663.3,1738.1 663.5,1738.0 663.7,1738.0 663.9,1738.0 664.1,1738.0 664.4,1738.0 664.6,1738.0 664.8,1738.0 665.0,1738.0 665.2,1738.0 665.4,1738.0 665.7,1738.0 665.9,1738.0 666.1,1738.0 666.3,1738.0 666.5,1738.0 666.8,1738.0 667.0,1738.0 667.2,1738.0 667.4,1738.0 667.6,1738.0 667.8,1737.9 668.1,1737.9 668.3,1737.9 668.5,1737.9 668.7,1737.9 668.9,1737.9 669.2,1737.9 669.4,1737.9 669.6,1737.9 669.8,1737.9 670.0,1738.0 670.2,1738.0 670.5,1738.0 670.7,1738.0 670.9,1738.0 671.1,1738.0 671.3,1738.0 671.6,1738.0 671.8,1738.0 672.0,1738.0 672.2,1738.0 672.4,1738.0 672.6,1738.0 672.9,1738.0 673.1,1738.0 673.3,1738.0 673.5,1738.0 673.7,1738.0 674.0,1738.1 674.2,1738.1 674.4,1738.1 674.6,1738.1 674.8,1738.1 675.0,1738.1 675.3,1738.1 675.5,1738.1 675.7,1738.1 675.9,1738.1 676.1,1738.1 676.4,1738.1 676.6,1738.1 676.8,1738.1 677.0,1738.1 677.2,1738.1 677.4,1738.1 677.7,1738.1 677.9,1738.1 678.1,1738.1 678.3,1738.2 678.5,1738.2 678.8,1738.2 679.0,1738.2 679.2,1738.2 679.4,1738.2 679.6,1738.2 679.9,1738.2 680.1,1738.2 680.3,1738.2 680.5,1738.2 680.7,1738.2 680.9,1738.2 681.2,1738.2 681.4,1738.2 681.6,1738.2 681.8,1738.2 682.0,1738.2 682.3,1738.2 682.5,1738.2 682.7,1738.2 682.9,1738.2 683.1,1738.2 683.3,1738.2 683.6,1738.2 683.8,1738.2 684.0,1738.2 684.2,1738.2 684.4,1738.2 684.7,1738.2 684.9,1738.2 685.1,1738.3 685.3,1738.3 685.5,1738.3 685.7,1738.3 686.0,1738.3 686.2,1738.3 686.4,1738.3 686.6,1738.3 686.8,1738.3 687.1,1738.3 687.3,1738.3 687.5,1738.3 687.7,1738.2 687.9,1738.2 688.1,1738.2 688.4,1738.2 688.6,1738.2 688.8,1738.2 689.0,1738.2 689.2,1738.2 689.5,1738.2 689.7,1738.2 689.9,1738.2 690.1,1738.2 690.3,1738.2 690.5,1738.2 690.8,1738.2 691.0,1738.2 691.2,1738.2 691.4,1738.2 691.6,1738.1 691.9,1738.1 692.1,1738.1 692.3,1738.1 692.5,1738.1 692.7,1738.1 692.9,1738.0 693.2,1738.0 693.4,1738.0 693.6,1738.0 693.8,1738.0 694.0,1737.9 694.3,1737.9 694.5,1737.9 694.7,1737.8 694.9,1737.8 695.1,1737.7 695.3,1737.7 695.6,1737.6 695.8,1737.6 696.0,1737.5 696.2,1737.5 696.4,1737.4 696.7,1737.3 696.9,1737.2 697.1,1737.1 697.3,1737.0 697.5,1736.9 697.7,1736.8 698.0,1736.7 698.2,1736.5 698.4,1736.3 698.6,1736.1 698.8,1735.9 699.1,1735.6 699.3,1735.3 699.5,1734.8 699.7,1734.2 699.9,1733.5 700.1,1732.4 700.4,1731.0 700.6,1729.1 700.8,1726.5 701.0,1723.1 701.2,1718.7 701.5,1713.1 701.7,1706.3 701.9,1698.1 702.1,1688.6 702.3,1678.1 702.5,1666.9 702.8,1655.4 703.0,1644.4 703.2,1634.6 703.4,1626.8 703.6,1621.7 703.9,1620.0 704.1,1621.7 704.3,1626.8 704.5,1634.6 704.7,1644.5 704.9,1655.5 705.2,1667.0 705.4,1678.2 705.6,1688.7 705.8,1698.2 706.0,1706.4 706.3,1713.3 706.5,1718.9 706.7,1723.3 706.9,1726.7 707.1,1729.3 707.3,1731.2 707.6,1732.7 707.8,1733.7 708.0,1734.5 708.2,1735.1 708.4,1735.5 708.7,1735.9 708.9,1736.2 709.1,1736.4 709.3,1736.7 709.5,1736.9 709.7,1737.0 710.0,1737.2 710.2,1737.3 710.4,1737.4 710.6,1737.6 710.8,1737.7 711.1,1737.8 711.3,1737.8 711.5,1737.9 711.7,1738.0 711.9,1738.1 712.1,1738.2 712.4,1738.2 712.6,1738.3 712.8,1738.3 713.0,1738.4 713.2,1738.4 713.5,1738.5 713.7,1738.5 713.9,1738.6 714.1,1738.6 714.3,1738.6 714.5,1738.7 714.8,1738.7 715.0,1738.7 715.2,1738.8 715.4,1738.8 715.6,1738.8 715.9,1738.9 716.1,1738.9 716.3,1738.9 716.5,1738.9 716.7,1739.0 716.9,1739.0 717.2,1739.0 717.4,1739.0 717.6,1739.0 717.8,1739.1 718.0,1739.1 718.3,1739.1 718.5,1739.1 718.7,1739.1 718.9,1739.2 719.1,1739.2 719.3,1739.2 719.6,1739.2 719.8,1739.2 720.0,1739.2 720.2,1739.2 720.4,1739.3 720.7,1739.3 720.9,1739.3 721.1,1739.3 721.3,1739.3 721.5,1739.3 721.7,1739.3 722.0,1739.4 722.2,1739.4 722.4,1739.4 722.6,1739.4 722.8,1739.4 723.1,1739.4 723.3,1739.4 723.5,1739.4 723.7,1739.5 723.9,1739.5 724.1,1739.5 724.4,1739.5 724.6,1739.5 724.8,1739.5 725.0,1739.5 725.2,1739.5 725.5,1739.5 725.7,1739.5 725.9,1739.6 726.1,1739.6 726.3,1739.6 726.5,1739.6 726.8,1739.6 727.0,1739.6 727.2,1739.6 727.4,1739.6 727.6,1739.6 727.9,1739.6 728.1,1739.7 728.3,1739.7 728.5,1739.7 728.7,1739.7 728.9,1739.7 729.2,1739.7 729.4,1739.7 729.6,1739.7 729.8,1739.7 730.0,1739.7 730.3,1739.7 730.5,1739.7 730.7,1739.8 730.9,1739.8 731.1,1739.8 731.3,1739.8 731.6,1739.8 731.8,1739.8 732.0,1739.8 732.2,1739.8 732.4,1739.8 732.7,1739.8 732.9,1739.8 733.1,1739.8 733.3,1739.9 733.5,1739.9 733.7,1739.9 734.0,1739.9 734.2,1739.9 734.4,1739.9 734.6,1739.9 734.8,1739.9 735.1,1739.9 735.3,1739.9 735.5,1739.9 735.7,1739.9 735.9,1740.0 736.1,1740.0 736.4,1740.0 736.6,1740.0 736.8,1740.0 737.0,1740.0 737.2,1740.0 737.5,1740.0 737.7,1740.0 737.9,1740.0 738.1,1740.0 738.3,1740.1 738.5,1740.1 738.8,1740.1 739.0,1740.1 739.2,1740.1 739.4,1740.1 739.6,1740.1 739.9,1740.1 740.1,1740.1 740.3,1740.1 740.5,1740.1 740.7,1740.1 740.9,1740.2 741.2,1740.2 741.4,1740.2 741.6,1740.2 741.8,1740.2 742.0,1740.2 742.3,1740.2 742.5,1740.2 742.7,1740.2 742.9,1740.2 743.1,1740.2 743.3,1740.3 743.6,1740.3 743.8,1740.3 744.0,1740.3 744.2,1740.3 744.4,1740.3 744.7,1740.3 744.9,1740.3 745.1,1740.3 745.3,1740.3 745.5,1740.3 745.7,1740.3 746.0,1740.3 746.2,1740.4 746.4,1740.4 746.6,1740.4 746.8,1740.4 747.1,1740.4 747.3,1740.4 747.5,1740.4 747.7,1740.4 747.9,1740.4 748.1,1740.4 748.4,1740.4 748.6,1740.4 748.8,1740.5 749.0,1740.5 749.2,1740.5 749.5,1740.5 749.7,1740.5 749.9,1740.5 750.1,1740.5 750.3,1740.5 750.5,1740.5 750.8,1740.5 751.0,1740.5 751.2,1740.5 751.4,1740.5 751.6,1740.6 751.9,1740.6 752.1,1740.6 752.3,1740.6 752.5,1740.6 752.7,1740.6 752.9,1740.6 753.2,1740.6 753.4,1740.6 753.6,1740.6 753.8,1740.6 754.0,1740.6 754.3,1740.6 754.5,1740.7 754.7,1740.7 754.9,1740.7 755.1,1740.7 755.3,1740.7 755.6,1740.7 755.8,1740.7 756.0,1740.7 756.2,1740.7 756.4,1740.7 756.7,1740.7 756.9,1740.7 757.1,1740.7 757.3,1740.7 757.5,1740.8 757.7,1740.8 758.0,1740.8 758.2,1740.8 758.4,1740.8 758.6,1740.8 758.8,1740.8 759.1,1740.8 759.3,1740.8 759.5,1740.8 759.7,1740.8 759.9,1740.8 760.1,1740.8 760.4,1740.8 760.6,1740.8 760.8,1740.9 761.0,1740.9 761.2,1740.9 761.5,1740.9 761.7,1740.9 761.9,1740.9 762.1,1740.9 762.3,1740.9 762.5,1740.9 762.8,1740.9 763.0,1740.9 763.2,1740.9 763.4,1740.9 763.6,1740.9 763.9,1740.9 764.1,1740.9 764.3,1740.9 764.5,1740.9 764.7,1740.9 764.9,1740.9 765.2,1740.9 765.4,1741.0 765.6,1741.0 765.8,1741.0 766.0,1741.0 766.3,1741.0 766.5,1741.0 766.7,1741.0 766.9,1741.0 767.1,1741.0 767.3,1741.0 767.6,1741.0 767.8,1741.0 768.0,1741.0 768.2,1741.0 768.4,1741.0 768.7,1740.9 768.9,1740.9 769.1,1740.9 769.3,1740.9 769.5,1740.9 769.7,1740.9 770.0,1740.9 770.2,1740.9 770.4,1740.9 770.6,1740.9 770.8,1740.8 771.1,1740.8 771.3,1740.8 771.5,1740.8 771.7,1740.7 771.9,1740.7 772.1,1740.7 772.4,1740.6 772.6,1740.6 772.8,1740.5 773.0,1740.4 773.2,1740.4 773.5,1740.3 773.7,1740.2 773.9,1740.0 774.1,1739.9 774.3,1739.6 774.5,1739.3 774.8,1738.9 775.0,1738.2 775.2,1737.3 775.4,1736.0 775.6,1734.3 775.9,1732.0 776.1,1729.0 776.3,1725.4 776.5,1721.1 776.7,1716.3 776.9,1711.2 777.2,1706.0 777.4,1701.3 777.6,1697.4 777.8,1694.9 778.0,1694.0 778.3,1694.9 778.5,1697.5 778.7,1701.3 778.9,1706.1 779.1,1711.3 779.3,1716.4 779.6,1721.2 779.8,1725.5 780.0,1729.2 780.2,1732.1 780.4,1734.4 780.7,1736.2 780.9,1737.5 781.1,1738.4 781.3,1739.1 781.5,1739.6 781.7,1739.9 782.0,1740.2 782.2,1740.4 782.4,1740.5 782.6,1740.6 782.8,1740.7 783.1,1740.8 783.3,1740.9 783.5,1741.0 783.7,1741.0 783.9,1741.1 784.1,1741.2 784.4,1741.2 784.6,1741.3 784.8,1741.3 785.0,1741.3 785.2,1741.4 785.5,1741.4 785.7,1741.4 785.9,1741.5 786.1,1741.5 786.3,1741.5 786.5,1741.6 786.8,1741.6 787.0,1741.6 787.2,1741.6 787.4,1741.6 787.6,1741.7 787.9,1741.7 788.1,1741.7 788.3,1741.7 788.5,1741.7 788.7,1741.8 789.0,1741.8 789.2,1741.8 789.4,1741.8 789.6,1741.8 789.8,1741.8 790.0,1741.8 790.3,1741.9 790.5,1741.9 790.7,1741.9 790.9,1741.9 791.1,1741.9 791.4,1741.9 791.6,1741.9 791.8,1742.0 792.0,1742.0 792.2,1742.0 792.4,1742.0 792.7,1742.0 792.9,1742.0 793.1,1742.0 793.3,1742.0 793.5,1742.0 793.8,1742.1 794.0,1742.1 794.2,1742.1 794.4,1742.1 794.6,1742.1 794.8,1742.1 795.1,1742.1 795.3,1742.1 795.5,1742.1 795.7,1742.2 795.9,1742.2 796.2,1742.2 796.4,1742.2 796.6,1742.2 796.8,1742.2 797.0,1742.2 797.2,1742.2 797.5,1742.2 797.7,1742.2 797.9,1742.2 798.1,1742.3 798.3,1742.3 798.6,1742.3 798.8,1742.3 799.0,1742.3 799.2,1742.3 799.4,1742.3 799.6,1742.3 799.9,1742.3 800.1,1742.3 800.3,1742.4 800.5,1742.4 800.7,1742.4 801.0,1742.4 801.2,1742.4 801.4,1742.4 801.6,1742.4 801.8,1742.4 802.0,1742.4 802.3,1742.4 802.5,1742.4 802.7,1742.4 802.9,1742.5 803.1,1742.5 803.4,1742.5 803.6,1742.5 803.8,1742.5 804.0,1742.5 804.2,1742.5 804.4,1742.5 804.7,1742.5 804.9,1742.5 805.1,1742.5 805.3,1742.6 805.5,1742.6 805.8,1742.6 806.0,1742.6 806.2,1742.6 806.4,1742.6 806.6,1742.6 806.8,1742.6 807.1,1742.6 807.3,1742.6 807.5,1742.6 807.7,1742.6 807.9,1742.7 808.2,1742.7 808.4,1742.7 808.6,1742.7 808.8,1742.7 809.0,1742.7 809.2,1742.7 809.5,1742.7 809.7,1742.7 809.9,1742.7 810.1,1742.7 810.3,1742.7 810.6,1742.8 810.8,1742.8 811.0,1742.8 811.2,1742.8 811.4,1742.8 811.6,1742.8 811.9,1742.8 812.1,1742.8 812.3,1742.8 812.5,1742.8 812.7,1742.8 813.0,1742.8 813.2,1742.9 813.4,1742.9 813.6,1742.9 813.8,1742.9 814.0,1742.9 814.3,1742.9 814.5,1742.9 814.7,1742.9 814.9,1742.9 815.1,1742.9 815.4,1742.9 815.6,1742.9 815.8,1743.0 816.0,1743.0 816.2,1743.0 816.4,1743.0 816.7,1743.0 816.9,1743.0 817.1,1743.0 817.3,1743.0 817.5,1743.0 817.8,1743.0 818.0,1743.0 818.2,1743.0 818.4,1743.1 818.6,1743.1 818.8,1743.1 819.1,1743.1 819.3,1743.1 819.5,1743.1 819.7,1743.1 819.9,1743.1 820.2,1743.1 820.4,1743.1 820.6,1743.1 820.8,1743.1 821.0,1743.1 821.2,1743.2 821.5,1743.2 821.7,1743.2 821.9,1743.2 822.1,1743.2 822.3,1743.2 822.6,1743.2 822.8,1743.2 823.0,1743.2 823.2,1743.2 823.4,1743.2 823.6,1743.2 823.9,1743.3 824.1,1743.3 824.3,1743.3 824.5,1743.3 824.7,1743.3 825.0,1743.3 825.2,1743.3 825.4,1743.3 825.6,1743.3 825.8,1743.3 826.0,1743.3 826.3,1743.3 826.5,1743.3 826.7,1743.4 826.9,1743.4 827.1,1743.4 827.4,1743.4 827.6,1743.4 827.8,1743.4 828.0,1743.4 828.2,1743.4 828.4,1743.4 828.7,1743.4 828.9,1743.4 829.1,1743.4 829.3,1743.5 829.5,1743.5 829.8,1743.5 830.0,1743.5 830.2,1743.5 830.4,1743.5 830.6,1743.5 830.8,1743.5 831.1,1743.5 831.3,1743.5 831.5,1743.5 831.7,1743.5 831.9,1743.5 832.2,1743.6 832.4,1743.6 832.6,1743.6 832.8,1743.6 833.0,1743.6 833.2,1743.6 833.5,1743.6 833.7,1743.6 833.9,1743.6 834.1,1743.6 834.3,1743.6 834.6,1743.6 834.8,1743.6 835.0,1743.6 835.2,1743.7 835.4,1743.7 835.6,1743.7 835.9,1743.7 836.1,1743.7 836.3,1743.7 836.5,1743.7 836.7,1743.7 837.0,1743.7 837.2,1743.7 837.4,1743.7 837.6,1743.7 837.8,1743.7 838.0,1743.7 838.3,1743.7 838.5,1743.7 838.7,1743.7 838.9,1743.7 839.1,1743.8 839.4,1743.8 839.6,1743.8 839.8,1743.8 840.0,1743.8 840.2,1743.8 840.4,1743.8 840.7,1743.8 840.9,1743.8 841.1,1743.8 841.3,1743.7 841.5,1743.7 841.8,1743.7 842.0,1743.7 842.2,1743.7 842.4,1743.6 842.6,1743.5 842.8,1743.4 843.1,1743.3 843.3,1743.1 843.5,1742.8 843.7,1742.4 843.9,1741.9 844.2,1741.4 844.4,1740.8 844.6,1740.2 844.8,1739.5 845.0,1738.9 845.2,1738.4 845.5,1738.1 845.7,1738.0 845.9,1738.1 846.1,1738.4 846.3,1738.9 846.6,1739.5 846.8,1740.2 847.0,1740.9 847.2,1741.5 847.4,1742.0 847.6,1742.5 847.9,1742.9 848.1,1743.2 848.3,1743.4 848.5,1743.5 848.7,1743.7 849.0,1743.8 849.2,1743.8 849.4,1743.9 849.6,1743.9 849.8,1743.9 850.0,1744.0 850.3,1744.0 850.5,1744.0 850.7,1744.0 850.9,1744.0 851.1,1744.0 851.4,1744.0 851.6,1744.0 851.8,1744.1 852.0,1744.1 852.2,1744.1 852.4,1744.1 852.7,1744.1 852.9,1744.1 853.1,1744.1 853.3,1744.1 853.5,1744.1 853.8,1744.1 854.0,1744.1 854.2,1744.1 854.4,1744.1 854.6,1744.2 854.8,1744.2 855.1,1744.2 855.3,1744.2 855.5,1744.2 855.7,1744.2 855.9,1744.2 856.2,1744.2 856.4,1744.2 856.6,1744.2 856.8,1744.2 857.0,1744.2 857.2,1744.2 857.5,1744.2 857.7,1744.2 857.9,1744.2 858.1,1744.2 858.3,1744.2 858.6,1744.2 858.8,1744.3 859.0,1744.3 859.2,1744.3 859.4,1744.3 859.6,1744.3 859.9,1744.3 860.1,1744.3 860.3,1744.3 860.5,1744.3 860.7,1744.3 861.0,1744.3 861.2,1744.3 861.4,1744.3 861.6,1744.3 861.8,1744.3 862.0,1744.3 862.3,1744.3 862.5,1744.3 862.7,1744.3 862.9,1744.3 863.1,1744.3 863.4,1744.3 863.6,1744.3 863.8,1744.4 864.0,1744.4 864.2,1744.4 864.4,1744.4 864.7,1744.4 864.9,1744.4 865.1,1744.4 865.3,1744.4 865.5,1744.4 865.8,1744.4 866.0,1744.4 866.2,1744.4 866.4,1744.4 866.6,1744.4 866.8,1744.4 867.1,1744.4 867.3,1744.4 867.5,1744.4 867.7,1744.4 867.9,1744.4 868.2,1744.4 868.4,1744.4 868.6,1744.4 868.8,1744.4 869.0,1744.5 869.2,1744.5 869.5,1744.5 869.7,1744.5 869.9,1744.5 870.1,1744.5 870.3,1744.5 870.6,1744.5 870.8,1744.5 871.0,1744.5 871.2,1744.5 871.4,1744.5 871.6,1744.5 871.9,1744.5 872.1,1744.5 872.3,1744.5 872.5,1744.5 872.7,1744.5 873.0,1744.5 873.2,1744.5 873.4,1744.5 873.6,1744.5 873.8,1744.5 874.0,1744.5 874.3,1744.6 874.5,1744.6 874.7,1744.6 874.9,1744.6 875.1,1744.6 875.4,1744.6 875.6,1744.6 875.8,1744.6 876.0,1744.6 876.2,1744.6 876.4,1744.6 876.7,1744.6 876.9,1744.6 877.1,1744.6 877.3,1744.6 877.5,1744.6 877.8,1744.6 878.0,1744.6 878.2,1744.6 878.4,1744.6 878.6,1744.6 878.8,1744.6 879.1,1744.6 879.3,1744.6 879.5,1744.6 879.7,1744.7 879.9,1744.7 880.2,1744.7 880.4,1744.7 880.6,1744.7 880.8,1744.7 881.0,1744.7 881.2,1744.7 881.5,1744.7 881.7,1744.7 881.9,1744.7 882.1,1744.7 882.3,1744.7 882.6,1744.7 882.8,1744.7 883.0,1744.7 883.2,1744.7 883.4,1744.7 883.6,1744.7 883.9,1744.7 884.1,1744.7 884.3,1744.7 884.5,1744.7 884.7,1744.7 885.0,1744.8 885.2,1744.8 885.4,1744.8 885.6,1744.8 885.8,1744.8 886.0,1744.8 886.3,1744.8 886.5,1744.8 886.7,1744.8 886.9,1744.8 887.1,1744.8 887.4,1744.8 887.6,1744.8 887.8,1744.8 888.0,1744.8 888.2,1744.8 888.4,1744.8 888.7,1744.8 888.9,1744.8 889.1,1744.8 889.3,1744.8 889.5,1744.8 889.8,1744.8 890.0,1744.8 890.2,1744.8 890.4,1744.9 890.6,1744.9 890.8,1744.9 891.1,1744.9 891.3,1744.9 891.5,1744.9 891.7,1744.9 891.9,1744.9 892.2,1744.9 892.4,1744.9 892.6,1744.9 892.8,1744.9 893.0,1744.9 893.2,1744.9 893.5,1744.9 893.7,1744.9 893.9,1744.9 894.1,1744.9 894.3,1744.9 894.6,1744.9 894.8,1744.9 895.0,1744.9 895.2,1744.9 895.4,1744.9 895.6,1744.9 895.9,1745.0 896.1,1745.0 896.3,1745.0 896.5,1745.0 896.7,1745.0 897.0,1745.0 897.2,1745.0 897.4,1745.0 897.6,1745.0 897.8,1745.0 898.1,1745.0 898.3,1745.0 898.5,1745.0 898.7,1745.0 898.9,1745.0 899.1,1745.0 899.4,1745.0 899.6,1745.0 899.8,1745.0 900.0,1745.0 900.2,1745.0 900.5,1745.0 900.7,1745.0 900.9,1745.0 901.1,1745.0 901.3,1745.1 901.5,1745.1 901.8,1745.1 902.0,1745.1 902.2,1745.1 902.4,1745.1 902.6,1745.1 902.9,1745.1 903.1,1745.1 903.3,1745.1 903.5,1745.1 903.7,1745.1 903.9,1745.1 904.2,1745.1 904.4,1745.1 904.6,1745.1 904.8,1745.1 905.0,1745.1 905.3,1745.1 905.5,1745.1 905.7,1745.1 905.9,1745.1 906.1,1745.1 906.3,1745.1 906.6,1745.1 906.8,1745.2 907.0,1745.2 907.2,1745.2 907.4,1745.2 907.7,1745.2 907.9,1745.2 908.1,1745.2 908.3,1745.2 908.5,1745.2 908.7,1745.2 909.0,1745.2 909.2,1745.2 909.4,1745.2 909.6,1745.2 909.8,1745.2 910.1,1745.2 910.3,1745.2 910.5,1745.2 910.7,1745.2 910.9,1745.2 911.1,1745.2 911.4,1745.2 911.6,1745.2 911.8,1745.2 912.0,1745.2 912.2,1745.3 912.5,1745.3 912.7,1745.3 912.9,1745.3 913.1,1745.3 913.3,1745.3 913.5,1745.3 913.8,1745.3 914.0,1745.3 914.2,1745.3 914.4,1745.3 914.6,1745.3 914.9,1745.3 915.1,1745.3 915.3,1745.3 915.5,1745.3 915.7,1745.3 915.9,1745.3 916.2,1745.3 916.4,1745.3 916.6,1745.3 916.8,1745.3 917.0,1745.3 917.3,1745.3 917.5,1745.3 917.7,1745.4 917.9,1745.4 918.1,1745.4 918.3,1745.4 918.6,1745.4 918.8,1745.4 919.0,1745.4 919.2,1745.4 919.4,1745.4 919.7,1745.4 919.9,1745.4 920.1,1745.4 920.3,1745.4 920.5,1745.4 920.7,1745.4 921.0,1745.4 921.2,1745.4 921.4,1745.4 921.6,1745.4 921.8,1745.4 922.1,1745.4 922.3,1745.4 922.5,1745.4 922.7,1745.4 922.9,1745.4 923.1,1745.5 923.4,1745.5 923.6,1745.5 923.8,1745.5 924.0,1745.5 924.2,1745.5 924.5,1745.5 924.7,1745.5 924.9,1745.5 925.1,1745.5 925.3,1745.5 925.5,1745.5 925.8,1745.5 926.0,1745.5 926.2,1745.5 926.4,1745.5 926.6,1745.5 926.9,1745.5 927.1,1745.5 927.3,1745.5 927.5,1745.5 927.7,1745.5 927.9,1745.5 928.2,1745.5 928.4,1745.5 928.6,1745.6 928.8,1745.6 929.0,1745.6 929.3,1745.6 929.5,1745.6 929.7,1745.6 929.9,1745.6 930.1,1745.6 930.3,1745.6 930.6,1745.6 930.8,1745.6 931.0,1745.6 931.2,1745.6 931.4,1745.6 931.7,1745.6 931.9,1745.6 932.1,1745.6 932.3,1745.6 932.5,1745.6 932.7,1745.6 933.0,1745.6 933.2,1745.6 933.4,1745.6 933.6,1745.6 933.8,1745.6 934.1,1745.6 934.3,1745.7 934.5,1745.7 934.7,1745.7 934.9,1745.7 935.1,1745.7 935.4,1745.7 935.6,1745.7 935.8,1745.7 936.0,1745.7 936.2,1745.7 936.5,1745.7 936.7,1745.7 936.9,1745.7 937.1,1745.7 937.3,1745.7 937.5,1745.7 937.8,1745.7 938.0,1745.7 938.2,1745.7 938.4,1745.7 938.6,1745.7 938.9,1745.7 939.1,1745.7 939.3,1745.7 939.5,1745.7 939.7,1745.8 939.9,1745.8 940.2,1745.8 940.4,1745.8 940.6,1745.8 940.8,1745.8 941.0,1745.8 941.3,1745.8 941.5,1745.8 941.7,1745.8 941.9,1745.8 942.1,1745.8 942.3,1745.8 942.6,1745.8 942.8,1745.8 943.0,1745.8 943.2,1745.8 943.4,1745.8 943.7,1745.8 943.9,1745.8 944.1,1745.8 944.3,1745.8 944.5,1745.8 944.7,1745.8 945.0,1745.8 945.2,1745.8 945.4,1745.9 945.6,1745.9 945.8,1745.9 946.1,1745.9 946.3,1745.9 946.5,1745.9 946.7,1745.9 946.9,1745.9 947.1,1745.9 947.4,1745.9 947.6,1745.9 947.8,1745.9 948.0,1745.9 948.2,1745.9 948.5,1745.9 948.7,1745.9 948.9,1745.9 949.1,1745.9 949.3,1745.9 949.5,1745.9 949.8,1745.9 950.0,1745.9 950.2,1745.9 950.4,1745.9 950.6,1745.9 950.9,1745.9 951.1,1745.9 951.3,1745.9 951.5,1746.0 951.7,1746.0 951.9,1746.0 952.2,1746.0 952.4,1746.0 952.6,1746.0 952.8,1746.0 953.0,1746.0 953.3,1746.0 953.5,1746.0 953.7,1746.0 953.9,1746.0 954.1,1746.0 954.3,1746.0 954.6,1746.0 954.8,1746.0 955.0,1746.0 955.2,1746.0 955.4,1746.0 955.7,1746.0 955.9,1746.0 956.1,1746.0 956.3,1746.0 956.5,1746.0 956.7,1746.0 957.0,1746.0 957.2,1746.0 957.4,1746.0 957.6,1746.0 957.8,1746.0 958.1,1746.0 958.3,1746.0 958.5,1746.0 958.7,1746.0 958.9,1746.0 959.1,1746.0 959.4,1746.0 959.6,1746.0 959.8,1746.0 960.0,1746.0 960.2,1746.0 960.5,1746.0 960.7,1746.0 960.9,1746.0 961.1,1746.0 961.3,1746.0 961.5,1746.0 961.8,1746.0 962.0,1746.0 962.2,1746.0 962.4,1746.0 962.6,1746.0 962.9,1745.9 963.1,1745.9 963.3,1745.9 963.5,1745.9 963.7,1745.9 963.9,1745.9 964.2,1745.9 964.4,1745.9 964.6,1745.9 964.8,1745.8 965.0,1745.8 965.3,1745.8 965.5,1745.8 965.7,1745.7 965.9,1745.7 966.1,1745.6 966.3,1745.5 966.6,1745.4 966.8,1745.2 967.0,1745.0 967.2,1744.6 967.4,1744.2 967.7,1743.7 967.9,1743.1 968.1,1742.3 968.3,1741.4 968.5,1740.4 968.7,1739.4 969.0,1738.3 969.2,1737.3 969.4,1736.4 969.6,1735.6 969.8,1735.2 970.1,1735.0 970.3,1735.2 970.5,1735.6 970.7,1736.4 970.9,1737.3 971.1,1738.3 971.4,1739.4 971.6,1740.5 971.8,1741.4 972.0,1742.3 972.2,1743.1 972.5,1743.8 972.7,1744.3 972.9,1744.7 973.1,1745.0 973.3,1745.3 973.5,1745.4 973.8,1745.6 974.0,1745.7 974.2,1745.8 974.4,1745.8 974.6,1745.9 974.9,1745.9 975.1,1745.9 975.3,1745.9 975.5,1746.0 975.7,1746.0 975.9,1746.0 976.2,1746.0 976.4,1746.0 976.6,1746.0 976.8,1746.1 977.0,1746.1 977.3,1746.1 977.5,1746.1 977.7,1746.1 977.9,1746.1 978.1,1746.1 978.3,1746.1 978.6,1746.1 978.8,1746.1 979.0,1746.1 979.2,1746.1 979.4,1746.2 979.7,1746.2 979.9,1746.2 980.1,1746.2 980.3,1746.2 980.5,1746.2 980.7,1746.2 981.0,1746.2 981.2,1746.2 981.4,1746.2 981.6,1746.2 981.8,1746.2 982.1,1746.2 982.3,1746.2 982.5,1746.2 982.7,1746.2 982.9,1746.2 983.1,1746.2 983.4,1746.2 983.6,1746.2 983.8,1746.2 984.0,1746.2 984.2,1746.2 984.5,1746.2 984.7,1746.2 984.9,1746.3 985.1,1746.3 985.3,1746.3 985.5,1746.3 985.8,1746.3 986.0,1746.3 986.2,1746.3 986.4,1746.3 986.6,1746.3 986.9,1746.3 987.1,1746.3 987.3,1746.3 987.5,1746.3 987.7,1746.3 987.9,1746.3 988.2,1746.3 988.4,1746.3 988.6,1746.3 988.8,1746.3 989.0,1746.3 989.3,1746.3 989.5,1746.3 989.7,1746.3 989.9,1746.3 990.1,1746.3 990.3,1746.3 990.6,1746.3 990.8,1746.3 991.0,1746.3 991.2,1746.3 991.4,1746.3 991.7,1746.3 991.9,1746.3 992.1,1746.3 992.3,1746.3 992.5,1746.3 992.7,1746.3 993.0,1746.3 993.2,1746.3 993.4,1746.3 993.6,1746.3 993.8,1746.4 994.1,1746.4 994.3,1746.4 994.5,1746.4 994.7,1746.4 994.9,1746.4 995.1,1746.4 995.4,1746.4 995.6,1746.4 995.8,1746.4 996.0,1746.4 996.2,1746.4 996.5,1746.4 996.7,1746.4 996.9,1746.4 997.1,1746.4 997.3,1746.4 997.5,1746.4 997.8,1746.4 998.0,1746.4 998.2,1746.4 998.4,1746.4 998.6,1746.4 998.9,1746.4 999.1,1746.4 999.3,1746.4 999.5,1746.4 999.7,1746.4 999.9,1746.4 1000.2,1746.4 1000.4,1746.4 1000.6,1746.4 1000.8,1746.4 1001.0,1746.4 1001.3,1746.4 1001.5,1746.4 1001.7,1746.4 1001.9,1746.4 1002.1,1746.4 1002.3,1746.4 1002.6,1746.4 1002.8,1746.4 1003.0,1746.4 1003.2,1746.4 1003.4,1746.4 1003.7,1746.4 1003.9,1746.4 1004.1,1746.4 1004.3,1746.4 1004.5,1746.4 1004.7,1746.4 1005.0,1746.4 1005.2,1746.4 1005.4,1746.5 1005.6,1746.5 1005.8,1746.5 1006.1,1746.5 1006.3,1746.5 1006.5,1746.5 1006.7,1746.5 1006.9,1746.5 1007.2,1746.5 1007.4,1746.5 1007.6,1746.5 1007.8,1746.5 1008.0,1746.5 1008.2,1746.5 1008.5,1746.5 1008.7,1746.5 1008.9,1746.5 1009.1,1746.5 1009.3,1746.5 1009.6,1746.5 1009.8,1746.5 1010.0,1746.5 1010.2,1746.5 1010.4,1746.5 1010.6,1746.5 1010.9,1746.5 1011.1,1746.5 1011.3,1746.5 1011.5,1746.5 1011.7,1746.5 1012.0,1746.5 1012.2,1746.5 1012.4,1746.5 1012.6,1746.5 1012.8,1746.5 1013.0,1746.5 1013.3,1746.5 1013.5,1746.5 1013.7,1746.5 1013.9,1746.5 1014.1,1746.5 1014.4,1746.5 1014.6,1746.5 1014.8,1746.5 1015.0,1746.5 1015.2,1746.5 1015.4,1746.5 1015.7,1746.5 1015.9,1746.5 1016.1,1746.5 1016.3,1746.4 1016.5,1746.4 1016.8,1746.4 1017.0,1746.4 1017.2,1746.4 1017.4,1746.4 1017.6,1746.4 1017.8,1746.4 1018.1,1746.4 1018.3,1746.4 1018.5,1746.4 1018.7,1746.4 1018.9,1746.3 1019.2,1746.3 1019.4,1746.3 1019.6,1746.3 1019.8,1746.2 1020.0,1746.2 1020.2,1746.1 1020.5,1746.0 1020.7,1745.9 1020.9,1745.7 1021.1,1745.5 1021.3,1745.3 1021.6,1744.9 1021.8,1744.6 1022.0,1744.1 1022.2,1743.6 1022.4,1742.9 1022.6,1742.3 1022.9,1741.5 1023.1,1740.7 1023.3,1740.0 1023.5,1739.2 1023.7,1738.5 1024.0,1737.9 1024.2,1737.4 1024.4,1737.1 1024.6,1737.0 1024.8,1737.1 1025.0,1737.4 1025.3,1737.9 1025.5,1738.5 1025.7,1739.2 1025.9,1740.0 1026.1,1740.8 1026.4,1741.6 1026.6,1742.3 1026.8,1743.0 1027.0,1743.6 1027.2,1744.1 1027.4,1744.6 1027.7,1745.0 1027.9,1745.3 1028.1,1745.6 1028.3,1745.8 1028.5,1745.9 1028.8,1746.1 1029.0,1746.2 1029.2,1746.2 1029.4,1746.3 1029.6,1746.3 1029.8,1746.4 1030.1,1746.4 1030.3,1746.4 1030.5,1746.5 1030.7,1746.5 1030.9,1746.5 1031.2,1746.5 1031.4,1746.5 1031.6,1746.5 1031.8,1746.6 1032.0,1746.6 1032.2,1746.6 1032.5,1746.6 1032.7,1746.6 1032.9,1746.6 1033.1,1746.6 1033.3,1746.6 1033.6,1746.6 1033.8,1746.6 1034.0,1746.6 1034.2,1746.6 1034.4,1746.7 1034.6,1746.7 1034.9,1746.7 1035.1,1746.7 1035.3,1746.7 1035.5,1746.7 1035.7,1746.7 1036.0,1746.7 1036.2,1746.7 1036.4,1746.7 1036.6,1746.7 1036.8,1746.7 1037.0,1746.7 1037.3,1746.7 1037.5,1746.7 1037.7,1746.7 1037.9,1746.7 1038.1,1746.7 1038.4,1746.7 1038.6,1746.7 1038.8,1746.7 1039.0,1746.7 1039.2,1746.7 1039.4,1746.8 1039.7,1746.8 1039.9,1746.8 1040.1,1746.8 1040.3,1746.8 1040.5,1746.8 1040.8,1746.8 1041.0,1746.8 1041.2,1746.8 1041.4,1746.8 1041.6,1746.8 1041.8,1746.8 1042.1,1746.8 1042.3,1746.8 1042.5,1746.8 1042.7,1746.8 1042.9,1746.8 1043.2,1746.8 1043.4,1746.8 1043.6,1746.8 1043.8,1746.8 1044.0,1746.8 1044.2,1746.8 1044.5,1746.8 1044.7,1746.8 1044.9,1746.8 1045.1,1746.8 1045.3,1746.8 1045.6,1746.8 1045.8,1746.8 1046.0,1746.8 1046.2,1746.8 1046.4,1746.8 1046.6,1746.8 1046.9,1746.8 1047.1,1746.8 1047.3,1746.8 1047.5,1746.8 1047.7,1746.9 1048.0,1746.9 1048.2,1746.9 1048.4,1746.9 1048.6,1746.9 1048.8,1746.9 1049.0,1746.9 1049.3,1746.9 1049.5,1746.9 1049.7,1746.9 1049.9,1746.9 1050.1,1746.9 1050.4,1746.9 1050.6,1746.9 1050.8,1746.9 1051.0,1746.9 1051.2,1746.9 1051.4,1746.9 1051.7,1746.9 1051.9,1746.9 1052.1,1746.9 1052.3,1746.9 1052.5,1746.9 1052.8,1746.9 1053.0,1746.9 1053.2,1746.9 1053.4,1746.9 1053.6,1746.9 1053.8,1746.9 1054.1,1746.9 1054.3,1746.9 1054.5,1746.9 1054.7,1746.9 1054.9,1746.9 1055.2,1746.9 1055.4,1746.9 1055.6,1746.9 1055.8,1746.9 1056.0,1746.9 1056.2,1746.9 1056.5,1746.9 1056.7,1746.9 1056.9,1746.9 1057.1,1746.9 1057.3,1746.9 1057.6,1747.0 1057.8,1747.0 1058.0,1747.0 1058.2,1747.0 1058.4,1747.0 1058.6,1747.0 1058.9,1747.0 1059.1,1747.0 1059.3,1747.0 1059.5,1747.0 1059.7,1747.0 1060.0,1747.0 1060.2,1747.0 1060.4,1747.0 1060.6,1747.0 1060.8,1747.0 1061.0,1747.0 1061.3,1747.0 1061.5,1747.0 1061.7,1747.0 1061.9,1747.0 1062.1,1747.0 1062.4,1747.0 1062.6,1747.0 1062.8,1747.0 1063.0,1747.0 1063.2,1747.0 1063.4,1747.0 1063.7,1747.0 1063.9,1747.0 1064.1,1747.0 1064.3,1747.0 1064.5,1747.0 1064.8,1747.0 1065.0,1747.0 1065.2,1747.0 1065.4,1747.0 1065.6,1747.0 1065.8,1747.0 1066.1,1747.0 1066.3,1747.0 1066.5,1747.0 1066.7,1747.0 1066.9,1747.0 1067.2,1747.0 1067.4,1747.0 1067.6,1747.0 1067.8,1747.0 1068.0,1747.1 1068.2,1747.1 1068.5,1747.1 1068.7,1747.1 1068.9,1747.1 1069.1,1747.1 1069.3,1747.1 1069.6,1747.1 1069.8,1747.1 1070.0,1747.1 1070.2,1747.1 1070.4,1747.1 1070.6,1747.1 1070.9,1747.1 1071.1,1747.1 1071.3,1747.1 1071.5,1747.1 1071.7,1747.1 1072.0,1747.1 1072.2,1747.1 1072.4,1747.1 1072.6,1747.1 1072.8,1747.1 1073.0,1747.1 1073.3,1747.1 1073.5,1747.1 1073.7,1747.1 1073.9,1747.1 1074.1,1747.1 1074.4,1747.1 1074.6,1747.1 1074.8,1747.1 1075.0,1747.1 1075.2,1747.1 1075.4,1747.1 1075.7,1747.1 1075.9,1747.1 1076.1,1747.1 1076.3,1747.1 1076.5,1747.1 1076.8,1747.1 1077.0,1747.1 1077.2,1747.1 1077.4,1747.1 1077.6,1747.1 1077.8,1747.1 1078.1,1747.1 1078.3,1747.1 1078.5,1747.1 1078.7,1747.2 1078.9,1747.2 1079.2,1747.2 1079.4,1747.2 1079.6,1747.2 1079.8,1747.2 1080.0,1747.2 1080.2,1747.2 1080.5,1747.2 1080.7,1747.2 1080.9,1747.2 1081.1,1747.2 1081.3,1747.2 1081.6,1747.2 1081.8,1747.2 1082.0,1747.2 1082.2,1747.2 1082.4,1747.2 1082.6,1747.2 1082.9,1747.2 1083.1,1747.2 1083.3,1747.2 1083.5,1747.2 1083.7,1747.2 1084.0,1747.2 1084.2,1747.2 1084.4,1747.2 1084.6,1747.2 1084.8,1747.2 1085.0,1747.2 1085.3,1747.2 1085.5,1747.2 1085.7,1747.2 1085.9,1747.2 1086.1,1747.2 1086.4,1747.2 1086.6,1747.2 1086.8,1747.2 1087.0,1747.2 1087.2,1747.2 1087.4,1747.2 1087.7,1747.2 1087.9,1747.2 1088.1,1747.2 1088.3,1747.2 1088.5,1747.2 1088.8,1747.2 1089.0,1747.2 1089.2,1747.2 1089.4,1747.2 1089.6,1747.3 1089.8,1747.3 1090.1,1747.3 1090.3,1747.3 1090.5,1747.3 1090.7,1747.3 1090.9,1747.3 1091.2,1747.3 1091.4,1747.3 1091.6,1747.3 1091.8,1747.3 1092.0,1747.3 1092.2,1747.3 1092.5,1747.3 1092.7,1747.3 1092.9,1747.3 1093.1,1747.3 1093.3,1747.3 1093.6,1747.3 1093.8,1747.3 1094.0,1747.3 1094.2,1747.3 1094.4,1747.3 1094.6,1747.3 1094.9,1747.3 1095.1,1747.3 1095.3,1747.3 1095.5,1747.3 1095.7,1747.3 1096.0,1747.3 1096.2,1747.3 1096.4,1747.3 1096.6,1747.3 1096.8,1747.3 1097.0,1747.3 1097.3,1747.3 1097.5,1747.3 1097.7,1747.3 1097.9,1747.3 1098.1,1747.3 1098.4,1747.3 1098.6,1747.3 1098.8,1747.3 1099.0,1747.3 1099.2,1747.3 1099.4,1747.3 1099.7,1747.3 1099.9,1747.3 1100.1,1747.3 1100.3,1747.4 1100.5,1747.4 1100.8,1747.4 1101.0,1747.4 1101.2,1747.4 1101.4,1747.4 1101.6,1747.4 1101.8,1747.4 1102.1,1747.4 1102.3,1747.4 1102.5,1747.4 1102.7,1747.4 1102.9,1747.4 1103.2,1747.4 1103.4,1747.4 1103.6,1747.4 1103.8,1747.4 1104.0,1747.4 1104.2,1747.4 1104.5,1747.4 1104.7,1747.4 1104.9,1747.4 1105.1,1747.4 1105.3,1747.4 1105.6,1747.4 1105.8,1747.4 1106.0,1747.4 1106.2,1747.4 1106.4,1747.4 1106.6,1747.4 1106.9,1747.4 1107.1,1747.4 1107.3,1747.4 1107.5,1747.4 1107.7,1747.4 1108.0,1747.4 1108.2,1747.4 1108.4,1747.4 1108.6,1747.4 1108.8,1747.4 1109.0,1747.4 1109.3,1747.4 1109.5,1747.4 1109.7,1747.4 1109.9,1747.4 1110.1,1747.4 1110.4,1747.4 1110.6,1747.4 1110.8,1747.4 1111.0,1747.4 1111.2,1747.5 1111.4,1747.5 1111.7,1747.5 1111.9,1747.5 1112.1,1747.5 1112.3,1747.5 1112.5,1747.5 1112.8,1747.5 1113.0,1747.5 1113.2,1747.5 1113.4,1747.5 1113.6,1747.5 1113.8,1747.5 1114.1,1747.5 1114.3,1747.5 1114.5,1747.5 1114.7,1747.5 1114.9,1747.5 1115.2,1747.5 1115.4,1747.5 1115.6,1747.5 1115.8,1747.5 1116.0,1747.5 1116.2,1747.5 1116.5,1747.5 1116.7,1747.5 1116.9,1747.5 1117.1,1747.5 1117.3,1747.5 1117.6,1747.5 1117.8,1747.5 1118.0,1747.5 1118.2,1747.5 1118.4,1747.5 1118.7,1747.5 1118.9,1747.5 1119.1,1747.5 1119.3,1747.5 1119.5,1747.5 1119.7,1747.5 1120.0,1747.5 1120.2,1747.5 1120.4,1747.5 1120.6,1747.5 1120.8,1747.5 1121.1,1747.5 1121.3,1747.5 1121.5,1747.5 1121.7,1747.5 1121.9,1747.5 1122.1,1747.6 1122.4,1747.6 1122.6,1747.6 1122.8,1747.6 1123.0,1747.6 1123.2,1747.6 1123.5,1747.6 1123.7,1747.6 1123.9,1747.6 1124.1,1747.6 1124.3,1747.6 1124.5,1747.6 1124.8,1747.6 1125.0,1747.6 1125.2,1747.6 1125.4,1747.6 1125.6,1747.6 1125.9,1747.6 1126.1,1747.6 1126.3,1747.6 1126.5,1747.6 1126.7,1747.6 1126.9,1747.6 1127.2,1747.6 1127.4,1747.6 1127.6,1747.6 1127.8,1747.6 1128.0,1747.6 1128.3,1747.6 1128.5,1747.6 1128.7,1747.6 1128.9,1747.6 1129.1,1747.6 1129.3,1747.6 1129.6,1747.6 1129.8,1747.6 1130.0,1747.6 1130.2,1747.6 1130.4,1747.6 1130.7,1747.6 1130.9,1747.6 1131.1,1747.6 1131.3,1747.6 1131.5,1747.6 1131.7,1747.6 1132.0,1747.6 1132.2,1747.6 1132.4,1747.6 1132.6,1747.6 1132.8,1747.6 1133.1,1747.7 1133.3,1747.7 1133.5,1747.7 1133.7,1747.7 1133.9,1747.7 1134.1,1747.7 1134.4,1747.7 1134.6,1747.7 1134.8,1747.7 1135.0,1747.7 1135.2,1747.7 1135.5,1747.7 1135.7,1747.7 1135.9,1747.7 1136.1,1747.7 1136.3,1747.7 1136.5,1747.7 1136.8,1747.7 1137.0,1747.7 1137.2,1747.7 1137.4,1747.7 1137.6,1747.7 1137.9,1747.7 1138.1,1747.7 1138.3,1747.7 1138.5,1747.7 1138.7,1747.7 1138.9,1747.7 1139.2,1747.7 1139.4,1747.7 1139.6,1747.7 1139.8,1747.7 1140.0,1747.7 1140.3,1747.7 1140.5,1747.7 1140.7,1747.7 1140.9,1747.7 1141.1,1747.7 1141.3,1747.7 1141.6,1747.7 1141.8,1747.7 1142.0,1747.7 1142.2,1747.7 1142.4,1747.7 1142.7,1747.7 1142.9,1747.7 1143.1,1747.7 1143.3,1747.7 1143.5,1747.7 1143.7,1747.7 1144.0,1747.8 1144.2,1747.8 1144.4,1747.8 1144.6,1747.8 1144.8,1747.8 1145.1,1747.8 1145.3,1747.8 1145.5,1747.8 1145.7,1747.8 1145.9,1747.8 1146.1,1747.8 1146.4,1747.8 1146.6,1747.8 1146.8,1747.8 1147.0,1747.8 1147.2,1747.8 1147.5,1747.8 1147.7,1747.8 1147.9,1747.8 1148.1,1747.8 1148.3,1747.8 1148.5,1747.8 1148.8,1747.8 1149.0,1747.8 1149.2,1747.8 1149.4,1747.8 1149.6,1747.8 1149.9,1747.8 1150.1,1747.8 1150.3,1747.8 1150.5,1747.8 1150.7,1747.8 1150.9,1747.8 1151.2,1747.8 1151.4,1747.8 1151.6,1747.8 1151.8,1747.8 1152.0,1747.8 1152.3,1747.8 1152.5,1747.8 1152.7,1747.8 1152.9,1747.8 1153.1,1747.8 1153.3,1747.8 1153.6,1747.8 1153.8,1747.8 1154.0,1747.8 1154.2,1747.8 1154.4,1747.8 1154.7,1747.9 1154.9,1747.9 1155.1,1747.9 1155.3,1747.9 1155.5,1747.9 1155.7,1747.9 1156.0,1747.9 1156.2,1747.9 1156.4,1747.9 1156.6,1747.9 1156.8,1747.9 1157.1,1747.9 1157.3,1747.9 1157.5,1747.9 1157.7,1747.9 1157.9,1747.9 1158.1,1747.9 1158.4,1747.9 1158.6,1747.9 1158.8,1747.9 1159.0,1747.9 1159.2,1747.9 1159.5,1747.9 1159.7,1747.9 1159.9,1747.9 1160.1,1747.9 1160.3,1747.9 1160.5,1747.9 1160.8,1747.9 1161.0,1747.9 1161.2,1747.9 1161.4,1747.9 1161.6,1747.9 1161.9,1747.9 1162.1,1747.9 1162.3,1747.9 1162.5,1747.9 1162.7,1747.9 1162.9,1747.9 1163.2,1747.9 1163.4,1747.9 1163.6,1747.9 1163.8,1747.9 1164.0,1747.9 1164.3,1747.9 1164.5,1747.9 1164.7,1747.9 1164.9,1747.9 1165.1,1747.9 1165.3,1747.9 1165.6,1748.0 1165.8,1748.0 1166.0,1748.0 1166.2,1748.0 1166.4,1748.0 1166.7,1748.0 1166.9,1748.0 1167.1,1748.0 1167.3,1748.0 1167.5,1748.0 1167.7,1748.0 1168.0,1748.0 1168.2,1748.0 1168.4,1748.0 1168.6,1748.0 1168.8,1748.0 1169.1,1748.0 1169.3,1748.0 1169.5,1748.0 1169.7,1748.0 1169.9,1748.0 1170.1,1748.0 1170.4,1748.0 1170.6,1748.0 1170.8,1748.0" fill="none" stroke="#000000" stroke-width="9" stroke-linejoin="round"/>
<line x1="189" y1="986" x2="189" y2="1790" stroke="#000" stroke-width="9"/>
<line x1="189" y1="990" x2="1175" y2="990" stroke="#000" stroke-width="8"/>
<line x1="1171" y1="990" x2="1171" y2="1786" stroke="#000" stroke-width="8"/>
<line x1="189" y1="1786" x2="1175" y2="1786" stroke="#000" stroke-width="8"/>
<line x1="298" y1="1786" x2="298" y2="1803" stroke="#000" stroke-width="6"/>
<text x="298" y="1861" font-size="62" text-anchor="middle" >10</text>
<line x1="516.2" y1="1786" x2="516.2" y2="1803" stroke="#000" stroke-width="6"/>
<text x="516.2" y="1861" font-size="62" text-anchor="middle" >20</text>
<line x1="734.4" y1="1786" x2="734.4" y2="1803" stroke="#000" stroke-width="6"/>
<text x="734.4" y="1861" font-size="62" text-anchor="middle" >30</text>
<line x1="952.6" y1="1786" x2="952.6" y2="1803" stroke="#000" stroke-width="6"/>
<text x="952.6" y="1861" font-size="62" text-anchor="middle" >40</text>
<line x1="1170.8" y1="1786" x2="1170.8" y2="1803" stroke="#000" stroke-width="6"/>
<text x="1170.8" y="1861" font-size="62" text-anchor="middle" >50</text>
<text x="681" y="1924" font-size="48" text-anchor="middle" >2θ (degree)</text>
<text transform="translate(146,1378) rotate(-90)" font-size="57" text-anchor="middle">Intensity (a.u)</text>
<text x="218" y="1131" font-size="105" text-anchor="start" >(c)</text>
<text x="777" y="1500" font-size="62" text-anchor="start" >As prepared</text>
<line x1="566" y1="1076" x2="661" y2="1076" stroke="#ff0000" stroke-width="9"/>
<line x1="566" y1="1153" x2="661" y2="1153" stroke="#000" stroke-width="9"/>
<text x="674" y="1089" font-size="62" text-anchor="start" >With GO</text>
<text x="674" y="1165" font-size="62" text-anchor="start" >Without GO</text>
<polyline points="1375.8,1350.0 1376.0,1350.0 1376.2,1350.0 1376.4,1350.0 1376.6,1350.0 1376.8,1350.0 1377.1,1350.1 1377.3,1350.1 1377.5,1350.1 1377.7,1350.1 1377.9,1350.1 1378.2,1350.1 1378.4,1350.1 1378.6,1350.1 1378.8,1350.1 1379.0,1350.1 1379.2,1350.2 1379.5,1350.2 1379.7,1350.2 1379.9,1350.2 1380.1,1350.2 1380.3,1350.2 1380.6,1350.2 1380.8,1350.2 1381.0,1350.2 1381.2,1350.2 1381.4,1350.3 1381.6,1350.3 1381.9,1350.3 1382.1,1350.3 1382.3,1350.3 1382.5,1350.3 1382.7,1350.3 1383.0,1350.3 1383.2,1350.3 1383.4,1350.3 1383.6,1350.4 1383.8,1350.4 1384.1,1350.4 1384.3,1350.4 1384.5,1350.4 1384.7,1350.4 1384.9,1350.4 1385.1,1350.4 1385.4,1350.4 1385.6,1350.4 1385.8,1350.5 1386.0,1350.5 1386.2,1350.5 1386.5,1350.5 1386.7,1350.5 1386.9,1350.5 1387.1,1350.5 1387.3,1350.5 1387.5,1350.5 1387.8,1350.5 1388.0,1350.6 1388.2,1350.6 1388.4,1350.6 1388.6,1350.6 1388.9,1350.6 1389.1,1350.6 1389.3,1350.6 1389.5,1350.6 1389.7,1350.6 1390.0,1350.6 1390.2,1350.7 1390.4,1350.7 1390.6,1350.7 1390.8,1350.7 1391.0,1350.7 1391.3,1350.7 1391.5,1350.7 1391.7,1350.7 1391.9,1350.7 1392.1,1350.7 1392.4,1350.8 1392.6,1350.8 1392.8,1350.8 1393.0,1350.8 1393.2,1350.8 1393.4,1350.8 1393.7,1350.8 1393.9,1350.8 1394.1,1350.8 1394.3,1350.8 1394.5,1350.9 1394.8,1350.9 1395.0,1350.9 1395.2,1350.9 1395.4,1350.9 1395.6,1350.9 1395.9,1350.9 1396.1,1350.9 1396.3,1350.9 1396.5,1350.9 1396.7,1351.0 1396.9,1351.0 1397.2,1351.0 1397.4,1351.0 1397.6,1351.0 1397.8,1351.0 1398.0,1351.0 1398.3,1351.0 1398.5,1351.0 1398.7,1351.0 1398.9,1351.1 1399.1,1351.1 1399.3,1351.1 1399.6,1351.1 1399.8,1351.1 1400.0,1351.1 1400.2,1351.1 1400.4,1351.1 1400.7,1351.1 1400.9,1351.1 1401.1,1351.2 1401.3,1351.2 1401.5,1351.2 1401.8,1351.2 1402.0,1351.2 1402.2,1351.2 1402.4,1351.2 1402.6,1351.2 1402.8,1351.2 1403.1,1351.2 1403.3,1351.3 1403.5,1351.3 1403.7,1351.3 1403.9,1351.3 1404.2,1351.3 1404.4,1351.3 1404.6,1351.3 1404.8,1351.3 1405.0,1351.3 1405.2,1351.3 1405.5,1351.4 1405.7,1351.4 1405.9,1351.4 1406.1,1351.4 1406.3,1351.4 1406.6,1351.4 1406.8,1351.4 1407.0,1351.4 1407.2,1351.4 1407.4,1351.4 1407.7,1351.5 1407.9,1351.5 1408.1,1351.5 1408.3,1351.5 1408.5,1351.5 1408.7,1351.5 1409.0,1351.5 1409.2,1351.5 1409.4,1351.5 1409.6,1351.5 1409.8,1351.5 1410.1,1351.6 1410.3,1351.6 1410.5,1351.6 1410.7,1351.6 1410.9,1351.6 1411.1,1351.6 1411.4,1351.6 1411.6,1351.6 1411.8,1351.6 1412.0,1351.6 1412.2,1351.7 1412.5,1351.7 1412.7,1351.7 1412.9,1351.7 1413.1,1351.7 1413.3,1351.7 1413.6,1351.7 1413.8,1351.7 1414.0,1351.7 1414.2,1351.7 1414.4,1351.8 1414.6,1351.8 1414.9,1351.8 1415.1,1351.8 1415.3,1351.8 1415.5,1351.8 1415.7,1351.8 1416.0,1351.8 1416.2,1351.8 1416.4,1351.8 1416.6,1351.9 1416.8,1351.9 1417.0,1351.9 1417.3,1351.9 1417.5,1351.9 1417.7,1351.9 1417.9,1351.9 1418.1,1351.9 1418.4,1351.9 1418.6,1351.9 1418.8,1352.0 1419.0,1352.0 1419.2,1352.0 1419.4,1352.0 1419.7,1352.0 1419.9,1352.0 1420.1,1352.0 1420.3,1352.0 1420.5,1352.0 1420.8,1352.0 1421.0,1352.1 1421.2,1352.1 1421.4,1352.1 1421.6,1352.1 1421.9,1352.1 1422.1,1352.1 1422.3,1352.1 1422.5,1352.1 1422.7,1352.1 1422.9,1352.1 1423.2,1352.2 1423.4,1352.2 1423.6,1352.2 1423.8,1352.2 1424.0,1352.2 1424.3,1352.2 1424.5,1352.2 1424.7,1352.2 1424.9,1352.2 1425.1,1352.2 1425.3,1352.3 1425.6,1352.3 1425.8,1352.3 1426.0,1352.3 1426.2,1352.3 1426.4,1352.3 1426.7,1352.3 1426.9,1352.3 1427.1,1352.3 1427.3,1352.3 1427.5,1352.4 1427.8,1352.4 1428.0,1352.4 1428.2,1352.4 1428.4,1352.4 1428.6,1352.4 1428.8,1352.4 1429.1,1352.4 1429.3,1352.4 1429.5,1352.4 1429.7,1352.5 1429.9,1352.5 1430.2,1352.5 1430.4,1352.5 1430.6,1352.5 1430.8,1352.5 1431.0,1352.5 1431.2,1352.5 1431.5,1352.5 1431.7,1352.5 1431.9,1352.6 1432.1,1352.6 1432.3,1352.6 1432.6,1352.6 1432.8,1352.6 1433.0,1352.6 1433.2,1352.6 1433.4,1352.6 1433.7,1352.6 1433.9,1352.6 1434.1,1352.7 1434.3,1352.7 1434.5,1352.7 1434.7,1352.7 1435.0,1352.7 1435.2,1352.7 1435.4,1352.7 1435.6,1352.7 1435.8,1352.7 1436.1,1352.7 1436.3,1352.8 1436.5,1352.8 1436.7,1352.8 1436.9,1352.8 1437.1,1352.8 1437.4,1352.8 1437.6,1352.8 1437.8,1352.8 1438.0,1352.8 1438.2,1352.8 1438.5,1352.9 1438.7,1352.9 1438.9,1352.9 1439.1,1352.9 1439.3,1352.9 1439.6,1352.9 1439.8,1352.9 1440.0,1352.9 1440.2,1352.9 1440.4,1352.9 1440.6,1353.0 1440.9,1353.0 1441.1,1353.0 1441.3,1353.0 1441.5,1353.0 1441.7,1353.0 1442.0,1353.0 1442.2,1353.0 1442.4,1353.0 1442.6,1353.0 1442.8,1353.1 1443.0,1353.1 1443.3,1353.1 1443.5,1353.1 1443.7,1353.1 1443.9,1353.1 1444.1,1353.1 1444.4,1353.1 1444.6,1353.1 1444.8,1353.1 1445.0,1353.2 1445.2,1353.2 1445.5,1353.2 1445.7,1353.2 1445.9,1353.2 1446.1,1353.2 1446.3,1353.2 1446.5,1353.2 1446.8,1353.2 1447.0,1353.2 1447.2,1353.3 1447.4,1353.3 1447.6,1353.3 1447.9,1353.3 1448.1,1353.3 1448.3,1353.3 1448.5,1353.3 1448.7,1353.3 1448.9,1353.3 1449.2,1353.3 1449.4,1353.4 1449.6,1353.4 1449.8,1353.4 1450.0,1353.4 1450.3,1353.4 1450.5,1353.4 1450.7,1353.4 1450.9,1353.4 1451.1,1353.4 1451.4,1353.4 1451.6,1353.5 1451.8,1353.5 1452.0,1353.5 1452.2,1353.5 1452.4,1353.5 1452.7,1353.5 1452.9,1353.5 1453.1,1353.5 1453.3,1353.5 1453.5,1353.5 1453.8,1353.6 1454.0,1353.6 1454.2,1353.6 1454.4,1353.6 1454.6,1353.6 1454.8,1353.6 1455.1,1353.6 1455.3,1353.6 1455.5,1353.6 1455.7,1353.6 1455.9,1353.7 1456.2,1353.7 1456.4,1353.7 1456.6,1353.7 1456.8,1353.7 1457.0,1353.7 1457.3,1353.7 1457.5,1353.7 1457.7,1353.7 1457.9,1353.7 1458.1,1353.8 1458.3,1353.8 1458.6,1353.8 1458.8,1353.8 1459.0,1353.8 1459.2,1353.8 1459.4,1353.8 1459.7,1353.8 1459.9,1353.8 1460.1,1353.8 1460.3,1353.8 1460.5,1353.9 1460.7,1353.9 1461.0,1353.9 1461.2,1353.9 1461.4,1353.9 1461.6,1353.9 1461.8,1353.9 1462.1,1353.9 1462.3,1353.9 1462.5,1353.9 1462.7,1354.0 1462.9,1354.0 1463.1,1354.0 1463.4,1354.0 1463.6,1354.0 1463.8,1354.0 1464.0,1354.0 1464.2,1354.0 1464.5,1354.0 1464.7,1354.0 1464.9,1354.1 1465.1,1354.1 1465.3,1354.1 1465.6,1354.1 1465.8,1354.1 1466.0,1354.1 1466.2,1354.1 1466.4,1354.1 1466.6,1354.1 1466.9,1354.1 1467.1,1354.2 1467.3,1354.2 1467.5,1354.2 1467.7,1354.2 1468.0,1354.2 1468.2,1354.2 1468.4,1354.2 1468.6,1354.2 1468.8,1354.2 1469.0,1354.2 1469.3,1354.3 1469.5,1354.3 1469.7,1354.3 1469.9,1354.3 1470.1,1354.3 1470.4,1354.3 1470.6,1354.3 1470.8,1354.3 1471.0,1354.3 1471.2,1354.3 1471.5,1354.4 1471.7,1354.4 1471.9,1354.4 1472.1,1354.4 1472.3,1354.4 1472.5,1354.4 1472.8,1354.4 1473.0,1354.4 1473.2,1354.4 1473.4,1354.4 1473.6,1354.5 1473.9,1354.5 1474.1,1354.5 1474.3,1354.5 1474.5,1354.5 1474.7,1354.5 1474.9,1354.5 1475.2,1354.5 1475.4,1354.5 1475.6,1354.5 1475.8,1354.6 1476.0,1354.6 1476.3,1354.6 1476.5,1354.6 1476.7,1354.6 1476.9,1354.6 1477.1,1354.6 1477.4,1354.6 1477.6,1354.6 1477.8,1354.6 1478.0,1354.7 1478.2,1354.7 1478.4,1354.7 1478.7,1354.7 1478.9,1354.7 1479.1,1354.7 1479.3,1354.7 1479.5,1354.7 1479.8,1354.7 1480.0,1354.7 1480.2,1354.7 1480.4,1354.8 1480.6,1354.8 1480.8,1354.8 1481.1,1354.8 1481.3,1354.8 1481.5,1354.8 1481.7,1354.8 1481.9,1354.8 1482.2,1354.8 1482.4,1354.8 1482.6,1354.9 1482.8,1354.9 1483.0,1354.9 1483.3,1354.9 1483.5,1354.9 1483.7,1354.9 1483.9,1354.9 1484.1,1354.9 1484.3,1354.9 1484.6,1354.9 1484.8,1355.0 1485.0,1355.0 1485.2,1355.0 1485.4,1355.0 1485.7,1355.0 1485.9,1355.1 1486.1,1355.1 1486.3,1355.1 1486.5,1355.1 1486.7,1355.2 1487.0,1355.2 1487.2,1355.2 1487.4,1355.2 1487.6,1355.3 1487.8,1355.3 1488.1,1355.3 1488.3,1355.3 1488.5,1355.4 1488.7,1355.4 1488.9,1355.4 1489.2,1355.4 1489.4,1355.5 1489.6,1355.5 1489.8,1355.5 1490.0,1355.5 1490.2,1355.6 1490.5,1355.6 1490.7,1355.6 1490.9,1355.6 1491.1,1355.7 1491.3,1355.7 1491.6,1355.7 1491.8,1355.7 1492.0,1355.8 1492.2,1355.8 1492.4,1355.8 1492.6,1355.8 1492.9,1355.9 1493.1,1355.9 1493.3,1355.9 1493.5,1355.9 1493.7,1356.0 1494.0,1356.0 1494.2,1356.0 1494.4,1356.0 1494.6,1356.1 1494.8,1356.1 1495.1,1356.1 1495.3,1356.1 1495.5,1356.2 1495.7,1356.2 1495.9,1356.2 1496.1,1356.2 1496.4,1356.3 1496.6,1356.3 1496.8,1356.3 1497.0,1356.3 1497.2,1356.4 1497.5,1356.4 1497.7,1356.4 1497.9,1356.4 1498.1,1356.5 1498.3,1356.5 1498.5,1356.5 1498.8,1356.5 1499.0,1356.6 1499.2,1356.6 1499.4,1356.6 1499.6,1356.6 1499.9,1356.7 1500.1,1356.7 1500.3,1356.7 1500.5,1356.7 1500.7,1356.7 1501.0,1356.8 1501.2,1356.8 1501.4,1356.8 1501.6,1356.8 1501.8,1356.9 1502.0,1356.9 1502.3,1356.9 1502.5,1356.9 1502.7,1357.0 1502.9,1357.0 1503.1,1357.0 1503.4,1357.0 1503.6,1357.1 1503.8,1357.1 1504.0,1357.1 1504.2,1357.1 1504.4,1357.2 1504.7,1357.2 1504.9,1357.2 1505.1,1357.2 1505.3,1357.3 1505.5,1357.3 1505.8,1357.3 1506.0,1357.3 1506.2,1357.4 1506.4,1357.4 1506.6,1357.4 1506.8,1357.4 1507.1,1357.5 1507.3,1357.5 1507.5,1357.5 1507.7,1357.5 1507.9,1357.6 1508.2,1357.6 1508.4,1357.6 1508.6,1357.6 1508.8,1357.7 1509.0,1357.7 1509.3,1357.7 1509.5,1357.7 1509.7,1357.8 1509.9,1357.8 1510.1,1357.8 1510.3,1357.8 1510.6,1357.9 1510.8,1357.9 1511.0,1357.9 1511.2,1357.9 1511.4,1358.0 1511.7,1358.0 1511.9,1358.0 1512.1,1358.0 1512.3,1358.0 1512.5,1358.1 1512.7,1358.1 1513.0,1358.1 1513.2,1358.1 1513.4,1358.2 1513.6,1358.2 1513.8,1358.2 1514.1,1358.2 1514.3,1358.3 1514.5,1358.3 1514.7,1358.3 1514.9,1358.3 1515.2,1358.4 1515.4,1358.4 1515.6,1358.4 1515.8,1358.4 1516.0,1358.5 1516.2,1358.5 1516.5,1358.5 1516.7,1358.5 1516.9,1358.6 1517.1,1358.6 1517.3,1358.6 1517.6,1358.6 1517.8,1358.7 1518.0,1358.7 1518.2,1358.7 1518.4,1358.7 1518.6,1358.8 1518.9,1358.8 1519.1,1358.8 1519.3,1358.8 1519.5,1358.8 1519.7,1358.9 1520.0,1358.9 1520.2,1358.9 1520.4,1358.9 1520.6,1359.0 1520.8,1359.0 1521.1,1359.0 1521.3,1359.0 1521.5,1359.1 1521.7,1359.1 1521.9,1359.1 1522.1,1359.1 1522.4,1359.2 1522.6,1359.2 1522.8,1359.2 1523.0,1359.2 1523.2,1359.3 1523.5,1359.3 1523.7,1359.3 1523.9,1359.3 1524.1,1359.3 1524.3,1359.4 1524.5,1359.4 1524.8,1359.4 1525.0,1359.4 1525.2,1359.5 1525.4,1359.5 1525.6,1359.5 1525.9,1359.5 1526.1,1359.6 1526.3,1359.6 1526.5,1359.6 1526.7,1359.6 1527.0,1359.6 1527.2,1359.7 1527.4,1359.7 1527.6,1359.7 1527.8,1359.7 1528.0,1359.8 1528.3,1359.8 1528.5,1359.8 1528.7,1359.8 1528.9,1360.0 1529.1,1360.1 1529.4,1360.2 1529.6,1360.3 1529.8,1360.5 1530.0,1360.6 1530.2,1360.7 1530.4,1360.9 1530.7,1361.0 1530.9,1361.1 1531.1,1361.3 1531.3,1361.4 1531.5,1361.5 1531.8,1361.6 1532.0,1361.8 1532.2,1361.9 1532.4,1362.0 1532.6,1362.2 1532.9,1362.3 1533.1,1362.4 1533.3,1362.5 1533.5,1362.7 1533.7,1362.8 1533.9,1362.9 1534.2,1363.0 1534.4,1363.2 1534.6,1363.3 1534.8,1363.4 1535.0,1363.5 1535.3,1363.7 1535.5,1363.6 1535.7,1363.6 1535.9,1363.6 1536.1,1363.6 1536.3,1363.6 1536.6,1363.6 1536.8,1363.6 1537.0,1363.5 1537.2,1363.5 1537.4,1363.5 1537.7,1363.5 1537.9,1363.5 1538.1,1363.4 1538.3,1363.4 1538.5,1363.4 1538.8,1363.4 1539.0,1363.3 1539.2,1363.3 1539.4,1363.2 1539.6,1363.2 1539.8,1363.1 1540.1,1363.1 1540.3,1363.0 1540.5,1362.9 1540.7,1362.8 1540.9,1362.7 1541.2,1362.6 1541.4,1362.4 1541.6,1362.1 1541.8,1361.7 1542.0,1361.2 1542.2,1360.5 1542.5,1359.4 1542.7,1358.0 1542.9,1356.2 1543.1,1353.8 1543.3,1350.9 1543.6,1347.5 1543.8,1343.7 1544.0,1339.5 1544.2,1335.4 1544.4,1331.6 1544.7,1328.5 1544.9,1326.5 1545.1,1325.8 1545.3,1326.5 1545.5,1328.5 1545.7,1331.6 1546.0,1335.4 1546.2,1339.5 1546.4,1343.6 1546.6,1347.5 1546.8,1350.9 1547.1,1353.8 1547.3,1356.1 1547.5,1358.0 1547.7,1359.4 1547.9,1360.4 1548.1,1361.1 1548.4,1361.6 1548.6,1362.0 1548.8,1362.3 1549.0,1362.5 1549.2,1362.6 1549.5,1362.7 1549.7,1362.8 1549.9,1362.9 1550.1,1362.9 1550.3,1363.0 1550.5,1363.0 1550.8,1363.1 1551.0,1363.1 1551.2,1363.1 1551.4,1363.2 1551.6,1363.2 1551.9,1363.2 1552.1,1363.2 1552.3,1363.2 1552.5,1363.3 1552.7,1363.3 1553.0,1363.3 1553.2,1363.3 1553.4,1363.3 1553.6,1363.3 1553.8,1363.3 1554.0,1363.3 1554.3,1363.3 1554.5,1363.3 1554.7,1363.3 1554.9,1363.3 1555.1,1363.3 1555.4,1363.3 1555.6,1363.3 1555.8,1363.3 1556.0,1363.3 1556.2,1363.3 1556.4,1363.3 1556.7,1363.3 1556.9,1363.3 1557.1,1363.3 1557.3,1363.2 1557.5,1363.1 1557.8,1362.9 1558.0,1362.8 1558.2,1362.7 1558.4,1362.6 1558.6,1362.5 1558.9,1362.4 1559.1,1362.3 1559.3,1362.2 1559.5,1362.0 1559.7,1361.9 1559.9,1361.8 1560.2,1361.7 1560.4,1361.6 1560.6,1361.5 1560.8,1361.3 1561.0,1361.2 1561.3,1361.1 1561.5,1361.0 1561.7,1360.9 1561.9,1360.9 1562.1,1360.9 1562.3,1360.9 1562.6,1360.9 1562.8,1360.8 1563.0,1360.8 1563.2,1360.8 1563.4,1360.7 1563.7,1360.7 1563.9,1360.7 1564.1,1360.6 1564.3,1360.6 1564.5,1360.5 1564.8,1360.5 1565.0,1360.5 1565.2,1360.4 1565.4,1360.3 1565.6,1360.3 1565.8,1360.2 1566.1,1360.2 1566.3,1360.1 1566.5,1360.0 1566.7,1359.9 1566.9,1359.8 1567.2,1359.7 1567.4,1359.6 1567.6,1359.5 1567.8,1359.4 1568.0,1359.3 1568.2,1359.2 1568.5,1359.0 1568.7,1358.8 1568.9,1358.7 1569.1,1358.5 1569.3,1358.3 1569.6,1358.1 1569.8,1357.8 1570.0,1357.6 1570.2,1357.3 1570.4,1356.9 1570.7,1356.6 1570.9,1356.2 1571.1,1355.8 1571.3,1355.3 1571.5,1354.7 1571.7,1354.0 1572.0,1353.2 1572.2,1352.3 1572.4,1351.1 1572.6,1349.5 1572.8,1347.4 1573.1,1344.5 1573.3,1340.6 1573.5,1335.4 1573.7,1328.3 1573.9,1319.0 1574.1,1306.9 1574.4,1291.6 1574.6,1272.9 1574.8,1250.5 1575.0,1224.7 1575.2,1195.9 1575.5,1165.2 1575.7,1133.9 1575.9,1103.8 1576.1,1076.9 1576.3,1055.6 1576.6,1041.8 1576.8,1037.0 1577.0,1041.8 1577.2,1055.6 1577.4,1077.0 1577.6,1103.8 1577.9,1134.0 1578.1,1165.3 1578.3,1196.0 1578.5,1224.8 1578.7,1250.6 1579.0,1273.0 1579.2,1291.8 1579.4,1307.1 1579.6,1319.2 1579.8,1328.5 1580.0,1335.6 1580.3,1340.8 1580.5,1344.7 1580.7,1347.6 1580.9,1349.7 1581.1,1351.3 1581.4,1352.6 1581.6,1353.6 1581.8,1354.4 1582.0,1355.0 1582.2,1355.6 1582.5,1356.1 1582.7,1356.6 1582.9,1357.0 1583.1,1357.3 1583.3,1357.7 1583.5,1358.0 1583.8,1358.3 1584.0,1358.5 1584.2,1358.8 1584.4,1359.0 1584.6,1359.2 1584.9,1359.4 1585.1,1359.5 1585.3,1359.7 1585.5,1359.8 1585.7,1360.0 1585.9,1360.1 1586.2,1360.2 1586.4,1360.4 1586.6,1360.5 1586.8,1360.6 1587.0,1360.7 1587.3,1360.8 1587.5,1360.8 1587.7,1360.9 1587.9,1361.0 1588.1,1361.1 1588.4,1361.1 1588.6,1361.2 1588.8,1361.3 1589.0,1361.3 1589.2,1361.4 1589.4,1361.4 1589.7,1361.5 1589.9,1361.6 1590.1,1361.6 1590.3,1361.6 1590.5,1361.7 1590.8,1361.7 1591.0,1361.8 1591.2,1361.8 1591.4,1361.9 1591.6,1361.9 1591.8,1361.9 1592.1,1362.0 1592.3,1362.0 1592.5,1362.0 1592.7,1362.1 1592.9,1362.1 1593.2,1362.1 1593.4,1362.1 1593.6,1362.2 1593.8,1362.2 1594.0,1362.2 1594.2,1362.3 1594.5,1362.3 1594.7,1362.3 1594.9,1362.3 1595.1,1362.3 1595.3,1362.3 1595.6,1362.3 1595.8,1362.3 1596.0,1362.3 1596.2,1362.3 1596.4,1362.3 1596.7,1362.3 1596.9,1362.3 1597.1,1362.3 1597.3,1362.3 1597.5,1362.3 1597.7,1362.3 1598.0,1362.3 1598.2,1362.3 1598.4,1362.3 1598.6,1362.3 1598.8,1362.3 1599.1,1362.3 1599.3,1362.3 1599.5,1362.3 1599.7,1362.2 1599.9,1362.2 1600.1,1362.2 1600.4,1362.2 1600.6,1362.2 1600.8,1362.2 1601.0,1362.2 1601.2,1362.2 1601.5,1362.2 1601.7,1362.2 1601.9,1362.2 1602.1,1362.2 1602.3,1362.2 1602.6,1362.2 1602.8,1362.2 1603.0,1362.2 1603.2,1362.2 1603.4,1362.1 1603.6,1362.1 1603.9,1362.1 1604.1,1362.1 1604.3,1362.1 1604.5,1362.1 1604.7,1362.1 1605.0,1362.1 1605.2,1362.1 1605.4,1362.1 1605.6,1362.1 1605.8,1362.1 1606.0,1362.1 1606.3,1362.0 1606.5,1362.0 1606.7,1362.0 1606.9,1362.0 1607.1,1362.0 1607.4,1362.0 1607.6,1362.0 1607.8,1362.0 1608.0,1362.0 1608.2,1362.0 1608.5,1362.0 1608.7,1361.9 1608.9,1361.9 1609.1,1361.9 1609.3,1361.9 1609.5,1361.9 1609.8,1361.9 1610.0,1361.9 1610.2,1361.9 1610.4,1361.9 1610.6,1361.9 1610.9,1361.8 1611.1,1361.8 1611.3,1361.8 1611.5,1361.8 1611.7,1361.8 1611.9,1361.8 1612.2,1361.8 1612.4,1361.8 1612.6,1361.8 1612.8,1361.8 1613.0,1361.7 1613.3,1361.7 1613.5,1361.7 1613.7,1361.7 1613.9,1361.7 1614.1,1361.7 1614.4,1361.7 1614.6,1361.7 1614.8,1361.7 1615.0,1361.6 1615.2,1361.6 1615.4,1361.6 1615.7,1361.6 1615.9,1361.6 1616.1,1361.6 1616.3,1361.6 1616.5,1361.6 1616.8,1361.6 1617.0,1361.6 1617.2,1361.5 1617.4,1361.5 1617.6,1361.5 1617.8,1361.5 1618.1,1361.5 1618.3,1361.5 1618.5,1361.5 1618.7,1361.5 1618.9,1361.5 1619.2,1361.4 1619.4,1361.4 1619.6,1361.4 1619.8,1361.4 1620.0,1361.4 1620.3,1361.4 1620.5,1361.4 1620.7,1361.4 1620.9,1361.4 1621.1,1361.3 1621.3,1361.3 1621.6,1361.3 1621.8,1361.3 1622.0,1361.3 1622.2,1361.3 1622.4,1361.3 1622.7,1361.3 1622.9,1361.2 1623.1,1361.2 1623.3,1361.2 1623.5,1361.2 1623.7,1361.2 1624.0,1361.2 1624.2,1361.2 1624.4,1361.2 1624.6,1361.2 1624.8,1361.1 1625.1,1361.1 1625.3,1361.1 1625.5,1361.1 1625.7,1361.1 1625.9,1361.1 1626.2,1361.1 1626.4,1361.1 1626.6,1361.1 1626.8,1361.0 1627.0,1361.0 1627.2,1361.0 1627.5,1361.0 1627.7,1361.0 1627.9,1361.0 1628.1,1361.0 1628.3,1361.0 1628.6,1360.9 1628.8,1360.9 1629.0,1360.9 1629.2,1360.9 1629.4,1360.9 1629.6,1360.9 1629.9,1360.9 1630.1,1360.9 1630.3,1360.9 1630.5,1360.8 1630.7,1360.8 1631.0,1360.8 1631.2,1360.8 1631.4,1360.8 1631.6,1360.8 1631.8,1360.8 1632.1,1360.8 1632.3,1360.7 1632.5,1360.7 1632.7,1360.7 1632.9,1360.7 1633.1,1360.7 1633.4,1360.7 1633.6,1360.7 1633.8,1360.7 1634.0,1360.6 1634.2,1360.6 1634.5,1360.6 1634.7,1360.6 1634.9,1360.6 1635.1,1360.6 1635.3,1360.6 1635.5,1360.6 1635.8,1360.6 1636.0,1360.5 1636.2,1360.5 1636.4,1360.5 1636.6,1360.5 1636.9,1360.5 1637.1,1360.5 1637.3,1360.5 1637.5,1360.5 1637.7,1360.4 1637.9,1360.4 1638.2,1360.4 1638.4,1360.4 1638.6,1360.4 1638.8,1360.4 1639.0,1360.4 1639.3,1360.4 1639.5,1360.3 1639.7,1360.3 1639.9,1360.3 1640.1,1360.3 1640.4,1360.3 1640.6,1360.3 1640.8,1360.3 1641.0,1360.3 1641.2,1360.3 1641.4,1360.2 1641.7,1360.2 1641.9,1360.2 1642.1,1360.2 1642.3,1360.2 1642.5,1360.2 1642.8,1360.2 1643.0,1360.2 1643.2,1360.1 1643.4,1360.1 1643.6,1360.1 1643.8,1360.1 1644.1,1360.1 1644.3,1360.1 1644.5,1360.1 1644.7,1360.1 1644.9,1360.0 1645.2,1360.0 1645.4,1360.0 1645.6,1360.0 1645.8,1360.0 1646.0,1360.0 1646.3,1360.0 1646.5,1360.0 1646.7,1359.9 1646.9,1359.9 1647.1,1359.9 1647.3,1359.9 1647.6,1359.9 1647.8,1359.9 1648.0,1359.9 1648.2,1359.9 1648.4,1359.8 1648.7,1359.8 1648.9,1359.8 1649.1,1359.8 1649.3,1359.8 1649.5,1359.8 1649.7,1359.8 1650.0,1359.8 1650.2,1359.7 1650.4,1359.7 1650.6,1359.7 1650.8,1359.7 1651.1,1359.7 1651.3,1359.7 1651.5,1359.7 1651.7,1359.7 1651.9,1359.7 1652.2,1359.6 1652.4,1359.6 1652.6,1359.6 1652.8,1359.6 1653.0,1359.6 1653.2,1359.6 1653.5,1359.6 1653.7,1359.6 1653.9,1359.5 1654.1,1359.5 1654.3,1359.5 1654.6,1359.5 1654.8,1359.5 1655.0,1359.5 1655.2,1359.5 1655.4,1359.5 1655.6,1359.4 1655.9,1359.4 1656.1,1359.4 1656.3,1359.4 1656.5,1359.4 1656.7,1359.4 1657.0,1359.4 1657.2,1359.4 1657.4,1359.3 1657.6,1359.3 1657.8,1359.3 1658.1,1359.3 1658.3,1359.3 1658.5,1359.3 1658.7,1359.3 1658.9,1359.3 1659.1,1359.2 1659.4,1359.2 1659.6,1359.2 1659.8,1359.2 1660.0,1359.2 1660.2,1359.2 1660.5,1359.2 1660.7,1359.2 1660.9,1359.1 1661.1,1359.1 1661.3,1359.1 1661.5,1359.1 1661.8,1359.1 1662.0,1359.1 1662.2,1359.1 1662.4,1359.1 1662.6,1359.0 1662.9,1359.0 1663.1,1359.0 1663.3,1359.0 1663.5,1359.0 1663.7,1359.0 1664.0,1359.0 1664.2,1359.0 1664.4,1358.9 1664.6,1358.9 1664.8,1358.9 1665.0,1358.9 1665.3,1358.9 1665.5,1358.9 1665.7,1358.9 1665.9,1358.9 1666.1,1358.8 1666.4,1358.8 1666.6,1358.8 1666.8,1358.8 1667.0,1358.8 1667.2,1358.8 1667.4,1358.8 1667.7,1358.8 1667.9,1358.7 1668.1,1358.7 1668.3,1358.7 1668.5,1358.7 1668.8,1358.7 1669.0,1358.7 1669.2,1358.7 1669.4,1358.7 1669.6,1358.6 1669.9,1358.6 1670.1,1358.6 1670.3,1358.6 1670.5,1358.6 1670.7,1358.6 1670.9,1358.6 1671.2,1358.6 1671.4,1358.5 1671.6,1358.5 1671.8,1358.5 1672.0,1358.5 1672.3,1358.5 1672.5,1358.5 1672.7,1358.5 1672.9,1358.5 1673.1,1358.4 1673.3,1358.4 1673.6,1358.4 1673.8,1358.4 1674.0,1358.4 1674.2,1358.4 1674.4,1358.4 1674.7,1358.4 1674.9,1358.3 1675.1,1358.3 1675.3,1358.3 1675.5,1358.3 1675.8,1358.3 1676.0,1358.3 1676.2,1358.3 1676.4,1358.3 1676.6,1358.2 1676.8,1358.2 1677.1,1358.2 1677.3,1358.2 1677.5,1358.2 1677.7,1358.2 1677.9,1358.2 1678.2,1358.2 1678.4,1358.1 1678.6,1358.1 1678.8,1358.1 1679.0,1358.1 1679.2,1358.1 1679.5,1358.1 1679.7,1358.1 1679.9,1358.1 1680.1,1358.0 1680.3,1358.0 1680.6,1358.0 1680.8,1358.0 1681.0,1358.0 1681.2,1358.0 1681.4,1358.0 1681.7,1358.0 1681.9,1357.9 1682.1,1357.9 1682.3,1357.9 1682.5,1357.9 1682.7,1357.9 1683.0,1357.9 1683.2,1357.8 1683.4,1357.8 1683.6,1357.8 1683.8,1357.8 1684.1,1357.8 1684.3,1357.8 1684.5,1357.7 1684.7,1357.7 1684.9,1357.7 1685.1,1357.7 1685.4,1357.7 1685.6,1357.7 1685.8,1357.6 1686.0,1357.6 1686.2,1357.6 1686.5,1357.6 1686.7,1357.6 1686.9,1357.5 1687.1,1357.5 1687.3,1357.5 1687.5,1357.5 1687.8,1357.5 1688.0,1357.5 1688.2,1357.4 1688.4,1357.4 1688.6,1357.4 1688.9,1357.4 1689.1,1357.4 1689.3,1357.4 1689.5,1357.3 1689.7,1357.3 1690.0,1357.3 1690.2,1357.3 1690.4,1357.3 1690.6,1357.3 1690.8,1357.2 1691.0,1357.2 1691.3,1357.2 1691.5,1357.2 1691.7,1357.2 1691.9,1357.1 1692.1,1357.1 1692.4,1357.1 1692.6,1357.1 1692.8,1357.1 1693.0,1357.0 1693.2,1357.0 1693.4,1357.0 1693.7,1357.0 1693.9,1357.0 1694.1,1357.0 1694.3,1356.9 1694.5,1356.9 1694.8,1356.9 1695.0,1356.9 1695.2,1356.9 1695.4,1356.8 1695.6,1356.8 1695.9,1356.8 1696.1,1356.8 1696.3,1356.8 1696.5,1356.7 1696.7,1356.7 1696.9,1356.7 1697.2,1356.7 1697.4,1356.6 1697.6,1356.6 1697.8,1356.6 1698.0,1356.6 1698.3,1356.5 1698.5,1356.5 1698.7,1356.5 1698.9,1356.5 1699.1,1356.4 1699.3,1356.4 1699.6,1356.4 1699.8,1356.3 1700.0,1356.3 1700.2,1356.3 1700.4,1356.2 1700.7,1356.2 1700.9,1356.1 1701.1,1356.1 1701.3,1356.0 1701.5,1355.9 1701.8,1355.8 1702.0,1355.7 1702.2,1355.6 1702.4,1355.4 1702.6,1355.1 1702.8,1354.8 1703.1,1354.3 1703.3,1353.6 1703.5,1352.7 1703.7,1351.5 1703.9,1350.1 1704.2,1348.5 1704.4,1346.6 1704.6,1344.6 1704.8,1342.7 1705.0,1340.8 1705.2,1339.3 1705.5,1338.3 1705.7,1338.0 1705.9,1338.3 1706.1,1339.3 1706.3,1340.7 1706.6,1342.5 1706.8,1344.5 1707.0,1346.4 1707.2,1348.2 1707.4,1349.9 1707.7,1351.2 1707.9,1352.3 1708.1,1353.2 1708.3,1353.9 1708.5,1354.3 1708.7,1354.7 1709.0,1354.9 1709.2,1355.1 1709.4,1355.2 1709.6,1355.2 1709.8,1355.3 1710.1,1355.3 1710.3,1355.4 1710.5,1355.4 1710.7,1355.4 1710.9,1355.4 1711.1,1355.4 1711.4,1355.4 1711.6,1355.4 1711.8,1355.4 1712.0,1355.4 1712.2,1355.4 1712.5,1355.4 1712.7,1355.4 1712.9,1355.4 1713.1,1355.4 1713.3,1355.4 1713.6,1355.4 1713.8,1355.4 1714.0,1355.4 1714.2,1355.4 1714.4,1355.4 1714.6,1355.3 1714.9,1355.3 1715.1,1355.3 1715.3,1355.3 1715.5,1355.3 1715.7,1355.3 1716.0,1355.3 1716.2,1355.3 1716.4,1355.2 1716.6,1355.2 1716.8,1355.2 1717.0,1355.2 1717.3,1355.2 1717.5,1355.2 1717.7,1355.2 1717.9,1355.1 1718.1,1355.1 1718.4,1355.1 1718.6,1355.1 1718.8,1355.1 1719.0,1355.1 1719.2,1355.1 1719.5,1355.0 1719.7,1355.0 1719.9,1355.0 1720.1,1355.0 1720.3,1355.0 1720.5,1355.0 1720.8,1355.0 1721.0,1354.9 1721.2,1354.9 1721.4,1354.9 1721.6,1354.9 1721.9,1354.9 1722.1,1354.9 1722.3,1354.8 1722.5,1354.8 1722.7,1354.8 1722.9,1354.8 1723.2,1354.8 1723.4,1354.8 1723.6,1354.7 1723.8,1354.7 1724.0,1354.7 1724.3,1354.7 1724.5,1354.7 1724.7,1354.7 1724.9,1354.7 1725.1,1354.6 1725.4,1354.6 1725.6,1354.6 1725.8,1354.6 1726.0,1354.6 1726.2,1354.6 1726.4,1354.5 1726.7,1354.5 1726.9,1354.5 1727.1,1354.5 1727.3,1354.5 1727.5,1354.5 1727.8,1354.4 1728.0,1354.4 1728.2,1354.4 1728.4,1354.4 1728.6,1354.4 1728.8,1354.4 1729.1,1354.3 1729.3,1354.3 1729.5,1354.3 1729.7,1354.3 1729.9,1354.3 1730.2,1354.3 1730.4,1354.2 1730.6,1354.2 1730.8,1354.2 1731.0,1354.2 1731.2,1354.2 1731.5,1354.2 1731.7,1354.1 1731.9,1354.1 1732.1,1354.1 1732.3,1354.1 1732.6,1354.1 1732.8,1354.1 1733.0,1354.0 1733.2,1354.0 1733.4,1354.0 1733.7,1354.0 1733.9,1354.0 1734.1,1354.0 1734.3,1353.9 1734.5,1353.9 1734.7,1353.9 1735.0,1353.9 1735.2,1353.9 1735.4,1353.9 1735.6,1353.9 1735.8,1353.8 1736.1,1353.8 1736.3,1353.8 1736.5,1353.8 1736.7,1353.8 1736.9,1353.8 1737.1,1353.7 1737.4,1353.7 1737.6,1353.7 1737.8,1353.7 1738.0,1353.7 1738.2,1353.7 1738.5,1353.6 1738.7,1353.6 1738.9,1353.6 1739.1,1353.6 1739.3,1353.6 1739.6,1353.6 1739.8,1353.5 1740.0,1353.5 1740.2,1353.5 1740.4,1353.5 1740.6,1353.5 1740.9,1353.5 1741.1,1353.4 1741.3,1353.4 1741.5,1353.4 1741.7,1353.4 1742.0,1353.4 1742.2,1353.4 1742.4,1353.3 1742.6,1353.3 1742.8,1353.3 1743.0,1353.3 1743.3,1353.3 1743.5,1353.3 1743.7,1353.2 1743.9,1353.2 1744.1,1353.2 1744.4,1353.2 1744.6,1353.2 1744.8,1353.2 1745.0,1353.1 1745.2,1353.1 1745.5,1353.1 1745.7,1353.1 1745.9,1353.1 1746.1,1353.1 1746.3,1353.0 1746.5,1353.0 1746.8,1353.0 1747.0,1353.0 1747.2,1353.0 1747.4,1353.0 1747.6,1353.0 1747.9,1353.0 1748.1,1353.0 1748.3,1353.0 1748.5,1353.0 1748.7,1353.0 1748.9,1353.0 1749.2,1352.9 1749.4,1352.9 1749.6,1352.9 1749.8,1352.9 1750.0,1352.9 1750.3,1352.9 1750.5,1352.9 1750.7,1352.9 1750.9,1352.9 1751.1,1352.9 1751.4,1352.9 1751.6,1352.9 1751.8,1352.9 1752.0,1352.9 1752.2,1352.9 1752.4,1352.9 1752.7,1352.9 1752.9,1352.9 1753.1,1352.9 1753.3,1352.9 1753.5,1352.9 1753.8,1352.9 1754.0,1352.9 1754.2,1352.9 1754.4,1352.9 1754.6,1352.9 1754.8,1352.9 1755.1,1352.9 1755.3,1352.9 1755.5,1352.9 1755.7,1352.9 1755.9,1352.9 1756.2,1352.9 1756.4,1352.9 1756.6,1352.9 1756.8,1352.9 1757.0,1352.9 1757.3,1352.9 1757.5,1352.9 1757.7,1352.9 1757.9,1352.9 1758.1,1352.9 1758.3,1352.9 1758.6,1352.8 1758.8,1352.8 1759.0,1352.8 1759.2,1352.8 1759.4,1352.8 1759.7,1352.8 1759.9,1352.8 1760.1,1352.8 1760.3,1352.8 1760.5,1352.8 1760.7,1352.8 1761.0,1352.8 1761.2,1352.8 1761.4,1352.8 1761.6,1352.8 1761.8,1352.8 1762.1,1352.8 1762.3,1352.8 1762.5,1352.8 1762.7,1352.8 1762.9,1352.8 1763.2,1352.8 1763.4,1352.8 1763.6,1352.8 1763.8,1352.8 1764.0,1352.8 1764.2,1352.8 1764.5,1352.8 1764.7,1352.8 1764.9,1352.8 1765.1,1352.8 1765.3,1352.8 1765.6,1352.8 1765.8,1352.8 1766.0,1352.7 1766.2,1352.7 1766.4,1352.7 1766.6,1352.7 1766.9,1352.7 1767.1,1352.7 1767.3,1352.7 1767.5,1352.7 1767.7,1352.7 1768.0,1352.7 1768.2,1352.7 1768.4,1352.7 1768.6,1352.7 1768.8,1352.7 1769.1,1352.7 1769.3,1352.7 1769.5,1352.7 1769.7,1352.7 1769.9,1352.7 1770.1,1352.7 1770.4,1352.6 1770.6,1352.6 1770.8,1352.6 1771.0,1352.6 1771.2,1352.6 1771.5,1352.6 1771.7,1352.6 1771.9,1352.6 1772.1,1352.6 1772.3,1352.6 1772.5,1352.5 1772.8,1352.5 1773.0,1352.5 1773.2,1352.5 1773.4,1352.5 1773.6,1352.5 1773.9,1352.4 1774.1,1352.4 1774.3,1352.4 1774.5,1352.4 1774.7,1352.3 1774.9,1352.3 1775.2,1352.3 1775.4,1352.2 1775.6,1352.2 1775.8,1352.1 1776.0,1352.0 1776.3,1351.9 1776.5,1351.8 1776.7,1351.6 1776.9,1351.3 1777.1,1350.9 1777.4,1350.3 1777.6,1349.5 1777.8,1348.5 1778.0,1347.3 1778.2,1345.7 1778.4,1343.8 1778.7,1341.7 1778.9,1339.5 1779.1,1337.2 1779.3,1335.2 1779.5,1333.5 1779.8,1332.4 1780.0,1332.0 1780.2,1332.4 1780.4,1333.5 1780.6,1335.2 1780.8,1337.2 1781.1,1339.4 1781.3,1341.7 1781.5,1343.8 1781.7,1345.6 1781.9,1347.2 1782.2,1348.5 1782.4,1349.5 1782.6,1350.3 1782.8,1350.8 1783.0,1351.2 1783.3,1351.5 1783.5,1351.7 1783.7,1351.8 1783.9,1351.9 1784.1,1352.0 1784.3,1352.1 1784.6,1352.1 1784.8,1352.2 1785.0,1352.2 1785.2,1352.2 1785.4,1352.3 1785.7,1352.3 1785.9,1352.3 1786.1,1352.3 1786.3,1352.3 1786.5,1352.3 1786.7,1352.4 1787.0,1352.4 1787.2,1352.4 1787.4,1352.4 1787.6,1352.4 1787.8,1352.4 1788.1,1352.4 1788.3,1352.4 1788.5,1352.4 1788.7,1352.4 1788.9,1352.4 1789.2,1352.4 1789.4,1352.4 1789.6,1352.4 1789.8,1352.4 1790.0,1352.4 1790.2,1352.4 1790.5,1352.4 1790.7,1352.4 1790.9,1352.4 1791.1,1352.4 1791.3,1352.4 1791.6,1352.4 1791.8,1352.4 1792.0,1352.4 1792.2,1352.4 1792.4,1352.4 1792.6,1352.4 1792.9,1352.4 1793.1,1352.4 1793.3,1352.4 1793.5,1352.4 1793.7,1352.4 1794.0,1352.4 1794.2,1352.4 1794.4,1352.4 1794.6,1352.4 1794.8,1352.4 1795.1,1352.4 1795.3,1352.4 1795.5,1352.4 1795.7,1352.4 1795.9,1352.3 1796.1,1352.3 1796.4,1352.3 1796.6,1352.3 1796.8,1352.3 1797.0,1352.3 1797.2,1352.3 1797.5,1352.3 1797.7,1352.2 1797.9,1352.2 1798.1,1352.2 1798.3,1352.2 1798.5,1352.2 1798.8,1352.1 1799.0,1352.1 1799.2,1352.1 1799.4,1352.0 1799.6,1352.0 1799.9,1351.9 1800.1,1351.9 1800.3,1351.8 1800.5,1351.6 1800.7,1351.5 1801.0,1351.2 1801.2,1350.8 1801.4,1350.3 1801.6,1349.7 1801.8,1348.8 1802.0,1347.6 1802.3,1346.2 1802.5,1344.5 1802.7,1342.7 1802.9,1340.7 1803.1,1338.7 1803.4,1336.8 1803.6,1335.3 1803.8,1334.3 1804.0,1334.0 1804.2,1334.3 1804.4,1335.3 1804.7,1336.8 1804.9,1338.6 1805.1,1340.6 1805.3,1342.6 1805.5,1344.5 1805.8,1346.2 1806.0,1347.6 1806.2,1348.7 1806.4,1349.6 1806.6,1350.3 1806.9,1350.8 1807.1,1351.1 1807.3,1351.4 1807.5,1351.6 1807.7,1351.7 1807.9,1351.8 1808.2,1351.9 1808.4,1351.9 1808.6,1352.0 1808.8,1352.0 1809.0,1352.0 1809.3,1352.1 1809.5,1352.1 1809.7,1352.1 1809.9,1352.1 1810.1,1352.1 1810.3,1352.2 1810.6,1352.2 1810.8,1352.2 1811.0,1352.2 1811.2,1352.2 1811.4,1352.2 1811.7,1352.2 1811.9,1352.2 1812.1,1352.2 1812.3,1352.2 1812.5,1352.2 1812.8,1352.2 1813.0,1352.2 1813.2,1352.2 1813.4,1352.3 1813.6,1352.3 1813.8,1352.3 1814.1,1352.3 1814.3,1352.3 1814.5,1352.3 1814.7,1352.3 1814.9,1352.3 1815.2,1352.3 1815.4,1352.3 1815.6,1352.3 1815.8,1352.3 1816.0,1352.3 1816.2,1352.3 1816.5,1352.3 1816.7,1352.3 1816.9,1352.3 1817.1,1352.3 1817.3,1352.3 1817.6,1352.3 1817.8,1352.3 1818.0,1352.3 1818.2,1352.3 1818.4,1352.3 1818.6,1352.3 1818.9,1352.3 1819.1,1352.3 1819.3,1352.3 1819.5,1352.3 1819.7,1352.3 1820.0,1352.3 1820.2,1352.3 1820.4,1352.3 1820.6,1352.3 1820.8,1352.3 1821.1,1352.3 1821.3,1352.3 1821.5,1352.3 1821.7,1352.3 1821.9,1352.3 1822.1,1352.3 1822.4,1352.3 1822.6,1352.2 1822.8,1352.2 1823.0,1352.2 1823.2,1352.2 1823.5,1352.2 1823.7,1352.2 1823.9,1352.2 1824.1,1352.2 1824.3,1352.2 1824.5,1352.2 1824.8,1352.2 1825.0,1352.2 1825.2,1352.2 1825.4,1352.2 1825.6,1352.2 1825.9,1352.2 1826.1,1352.2 1826.3,1352.2 1826.5,1352.2 1826.7,1352.2 1827.0,1352.2 1827.2,1352.2 1827.4,1352.2 1827.6,1352.2 1827.8,1352.2 1828.0,1352.2 1828.3,1352.2 1828.5,1352.2 1828.7,1352.2 1828.9,1352.2 1829.1,1352.2 1829.4,1352.2 1829.6,1352.2 1829.8,1352.2 1830.0,1352.2 1830.2,1352.2 1830.4,1352.2 1830.7,1352.2 1830.9,1352.2 1831.1,1352.2 1831.3,1352.2 1831.5,1352.2 1831.8,1352.2 1832.0,1352.2 1832.2,1352.2 1832.4,1352.2 1832.6,1352.2 1832.9,1352.2 1833.1,1352.2 1833.3,1352.2 1833.5,1352.2 1833.7,1352.2 1833.9,1352.2 1834.2,1352.2 1834.4,1352.2 1834.6,1352.2 1834.8,1352.1 1835.0,1352.1 1835.3,1352.1 1835.5,1352.1 1835.7,1352.1 1835.9,1352.1 1836.1,1352.1 1836.3,1352.1 1836.6,1352.1 1836.8,1352.1 1837.0,1352.1 1837.2,1352.1 1837.4,1352.1 1837.7,1352.1 1837.9,1352.1 1838.1,1352.1 1838.3,1352.1 1838.5,1352.1 1838.8,1352.1 1839.0,1352.1 1839.2,1352.1 1839.4,1352.1 1839.6,1352.1 1839.8,1352.1 1840.1,1352.1 1840.3,1352.1 1840.5,1352.1 1840.7,1352.1 1840.9,1352.1 1841.2,1352.1 1841.4,1352.1 1841.6,1352.1 1841.8,1352.1 1842.0,1352.1 1842.2,1352.1 1842.5,1352.1 1842.7,1352.1 1842.9,1352.1 1843.1,1352.1 1843.3,1352.1 1843.6,1352.1 1843.8,1352.1 1844.0,1352.1 1844.2,1352.1 1844.4,1352.1 1844.7,1352.0 1844.9,1352.0 1845.1,1352.0 1845.3,1352.0 1845.5,1352.0 1845.7,1352.0 1846.0,1352.0 1846.2,1352.0 1846.4,1352.0 1846.6,1352.0 1846.8,1352.0 1847.1,1352.0 1847.3,1352.0 1847.5,1352.0 1847.7,1352.0 1847.9,1352.0 1848.1,1352.0 1848.4,1352.0 1848.6,1352.0 1848.8,1352.0 1849.0,1352.0 1849.2,1352.0 1849.5,1352.0 1849.7,1352.0 1849.9,1352.0 1850.1,1352.0 1850.3,1352.0 1850.6,1352.0 1850.8,1352.0 1851.0,1352.0 1851.2,1352.0 1851.4,1352.0 1851.6,1352.0 1851.9,1352.0 1852.1,1352.0 1852.3,1352.0 1852.5,1352.0 1852.7,1352.0 1853.0,1352.0 1853.2,1352.0 1853.4,1351.9 1853.6,1351.9 1853.8,1351.9 1854.0,1351.9 1854.3,1351.9 1854.5,1351.9 1854.7,1351.9 1854.9,1351.9 1855.1,1351.9 1855.4,1351.9 1855.6,1351.9 1855.8,1351.9 1856.0,1351.9 1856.2,1351.9 1856.5,1351.9 1856.7,1351.9 1856.9,1351.9 1857.1,1351.9 1857.3,1351.9 1857.5,1352.0 1857.8,1352.0 1858.0,1352.0 1858.2,1352.0 1858.4,1352.0 1858.6,1352.0 1858.9,1352.0 1859.1,1352.0 1859.3,1352.0 1859.5,1352.0 1859.7,1352.0 1859.9,1352.0 1860.2,1352.1 1860.4,1352.1 1860.6,1352.1 1860.8,1352.1 1861.0,1352.1 1861.3,1352.1 1861.5,1352.1 1861.7,1352.1 1861.9,1352.1 1862.1,1352.1 1862.3,1352.1 1862.6,1352.1 1862.8,1352.2 1863.0,1352.2 1863.2,1352.2 1863.4,1352.2 1863.7,1352.2 1863.9,1352.2 1864.1,1352.2 1864.3,1352.2 1864.5,1352.2 1864.8,1352.2 1865.0,1352.2 1865.2,1352.2 1865.4,1352.2 1865.6,1352.3 1865.8,1352.3 1866.1,1352.3 1866.3,1352.3 1866.5,1352.3 1866.7,1352.3 1866.9,1352.3 1867.2,1352.3 1867.4,1352.3 1867.6,1352.3 1867.8,1352.3 1868.0,1352.3 1868.2,1352.3 1868.5,1352.3 1868.7,1352.3 1868.9,1352.4 1869.1,1352.4 1869.3,1352.4 1869.6,1352.4 1869.8,1352.4 1870.0,1352.4 1870.2,1352.4 1870.4,1352.4 1870.7,1352.4 1870.9,1352.4 1871.1,1352.4 1871.3,1352.4 1871.5,1352.4 1871.7,1352.4 1872.0,1352.4 1872.2,1352.4 1872.4,1352.4 1872.6,1352.4 1872.8,1352.4 1873.1,1352.4 1873.3,1352.4 1873.5,1352.4 1873.7,1352.4 1873.9,1352.4 1874.1,1352.4 1874.4,1352.4 1874.6,1352.4 1874.8,1352.4 1875.0,1352.4 1875.2,1352.4 1875.5,1352.4 1875.7,1352.4 1875.9,1352.4 1876.1,1352.4 1876.3,1352.4 1876.6,1352.4 1876.8,1352.4 1877.0,1352.4 1877.2,1352.4 1877.4,1352.3 1877.6,1352.3 1877.9,1352.3 1878.1,1352.3 1878.3,1352.3 1878.5,1352.3 1878.7,1352.3 1879.0,1352.2 1879.2,1352.2 1879.4,1352.2 1879.6,1352.2 1879.8,1352.1 1880.0,1352.1 1880.3,1352.0 1880.5,1352.0 1880.7,1352.0 1880.9,1351.9 1881.1,1351.9 1881.4,1351.8 1881.6,1351.7 1881.8,1351.7 1882.0,1351.6 1882.2,1351.5 1882.5,1351.4 1882.7,1351.3 1882.9,1351.2 1883.1,1351.1 1883.3,1350.9 1883.5,1350.8 1883.8,1350.6 1884.0,1350.4 1884.2,1350.2 1884.4,1349.9 1884.6,1349.5 1884.9,1349.1 1885.1,1348.5 1885.3,1347.7 1885.5,1346.6 1885.7,1345.2 1885.9,1343.2 1886.2,1340.5 1886.4,1337.0 1886.6,1332.5 1886.8,1326.8 1887.0,1319.7 1887.3,1311.3 1887.5,1301.6 1887.7,1290.8 1887.9,1279.2 1888.1,1267.4 1888.4,1256.1 1888.6,1246.0 1888.8,1238.0 1889.0,1232.8 1889.2,1231.0 1889.4,1232.8 1889.7,1238.0 1889.9,1246.1 1890.1,1256.2 1890.3,1267.5 1890.5,1279.3 1890.8,1290.9 1891.0,1301.7 1891.2,1311.5 1891.4,1319.9 1891.6,1327.0 1891.8,1332.7 1892.1,1337.3 1892.3,1340.8 1892.5,1343.5 1892.7,1345.5 1892.9,1347.0 1893.2,1348.0 1893.4,1348.8 1893.6,1349.5 1893.8,1349.9 1894.0,1350.3 1894.3,1350.6 1894.5,1350.9 1894.7,1351.1 1894.9,1351.3 1895.1,1351.5 1895.3,1351.6 1895.6,1351.8 1895.8,1351.9 1896.0,1352.0 1896.2,1352.2 1896.4,1352.3 1896.7,1352.4 1896.9,1352.4 1897.1,1352.5 1897.3,1352.6 1897.5,1352.7 1897.7,1352.7 1898.0,1352.8 1898.2,1352.9 1898.4,1352.9 1898.6,1353.0 1898.8,1353.0 1899.1,1353.1 1899.3,1353.1 1899.5,1353.2 1899.7,1353.2 1899.9,1353.2 1900.2,1353.3 1900.4,1353.3 1900.6,1353.4 1900.8,1353.4 1901.0,1353.4 1901.2,1353.5 1901.5,1353.5 1901.7,1353.5 1901.9,1353.5 1902.1,1353.6 1902.3,1353.6 1902.6,1353.6 1902.8,1353.6 1903.0,1353.7 1903.2,1353.7 1903.4,1353.7 1903.6,1353.7 1903.9,1353.8 1904.1,1353.8 1904.3,1353.8 1904.5,1353.8 1904.7,1353.8 1905.0,1353.9 1905.2,1353.9 1905.4,1353.9 1905.6,1353.9 1905.8,1353.9 1906.0,1354.0 1906.3,1354.0 1906.5,1354.0 1906.7,1354.0 1906.9,1354.0 1907.1,1354.0 1907.4,1354.1 1907.6,1354.1 1907.8,1354.1 1908.0,1354.1 1908.2,1354.1 1908.5,1354.1 1908.7,1354.2 1908.9,1354.2 1909.1,1354.2 1909.3,1354.2 1909.5,1354.2 1909.8,1354.2 1910.0,1354.2 1910.2,1354.3 1910.4,1354.3 1910.6,1354.3 1910.9,1354.3 1911.1,1354.3 1911.3,1354.3 1911.5,1354.3 1911.7,1354.3 1911.9,1354.4 1912.2,1354.4 1912.4,1354.4 1912.6,1354.4 1912.8,1354.4 1913.0,1354.4 1913.3,1354.4 1913.5,1354.4 1913.7,1354.5 1913.9,1354.5 1914.1,1354.5 1914.4,1354.5 1914.6,1354.5 1914.8,1354.5 1915.0,1354.5 1915.2,1354.5 1915.4,1354.6 1915.7,1354.6 1915.9,1354.6 1916.1,1354.6 1916.3,1354.6 1916.5,1354.6 1916.8,1354.6 1917.0,1354.6 1917.2,1354.7 1917.4,1354.7 1917.6,1354.7 1917.8,1354.7 1918.1,1354.7 1918.3,1354.7 1918.5,1354.7 1918.7,1354.7 1918.9,1354.7 1919.2,1354.8 1919.4,1354.8 1919.6,1354.8 1919.8,1354.8 1920.0,1354.8 1920.3,1354.8 1920.5,1354.8 1920.7,1354.8 1920.9,1354.8 1921.1,1354.9 1921.3,1354.9 1921.6,1354.9 1921.8,1354.9 1922.0,1354.9 1922.2,1354.9 1922.4,1354.9 1922.7,1354.9 1922.9,1355.0 1923.1,1355.0 1923.3,1355.0 1923.5,1355.0 1923.7,1355.0 1924.0,1355.0 1924.2,1355.0 1924.4,1355.0 1924.6,1355.1 1924.8,1355.1 1925.1,1355.1 1925.3,1355.1 1925.5,1355.1 1925.7,1355.1 1925.9,1355.1 1926.2,1355.1 1926.4,1355.2 1926.6,1355.2 1926.8,1355.2 1927.0,1355.2 1927.2,1355.2 1927.5,1355.2 1927.7,1355.2 1927.9,1355.2 1928.1,1355.3 1928.3,1355.3 1928.6,1355.3 1928.8,1355.3 1929.0,1355.3 1929.2,1355.3 1929.4,1355.3 1929.6,1355.3 1929.9,1355.4 1930.1,1355.4 1930.3,1355.4 1930.5,1355.4 1930.7,1355.4 1931.0,1355.4 1931.2,1355.4 1931.4,1355.4 1931.6,1355.4 1931.8,1355.5 1932.1,1355.5 1932.3,1355.5 1932.5,1355.5 1932.7,1355.5 1932.9,1355.5 1933.1,1355.5 1933.4,1355.5 1933.6,1355.6 1933.8,1355.6 1934.0,1355.6 1934.2,1355.6 1934.5,1355.6 1934.7,1355.6 1934.9,1355.6 1935.1,1355.6 1935.3,1355.7 1935.5,1355.7 1935.8,1355.7 1936.0,1355.7 1936.2,1355.7 1936.4,1355.7 1936.6,1355.7 1936.9,1355.7 1937.1,1355.7 1937.3,1355.8 1937.5,1355.8 1937.7,1355.8 1938.0,1355.8 1938.2,1355.8 1938.4,1355.8 1938.6,1355.8 1938.8,1355.8 1939.0,1355.9 1939.3,1355.9 1939.5,1355.9 1939.7,1355.9 1939.9,1355.9 1940.1,1355.9 1940.4,1355.9 1940.6,1355.9 1940.8,1355.9 1941.0,1356.0 1941.2,1356.0 1941.4,1356.0 1941.7,1356.0 1941.9,1356.0 1942.1,1356.0 1942.3,1356.0 1942.5,1356.0 1942.8,1356.0 1943.0,1356.1 1943.2,1356.1 1943.4,1356.1 1943.6,1356.1 1943.9,1356.1 1944.1,1356.1 1944.3,1356.1 1944.5,1356.1 1944.7,1356.1 1944.9,1356.2 1945.2,1356.2 1945.4,1356.2 1945.6,1356.2 1945.8,1356.2 1946.0,1356.2 1946.3,1356.2 1946.5,1356.2 1946.7,1356.2 1946.9,1356.2 1947.1,1356.3 1947.3,1356.3 1947.6,1356.3 1947.8,1356.3 1948.0,1356.3 1948.2,1356.3 1948.4,1356.3 1948.7,1356.3 1948.9,1356.3 1949.1,1356.3 1949.3,1356.3 1949.5,1356.4 1949.7,1356.4 1950.0,1356.4 1950.2,1356.4 1950.4,1356.4 1950.6,1356.4 1950.8,1356.4 1951.1,1356.4 1951.3,1356.4 1951.5,1356.4 1951.7,1356.4 1951.9,1356.4 1952.2,1356.5 1952.4,1356.5 1952.6,1356.5 1952.8,1356.5 1953.0,1356.5 1953.2,1356.5 1953.5,1356.5 1953.7,1356.5 1953.9,1356.5 1954.1,1356.5 1954.3,1356.5 1954.6,1356.5 1954.8,1356.5 1955.0,1356.5 1955.2,1356.5 1955.4,1356.5 1955.6,1356.5 1955.9,1356.5 1956.1,1356.5 1956.3,1356.5 1956.5,1356.5 1956.7,1356.5 1957.0,1356.5 1957.2,1356.5 1957.4,1356.5 1957.6,1356.4 1957.8,1356.4 1958.1,1356.4 1958.3,1356.4 1958.5,1356.4 1958.7,1356.3 1958.9,1356.3 1959.1,1356.3 1959.4,1356.2 1959.6,1356.2 1959.8,1356.2 1960.0,1356.1 1960.2,1356.0 1960.5,1356.0 1960.7,1355.9 1960.9,1355.8 1961.1,1355.7 1961.3,1355.5 1961.5,1355.4 1961.8,1355.1 1962.0,1354.8 1962.2,1354.4 1962.4,1353.8 1962.6,1353.0 1962.9,1351.8 1963.1,1350.2 1963.3,1347.9 1963.5,1344.9 1963.7,1341.2 1964.0,1336.5 1964.2,1331.0 1964.4,1324.8 1964.6,1318.1 1964.8,1311.5 1965.0,1305.4 1965.3,1300.4 1965.5,1297.1 1965.7,1296.0 1965.9,1297.2 1966.1,1300.5 1966.4,1305.5 1966.6,1311.6 1966.8,1318.3 1967.0,1324.9 1967.2,1331.1 1967.4,1336.7 1967.7,1341.4 1967.9,1345.2 1968.1,1348.2 1968.3,1350.5 1968.5,1352.1 1968.8,1353.3 1969.0,1354.2 1969.2,1354.8 1969.4,1355.3 1969.6,1355.6 1969.9,1355.8 1970.1,1356.0 1970.3,1356.2 1970.5,1356.3 1970.7,1356.4 1970.9,1356.5 1971.2,1356.6 1971.4,1356.7 1971.6,1356.8 1971.8,1356.9 1972.0,1356.9 1972.3,1357.0 1972.5,1357.1 1972.7,1357.1 1972.9,1357.2 1973.1,1357.2 1973.3,1357.3 1973.6,1357.3 1973.8,1357.3 1974.0,1357.4 1974.2,1357.4 1974.4,1357.4 1974.7,1357.5 1974.9,1357.5 1975.1,1357.5 1975.3,1357.6 1975.5,1357.6 1975.8,1357.6 1976.0,1357.6 1976.2,1357.7 1976.4,1357.7 1976.6,1357.7 1976.8,1357.7 1977.1,1357.8 1977.3,1357.8 1977.5,1357.8 1977.7,1357.8 1977.9,1357.8 1978.2,1357.9 1978.4,1357.9 1978.6,1357.9 1978.8,1357.9 1979.0,1357.9 1979.2,1357.9 1979.5,1358.0 1979.7,1358.0 1979.9,1358.0 1980.1,1358.0 1980.3,1358.0 1980.6,1358.1 1980.8,1358.1 1981.0,1358.1 1981.2,1358.1 1981.4,1358.1 1981.7,1358.1 1981.9,1358.1 1982.1,1358.2 1982.3,1358.2 1982.5,1358.2 1982.7,1358.2 1983.0,1358.2 1983.2,1358.2 1983.4,1358.3 1983.6,1358.3 1983.8,1358.3 1984.1,1358.3 1984.3,1358.3 1984.5,1358.3 1984.7,1358.3 1984.9,1358.4 1985.1,1358.4 1985.4,1358.4 1985.6,1358.4 1985.8,1358.4 1986.0,1358.4 1986.2,1358.4 1986.5,1358.4 1986.7,1358.5 1986.9,1358.5 1987.1,1358.5 1987.3,1358.5 1987.6,1358.5 1987.8,1358.5 1988.0,1358.5 1988.2,1358.6 1988.4,1358.6 1988.6,1358.6 1988.9,1358.6 1989.1,1358.6 1989.3,1358.6 1989.5,1358.6 1989.7,1358.6 1990.0,1358.7 1990.2,1358.7 1990.4,1358.7 1990.6,1358.7 1990.8,1358.7 1991.0,1358.7 1991.3,1358.7 1991.5,1358.8 1991.7,1358.8 1991.9,1358.8 1992.1,1358.8 1992.4,1358.8 1992.6,1358.8 1992.8,1358.8 1993.0,1358.8 1993.2,1358.9 1993.4,1358.9 1993.7,1358.9 1993.9,1358.9 1994.1,1358.9 1994.3,1358.9 1994.5,1358.9 1994.8,1358.9 1995.0,1359.0 1995.2,1359.0 1995.4,1359.0 1995.6,1359.0 1995.9,1359.0 1996.1,1359.0 1996.3,1359.0 1996.5,1359.0 1996.7,1359.1 1996.9,1359.1 1997.2,1359.1 1997.4,1359.1 1997.6,1359.1 1997.8,1359.1 1998.0,1359.1 1998.3,1359.1 1998.5,1359.2 1998.7,1359.2 1998.9,1359.2 1999.1,1359.2 1999.3,1359.2 1999.6,1359.2 1999.8,1359.2 2000.0,1359.2 2000.2,1359.3 2000.4,1359.3 2000.7,1359.3 2000.9,1359.3 2001.1,1359.3 2001.3,1359.3 2001.5,1359.3 2001.8,1359.3 2002.0,1359.4 2002.2,1359.4 2002.4,1359.4 2002.6,1359.4 2002.8,1359.4 2003.1,1359.4 2003.3,1359.4 2003.5,1359.4 2003.7,1359.4 2003.9,1359.5 2004.2,1359.5 2004.4,1359.5 2004.6,1359.5 2004.8,1359.5 2005.0,1359.5 2005.2,1359.5 2005.5,1359.5 2005.7,1359.6 2005.9,1359.6 2006.1,1359.6 2006.3,1359.6 2006.6,1359.6 2006.8,1359.6 2007.0,1359.6 2007.2,1359.6 2007.4,1359.7 2007.7,1359.7 2007.9,1359.7 2008.1,1359.7 2008.3,1359.7 2008.5,1359.7 2008.7,1359.7 2009.0,1359.7 2009.2,1359.8 2009.4,1359.8 2009.6,1359.8 2009.8,1359.8 2010.1,1359.8 2010.3,1359.8 2010.5,1359.8 2010.7,1359.8 2010.9,1359.8 2011.1,1359.9 2011.4,1359.9 2011.6,1359.9 2011.8,1359.9 2012.0,1359.9 2012.2,1359.9 2012.5,1359.9 2012.7,1359.9 2012.9,1360.0 2013.1,1360.0 2013.3,1360.0 2013.6,1360.0 2013.8,1360.0 2014.0,1360.0 2014.2,1360.0 2014.4,1360.0 2014.6,1360.0 2014.9,1360.1 2015.1,1360.1 2015.3,1360.1 2015.5,1360.1 2015.7,1360.1 2016.0,1360.1 2016.2,1360.1 2016.4,1360.1 2016.6,1360.2 2016.8,1360.2 2017.0,1360.2 2017.3,1360.2 2017.5,1360.2 2017.7,1360.2 2017.9,1360.2 2018.1,1360.2 2018.4,1360.2 2018.6,1360.3 2018.8,1360.3 2019.0,1360.3 2019.2,1360.3 2019.5,1360.3 2019.7,1360.3 2019.9,1360.3 2020.1,1360.3 2020.3,1360.3 2020.5,1360.4 2020.8,1360.4 2021.0,1360.4 2021.2,1360.4 2021.4,1360.4 2021.6,1360.4 2021.9,1360.4 2022.1,1360.4 2022.3,1360.4 2022.5,1360.5 2022.7,1360.5 2022.9,1360.5 2023.2,1360.5 2023.4,1360.5 2023.6,1360.5 2023.8,1360.5 2024.0,1360.5 2024.3,1360.5 2024.5,1360.5 2024.7,1360.5 2024.9,1360.6 2025.1,1360.6 2025.4,1360.6 2025.6,1360.6 2025.8,1360.6 2026.0,1360.6 2026.2,1360.6 2026.4,1360.6 2026.7,1360.6 2026.9,1360.6 2027.1,1360.6 2027.3,1360.6 2027.5,1360.6 2027.8,1360.6 2028.0,1360.6 2028.2,1360.6 2028.4,1360.6 2028.6,1360.6 2028.8,1360.6 2029.1,1360.6 2029.3,1360.6 2029.5,1360.5 2029.7,1360.5 2029.9,1360.4 2030.2,1360.3 2030.4,1360.2 2030.6,1360.0 2030.8,1359.7 2031.0,1359.3 2031.3,1358.8 2031.5,1358.1 2031.7,1357.2 2031.9,1356.3 2032.1,1355.1 2032.3,1353.9 2032.6,1352.8 2032.8,1351.7 2033.0,1350.8 2033.2,1350.2 2033.4,1350.0 2033.7,1350.2 2033.9,1350.8 2034.1,1351.7 2034.3,1352.9 2034.5,1354.1 2034.7,1355.3 2035.0,1356.4 2035.2,1357.5 2035.4,1358.3 2035.6,1359.0 2035.8,1359.6 2036.1,1360.0 2036.3,1360.3 2036.5,1360.5 2036.7,1360.7 2036.9,1360.8 2037.1,1360.9 2037.4,1361.0 2037.6,1361.0 2037.8,1361.1 2038.0,1361.1 2038.2,1361.2 2038.5,1361.2 2038.7,1361.2 2038.9,1361.3 2039.1,1361.3 2039.3,1361.3 2039.6,1361.3 2039.8,1361.4 2040.0,1361.4 2040.2,1361.4 2040.4,1361.4 2040.6,1361.4 2040.9,1361.5 2041.1,1361.5 2041.3,1361.5 2041.5,1361.5 2041.7,1361.5 2042.0,1361.6 2042.2,1361.6 2042.4,1361.6 2042.6,1361.6 2042.8,1361.6 2043.0,1361.6 2043.3,1361.7 2043.5,1361.7 2043.7,1361.7 2043.9,1361.7 2044.1,1361.7 2044.4,1361.7 2044.6,1361.8 2044.8,1361.8 2045.0,1361.8 2045.2,1361.8 2045.5,1361.8 2045.7,1361.8 2045.9,1361.8 2046.1,1361.9 2046.3,1361.9 2046.5,1361.9 2046.8,1361.9 2047.0,1361.9 2047.2,1361.9 2047.4,1361.9 2047.6,1362.0 2047.9,1362.0 2048.1,1362.0 2048.3,1362.0 2048.5,1362.0 2048.7,1362.0 2048.9,1362.0 2049.2,1362.1 2049.4,1362.1 2049.6,1362.1 2049.8,1362.1 2050.0,1362.1 2050.3,1362.1 2050.5,1362.1 2050.7,1362.2 2050.9,1362.2 2051.1,1362.2 2051.4,1362.2 2051.6,1362.2 2051.8,1362.2 2052.0,1362.2 2052.2,1362.3 2052.4,1362.3 2052.7,1362.3 2052.9,1362.3 2053.1,1362.3 2053.3,1362.3 2053.5,1362.3 2053.8,1362.3 2054.0,1362.4 2054.2,1362.4 2054.4,1362.4 2054.6,1362.4 2054.8,1362.4 2055.1,1362.4 2055.3,1362.4 2055.5,1362.5 2055.7,1362.5 2055.9,1362.5 2056.2,1362.5 2056.4,1362.5 2056.6,1362.5 2056.8,1362.5 2057.0,1362.6 2057.3,1362.6 2057.5,1362.6 2057.7,1362.6 2057.9,1362.6 2058.1,1362.6 2058.3,1362.6 2058.6,1362.6 2058.8,1362.7 2059.0,1362.7 2059.2,1362.7 2059.4,1362.7 2059.7,1362.7 2059.9,1362.7 2060.1,1362.7 2060.3,1362.8 2060.5,1362.8 2060.7,1362.8 2061.0,1362.8 2061.2,1362.8 2061.4,1362.8 2061.6,1362.8 2061.8,1362.8 2062.1,1362.9 2062.3,1362.9 2062.5,1362.9 2062.7,1362.9 2062.9,1362.9 2063.2,1362.9 2063.4,1362.9 2063.6,1363.0 2063.8,1363.0 2064.0,1363.0 2064.2,1363.0 2064.5,1363.0 2064.7,1363.0 2064.9,1363.0 2065.1,1363.1 2065.3,1363.1 2065.6,1363.1 2065.8,1363.1 2066.0,1363.1 2066.2,1363.1 2066.4,1363.1 2066.6,1363.1 2066.9,1363.2 2067.1,1363.2 2067.3,1363.2 2067.5,1363.2 2067.7,1363.2 2068.0,1363.2 2068.2,1363.2 2068.4,1363.3 2068.6,1363.3 2068.8,1363.3 2069.1,1363.3 2069.3,1363.3 2069.5,1363.3 2069.7,1363.3 2069.9,1363.3 2070.1,1363.4 2070.4,1363.4 2070.6,1363.4 2070.8,1363.4 2071.0,1363.4 2071.2,1363.4 2071.5,1363.4 2071.7,1363.5 2071.9,1363.5 2072.1,1363.5 2072.3,1363.5 2072.5,1363.5 2072.8,1363.5 2073.0,1363.5 2073.2,1363.5 2073.4,1363.6 2073.6,1363.6 2073.9,1363.6 2074.1,1363.6 2074.3,1363.6 2074.5,1363.6 2074.7,1363.6 2075.0,1363.7 2075.2,1363.7 2075.4,1363.7 2075.6,1363.7 2075.8,1363.7 2076.0,1363.7 2076.3,1363.7 2076.5,1363.7 2076.7,1363.8 2076.9,1363.8 2077.1,1363.8 2077.4,1363.8 2077.6,1363.8 2077.8,1363.8 2078.0,1363.8 2078.2,1363.9 2078.4,1363.9 2078.7,1363.9 2078.9,1363.9 2079.1,1363.9 2079.3,1363.9 2079.5,1363.9 2079.8,1363.9 2080.0,1364.0 2080.2,1364.0 2080.4,1364.0 2080.6,1364.0 2080.8,1364.0 2081.1,1364.0 2081.3,1364.0 2081.5,1364.1 2081.7,1364.1 2081.9,1364.1 2082.2,1364.1 2082.4,1364.1 2082.6,1364.1 2082.8,1364.1 2083.0,1364.1 2083.3,1364.2 2083.5,1364.2 2083.7,1364.2 2083.9,1364.2 2084.1,1364.2 2084.3,1364.2 2084.6,1364.2 2084.8,1364.3 2085.0,1364.3 2085.2,1364.3 2085.4,1364.3 2085.7,1364.3 2085.9,1364.3 2086.1,1364.3 2086.3,1364.3 2086.5,1364.4 2086.7,1364.4 2087.0,1364.4 2087.2,1364.4 2087.4,1364.4 2087.6,1364.4 2087.8,1364.4 2088.1,1364.5 2088.3,1364.5 2088.5,1364.5 2088.7,1364.5 2088.9,1364.5 2089.2,1364.5 2089.4,1364.5 2089.6,1364.5 2089.8,1364.6 2090.0,1364.6 2090.2,1364.6 2090.5,1364.6 2090.7,1364.6 2090.9,1364.6 2091.1,1364.6 2091.3,1364.7 2091.6,1364.7 2091.8,1364.7 2092.0,1364.7 2092.2,1364.7 2092.4,1364.7 2092.6,1364.7 2092.9,1364.7 2093.1,1364.8 2093.3,1364.8 2093.5,1364.8 2093.7,1364.8 2094.0,1364.8 2094.2,1364.8 2094.4,1364.8 2094.6,1364.9 2094.8,1364.9 2095.1,1364.9 2095.3,1364.9 2095.5,1364.9 2095.7,1364.9 2095.9,1364.9 2096.1,1364.9 2096.4,1365.0 2096.6,1365.0 2096.8,1365.0 2097.0,1365.0 2097.2,1365.0 2097.5,1365.0 2097.7,1365.0 2097.9,1365.0 2098.1,1365.0 2098.3,1365.0 2098.5,1365.0 2098.8,1365.0 2099.0,1365.0 2099.2,1365.0 2099.4,1365.0 2099.6,1365.0 2099.9,1365.0 2100.1,1365.0 2100.3,1365.0 2100.5,1365.0 2100.7,1365.0 2101.0,1365.0 2101.2,1365.0 2101.4,1365.0 2101.6,1365.0 2101.8,1365.0 2102.0,1365.0 2102.3,1365.0 2102.5,1365.0 2102.7,1365.0 2102.9,1365.0 2103.1,1365.0 2103.4,1365.0 2103.6,1365.0 2103.8,1365.0 2104.0,1365.0 2104.2,1365.0 2104.4,1365.0 2104.7,1365.0 2104.9,1365.0 2105.1,1365.0 2105.3,1365.0 2105.5,1365.0 2105.8,1365.0 2106.0,1365.0 2106.2,1365.0 2106.4,1365.1 2106.6,1365.1 2106.9,1365.1 2107.1,1365.1 2107.3,1365.1 2107.5,1365.1 2107.7,1365.1 2107.9,1365.1 2108.2,1365.1 2108.4,1365.1 2108.6,1365.1 2108.8,1365.1 2109.0,1365.1 2109.3,1365.1 2109.5,1365.1 2109.7,1365.1 2109.9,1365.1 2110.1,1365.1 2110.3,1365.1 2110.6,1365.1 2110.8,1365.1 2111.0,1365.1 2111.2,1365.1 2111.4,1365.1 2111.7,1365.1 2111.9,1365.1 2112.1,1365.1 2112.3,1365.1 2112.5,1365.1 2112.8,1365.1 2113.0,1365.1 2113.2,1365.1 2113.4,1365.1 2113.6,1365.1 2113.8,1365.1 2114.1,1365.1 2114.3,1365.1 2114.5,1365.1 2114.7,1365.1 2114.9,1365.1 2115.2,1365.1 2115.4,1365.1 2115.6,1365.1 2115.8,1365.1 2116.0,1365.1 2116.2,1365.1 2116.5,1365.1 2116.7,1365.1 2116.9,1365.1 2117.1,1365.1 2117.3,1365.1 2117.6,1365.1 2117.8,1365.1 2118.0,1365.1 2118.2,1365.1 2118.4,1365.1 2118.7,1365.1 2118.9,1365.1 2119.1,1365.1 2119.3,1365.1 2119.5,1365.1 2119.7,1365.1 2120.0,1365.1 2120.2,1365.1 2120.4,1365.1 2120.6,1365.1 2120.8,1365.1 2121.1,1365.1 2121.3,1365.1 2121.5,1365.1 2121.7,1365.1 2121.9,1365.1 2122.1,1365.1 2122.4,1365.2 2122.6,1365.2 2122.8,1365.2 2123.0,1365.2 2123.2,1365.2 2123.5,1365.2 2123.7,1365.2 2123.9,1365.2 2124.1,1365.2 2124.3,1365.2 2124.5,1365.2 2124.8,1365.2 2125.0,1365.2 2125.2,1365.2 2125.4,1365.2 2125.6,1365.2 2125.9,1365.2 2126.1,1365.2 2126.3,1365.2 2126.5,1365.2 2126.7,1365.2 2127.0,1365.2 2127.2,1365.2 2127.4,1365.2 2127.6,1365.2 2127.8,1365.2 2128.0,1365.2 2128.3,1365.2 2128.5,1365.2 2128.7,1365.2 2128.9,1365.2 2129.1,1365.2 2129.4,1365.2 2129.6,1365.2 2129.8,1365.2 2130.0,1365.2 2130.2,1365.2 2130.4,1365.2 2130.7,1365.2 2130.9,1365.2 2131.1,1365.2 2131.3,1365.2 2131.5,1365.2 2131.8,1365.2 2132.0,1365.2 2132.2,1365.2 2132.4,1365.2 2132.6,1365.2 2132.9,1365.2 2133.1,1365.2 2133.3,1365.2 2133.5,1365.2 2133.7,1365.2 2133.9,1365.2 2134.2,1365.2 2134.4,1365.2 2134.6,1365.2 2134.8,1365.2 2135.0,1365.2 2135.3,1365.2 2135.5,1365.2 2135.7,1365.2 2135.9,1365.2 2136.1,1365.2 2136.3,1365.2 2136.6,1365.2 2136.8,1365.2 2137.0,1365.2 2137.2,1365.2 2137.4,1365.2 2137.7,1365.2 2137.9,1365.2 2138.1,1365.2 2138.3,1365.2 2138.5,1365.2 2138.8,1365.2 2139.0,1365.2 2139.2,1365.2 2139.4,1365.2 2139.6,1365.2 2139.8,1365.2 2140.1,1365.2 2140.3,1365.2 2140.5,1365.2 2140.7,1365.2 2140.9,1365.2 2141.2,1365.2 2141.4,1365.2 2141.6,1365.2 2141.8,1365.2 2142.0,1365.2 2142.2,1365.2 2142.5,1365.2 2142.7,1365.2 2142.9,1365.2 2143.1,1365.2 2143.3,1365.2 2143.6,1365.2 2143.8,1365.2 2144.0,1365.2 2144.2,1365.2 2144.4,1365.2 2144.7,1365.2 2144.9,1365.2 2145.1,1365.2 2145.3,1365.2 2145.5,1365.2 2145.7,1365.2 2146.0,1365.2 2146.2,1365.2 2146.4,1365.2 2146.6,1365.2 2146.8,1365.2 2147.1,1365.2 2147.3,1365.2 2147.5,1365.2 2147.7,1365.2 2147.9,1365.2 2148.1,1365.2 2148.4,1365.2 2148.6,1365.2 2148.8,1365.2 2149.0,1365.2 2149.2,1365.2 2149.5,1365.2 2149.7,1365.1 2149.9,1365.1 2150.1,1365.1 2150.3,1365.1 2150.6,1365.1 2150.8,1365.1 2151.0,1365.1 2151.2,1365.1 2151.4,1365.1 2151.6,1365.0 2151.9,1365.0 2152.1,1365.0 2152.3,1365.0 2152.5,1364.9 2152.7,1364.9 2153.0,1364.9 2153.2,1364.8 2153.4,1364.8 2153.6,1364.7 2153.8,1364.6 2154.0,1364.5 2154.3,1364.3 2154.5,1364.1 2154.7,1363.8 2154.9,1363.3 2155.1,1362.8 2155.4,1362.1 2155.6,1361.2 2155.8,1360.0 2156.0,1358.7 2156.2,1357.2 2156.5,1355.5 2156.7,1353.6 2156.9,1351.8 2157.1,1350.0 2157.3,1348.4 2157.5,1347.1 2157.8,1346.3 2158.0,1346.0 2158.2,1346.3 2158.4,1347.1 2158.6,1348.4 2158.9,1350.0 2159.1,1351.8 2159.3,1353.6 2159.5,1355.5 2159.7,1357.2 2159.9,1358.7 2160.2,1360.1 2160.4,1361.2 2160.6,1362.1 2160.8,1362.8 2161.0,1363.4 2161.3,1363.8 2161.5,1364.1 2161.7,1364.4 2161.9,1364.5 2162.1,1364.7 2162.4,1364.7 2162.6,1364.8 2162.8,1364.9 2163.0,1364.9 2163.2,1365.0 2163.4,1365.0 2163.7,1365.0 2163.9,1365.1 2164.1,1365.1 2164.3,1365.1 2164.5,1365.1 2164.8,1365.2 2165.0,1365.2 2165.2,1365.2 2165.4,1365.2 2165.6,1365.2 2165.8,1365.2 2166.1,1365.2 2166.3,1365.3 2166.5,1365.3 2166.7,1365.3 2166.9,1365.3 2167.2,1365.3 2167.4,1365.3 2167.6,1365.3 2167.8,1365.3 2168.0,1365.3 2168.2,1365.3 2168.5,1365.3 2168.7,1365.3 2168.9,1365.4 2169.1,1365.4 2169.3,1365.4 2169.6,1365.4 2169.8,1365.4 2170.0,1365.4 2170.2,1365.4 2170.4,1365.4 2170.7,1365.4 2170.9,1365.4 2171.1,1365.4 2171.3,1365.4 2171.5,1365.4 2171.7,1365.4 2172.0,1365.4 2172.2,1365.4 2172.4,1365.4 2172.6,1365.4 2172.8,1365.4 2173.1,1365.4 2173.3,1365.4 2173.5,1365.4 2173.7,1365.4 2173.9,1365.4 2174.1,1365.4 2174.4,1365.4 2174.6,1365.4 2174.8,1365.5 2175.0,1365.5 2175.2,1365.5 2175.5,1365.5 2175.7,1365.5 2175.9,1365.5 2176.1,1365.5 2176.3,1365.5 2176.6,1365.5 2176.8,1365.5 2177.0,1365.5 2177.2,1365.5 2177.4,1365.5 2177.6,1365.5 2177.9,1365.5 2178.1,1365.5 2178.3,1365.5 2178.5,1365.5 2178.7,1365.5 2179.0,1365.5 2179.2,1365.5 2179.4,1365.5 2179.6,1365.5 2179.8,1365.5 2180.0,1365.5 2180.3,1365.5 2180.5,1365.5 2180.7,1365.5 2180.9,1365.5 2181.1,1365.5 2181.4,1365.5 2181.6,1365.5 2181.8,1365.5 2182.0,1365.5 2182.2,1365.5 2182.5,1365.5 2182.7,1365.5 2182.9,1365.5 2183.1,1365.5 2183.3,1365.5 2183.5,1365.5 2183.8,1365.5 2184.0,1365.5 2184.2,1365.5 2184.4,1365.5 2184.6,1365.5 2184.9,1365.5 2185.1,1365.5 2185.3,1365.5 2185.5,1365.5 2185.7,1365.5 2185.9,1365.5 2186.2,1365.5 2186.4,1365.5 2186.6,1365.5 2186.8,1365.5 2187.0,1365.6 2187.3,1365.6 2187.5,1365.6 2187.7,1365.6 2187.9,1365.6 2188.1,1365.6 2188.4,1365.6 2188.6,1365.6 2188.8,1365.6 2189.0,1365.6 2189.2,1365.6 2189.4,1365.6 2189.7,1365.6 2189.9,1365.6 2190.1,1365.6 2190.3,1365.6 2190.5,1365.6 2190.8,1365.6 2191.0,1365.6 2191.2,1365.6 2191.4,1365.6 2191.6,1365.6 2191.8,1365.6 2192.1,1365.6 2192.3,1365.6 2192.5,1365.6 2192.7,1365.6 2192.9,1365.6 2193.2,1365.6 2193.4,1365.6 2193.6,1365.6 2193.8,1365.6 2194.0,1365.6 2194.3,1365.6 2194.5,1365.6 2194.7,1365.6 2194.9,1365.6 2195.1,1365.6 2195.3,1365.6 2195.6,1365.6 2195.8,1365.6 2196.0,1365.6 2196.2,1365.6 2196.4,1365.6 2196.7,1365.6 2196.9,1365.6 2197.1,1365.6 2197.3,1365.6 2197.5,1365.6 2197.7,1365.6 2198.0,1365.6 2198.2,1365.6 2198.4,1365.6 2198.6,1365.6 2198.8,1365.6 2199.1,1365.6 2199.3,1365.6 2199.5,1365.6 2199.7,1365.6 2199.9,1365.6 2200.2,1365.6 2200.4,1365.6 2200.6,1365.6 2200.8,1365.6 2201.0,1365.6 2201.2,1365.6 2201.5,1365.6 2201.7,1365.6 2201.9,1365.6 2202.1,1365.6 2202.3,1365.6 2202.6,1365.6 2202.8,1365.6 2203.0,1365.5 2203.2,1365.5 2203.4,1365.5 2203.6,1365.5 2203.9,1365.5 2204.1,1365.5 2204.3,1365.5 2204.5,1365.5 2204.7,1365.5 2205.0,1365.5 2205.2,1365.5 2205.4,1365.5 2205.6,1365.5 2205.8,1365.4 2206.1,1365.4 2206.3,1365.4 2206.5,1365.4 2206.7,1365.4 2206.9,1365.3 2207.1,1365.3 2207.4,1365.3 2207.6,1365.2 2207.8,1365.2 2208.0,1365.1 2208.2,1365.0 2208.5,1364.8 2208.7,1364.7 2208.9,1364.4 2209.1,1364.1 2209.3,1363.8 2209.5,1363.3 2209.8,1362.8 2210.0,1362.1 2210.2,1361.4 2210.4,1360.5 2210.6,1359.5 2210.9,1358.4 2211.1,1357.3 2211.3,1356.2 2211.5,1355.1 2211.7,1354.1 2211.9,1353.2 2212.2,1352.6 2212.4,1352.1 2212.6,1352.0 2212.8,1352.1 2213.0,1352.6 2213.3,1353.2 2213.5,1354.1 2213.7,1355.1 2213.9,1356.2 2214.1,1357.4 2214.4,1358.5 2214.6,1359.5 2214.8,1360.5 2215.0,1361.4 2215.2,1362.2 2215.4,1362.8 2215.7,1363.4 2215.9,1363.8 2216.1,1364.2 2216.3,1364.5 2216.5,1364.7 2216.8,1364.9 2217.0,1365.0 2217.2,1365.1 2217.4,1365.2 2217.6,1365.3 2217.8,1365.3 2218.1,1365.4 2218.3,1365.4 2218.5,1365.4 2218.7,1365.5 2218.9,1365.5 2219.2,1365.5 2219.4,1365.5 2219.6,1365.5 2219.8,1365.6 2220.0,1365.6 2220.3,1365.6 2220.5,1365.6 2220.7,1365.6 2220.9,1365.6 2221.1,1365.6 2221.3,1365.6 2221.6,1365.7 2221.8,1365.7 2222.0,1365.7 2222.2,1365.7 2222.4,1365.7 2222.7,1365.7 2222.9,1365.7 2223.1,1365.7 2223.3,1365.7 2223.5,1365.7 2223.7,1365.7 2224.0,1365.7 2224.2,1365.7 2224.4,1365.7 2224.6,1365.7 2224.8,1365.7 2225.1,1365.7 2225.3,1365.8 2225.5,1365.8 2225.7,1365.8 2225.9,1365.8 2226.2,1365.8 2226.4,1365.8 2226.6,1365.8 2226.8,1365.8 2227.0,1365.8 2227.2,1365.8 2227.5,1365.8 2227.7,1365.8 2227.9,1365.8 2228.1,1365.8 2228.3,1365.8 2228.6,1365.8 2228.8,1365.8 2229.0,1365.8 2229.2,1365.8 2229.4,1365.8 2229.6,1365.8 2229.9,1365.8 2230.1,1365.8 2230.3,1365.8 2230.5,1365.8 2230.7,1365.8 2231.0,1365.8 2231.2,1365.8 2231.4,1365.8 2231.6,1365.8 2231.8,1365.8 2232.1,1365.8 2232.3,1365.8 2232.5,1365.8 2232.7,1365.9 2232.9,1365.9 2233.1,1365.9 2233.4,1365.9 2233.6,1365.9 2233.8,1365.9 2234.0,1365.9 2234.2,1365.9 2234.5,1365.9 2234.7,1365.9 2234.9,1365.9 2235.1,1365.9 2235.3,1365.9 2235.5,1365.9 2235.8,1365.9 2236.0,1365.9 2236.2,1365.9 2236.4,1365.9 2236.6,1365.9 2236.9,1365.9 2237.1,1365.9 2237.3,1365.9 2237.5,1365.9 2237.7,1365.9 2238.0,1365.9 2238.2,1365.9 2238.4,1365.9 2238.6,1365.9 2238.8,1365.9 2239.0,1365.9 2239.3,1365.9 2239.5,1365.9 2239.7,1365.9 2239.9,1365.9 2240.1,1365.9 2240.4,1365.9 2240.6,1365.9 2240.8,1365.9 2241.0,1365.9 2241.2,1365.9 2241.4,1365.9 2241.7,1365.9 2241.9,1365.9 2242.1,1365.9 2242.3,1365.9 2242.5,1365.9 2242.8,1365.9 2243.0,1365.9 2243.2,1365.9 2243.4,1365.9 2243.6,1365.9 2243.9,1365.9 2244.1,1365.9 2244.3,1365.9 2244.5,1365.9 2244.7,1366.0 2244.9,1366.0 2245.2,1366.0 2245.4,1366.0 2245.6,1366.0 2245.8,1366.0 2246.0,1366.0 2246.3,1366.0 2246.5,1366.0 2246.7,1366.0 2246.9,1366.0 2247.1,1366.0 2247.3,1366.0 2247.6,1366.0 2247.8,1366.0 2248.0,1366.0 2248.2,1366.0 2248.4,1366.0 2248.7,1366.0 2248.9,1366.0 2249.1,1366.0 2249.3,1366.0 2249.5,1366.0 2249.7,1366.0 2250.0,1366.0 2250.2,1366.0 2250.4,1366.0 2250.6,1366.0 2250.8,1366.0 2251.1,1366.0 2251.3,1366.0 2251.5,1366.0 2251.7,1366.0 2251.9,1366.0 2252.2,1366.0 2252.4,1366.0 2252.6,1366.0 2252.8,1366.0 2253.0,1366.0 2253.2,1366.0 2253.5,1366.0 2253.7,1366.0 2253.9,1366.0 2254.1,1366.0 2254.3,1366.0 2254.6,1366.0 2254.8,1366.0 2255.0,1366.0 2255.2,1366.0 2255.4,1366.0 2255.6,1366.0 2255.9,1366.0 2256.1,1366.0 2256.3,1366.0 2256.5,1366.1 2256.7,1366.1 2257.0,1366.1 2257.2,1366.1 2257.4,1366.1 2257.6,1366.1 2257.8,1366.1 2258.1,1366.1 2258.3,1366.1 2258.5,1366.1 2258.7,1366.1 2258.9,1366.1 2259.1,1366.1 2259.4,1366.1 2259.6,1366.1 2259.8,1366.1 2260.0,1366.1 2260.2,1366.1 2260.5,1366.1 2260.7,1366.1 2260.9,1366.1 2261.1,1366.1 2261.3,1366.1 2261.5,1366.1 2261.8,1366.1 2262.0,1366.1 2262.2,1366.1 2262.4,1366.1 2262.6,1366.1 2262.9,1366.1 2263.1,1366.1 2263.3,1366.1 2263.5,1366.1 2263.7,1366.1 2264.0,1366.1 2264.2,1366.1 2264.4,1366.1 2264.6,1366.1 2264.8,1366.1 2265.0,1366.1 2265.3,1366.1 2265.5,1366.1 2265.7,1366.1 2265.9,1366.1 2266.1,1366.1 2266.4,1366.1 2266.6,1366.1 2266.8,1366.1 2267.0,1366.2 2267.2,1366.2 2267.4,1366.2 2267.7,1366.2 2267.9,1366.2 2268.1,1366.2 2268.3,1366.2 2268.5,1366.2 2268.8,1366.2 2269.0,1366.2 2269.2,1366.2 2269.4,1366.2 2269.6,1366.2 2269.9,1366.2 2270.1,1366.2 2270.3,1366.2 2270.5,1366.2 2270.7,1366.2 2270.9,1366.2 2271.2,1366.2 2271.4,1366.2 2271.6,1366.2 2271.8,1366.2 2272.0,1366.2 2272.3,1366.2 2272.5,1366.2 2272.7,1366.2 2272.9,1366.2 2273.1,1366.2 2273.3,1366.2 2273.6,1366.2 2273.8,1366.2 2274.0,1366.2 2274.2,1366.2 2274.4,1366.2 2274.7,1366.2 2274.9,1366.2 2275.1,1366.2 2275.3,1366.2 2275.5,1366.2 2275.8,1366.2 2276.0,1366.2 2276.2,1366.2 2276.4,1366.2 2276.6,1366.2 2276.8,1366.2 2277.1,1366.2 2277.3,1366.2 2277.5,1366.2 2277.7,1366.3 2277.9,1366.3 2278.2,1366.3 2278.4,1366.3 2278.6,1366.3 2278.8,1366.3 2279.0,1366.3 2279.2,1366.3 2279.5,1366.3 2279.7,1366.3 2279.9,1366.3 2280.1,1366.3 2280.3,1366.3 2280.6,1366.3 2280.8,1366.3 2281.0,1366.3 2281.2,1366.3 2281.4,1366.3 2281.7,1366.3 2281.9,1366.3 2282.1,1366.3 2282.3,1366.3 2282.5,1366.3 2282.7,1366.3 2283.0,1366.3 2283.2,1366.3 2283.4,1366.3 2283.6,1366.3 2283.8,1366.3 2284.1,1366.3 2284.3,1366.3 2284.5,1366.3 2284.7,1366.3 2284.9,1366.3 2285.1,1366.3 2285.4,1366.3 2285.6,1366.3 2285.8,1366.3 2286.0,1366.3 2286.2,1366.3 2286.5,1366.3 2286.7,1366.3 2286.9,1366.3 2287.1,1366.3 2287.3,1366.3 2287.6,1366.3 2287.8,1366.3 2288.0,1366.3 2288.2,1366.3 2288.4,1366.3 2288.6,1366.4 2288.9,1366.4 2289.1,1366.4 2289.3,1366.4 2289.5,1366.4 2289.7,1366.4 2290.0,1366.4 2290.2,1366.4 2290.4,1366.4 2290.6,1366.4 2290.8,1366.4 2291.0,1366.4 2291.3,1366.4 2291.5,1366.4 2291.7,1366.4 2291.9,1366.4 2292.1,1366.4 2292.4,1366.4 2292.6,1366.4 2292.8,1366.4 2293.0,1366.4 2293.2,1366.4 2293.4,1366.4 2293.7,1366.4 2293.9,1366.4 2294.1,1366.4 2294.3,1366.4 2294.5,1366.4 2294.8,1366.4 2295.0,1366.4 2295.2,1366.4 2295.4,1366.4 2295.6,1366.4 2295.9,1366.4 2296.1,1366.4 2296.3,1366.4 2296.5,1366.4 2296.7,1366.4 2296.9,1366.4 2297.2,1366.4 2297.4,1366.4 2297.6,1366.4 2297.8,1366.4 2298.0,1366.4 2298.3,1366.4 2298.5,1366.4 2298.7,1366.4 2298.9,1366.4 2299.1,1366.4 2299.3,1366.5 2299.6,1366.5 2299.8,1366.5 2300.0,1366.5 2300.2,1366.5 2300.4,1366.5 2300.7,1366.5 2300.9,1366.5 2301.1,1366.5 2301.3,1366.5 2301.5,1366.5 2301.8,1366.5 2302.0,1366.5 2302.2,1366.5 2302.4,1366.5 2302.6,1366.5 2302.8,1366.5 2303.1,1366.5 2303.3,1366.5 2303.5,1366.5 2303.7,1366.5 2303.9,1366.5 2304.2,1366.5 2304.4,1366.5 2304.6,1366.5 2304.8,1366.5 2305.0,1366.5 2305.2,1366.5 2305.5,1366.5 2305.7,1366.5 2305.9,1366.5 2306.1,1366.5 2306.3,1366.5 2306.6,1366.5 2306.8,1366.5 2307.0,1366.5 2307.2,1366.5 2307.4,1366.5 2307.7,1366.5 2307.9,1366.5 2308.1,1366.5 2308.3,1366.5 2308.5,1366.5 2308.7,1366.5 2309.0,1366.5 2309.2,1366.5 2309.4,1366.5 2309.6,1366.5 2309.8,1366.5 2310.1,1366.5 2310.3,1366.6 2310.5,1366.6 2310.7,1366.6 2310.9,1366.6 2311.1,1366.6 2311.4,1366.6 2311.6,1366.6 2311.8,1366.6 2312.0,1366.6 2312.2,1366.6 2312.5,1366.6 2312.7,1366.6 2312.9,1366.6 2313.1,1366.6 2313.3,1366.6 2313.6,1366.6 2313.8,1366.6 2314.0,1366.6 2314.2,1366.6 2314.4,1366.6 2314.6,1366.6 2314.9,1366.6 2315.1,1366.6 2315.3,1366.6 2315.5,1366.6 2315.7,1366.6 2316.0,1366.6 2316.2,1366.6 2316.4,1366.6 2316.6,1366.6 2316.8,1366.6 2317.0,1366.6 2317.3,1366.6 2317.5,1366.6 2317.7,1366.6 2317.9,1366.6 2318.1,1366.6 2318.4,1366.6 2318.6,1366.6 2318.8,1366.6 2319.0,1366.6 2319.2,1366.6 2319.5,1366.6 2319.7,1366.6 2319.9,1366.6 2320.1,1366.6 2320.3,1366.6 2320.5,1366.6 2320.8,1366.6 2321.0,1366.6 2321.2,1366.7 2321.4,1366.7 2321.6,1366.7 2321.9,1366.7 2322.1,1366.7 2322.3,1366.7 2322.5,1366.7 2322.7,1366.7 2322.9,1366.7 2323.2,1366.7 2323.4,1366.7 2323.6,1366.7 2323.8,1366.7 2324.0,1366.7 2324.3,1366.7 2324.5,1366.7 2324.7,1366.7 2324.9,1366.7 2325.1,1366.7 2325.4,1366.7 2325.6,1366.7 2325.8,1366.7 2326.0,1366.7 2326.2,1366.7 2326.4,1366.7 2326.7,1366.7 2326.9,1366.7 2327.1,1366.7 2327.3,1366.7 2327.5,1366.7 2327.8,1366.7 2328.0,1366.7 2328.2,1366.7 2328.4,1366.7 2328.6,1366.7 2328.8,1366.7 2329.1,1366.7 2329.3,1366.7 2329.5,1366.7 2329.7,1366.7 2329.9,1366.7 2330.2,1366.7 2330.4,1366.7 2330.6,1366.7 2330.8,1366.7 2331.0,1366.7 2331.3,1366.7 2331.5,1366.7 2331.7,1366.7 2331.9,1366.7 2332.1,1366.8 2332.3,1366.8 2332.6,1366.8 2332.8,1366.8 2333.0,1366.8 2333.2,1366.8 2333.4,1366.8 2333.7,1366.8 2333.9,1366.8 2334.1,1366.8 2334.3,1366.8 2334.5,1366.8 2334.7,1366.8 2335.0,1366.8 2335.2,1366.8 2335.4,1366.8 2335.6,1366.8 2335.8,1366.8 2336.1,1366.8 2336.3,1366.8 2336.5,1366.8 2336.7,1366.8 2336.9,1366.8 2337.1,1366.8 2337.4,1366.8 2337.6,1366.8 2337.8,1366.8 2338.0,1366.8 2338.2,1366.8 2338.5,1366.8 2338.7,1366.8 2338.9,1366.8 2339.1,1366.8 2339.3,1366.8 2339.6,1366.8 2339.8,1366.8 2340.0,1366.8 2340.2,1366.8 2340.4,1366.8 2340.6,1366.8 2340.9,1366.8 2341.1,1366.8 2341.3,1366.8 2341.5,1366.8 2341.7,1366.8 2342.0,1366.8 2342.2,1366.8 2342.4,1366.8 2342.6,1366.8 2342.8,1366.8 2343.0,1366.9 2343.3,1366.9 2343.5,1366.9 2343.7,1366.9 2343.9,1366.9 2344.1,1366.9 2344.4,1366.9 2344.6,1366.9 2344.8,1366.9 2345.0,1366.9 2345.2,1366.9 2345.5,1366.9 2345.7,1366.9 2345.9,1366.9 2346.1,1366.9 2346.3,1366.9 2346.5,1366.9 2346.8,1366.9 2347.0,1366.9 2347.2,1366.9 2347.4,1366.9 2347.6,1366.9 2347.9,1366.9 2348.1,1366.9 2348.3,1366.9 2348.5,1366.9 2348.7,1366.9 2348.9,1366.9 2349.2,1366.9 2349.4,1366.9 2349.6,1366.9 2349.8,1366.9 2350.0,1366.9 2350.3,1366.9 2350.5,1366.9 2350.7,1366.9 2350.9,1366.9 2351.1,1366.9 2351.4,1366.9 2351.6,1366.9 2351.8,1366.9 2352.0,1366.9 2352.2,1366.9 2352.4,1366.9 2352.7,1366.9 2352.9,1366.9 2353.1,1366.9 2353.3,1366.9 2353.5,1366.9 2353.8,1366.9 2354.0,1367.0 2354.2,1367.0 2354.4,1367.0 2354.6,1367.0 2354.8,1367.0 2355.1,1367.0 2355.3,1367.0 2355.5,1367.0 2355.7,1367.0 2355.9,1367.0 2356.2,1367.0 2356.4,1367.0 2356.6,1367.0 2356.8,1367.0 2357.0,1367.0 2357.3,1367.0 2357.5,1367.0 2357.7,1367.0 2357.9,1367.0 2358.0,1367.0 2358.0,1367.0 2358.0,1367.0 2358.0,1367.0 2358.0,1367.0" fill="none" stroke="#ff0000" stroke-width="9" stroke-linejoin="round"/>
<polyline points="1375.8,1735.0 1376.0,1735.0 1376.2,1735.0 1376.4,1735.0 1376.6,1735.0 1376.8,1735.0 1377.1,1735.1 1377.3,1735.1 1377.5,1735.1 1377.7,1735.1 1377.9,1735.1 1378.2,1735.1 1378.4,1735.1 1378.6,1735.1 1378.8,1735.1 1379.0,1735.1 1379.2,1735.2 1379.5,1735.2 1379.7,1735.2 1379.9,1735.2 1380.1,1735.2 1380.3,1735.2 1380.6,1735.2 1380.8,1735.2 1381.0,1735.2 1381.2,1735.2 1381.4,1735.3 1381.6,1735.3 1381.9,1735.3 1382.1,1735.3 1382.3,1735.3 1382.5,1735.3 1382.7,1735.3 1383.0,1735.3 1383.2,1735.3 1383.4,1735.3 1383.6,1735.4 1383.8,1735.4 1384.1,1735.4 1384.3,1735.4 1384.5,1735.4 1384.7,1735.4 1384.9,1735.4 1385.1,1735.4 1385.4,1735.4 1385.6,1735.4 1385.8,1735.5 1386.0,1735.5 1386.2,1735.5 1386.5,1735.5 1386.7,1735.5 1386.9,1735.5 1387.1,1735.5 1387.3,1735.5 1387.5,1735.5 1387.8,1735.5 1388.0,1735.6 1388.2,1735.6 1388.4,1735.6 1388.6,1735.6 1388.9,1735.6 1389.1,1735.6 1389.3,1735.6 1389.5,1735.6 1389.7,1735.6 1390.0,1735.6 1390.2,1735.7 1390.4,1735.7 1390.6,1735.7 1390.8,1735.7 1391.0,1735.7 1391.3,1735.7 1391.5,1735.7 1391.7,1735.7 1391.9,1735.7 1392.1,1735.7 1392.4,1735.7 1392.6,1735.8 1392.8,1735.8 1393.0,1735.8 1393.2,1735.8 1393.4,1735.8 1393.7,1735.8 1393.9,1735.8 1394.1,1735.8 1394.3,1735.8 1394.5,1735.8 1394.8,1735.9 1395.0,1735.9 1395.2,1735.9 1395.4,1735.9 1395.6,1735.9 1395.9,1735.9 1396.1,1735.9 1396.3,1735.9 1396.5,1735.9 1396.7,1735.9 1396.9,1736.0 1397.2,1736.0 1397.4,1736.0 1397.6,1736.0 1397.8,1736.0 1398.0,1736.0 1398.3,1736.0 1398.5,1736.0 1398.7,1736.0 1398.9,1736.0 1399.1,1736.1 1399.3,1736.1 1399.6,1736.1 1399.8,1736.1 1400.0,1736.1 1400.2,1736.1 1400.4,1736.1 1400.7,1736.1 1400.9,1736.1 1401.1,1736.1 1401.3,1736.2 1401.5,1736.2 1401.8,1736.2 1402.0,1736.2 1402.2,1736.2 1402.4,1736.2 1402.6,1736.2 1402.8,1736.2 1403.1,1736.2 1403.3,1736.2 1403.5,1736.3 1403.7,1736.3 1403.9,1736.3 1404.2,1736.3 1404.4,1736.3 1404.6,1736.3 1404.8,1736.3 1405.0,1736.3 1405.2,1736.3 1405.5,1736.3 1405.7,1736.4 1405.9,1736.4 1406.1,1736.4 1406.3,1736.4 1406.6,1736.4 1406.8,1736.4 1407.0,1736.4 1407.2,1736.4 1407.4,1736.4 1407.7,1736.4 1407.9,1736.5 1408.1,1736.5 1408.3,1736.5 1408.5,1736.5 1408.7,1736.5 1409.0,1736.5 1409.2,1736.5 1409.4,1736.5 1409.6,1736.5 1409.8,1736.5 1410.1,1736.6 1410.3,1736.6 1410.5,1736.6 1410.7,1736.6 1410.9,1736.6 1411.1,1736.6 1411.4,1736.6 1411.6,1736.6 1411.8,1736.6 1412.0,1736.6 1412.2,1736.7 1412.5,1736.7 1412.7,1736.7 1412.9,1736.7 1413.1,1736.7 1413.3,1736.7 1413.6,1736.7 1413.8,1736.7 1414.0,1736.7 1414.2,1736.7 1414.4,1736.8 1414.6,1736.8 1414.9,1736.8 1415.1,1736.8 1415.3,1736.8 1415.5,1736.8 1415.7,1736.8 1416.0,1736.8 1416.2,1736.8 1416.4,1736.8 1416.6,1736.9 1416.8,1736.9 1417.0,1736.9 1417.3,1736.9 1417.5,1736.9 1417.7,1736.9 1417.9,1736.9 1418.1,1736.9 1418.4,1736.9 1418.6,1736.9 1418.8,1737.0 1419.0,1737.0 1419.2,1737.0 1419.4,1737.0 1419.7,1737.0 1419.9,1737.0 1420.1,1737.0 1420.3,1737.0 1420.5,1737.0 1420.8,1737.0 1421.0,1737.1 1421.2,1737.1 1421.4,1737.1 1421.6,1737.1 1421.9,1737.1 1422.1,1737.1 1422.3,1737.1 1422.5,1737.1 1422.7,1737.1 1422.9,1737.1 1423.2,1737.2 1423.4,1737.2 1423.6,1737.2 1423.8,1737.2 1424.0,1737.2 1424.3,1737.2 1424.5,1737.2 1424.7,1737.2 1424.9,1737.2 1425.1,1737.2 1425.3,1737.3 1425.6,1737.3 1425.8,1737.3 1426.0,1737.3 1426.2,1737.3 1426.4,1737.3 1426.7,1737.3 1426.9,1737.3 1427.1,1737.3 1427.3,1737.3 1427.5,1737.4 1427.8,1737.4 1428.0,1737.4 1428.2,1737.4 1428.4,1737.4 1428.6,1737.4 1428.8,1737.4 1429.1,1737.4 1429.3,1737.4 1429.5,1737.4 1429.7,1737.5 1429.9,1737.5 1430.2,1737.5 1430.4,1737.5 1430.6,1737.5 1430.8,1737.5 1431.0,1737.5 1431.2,1737.5 1431.5,1737.5 1431.7,1737.5 1431.9,1737.6 1432.1,1737.6 1432.3,1737.6 1432.6,1737.6 1432.8,1737.6 1433.0,1737.6 1433.2,1737.6 1433.4,1737.6 1433.7,1737.6 1433.9,1737.6 1434.1,1737.7 1434.3,1737.7 1434.5,1737.7 1434.7,1737.7 1435.0,1737.7 1435.2,1737.7 1435.4,1737.7 1435.6,1737.7 1435.8,1737.7 1436.1,1737.7 1436.3,1737.8 1436.5,1737.8 1436.7,1737.8 1436.9,1737.8 1437.1,1737.8 1437.4,1737.8 1437.6,1737.8 1437.8,1737.8 1438.0,1737.8 1438.2,1737.8 1438.5,1737.9 1438.7,1737.9 1438.9,1737.9 1439.1,1737.9 1439.3,1737.9 1439.6,1737.9 1439.8,1737.9 1440.0,1737.9 1440.2,1737.9 1440.4,1737.9 1440.6,1738.0 1440.9,1738.0 1441.1,1738.0 1441.3,1738.0 1441.5,1738.0 1441.7,1738.0 1442.0,1738.0 1442.2,1738.0 1442.4,1738.0 1442.6,1738.0 1442.8,1738.0 1443.0,1738.1 1443.3,1738.1 1443.5,1738.1 1443.7,1738.1 1443.9,1738.1 1444.1,1738.1 1444.4,1738.1 1444.6,1738.1 1444.8,1738.1 1445.0,1738.1 1445.2,1738.2 1445.5,1738.2 1445.7,1738.2 1445.9,1738.2 1446.1,1738.2 1446.3,1738.2 1446.5,1738.2 1446.8,1738.2 1447.0,1738.2 1447.2,1738.2 1447.4,1738.3 1447.6,1738.3 1447.9,1738.3 1448.1,1738.3 1448.3,1738.3 1448.5,1738.3 1448.7,1738.3 1448.9,1738.3 1449.2,1738.3 1449.4,1738.3 1449.6,1738.4 1449.8,1738.4 1450.0,1738.4 1450.3,1738.4 1450.5,1738.4 1450.7,1738.4 1450.9,1738.4 1451.1,1738.4 1451.4,1738.4 1451.6,1738.4 1451.8,1738.5 1452.0,1738.5 1452.2,1738.5 1452.4,1738.5 1452.7,1738.5 1452.9,1738.5 1453.1,1738.5 1453.3,1738.5 1453.5,1738.5 1453.8,1738.5 1454.0,1738.6 1454.2,1738.6 1454.4,1738.6 1454.6,1738.6 1454.8,1738.6 1455.1,1738.6 1455.3,1738.6 1455.5,1738.6 1455.7,1738.6 1455.9,1738.6 1456.2,1738.7 1456.4,1738.7 1456.6,1738.7 1456.8,1738.7 1457.0,1738.7 1457.3,1738.7 1457.5,1738.7 1457.7,1738.7 1457.9,1738.7 1458.1,1738.7 1458.3,1738.8 1458.6,1738.8 1458.8,1738.8 1459.0,1738.8 1459.2,1738.8 1459.4,1738.8 1459.7,1738.8 1459.9,1738.8 1460.1,1738.8 1460.3,1738.8 1460.5,1738.9 1460.7,1738.9 1461.0,1738.9 1461.2,1738.9 1461.4,1738.9 1461.6,1738.9 1461.8,1738.9 1462.1,1738.9 1462.3,1738.9 1462.5,1738.9 1462.7,1739.0 1462.9,1739.0 1463.1,1739.0 1463.4,1739.0 1463.6,1739.0 1463.8,1739.0 1464.0,1739.0 1464.2,1739.0 1464.5,1739.0 1464.7,1739.0 1464.9,1739.1 1465.1,1739.1 1465.3,1739.1 1465.6,1739.1 1465.8,1739.1 1466.0,1739.1 1466.2,1739.1 1466.4,1739.1 1466.6,1739.1 1466.9,1739.1 1467.1,1739.1 1467.3,1739.2 1467.5,1739.2 1467.7,1739.2 1468.0,1739.2 1468.2,1739.2 1468.4,1739.2 1468.6,1739.2 1468.8,1739.2 1469.0,1739.2 1469.3,1739.2 1469.5,1739.3 1469.7,1739.3 1469.9,1739.3 1470.1,1739.3 1470.4,1739.3 1470.6,1739.3 1470.8,1739.3 1471.0,1739.3 1471.2,1739.3 1471.5,1739.3 1471.7,1739.4 1471.9,1739.4 1472.1,1739.4 1472.3,1739.4 1472.5,1739.4 1472.8,1739.4 1473.0,1739.4 1473.2,1739.4 1473.4,1739.4 1473.6,1739.4 1473.9,1739.5 1474.1,1739.5 1474.3,1739.5 1474.5,1739.5 1474.7,1739.5 1474.9,1739.5 1475.2,1739.5 1475.4,1739.5 1475.6,1739.5 1475.8,1739.5 1476.0,1739.6 1476.3,1739.6 1476.5,1739.6 1476.7,1739.6 1476.9,1739.6 1477.1,1739.6 1477.4,1739.6 1477.6,1739.6 1477.8,1739.6 1478.0,1739.6 1478.2,1739.6 1478.4,1739.7 1478.7,1739.7 1478.9,1739.7 1479.1,1739.7 1479.3,1739.7 1479.5,1739.7 1479.8,1739.7 1480.0,1739.7 1480.2,1739.7 1480.4,1739.7 1480.6,1739.8 1480.8,1739.8 1481.1,1739.8 1481.3,1739.8 1481.5,1739.8 1481.7,1739.8 1481.9,1739.8 1482.2,1739.8 1482.4,1739.8 1482.6,1739.8 1482.8,1739.9 1483.0,1739.9 1483.3,1739.9 1483.5,1739.9 1483.7,1739.9 1483.9,1739.9 1484.1,1739.9 1484.3,1739.9 1484.6,1739.9 1484.8,1739.9 1485.0,1740.0 1485.2,1740.0 1485.4,1740.0 1485.7,1740.0 1485.9,1740.1 1486.1,1740.1 1486.3,1740.1 1486.5,1740.2 1486.7,1740.2 1487.0,1740.2 1487.2,1740.2 1487.4,1740.3 1487.6,1740.3 1487.8,1740.3 1488.1,1740.4 1488.3,1740.4 1488.5,1740.4 1488.7,1740.5 1488.9,1740.5 1489.2,1740.5 1489.4,1740.5 1489.6,1740.6 1489.8,1740.6 1490.0,1740.6 1490.2,1740.7 1490.5,1740.7 1490.7,1740.7 1490.9,1740.8 1491.1,1740.8 1491.3,1740.8 1491.6,1740.8 1491.8,1740.9 1492.0,1740.9 1492.2,1740.9 1492.4,1741.0 1492.6,1741.0 1492.9,1741.0 1493.1,1741.1 1493.3,1741.1 1493.5,1741.1 1493.7,1741.1 1494.0,1741.2 1494.2,1741.2 1494.4,1741.2 1494.6,1741.3 1494.8,1741.3 1495.1,1741.3 1495.3,1741.3 1495.5,1741.4 1495.7,1741.4 1495.9,1741.4 1496.1,1741.5 1496.4,1741.5 1496.6,1741.5 1496.8,1741.6 1497.0,1741.6 1497.2,1741.6 1497.5,1741.6 1497.7,1741.7 1497.9,1741.7 1498.1,1741.7 1498.3,1741.8 1498.5,1741.8 1498.8,1741.8 1499.0,1741.8 1499.2,1741.9 1499.4,1741.9 1499.6,1741.9 1499.9,1742.0 1500.1,1742.0 1500.3,1742.0 1500.5,1742.1 1500.7,1742.1 1501.0,1742.1 1501.2,1742.1 1501.4,1742.2 1501.6,1742.2 1501.8,1742.2 1502.0,1742.3 1502.3,1742.3 1502.5,1742.3 1502.7,1742.3 1502.9,1742.4 1503.1,1742.4 1503.4,1742.4 1503.6,1742.5 1503.8,1742.5 1504.0,1742.5 1504.2,1742.6 1504.4,1742.6 1504.7,1742.6 1504.9,1742.6 1505.1,1742.7 1505.3,1742.7 1505.5,1742.7 1505.8,1742.8 1506.0,1742.8 1506.2,1742.8 1506.4,1742.8 1506.6,1742.9 1506.8,1742.9 1507.1,1742.9 1507.3,1743.0 1507.5,1743.0 1507.7,1743.0 1507.9,1743.0 1508.2,1743.1 1508.4,1743.1 1508.6,1743.1 1508.8,1743.2 1509.0,1743.2 1509.3,1743.2 1509.5,1743.3 1509.7,1743.3 1509.9,1743.3 1510.1,1743.3 1510.3,1743.4 1510.6,1743.4 1510.8,1743.4 1511.0,1743.5 1511.2,1743.5 1511.4,1743.5 1511.7,1743.5 1511.9,1743.6 1512.1,1743.6 1512.3,1743.6 1512.5,1743.7 1512.7,1743.7 1513.0,1743.7 1513.2,1743.7 1513.4,1743.8 1513.6,1743.8 1513.8,1743.8 1514.1,1743.9 1514.3,1743.9 1514.5,1743.9 1514.7,1743.9 1514.9,1744.0 1515.2,1744.0 1515.4,1744.0 1515.6,1744.1 1515.8,1744.1 1516.0,1744.1 1516.2,1744.1 1516.5,1744.2 1516.7,1744.2 1516.9,1744.2 1517.1,1744.3 1517.3,1744.3 1517.6,1744.3 1517.8,1744.3 1518.0,1744.4 1518.2,1744.4 1518.4,1744.4 1518.6,1744.4 1518.9,1744.5 1519.1,1744.5 1519.3,1744.5 1519.5,1744.6 1519.7,1744.6 1520.0,1744.6 1520.2,1744.6 1520.4,1744.7 1520.6,1744.7 1520.8,1744.7 1521.1,1744.8 1521.3,1744.8 1521.5,1744.8 1521.7,1744.8 1521.9,1744.9 1522.1,1744.9 1522.4,1744.9 1522.6,1744.9 1522.8,1745.0 1523.0,1745.0 1523.2,1745.0 1523.5,1745.0 1523.7,1745.1 1523.9,1745.1 1524.1,1745.1 1524.3,1745.1 1524.5,1745.2 1524.8,1745.2 1525.0,1745.2 1525.2,1745.3 1525.4,1745.3 1525.6,1745.3 1525.9,1745.3 1526.1,1745.4 1526.3,1745.4 1526.5,1745.4 1526.7,1745.4 1527.0,1745.4 1527.2,1745.5 1527.4,1745.5 1527.6,1745.5 1527.8,1745.5 1528.0,1745.6 1528.3,1745.6 1528.5,1745.6 1528.7,1745.6 1528.9,1745.7 1529.1,1745.7 1529.4,1745.8 1529.6,1745.9 1529.8,1745.9 1530.0,1746.0 1530.2,1746.0 1530.4,1746.1 1530.7,1746.1 1530.9,1746.2 1531.1,1746.3 1531.3,1746.3 1531.5,1746.4 1531.8,1746.4 1532.0,1746.5 1532.2,1746.5 1532.4,1746.6 1532.6,1746.6 1532.9,1746.7 1533.1,1746.7 1533.3,1746.8 1533.5,1746.8 1533.7,1746.9 1533.9,1746.9 1534.2,1746.9 1534.4,1747.0 1534.6,1747.0 1534.8,1747.1 1535.0,1747.1 1535.3,1747.1 1535.5,1747.1 1535.7,1747.1 1535.9,1747.0 1536.1,1747.0 1536.3,1746.9 1536.6,1746.9 1536.8,1746.8 1537.0,1746.8 1537.2,1746.7 1537.4,1746.6 1537.7,1746.6 1537.9,1746.5 1538.1,1746.4 1538.3,1746.3 1538.5,1746.2 1538.8,1746.1 1539.0,1746.0 1539.2,1745.9 1539.4,1745.7 1539.6,1745.5 1539.8,1745.4 1540.1,1745.2 1540.3,1744.9 1540.5,1744.6 1540.7,1744.3 1540.9,1743.9 1541.2,1743.4 1541.4,1742.7 1541.6,1741.7 1541.8,1740.4 1542.0,1738.6 1542.2,1735.9 1542.5,1732.3 1542.7,1727.3 1542.9,1720.7 1543.1,1712.4 1543.3,1702.1 1543.6,1689.9 1543.8,1676.2 1544.0,1661.7 1544.2,1647.1 1544.4,1633.6 1544.7,1622.6 1544.9,1615.3 1545.1,1612.8 1545.3,1615.3 1545.5,1622.6 1545.7,1633.6 1546.0,1647.0 1546.2,1661.6 1546.4,1676.2 1546.6,1689.9 1546.8,1702.0 1547.1,1712.3 1547.3,1720.7 1547.5,1727.2 1547.7,1732.2 1547.9,1735.8 1548.1,1738.5 1548.4,1740.3 1548.6,1741.6 1548.8,1742.6 1549.0,1743.3 1549.2,1743.8 1549.5,1744.2 1549.7,1744.5 1549.9,1744.8 1550.1,1745.0 1550.3,1745.2 1550.5,1745.4 1550.8,1745.5 1551.0,1745.7 1551.2,1745.8 1551.4,1745.9 1551.6,1746.0 1551.9,1746.1 1552.1,1746.2 1552.3,1746.3 1552.5,1746.3 1552.7,1746.4 1553.0,1746.5 1553.2,1746.5 1553.4,1746.6 1553.6,1746.6 1553.8,1746.6 1554.0,1746.7 1554.3,1746.7 1554.5,1746.7 1554.7,1746.8 1554.9,1746.8 1555.1,1746.8 1555.4,1746.8 1555.6,1746.9 1555.8,1746.9 1556.0,1746.9 1556.2,1746.9 1556.4,1746.9 1556.7,1746.9 1556.9,1746.9 1557.1,1746.9 1557.3,1746.8 1557.5,1746.7 1557.8,1746.6 1558.0,1746.5 1558.2,1746.4 1558.4,1746.3 1558.6,1746.2 1558.9,1746.1 1559.1,1746.0 1559.3,1745.9 1559.5,1745.8 1559.7,1745.7 1559.9,1745.6 1560.2,1745.5 1560.4,1745.4 1560.6,1745.3 1560.8,1745.1 1561.0,1745.0 1561.3,1744.9 1561.5,1744.8 1561.7,1744.7 1561.9,1744.5 1562.1,1744.4 1562.3,1744.3 1562.6,1744.2 1562.8,1744.0 1563.0,1743.9 1563.2,1743.8 1563.4,1743.6 1563.7,1743.5 1563.9,1743.5 1564.1,1743.4 1564.3,1743.4 1564.5,1743.3 1564.8,1743.3 1565.0,1743.2 1565.2,1743.1 1565.4,1743.1 1565.6,1743.0 1565.8,1742.9 1566.1,1742.9 1566.3,1742.8 1566.5,1742.7 1566.7,1742.6 1566.9,1742.5 1567.2,1742.4 1567.4,1742.3 1567.6,1742.2 1567.8,1742.0 1568.0,1741.9 1568.2,1741.8 1568.5,1741.6 1568.7,1741.4 1568.9,1741.2 1569.1,1741.1 1569.3,1740.8 1569.6,1740.6 1569.8,1740.4 1570.0,1740.1 1570.2,1739.8 1570.4,1739.5 1570.7,1739.1 1570.9,1738.7 1571.1,1738.3 1571.3,1737.8 1571.5,1737.2 1571.7,1736.5 1572.0,1735.7 1572.2,1734.8 1572.4,1733.6 1572.6,1732.0 1572.8,1729.9 1573.1,1727.1 1573.3,1723.3 1573.5,1718.1 1573.7,1711.2 1573.9,1702.0 1574.1,1690.1 1574.4,1675.1 1574.6,1656.7 1574.8,1634.7 1575.0,1609.3 1575.2,1581.1 1575.5,1550.9 1575.7,1520.2 1575.9,1490.6 1576.1,1464.2 1576.3,1443.2 1576.6,1429.6 1576.8,1424.9 1577.0,1429.6 1577.2,1443.2 1577.4,1464.2 1577.6,1490.5 1577.9,1520.1 1578.1,1550.8 1578.3,1581.0 1578.5,1609.2 1578.7,1634.6 1579.0,1656.6 1579.2,1675.0 1579.4,1690.0 1579.6,1701.8 1579.8,1711.0 1580.0,1717.9 1580.3,1723.1 1580.5,1726.9 1580.7,1729.7 1580.9,1731.8 1581.1,1733.3 1581.4,1734.5 1581.6,1735.5 1581.8,1736.3 1582.0,1736.9 1582.2,1737.5 1582.5,1737.9 1582.7,1738.4 1582.9,1738.8 1583.1,1739.1 1583.3,1739.4 1583.5,1739.7 1583.8,1740.0 1584.0,1740.2 1584.2,1740.4 1584.4,1740.6 1584.6,1740.8 1584.9,1741.0 1585.1,1741.1 1585.3,1741.3 1585.5,1741.4 1585.7,1741.5 1585.9,1741.7 1586.2,1741.8 1586.4,1741.9 1586.6,1742.0 1586.8,1742.0 1587.0,1742.1 1587.3,1742.2 1587.5,1742.3 1587.7,1742.3 1587.9,1742.4 1588.1,1742.5 1588.4,1742.5 1588.6,1742.6 1588.8,1742.6 1589.0,1742.7 1589.2,1742.7 1589.4,1742.8 1589.7,1742.8 1589.9,1742.8 1590.1,1742.9 1590.3,1742.9 1590.5,1742.9 1590.8,1743.0 1591.0,1743.0 1591.2,1743.0 1591.4,1743.0 1591.6,1743.1 1591.8,1743.1 1592.1,1743.1 1592.3,1743.1 1592.5,1743.1 1592.7,1743.1 1592.9,1743.2 1593.2,1743.2 1593.4,1743.2 1593.6,1743.2 1593.8,1743.2 1594.0,1743.2 1594.2,1743.2 1594.5,1743.3 1594.7,1743.3 1594.9,1743.3 1595.1,1743.3 1595.3,1743.3 1595.6,1743.3 1595.8,1743.3 1596.0,1743.3 1596.2,1743.3 1596.4,1743.3 1596.7,1743.3 1596.9,1743.4 1597.1,1743.4 1597.3,1743.4 1597.5,1743.4 1597.7,1743.4 1598.0,1743.4 1598.2,1743.4 1598.4,1743.4 1598.6,1743.4 1598.8,1743.4 1599.1,1743.4 1599.3,1743.4 1599.5,1743.4 1599.7,1743.4 1599.9,1743.4 1600.1,1743.4 1600.4,1743.4 1600.6,1743.4 1600.8,1743.4 1601.0,1743.4 1601.2,1743.4 1601.5,1743.4 1601.7,1743.4 1601.9,1743.4 1602.1,1743.4 1602.3,1743.4 1602.6,1743.4 1602.8,1743.4 1603.0,1743.4 1603.2,1743.4 1603.4,1743.4 1603.6,1743.4 1603.9,1743.4 1604.1,1743.4 1604.3,1743.4 1604.5,1743.4 1604.7,1743.4 1605.0,1743.4 1605.2,1743.4 1605.4,1743.4 1605.6,1743.4 1605.8,1743.4 1606.0,1743.4 1606.3,1743.4 1606.5,1743.4 1606.7,1743.4 1606.9,1743.4 1607.1,1743.4 1607.4,1743.4 1607.6,1743.4 1607.8,1743.4 1608.0,1743.4 1608.2,1743.4 1608.5,1743.4 1608.7,1743.4 1608.9,1743.4 1609.1,1743.4 1609.3,1743.4 1609.5,1743.4 1609.8,1743.3 1610.0,1743.3 1610.2,1743.3 1610.4,1743.3 1610.6,1743.3 1610.9,1743.3 1611.1,1743.3 1611.3,1743.3 1611.5,1743.3 1611.7,1743.3 1611.9,1743.3 1612.2,1743.3 1612.4,1743.3 1612.6,1743.3 1612.8,1743.3 1613.0,1743.3 1613.3,1743.3 1613.5,1743.3 1613.7,1743.3 1613.9,1743.3 1614.1,1743.3 1614.4,1743.3 1614.6,1743.3 1614.8,1743.3 1615.0,1743.3 1615.2,1743.3 1615.4,1743.3 1615.7,1743.2 1615.9,1743.2 1616.1,1743.2 1616.3,1743.2 1616.5,1743.2 1616.8,1743.2 1617.0,1743.2 1617.2,1743.2 1617.4,1743.2 1617.6,1743.2 1617.8,1743.2 1618.1,1743.2 1618.3,1743.2 1618.5,1743.2 1618.7,1743.2 1618.9,1743.2 1619.2,1743.2 1619.4,1743.2 1619.6,1743.2 1619.8,1743.2 1620.0,1743.2 1620.3,1743.2 1620.5,1743.1 1620.7,1743.1 1620.9,1743.1 1621.1,1743.1 1621.3,1743.1 1621.6,1743.1 1621.8,1743.1 1622.0,1743.1 1622.2,1743.1 1622.4,1743.1 1622.7,1743.1 1622.9,1743.1 1623.1,1743.1 1623.3,1743.1 1623.5,1743.1 1623.7,1743.1 1624.0,1743.1 1624.2,1743.1 1624.4,1743.1 1624.6,1743.1 1624.8,1743.0 1625.1,1743.0 1625.3,1743.0 1625.5,1743.0 1625.7,1743.0 1625.9,1743.0 1626.2,1743.0 1626.4,1743.0 1626.6,1743.0 1626.8,1743.0 1627.0,1743.0 1627.2,1743.0 1627.5,1743.0 1627.7,1743.0 1627.9,1743.0 1628.1,1743.0 1628.3,1743.0 1628.6,1743.0 1628.8,1743.0 1629.0,1743.0 1629.2,1742.9 1629.4,1742.9 1629.6,1742.9 1629.9,1742.9 1630.1,1742.9 1630.3,1742.9 1630.5,1742.9 1630.7,1742.9 1631.0,1742.9 1631.2,1742.9 1631.4,1742.9 1631.6,1742.9 1631.8,1742.9 1632.1,1742.9 1632.3,1742.9 1632.5,1742.9 1632.7,1742.9 1632.9,1742.9 1633.1,1742.8 1633.4,1742.8 1633.6,1742.8 1633.8,1742.8 1634.0,1742.8 1634.2,1742.8 1634.5,1742.8 1634.7,1742.8 1634.9,1742.8 1635.1,1742.8 1635.3,1742.8 1635.5,1742.8 1635.8,1742.8 1636.0,1742.8 1636.2,1742.8 1636.4,1742.8 1636.6,1742.8 1636.9,1742.8 1637.1,1742.8 1637.3,1742.7 1637.5,1742.7 1637.7,1742.7 1637.9,1742.7 1638.2,1742.7 1638.4,1742.7 1638.6,1742.7 1638.8,1742.7 1639.0,1742.7 1639.3,1742.7 1639.5,1742.7 1639.7,1742.7 1639.9,1742.7 1640.1,1742.7 1640.4,1742.7 1640.6,1742.7 1640.8,1742.7 1641.0,1742.7 1641.2,1742.6 1641.4,1742.6 1641.7,1742.6 1641.9,1742.6 1642.1,1742.6 1642.3,1742.6 1642.5,1742.6 1642.8,1742.6 1643.0,1742.6 1643.2,1742.6 1643.4,1742.6 1643.6,1742.6 1643.8,1742.6 1644.1,1742.6 1644.3,1742.6 1644.5,1742.6 1644.7,1742.6 1644.9,1742.5 1645.2,1742.5 1645.4,1742.5 1645.6,1742.5 1645.8,1742.5 1646.0,1742.5 1646.3,1742.5 1646.5,1742.5 1646.7,1742.5 1646.9,1742.5 1647.1,1742.5 1647.3,1742.5 1647.6,1742.5 1647.8,1742.5 1648.0,1742.5 1648.2,1742.5 1648.4,1742.5 1648.7,1742.5 1648.9,1742.4 1649.1,1742.4 1649.3,1742.4 1649.5,1742.4 1649.7,1742.4 1650.0,1742.4 1650.2,1742.4 1650.4,1742.4 1650.6,1742.4 1650.8,1742.4 1651.1,1742.4 1651.3,1742.4 1651.5,1742.4 1651.7,1742.4 1651.9,1742.4 1652.2,1742.4 1652.4,1742.4 1652.6,1742.3 1652.8,1742.3 1653.0,1742.3 1653.2,1742.3 1653.5,1742.3 1653.7,1742.3 1653.9,1742.3 1654.1,1742.3 1654.3,1742.3 1654.6,1742.3 1654.8,1742.3 1655.0,1742.3 1655.2,1742.3 1655.4,1742.3 1655.6,1742.3 1655.9,1742.3 1656.1,1742.3 1656.3,1742.2 1656.5,1742.2 1656.7,1742.2 1657.0,1742.2 1657.2,1742.2 1657.4,1742.2 1657.6,1742.2 1657.8,1742.2 1658.1,1742.2 1658.3,1742.2 1658.5,1742.2 1658.7,1742.2 1658.9,1742.2 1659.1,1742.2 1659.4,1742.2 1659.6,1742.2 1659.8,1742.2 1660.0,1742.1 1660.2,1742.1 1660.5,1742.1 1660.7,1742.1 1660.9,1742.1 1661.1,1742.1 1661.3,1742.1 1661.5,1742.1 1661.8,1742.1 1662.0,1742.1 1662.2,1742.1 1662.4,1742.1 1662.6,1742.1 1662.9,1742.1 1663.1,1742.1 1663.3,1742.1 1663.5,1742.1 1663.7,1742.1 1664.0,1742.0 1664.2,1742.0 1664.4,1742.0 1664.6,1742.0 1664.8,1742.0 1665.0,1742.0 1665.3,1742.0 1665.5,1742.0 1665.7,1742.0 1665.9,1742.0 1666.1,1742.0 1666.4,1742.0 1666.6,1742.0 1666.8,1742.0 1667.0,1742.0 1667.2,1742.0 1667.4,1741.9 1667.7,1741.9 1667.9,1741.9 1668.1,1741.9 1668.3,1741.9 1668.5,1741.9 1668.8,1741.9 1669.0,1741.9 1669.2,1741.9 1669.4,1741.9 1669.6,1741.9 1669.9,1741.9 1670.1,1741.9 1670.3,1741.9 1670.5,1741.9 1670.7,1741.9 1670.9,1741.9 1671.2,1741.8 1671.4,1741.8 1671.6,1741.8 1671.8,1741.8 1672.0,1741.8 1672.3,1741.8 1672.5,1741.8 1672.7,1741.8 1672.9,1741.8 1673.1,1741.8 1673.3,1741.8 1673.6,1741.8 1673.8,1741.8 1674.0,1741.8 1674.2,1741.8 1674.4,1741.8 1674.7,1741.8 1674.9,1741.7 1675.1,1741.7 1675.3,1741.7 1675.5,1741.7 1675.8,1741.7 1676.0,1741.7 1676.2,1741.7 1676.4,1741.7 1676.6,1741.7 1676.8,1741.7 1677.1,1741.7 1677.3,1741.7 1677.5,1741.7 1677.7,1741.7 1677.9,1741.7 1678.2,1741.7 1678.4,1741.7 1678.6,1741.6 1678.8,1741.6 1679.0,1741.6 1679.2,1741.6 1679.5,1741.6 1679.7,1741.6 1679.9,1741.6 1680.1,1741.6 1680.3,1741.6 1680.6,1741.6 1680.8,1741.6 1681.0,1741.6 1681.2,1741.6 1681.4,1741.6 1681.7,1741.6 1681.9,1741.6 1682.1,1741.5 1682.3,1741.5 1682.5,1741.5 1682.7,1741.5 1683.0,1741.5 1683.2,1741.5 1683.4,1741.5 1683.6,1741.5 1683.8,1741.5 1684.1,1741.5 1684.3,1741.5 1684.5,1741.5 1684.7,1741.5 1684.9,1741.5 1685.1,1741.5 1685.4,1741.5 1685.6,1741.4 1685.8,1741.4 1686.0,1741.4 1686.2,1741.4 1686.5,1741.4 1686.7,1741.4 1686.9,1741.4 1687.1,1741.4 1687.3,1741.4 1687.5,1741.4 1687.8,1741.4 1688.0,1741.4 1688.2,1741.4 1688.4,1741.4 1688.6,1741.4 1688.9,1741.3 1689.1,1741.3 1689.3,1741.3 1689.5,1741.3 1689.7,1741.3 1690.0,1741.3 1690.2,1741.3 1690.4,1741.3 1690.6,1741.3 1690.8,1741.3 1691.0,1741.3 1691.3,1741.3 1691.5,1741.3 1691.7,1741.3 1691.9,1741.3 1692.1,1741.2 1692.4,1741.2 1692.6,1741.2 1692.8,1741.2 1693.0,1741.2 1693.2,1741.2 1693.4,1741.2 1693.7,1741.2 1693.9,1741.2 1694.1,1741.2 1694.3,1741.2 1694.5,1741.2 1694.8,1741.1 1695.0,1741.1 1695.2,1741.1 1695.4,1741.1 1695.6,1741.1 1695.9,1741.1 1696.1,1741.1 1696.3,1741.1 1696.5,1741.1 1696.7,1741.1 1696.9,1741.1 1697.2,1741.0 1697.4,1741.0 1697.6,1741.0 1697.8,1741.0 1698.0,1741.0 1698.3,1741.0 1698.5,1741.0 1698.7,1741.0 1698.9,1740.9 1699.1,1740.9 1699.3,1740.9 1699.6,1740.9 1699.8,1740.9 1700.0,1740.8 1700.2,1740.8 1700.4,1740.8 1700.7,1740.8 1700.9,1740.7 1701.1,1740.7 1701.3,1740.6 1701.5,1740.6 1701.8,1740.5 1702.0,1740.5 1702.2,1740.3 1702.4,1740.2 1702.6,1740.0 1702.8,1739.7 1703.1,1739.3 1703.3,1738.7 1703.5,1738.0 1703.7,1737.0 1703.9,1735.9 1704.2,1734.6 1704.4,1733.0 1704.6,1731.4 1704.8,1729.8 1705.0,1728.3 1705.2,1727.1 1705.5,1726.3 1705.7,1726.0 1705.9,1726.3 1706.1,1727.1 1706.3,1728.3 1706.6,1729.8 1706.8,1731.4 1707.0,1733.0 1707.2,1734.5 1707.4,1735.8 1707.7,1737.0 1707.9,1737.9 1708.1,1738.6 1708.3,1739.2 1708.5,1739.6 1708.7,1739.9 1709.0,1740.1 1709.2,1740.2 1709.4,1740.3 1709.6,1740.4 1709.8,1740.4 1710.1,1740.5 1710.3,1740.5 1710.5,1740.5 1710.7,1740.5 1710.9,1740.6 1711.1,1740.6 1711.4,1740.6 1711.6,1740.6 1711.8,1740.6 1712.0,1740.6 1712.2,1740.6 1712.5,1740.6 1712.7,1740.6 1712.9,1740.6 1713.1,1740.6 1713.3,1740.7 1713.6,1740.7 1713.8,1740.7 1714.0,1740.7 1714.2,1740.7 1714.4,1740.7 1714.6,1740.7 1714.9,1740.7 1715.1,1740.7 1715.3,1740.7 1715.5,1740.7 1715.7,1740.7 1716.0,1740.7 1716.2,1740.7 1716.4,1740.7 1716.6,1740.7 1716.8,1740.7 1717.0,1740.7 1717.3,1740.7 1717.5,1740.6 1717.7,1740.6 1717.9,1740.6 1718.1,1740.6 1718.4,1740.6 1718.6,1740.6 1718.8,1740.6 1719.0,1740.6 1719.2,1740.6 1719.5,1740.6 1719.7,1740.6 1719.9,1740.6 1720.1,1740.6 1720.3,1740.6 1720.5,1740.6 1720.8,1740.6 1721.0,1740.6 1721.2,1740.6 1721.4,1740.6 1721.6,1740.6 1721.9,1740.6 1722.1,1740.6 1722.3,1740.6 1722.5,1740.6 1722.7,1740.6 1722.9,1740.6 1723.2,1740.6 1723.4,1740.6 1723.6,1740.6 1723.8,1740.6 1724.0,1740.6 1724.3,1740.6 1724.5,1740.5 1724.7,1740.5 1724.9,1740.5 1725.1,1740.5 1725.4,1740.5 1725.6,1740.5 1725.8,1740.5 1726.0,1740.5 1726.2,1740.5 1726.4,1740.5 1726.7,1740.5 1726.9,1740.5 1727.1,1740.5 1727.3,1740.5 1727.5,1740.5 1727.8,1740.5 1728.0,1740.5 1728.2,1740.5 1728.4,1740.5 1728.6,1740.5 1728.8,1740.5 1729.1,1740.5 1729.3,1740.5 1729.5,1740.5 1729.7,1740.5 1729.9,1740.4 1730.2,1740.4 1730.4,1740.4 1730.6,1740.4 1730.8,1740.4 1731.0,1740.4 1731.2,1740.4 1731.5,1740.4 1731.7,1740.4 1731.9,1740.4 1732.1,1740.4 1732.3,1740.4 1732.6,1740.4 1732.8,1740.4 1733.0,1740.4 1733.2,1740.4 1733.4,1740.4 1733.7,1740.4 1733.9,1740.4 1734.1,1740.4 1734.3,1740.4 1734.5,1740.4 1734.7,1740.4 1735.0,1740.4 1735.2,1740.3 1735.4,1740.3 1735.6,1740.3 1735.8,1740.3 1736.1,1740.3 1736.3,1740.3 1736.5,1740.3 1736.7,1740.3 1736.9,1740.3 1737.1,1740.3 1737.4,1740.3 1737.6,1740.3 1737.8,1740.3 1738.0,1740.3 1738.2,1740.3 1738.5,1740.3 1738.7,1740.3 1738.9,1740.3 1739.1,1740.3 1739.3,1740.3 1739.6,1740.3 1739.8,1740.3 1740.0,1740.3 1740.2,1740.3 1740.4,1740.2 1740.6,1740.2 1740.9,1740.2 1741.1,1740.2 1741.3,1740.2 1741.5,1740.2 1741.7,1740.2 1742.0,1740.2 1742.2,1740.2 1742.4,1740.2 1742.6,1740.2 1742.8,1740.2 1743.0,1740.2 1743.3,1740.2 1743.5,1740.2 1743.7,1740.2 1743.9,1740.2 1744.1,1740.2 1744.4,1740.2 1744.6,1740.2 1744.8,1740.2 1745.0,1740.2 1745.2,1740.2 1745.5,1740.1 1745.7,1740.1 1745.9,1740.1 1746.1,1740.1 1746.3,1740.1 1746.5,1740.1 1746.8,1740.1 1747.0,1740.1 1747.2,1740.1 1747.4,1740.1 1747.6,1740.1 1747.9,1740.1 1748.1,1740.1 1748.3,1740.1 1748.5,1740.1 1748.7,1740.1 1748.9,1740.1 1749.2,1740.1 1749.4,1740.1 1749.6,1740.1 1749.8,1740.1 1750.0,1740.1 1750.3,1740.1 1750.5,1740.0 1750.7,1740.0 1750.9,1740.0 1751.1,1740.0 1751.4,1740.0 1751.6,1740.0 1751.8,1740.0 1752.0,1740.0 1752.2,1740.0 1752.4,1740.0 1752.7,1740.0 1752.9,1740.0 1753.1,1740.0 1753.3,1740.0 1753.5,1740.0 1753.8,1740.0 1754.0,1740.0 1754.2,1740.0 1754.4,1740.0 1754.6,1740.0 1754.8,1740.0 1755.1,1740.0 1755.3,1739.9 1755.5,1739.9 1755.7,1739.9 1755.9,1739.9 1756.2,1739.9 1756.4,1739.9 1756.6,1739.9 1756.8,1739.9 1757.0,1739.9 1757.3,1739.9 1757.5,1739.9 1757.7,1739.9 1757.9,1739.9 1758.1,1739.9 1758.3,1739.9 1758.6,1739.9 1758.8,1739.9 1759.0,1739.9 1759.2,1739.9 1759.4,1739.9 1759.7,1739.9 1759.9,1739.9 1760.1,1739.8 1760.3,1739.8 1760.5,1739.8 1760.7,1739.8 1761.0,1739.8 1761.2,1739.8 1761.4,1739.8 1761.6,1739.8 1761.8,1739.8 1762.1,1739.8 1762.3,1739.8 1762.5,1739.8 1762.7,1739.8 1762.9,1739.8 1763.2,1739.8 1763.4,1739.8 1763.6,1739.8 1763.8,1739.8 1764.0,1739.8 1764.2,1739.8 1764.5,1739.7 1764.7,1739.7 1764.9,1739.7 1765.1,1739.7 1765.3,1739.7 1765.6,1739.7 1765.8,1739.7 1766.0,1739.7 1766.2,1739.7 1766.4,1739.7 1766.6,1739.7 1766.9,1739.7 1767.1,1739.7 1767.3,1739.7 1767.5,1739.7 1767.7,1739.7 1768.0,1739.7 1768.2,1739.6 1768.4,1739.6 1768.6,1739.6 1768.8,1739.6 1769.1,1739.6 1769.3,1739.6 1769.5,1739.6 1769.7,1739.6 1769.9,1739.6 1770.1,1739.6 1770.4,1739.6 1770.6,1739.6 1770.8,1739.5 1771.0,1739.5 1771.2,1739.5 1771.5,1739.5 1771.7,1739.5 1771.9,1739.5 1772.1,1739.5 1772.3,1739.5 1772.5,1739.5 1772.8,1739.4 1773.0,1739.4 1773.2,1739.4 1773.4,1739.4 1773.6,1739.4 1773.9,1739.4 1774.1,1739.3 1774.3,1739.3 1774.5,1739.3 1774.7,1739.3 1774.9,1739.2 1775.2,1739.2 1775.4,1739.2 1775.6,1739.1 1775.8,1739.0 1776.0,1739.0 1776.3,1738.9 1776.5,1738.8 1776.7,1738.6 1776.9,1738.3 1777.1,1738.0 1777.4,1737.5 1777.6,1736.9 1777.8,1736.0 1778.0,1734.9 1778.2,1733.6 1778.4,1732.0 1778.7,1730.2 1778.9,1728.3 1779.1,1726.4 1779.3,1724.7 1779.5,1723.3 1779.8,1722.3 1780.0,1722.0 1780.2,1722.3 1780.4,1723.2 1780.6,1724.7 1780.8,1726.4 1781.1,1728.3 1781.3,1730.2 1781.5,1731.9 1781.7,1733.5 1781.9,1734.8 1782.2,1735.9 1782.4,1736.8 1782.6,1737.4 1782.8,1737.9 1783.0,1738.2 1783.3,1738.4 1783.5,1738.6 1783.7,1738.7 1783.9,1738.8 1784.1,1738.9 1784.3,1738.9 1784.6,1739.0 1784.8,1739.0 1785.0,1739.0 1785.2,1739.0 1785.4,1739.1 1785.7,1739.1 1785.9,1739.1 1786.1,1739.1 1786.3,1739.1 1786.5,1739.1 1786.7,1739.1 1787.0,1739.1 1787.2,1739.1 1787.4,1739.1 1787.6,1739.2 1787.8,1739.2 1788.1,1739.2 1788.3,1739.2 1788.5,1739.2 1788.7,1739.2 1788.9,1739.2 1789.2,1739.2 1789.4,1739.2 1789.6,1739.2 1789.8,1739.2 1790.0,1739.2 1790.2,1739.2 1790.5,1739.2 1790.7,1739.2 1790.9,1739.1 1791.1,1739.1 1791.3,1739.1 1791.6,1739.1 1791.8,1739.1 1792.0,1739.1 1792.2,1739.1 1792.4,1739.1 1792.6,1739.1 1792.9,1739.1 1793.1,1739.1 1793.3,1739.1 1793.5,1739.1 1793.7,1739.1 1794.0,1739.1 1794.2,1739.1 1794.4,1739.1 1794.6,1739.1 1794.8,1739.1 1795.1,1739.1 1795.3,1739.0 1795.5,1739.0 1795.7,1739.0 1795.9,1739.0 1796.1,1739.0 1796.4,1739.0 1796.6,1739.0 1796.8,1739.0 1797.0,1739.0 1797.2,1739.0 1797.5,1738.9 1797.7,1738.9 1797.9,1738.9 1798.1,1738.9 1798.3,1738.9 1798.5,1738.9 1798.8,1738.8 1799.0,1738.8 1799.2,1738.8 1799.4,1738.7 1799.6,1738.7 1799.9,1738.7 1800.1,1738.6 1800.3,1738.5 1800.5,1738.4 1800.7,1738.3 1801.0,1738.1 1801.2,1737.8 1801.4,1737.4 1801.6,1736.9 1801.8,1736.2 1802.0,1735.3 1802.3,1734.3 1802.5,1733.0 1802.7,1731.6 1802.9,1730.1 1803.1,1728.5 1803.4,1727.1 1803.6,1726.0 1803.8,1725.2 1804.0,1725.0 1804.2,1725.2 1804.4,1726.0 1804.7,1727.1 1804.9,1728.5 1805.1,1730.0 1805.3,1731.5 1805.5,1733.0 1805.8,1734.2 1806.0,1735.3 1806.2,1736.1 1806.4,1736.8 1806.6,1737.3 1806.9,1737.7 1807.1,1738.0 1807.3,1738.2 1807.5,1738.3 1807.7,1738.4 1807.9,1738.5 1808.2,1738.5 1808.4,1738.5 1808.6,1738.6 1808.8,1738.6 1809.0,1738.6 1809.3,1738.6 1809.5,1738.7 1809.7,1738.7 1809.9,1738.7 1810.1,1738.7 1810.3,1738.7 1810.6,1738.7 1810.8,1738.7 1811.0,1738.7 1811.2,1738.7 1811.4,1738.7 1811.7,1738.7 1811.9,1738.7 1812.1,1738.7 1812.3,1738.7 1812.5,1738.7 1812.8,1738.7 1813.0,1738.7 1813.2,1738.7 1813.4,1738.7 1813.6,1738.7 1813.8,1738.7 1814.1,1738.7 1814.3,1738.7 1814.5,1738.7 1814.7,1738.7 1814.9,1738.7 1815.2,1738.7 1815.4,1738.7 1815.6,1738.7 1815.8,1738.7 1816.0,1738.7 1816.2,1738.7 1816.5,1738.7 1816.7,1738.7 1816.9,1738.7 1817.1,1738.7 1817.3,1738.7 1817.6,1738.7 1817.8,1738.7 1818.0,1738.7 1818.2,1738.7 1818.4,1738.7 1818.6,1738.7 1818.9,1738.7 1819.1,1738.7 1819.3,1738.7 1819.5,1738.7 1819.7,1738.7 1820.0,1738.7 1820.2,1738.7 1820.4,1738.7 1820.6,1738.7 1820.8,1738.6 1821.1,1738.6 1821.3,1738.6 1821.5,1738.6 1821.7,1738.6 1821.9,1738.6 1822.1,1738.6 1822.4,1738.6 1822.6,1738.6 1822.8,1738.6 1823.0,1738.6 1823.2,1738.6 1823.5,1738.6 1823.7,1738.6 1823.9,1738.6 1824.1,1738.6 1824.3,1738.6 1824.5,1738.6 1824.8,1738.6 1825.0,1738.6 1825.2,1738.6 1825.4,1738.6 1825.6,1738.6 1825.9,1738.6 1826.1,1738.6 1826.3,1738.6 1826.5,1738.5 1826.7,1738.5 1827.0,1738.5 1827.2,1738.5 1827.4,1738.5 1827.6,1738.5 1827.8,1738.5 1828.0,1738.5 1828.3,1738.5 1828.5,1738.5 1828.7,1738.5 1828.9,1738.5 1829.1,1738.5 1829.4,1738.5 1829.6,1738.5 1829.8,1738.5 1830.0,1738.5 1830.2,1738.5 1830.4,1738.5 1830.7,1738.5 1830.9,1738.5 1831.1,1738.5 1831.3,1738.5 1831.5,1738.5 1831.8,1738.4 1832.0,1738.4 1832.2,1738.4 1832.4,1738.4 1832.6,1738.4 1832.9,1738.4 1833.1,1738.4 1833.3,1738.4 1833.5,1738.4 1833.7,1738.4 1833.9,1738.4 1834.2,1738.4 1834.4,1738.4 1834.6,1738.4 1834.8,1738.4 1835.0,1738.4 1835.3,1738.4 1835.5,1738.4 1835.7,1738.4 1835.9,1738.4 1836.1,1738.4 1836.3,1738.4 1836.6,1738.4 1836.8,1738.3 1837.0,1738.3 1837.2,1738.3 1837.4,1738.3 1837.7,1738.3 1837.9,1738.3 1838.1,1738.3 1838.3,1738.3 1838.5,1738.3 1838.8,1738.3 1839.0,1738.3 1839.2,1738.3 1839.4,1738.3 1839.6,1738.3 1839.8,1738.3 1840.1,1738.3 1840.3,1738.3 1840.5,1738.3 1840.7,1738.3 1840.9,1738.3 1841.2,1738.3 1841.4,1738.3 1841.6,1738.3 1841.8,1738.2 1842.0,1738.2 1842.2,1738.2 1842.5,1738.2 1842.7,1738.2 1842.9,1738.2 1843.1,1738.2 1843.3,1738.2 1843.6,1738.2 1843.8,1738.2 1844.0,1738.2 1844.2,1738.2 1844.4,1738.2 1844.7,1738.2 1844.9,1738.2 1845.1,1738.2 1845.3,1738.2 1845.5,1738.2 1845.7,1738.2 1846.0,1738.2 1846.2,1738.2 1846.4,1738.2 1846.6,1738.2 1846.8,1738.1 1847.1,1738.1 1847.3,1738.1 1847.5,1738.1 1847.7,1738.1 1847.9,1738.1 1848.1,1738.1 1848.4,1738.1 1848.6,1738.1 1848.8,1738.1 1849.0,1738.1 1849.2,1738.1 1849.5,1738.1 1849.7,1738.1 1849.9,1738.1 1850.1,1738.1 1850.3,1738.1 1850.6,1738.1 1850.8,1738.1 1851.0,1738.1 1851.2,1738.1 1851.4,1738.0 1851.6,1738.0 1851.9,1738.0 1852.1,1738.0 1852.3,1738.0 1852.5,1738.0 1852.7,1738.0 1853.0,1738.0 1853.2,1738.0 1853.4,1738.0 1853.6,1738.0 1853.8,1738.0 1854.0,1738.0 1854.3,1738.0 1854.5,1738.0 1854.7,1738.0 1854.9,1738.0 1855.1,1738.0 1855.4,1738.0 1855.6,1738.0 1855.8,1738.0 1856.0,1737.9 1856.2,1737.9 1856.5,1737.9 1856.7,1737.9 1856.9,1738.0 1857.1,1738.0 1857.3,1738.0 1857.5,1738.0 1857.8,1738.0 1858.0,1738.0 1858.2,1738.0 1858.4,1738.0 1858.6,1738.0 1858.9,1738.0 1859.1,1738.0 1859.3,1738.0 1859.5,1738.0 1859.7,1738.0 1859.9,1738.0 1860.2,1738.0 1860.4,1738.0 1860.6,1738.1 1860.8,1738.1 1861.0,1738.1 1861.3,1738.1 1861.5,1738.1 1861.7,1738.1 1861.9,1738.1 1862.1,1738.1 1862.3,1738.1 1862.6,1738.1 1862.8,1738.1 1863.0,1738.1 1863.2,1738.1 1863.4,1738.1 1863.7,1738.1 1863.9,1738.1 1864.1,1738.1 1864.3,1738.1 1864.5,1738.1 1864.8,1738.2 1865.0,1738.2 1865.2,1738.2 1865.4,1738.2 1865.6,1738.2 1865.8,1738.2 1866.1,1738.2 1866.3,1738.2 1866.5,1738.2 1866.7,1738.2 1866.9,1738.2 1867.2,1738.2 1867.4,1738.2 1867.6,1738.2 1867.8,1738.2 1868.0,1738.2 1868.2,1738.2 1868.5,1738.2 1868.7,1738.2 1868.9,1738.2 1869.1,1738.2 1869.3,1738.2 1869.6,1738.3 1869.8,1738.3 1870.0,1738.3 1870.2,1738.3 1870.4,1738.3 1870.7,1738.3 1870.9,1738.3 1871.1,1738.3 1871.3,1738.3 1871.5,1738.3 1871.7,1738.3 1872.0,1738.3 1872.2,1738.3 1872.4,1738.3 1872.6,1738.3 1872.8,1738.3 1873.1,1738.3 1873.3,1738.3 1873.5,1738.3 1873.7,1738.3 1873.9,1738.3 1874.1,1738.3 1874.4,1738.3 1874.6,1738.3 1874.8,1738.3 1875.0,1738.3 1875.2,1738.3 1875.5,1738.3 1875.7,1738.3 1875.9,1738.3 1876.1,1738.3 1876.3,1738.3 1876.6,1738.3 1876.8,1738.3 1877.0,1738.3 1877.2,1738.3 1877.4,1738.3 1877.6,1738.2 1877.9,1738.2 1878.1,1738.2 1878.3,1738.2 1878.5,1738.2 1878.7,1738.2 1879.0,1738.2 1879.2,1738.2 1879.4,1738.1 1879.6,1738.1 1879.8,1738.1 1880.0,1738.1 1880.3,1738.1 1880.5,1738.0 1880.7,1738.0 1880.9,1738.0 1881.1,1738.0 1881.4,1737.9 1881.6,1737.9 1881.8,1737.8 1882.0,1737.8 1882.2,1737.7 1882.5,1737.7 1882.7,1737.6 1882.9,1737.5 1883.1,1737.5 1883.3,1737.4 1883.5,1737.3 1883.8,1737.2 1884.0,1737.0 1884.2,1736.9 1884.4,1736.7 1884.6,1736.5 1884.9,1736.2 1885.1,1735.8 1885.3,1735.3 1885.5,1734.7 1885.7,1733.7 1885.9,1732.5 1886.2,1730.8 1886.4,1728.6 1886.6,1725.8 1886.8,1722.2 1887.0,1717.8 1887.3,1712.5 1887.5,1706.4 1887.7,1699.6 1887.9,1692.3 1888.1,1684.9 1888.4,1677.8 1888.6,1671.4 1888.8,1666.4 1889.0,1663.1 1889.2,1662.0 1889.4,1663.1 1889.7,1666.4 1889.9,1671.5 1890.1,1677.8 1890.3,1685.0 1890.5,1692.4 1890.8,1699.7 1891.0,1706.5 1891.2,1712.6 1891.4,1717.9 1891.6,1722.3 1891.8,1726.0 1892.1,1728.8 1892.3,1731.0 1892.5,1732.7 1892.7,1734.0 1892.9,1734.9 1893.2,1735.6 1893.4,1736.1 1893.6,1736.5 1893.8,1736.8 1894.0,1737.0 1894.3,1737.2 1894.5,1737.4 1894.7,1737.5 1894.9,1737.6 1895.1,1737.7 1895.3,1737.8 1895.6,1737.9 1895.8,1738.0 1896.0,1738.1 1896.2,1738.2 1896.4,1738.2 1896.7,1738.3 1896.9,1738.3 1897.1,1738.4 1897.3,1738.4 1897.5,1738.5 1897.7,1738.5 1898.0,1738.6 1898.2,1738.6 1898.4,1738.7 1898.6,1738.7 1898.8,1738.7 1899.1,1738.7 1899.3,1738.8 1899.5,1738.8 1899.7,1738.8 1899.9,1738.9 1900.2,1738.9 1900.4,1738.9 1900.6,1738.9 1900.8,1738.9 1901.0,1739.0 1901.2,1739.0 1901.5,1739.0 1901.7,1739.0 1901.9,1739.0 1902.1,1739.1 1902.3,1739.1 1902.6,1739.1 1902.8,1739.1 1903.0,1739.1 1903.2,1739.1 1903.4,1739.2 1903.6,1739.2 1903.9,1739.2 1904.1,1739.2 1904.3,1739.2 1904.5,1739.2 1904.7,1739.2 1905.0,1739.3 1905.2,1739.3 1905.4,1739.3 1905.6,1739.3 1905.8,1739.3 1906.0,1739.3 1906.3,1739.3 1906.5,1739.3 1906.7,1739.3 1906.9,1739.4 1907.1,1739.4 1907.4,1739.4 1907.6,1739.4 1907.8,1739.4 1908.0,1739.4 1908.2,1739.4 1908.5,1739.4 1908.7,1739.4 1908.9,1739.4 1909.1,1739.5 1909.3,1739.5 1909.5,1739.5 1909.8,1739.5 1910.0,1739.5 1910.2,1739.5 1910.4,1739.5 1910.6,1739.5 1910.9,1739.5 1911.1,1739.5 1911.3,1739.6 1911.5,1739.6 1911.7,1739.6 1911.9,1739.6 1912.2,1739.6 1912.4,1739.6 1912.6,1739.6 1912.8,1739.6 1913.0,1739.6 1913.3,1739.6 1913.5,1739.6 1913.7,1739.6 1913.9,1739.7 1914.1,1739.7 1914.4,1739.7 1914.6,1739.7 1914.8,1739.7 1915.0,1739.7 1915.2,1739.7 1915.4,1739.7 1915.7,1739.7 1915.9,1739.7 1916.1,1739.7 1916.3,1739.7 1916.5,1739.7 1916.8,1739.8 1917.0,1739.8 1917.2,1739.8 1917.4,1739.8 1917.6,1739.8 1917.8,1739.8 1918.1,1739.8 1918.3,1739.8 1918.5,1739.8 1918.7,1739.8 1918.9,1739.8 1919.2,1739.8 1919.4,1739.8 1919.6,1739.9 1919.8,1739.9 1920.0,1739.9 1920.3,1739.9 1920.5,1739.9 1920.7,1739.9 1920.9,1739.9 1921.1,1739.9 1921.3,1739.9 1921.6,1739.9 1921.8,1739.9 1922.0,1739.9 1922.2,1739.9 1922.4,1739.9 1922.7,1740.0 1922.9,1740.0 1923.1,1740.0 1923.3,1740.0 1923.5,1740.0 1923.7,1740.0 1924.0,1740.0 1924.2,1740.0 1924.4,1740.0 1924.6,1740.0 1924.8,1740.0 1925.1,1740.1 1925.3,1740.1 1925.5,1740.1 1925.7,1740.1 1925.9,1740.1 1926.2,1740.1 1926.4,1740.1 1926.6,1740.1 1926.8,1740.1 1927.0,1740.1 1927.2,1740.1 1927.5,1740.1 1927.7,1740.1 1927.9,1740.2 1928.1,1740.2 1928.3,1740.2 1928.6,1740.2 1928.8,1740.2 1929.0,1740.2 1929.2,1740.2 1929.4,1740.2 1929.6,1740.2 1929.9,1740.2 1930.1,1740.2 1930.3,1740.2 1930.5,1740.3 1930.7,1740.3 1931.0,1740.3 1931.2,1740.3 1931.4,1740.3 1931.6,1740.3 1931.8,1740.3 1932.1,1740.3 1932.3,1740.3 1932.5,1740.3 1932.7,1740.3 1932.9,1740.3 1933.1,1740.4 1933.4,1740.4 1933.6,1740.4 1933.8,1740.4 1934.0,1740.4 1934.2,1740.4 1934.5,1740.4 1934.7,1740.4 1934.9,1740.4 1935.1,1740.4 1935.3,1740.4 1935.5,1740.4 1935.8,1740.4 1936.0,1740.5 1936.2,1740.5 1936.4,1740.5 1936.6,1740.5 1936.9,1740.5 1937.1,1740.5 1937.3,1740.5 1937.5,1740.5 1937.7,1740.5 1938.0,1740.5 1938.2,1740.5 1938.4,1740.5 1938.6,1740.5 1938.8,1740.6 1939.0,1740.6 1939.3,1740.6 1939.5,1740.6 1939.7,1740.6 1939.9,1740.6 1940.1,1740.6 1940.4,1740.6 1940.6,1740.6 1940.8,1740.6 1941.0,1740.6 1941.2,1740.6 1941.4,1740.6 1941.7,1740.7 1941.9,1740.7 1942.1,1740.7 1942.3,1740.7 1942.5,1740.7 1942.8,1740.7 1943.0,1740.7 1943.2,1740.7 1943.4,1740.7 1943.6,1740.7 1943.9,1740.7 1944.1,1740.7 1944.3,1740.7 1944.5,1740.7 1944.7,1740.8 1944.9,1740.8 1945.2,1740.8 1945.4,1740.8 1945.6,1740.8 1945.8,1740.8 1946.0,1740.8 1946.3,1740.8 1946.5,1740.8 1946.7,1740.8 1946.9,1740.8 1947.1,1740.8 1947.3,1740.8 1947.6,1740.8 1947.8,1740.8 1948.0,1740.9 1948.2,1740.9 1948.4,1740.9 1948.7,1740.9 1948.9,1740.9 1949.1,1740.9 1949.3,1740.9 1949.5,1740.9 1949.7,1740.9 1950.0,1740.9 1950.2,1740.9 1950.4,1740.9 1950.6,1740.9 1950.8,1740.9 1951.1,1740.9 1951.3,1740.9 1951.5,1740.9 1951.7,1740.9 1951.9,1740.9 1952.2,1740.9 1952.4,1741.0 1952.6,1741.0 1952.8,1741.0 1953.0,1741.0 1953.2,1741.0 1953.5,1741.0 1953.7,1741.0 1953.9,1741.0 1954.1,1741.0 1954.3,1741.0 1954.6,1741.0 1954.8,1741.0 1955.0,1741.0 1955.2,1741.0 1955.4,1741.0 1955.6,1741.0 1955.9,1741.0 1956.1,1741.0 1956.3,1741.0 1956.5,1740.9 1956.7,1740.9 1957.0,1740.9 1957.2,1740.9 1957.4,1740.9 1957.6,1740.9 1957.8,1740.9 1958.1,1740.9 1958.3,1740.9 1958.5,1740.8 1958.7,1740.8 1958.9,1740.8 1959.1,1740.8 1959.4,1740.7 1959.6,1740.7 1959.8,1740.7 1960.0,1740.6 1960.2,1740.6 1960.5,1740.5 1960.7,1740.5 1960.9,1740.4 1961.1,1740.3 1961.3,1740.2 1961.5,1740.0 1961.8,1739.9 1962.0,1739.6 1962.2,1739.3 1962.4,1738.9 1962.6,1738.2 1962.9,1737.3 1963.1,1736.0 1963.3,1734.3 1963.5,1732.0 1963.7,1729.0 1964.0,1725.4 1964.2,1721.1 1964.4,1716.3 1964.6,1711.2 1964.8,1706.0 1965.0,1701.3 1965.3,1697.4 1965.5,1694.9 1965.7,1694.0 1965.9,1694.9 1966.1,1697.5 1966.4,1701.4 1966.6,1706.1 1966.8,1711.3 1967.0,1716.4 1967.2,1721.2 1967.4,1725.5 1967.7,1729.2 1967.9,1732.1 1968.1,1734.4 1968.3,1736.2 1968.5,1737.5 1968.8,1738.4 1969.0,1739.1 1969.2,1739.6 1969.4,1739.9 1969.6,1740.2 1969.9,1740.4 1970.1,1740.5 1970.3,1740.6 1970.5,1740.7 1970.7,1740.8 1970.9,1740.9 1971.2,1741.0 1971.4,1741.0 1971.6,1741.1 1971.8,1741.2 1972.0,1741.2 1972.3,1741.3 1972.5,1741.3 1972.7,1741.3 1972.9,1741.4 1973.1,1741.4 1973.3,1741.4 1973.6,1741.5 1973.8,1741.5 1974.0,1741.5 1974.2,1741.6 1974.4,1741.6 1974.7,1741.6 1974.9,1741.6 1975.1,1741.6 1975.3,1741.7 1975.5,1741.7 1975.8,1741.7 1976.0,1741.7 1976.2,1741.7 1976.4,1741.8 1976.6,1741.8 1976.8,1741.8 1977.1,1741.8 1977.3,1741.8 1977.5,1741.8 1977.7,1741.9 1977.9,1741.9 1978.2,1741.9 1978.4,1741.9 1978.6,1741.9 1978.8,1741.9 1979.0,1741.9 1979.2,1741.9 1979.5,1742.0 1979.7,1742.0 1979.9,1742.0 1980.1,1742.0 1980.3,1742.0 1980.6,1742.0 1980.8,1742.0 1981.0,1742.0 1981.2,1742.1 1981.4,1742.1 1981.7,1742.1 1981.9,1742.1 1982.1,1742.1 1982.3,1742.1 1982.5,1742.1 1982.7,1742.1 1983.0,1742.1 1983.2,1742.1 1983.4,1742.2 1983.6,1742.2 1983.8,1742.2 1984.1,1742.2 1984.3,1742.2 1984.5,1742.2 1984.7,1742.2 1984.9,1742.2 1985.1,1742.2 1985.4,1742.2 1985.6,1742.3 1985.8,1742.3 1986.0,1742.3 1986.2,1742.3 1986.5,1742.3 1986.7,1742.3 1986.9,1742.3 1987.1,1742.3 1987.3,1742.3 1987.6,1742.3 1987.8,1742.3 1988.0,1742.4 1988.2,1742.4 1988.4,1742.4 1988.6,1742.4 1988.9,1742.4 1989.1,1742.4 1989.3,1742.4 1989.5,1742.4 1989.7,1742.4 1990.0,1742.4 1990.2,1742.4 1990.4,1742.5 1990.6,1742.5 1990.8,1742.5 1991.0,1742.5 1991.3,1742.5 1991.5,1742.5 1991.7,1742.5 1991.9,1742.5 1992.1,1742.5 1992.4,1742.5 1992.6,1742.5 1992.8,1742.5 1993.0,1742.6 1993.2,1742.6 1993.4,1742.6 1993.7,1742.6 1993.9,1742.6 1994.1,1742.6 1994.3,1742.6 1994.5,1742.6 1994.8,1742.6 1995.0,1742.6 1995.2,1742.6 1995.4,1742.6 1995.6,1742.7 1995.9,1742.7 1996.1,1742.7 1996.3,1742.7 1996.5,1742.7 1996.7,1742.7 1996.9,1742.7 1997.2,1742.7 1997.4,1742.7 1997.6,1742.7 1997.8,1742.7 1998.0,1742.7 1998.3,1742.8 1998.5,1742.8 1998.7,1742.8 1998.9,1742.8 1999.1,1742.8 1999.3,1742.8 1999.6,1742.8 1999.8,1742.8 2000.0,1742.8 2000.2,1742.8 2000.4,1742.8 2000.7,1742.8 2000.9,1742.9 2001.1,1742.9 2001.3,1742.9 2001.5,1742.9 2001.8,1742.9 2002.0,1742.9 2002.2,1742.9 2002.4,1742.9 2002.6,1742.9 2002.8,1742.9 2003.1,1742.9 2003.3,1742.9 2003.5,1743.0 2003.7,1743.0 2003.9,1743.0 2004.2,1743.0 2004.4,1743.0 2004.6,1743.0 2004.8,1743.0 2005.0,1743.0 2005.2,1743.0 2005.5,1743.0 2005.7,1743.0 2005.9,1743.0 2006.1,1743.1 2006.3,1743.1 2006.6,1743.1 2006.8,1743.1 2007.0,1743.1 2007.2,1743.1 2007.4,1743.1 2007.7,1743.1 2007.9,1743.1 2008.1,1743.1 2008.3,1743.1 2008.5,1743.1 2008.7,1743.2 2009.0,1743.2 2009.2,1743.2 2009.4,1743.2 2009.6,1743.2 2009.8,1743.2 2010.1,1743.2 2010.3,1743.2 2010.5,1743.2 2010.7,1743.2 2010.9,1743.2 2011.1,1743.2 2011.4,1743.2 2011.6,1743.3 2011.8,1743.3 2012.0,1743.3 2012.2,1743.3 2012.5,1743.3 2012.7,1743.3 2012.9,1743.3 2013.1,1743.3 2013.3,1743.3 2013.6,1743.3 2013.8,1743.3 2014.0,1743.3 2014.2,1743.4 2014.4,1743.4 2014.6,1743.4 2014.9,1743.4 2015.1,1743.4 2015.3,1743.4 2015.5,1743.4 2015.7,1743.4 2016.0,1743.4 2016.2,1743.4 2016.4,1743.4 2016.6,1743.4 2016.8,1743.4 2017.0,1743.5 2017.3,1743.5 2017.5,1743.5 2017.7,1743.5 2017.9,1743.5 2018.1,1743.5 2018.4,1743.5 2018.6,1743.5 2018.8,1743.5 2019.0,1743.5 2019.2,1743.5 2019.5,1743.5 2019.7,1743.5 2019.9,1743.6 2020.1,1743.6 2020.3,1743.6 2020.5,1743.6 2020.8,1743.6 2021.0,1743.6 2021.2,1743.6 2021.4,1743.6 2021.6,1743.6 2021.9,1743.6 2022.1,1743.6 2022.3,1743.6 2022.5,1743.6 2022.7,1743.7 2022.9,1743.7 2023.2,1743.7 2023.4,1743.7 2023.6,1743.7 2023.8,1743.7 2024.0,1743.7 2024.3,1743.7 2024.5,1743.7 2024.7,1743.7 2024.9,1743.7 2025.1,1743.7 2025.4,1743.7 2025.6,1743.7 2025.8,1743.7 2026.0,1743.7 2026.2,1743.8 2026.4,1743.8 2026.7,1743.8 2026.9,1743.8 2027.1,1743.8 2027.3,1743.8 2027.5,1743.8 2027.8,1743.8 2028.0,1743.8 2028.2,1743.8 2028.4,1743.8 2028.6,1743.8 2028.8,1743.8 2029.1,1743.8 2029.3,1743.8 2029.5,1743.8 2029.7,1743.7 2029.9,1743.7 2030.2,1743.7 2030.4,1743.6 2030.6,1743.5 2030.8,1743.4 2031.0,1743.2 2031.3,1743.0 2031.5,1742.7 2031.7,1742.3 2031.9,1741.8 2032.1,1741.3 2032.3,1740.8 2032.6,1740.3 2032.8,1739.8 2033.0,1739.3 2033.2,1739.1 2033.4,1739.0 2033.7,1739.1 2033.9,1739.4 2034.1,1739.8 2034.3,1740.3 2034.5,1740.8 2034.7,1741.4 2035.0,1741.9 2035.2,1742.4 2035.4,1742.7 2035.6,1743.1 2035.8,1743.3 2036.1,1743.5 2036.3,1743.6 2036.5,1743.7 2036.7,1743.8 2036.9,1743.9 2037.1,1743.9 2037.4,1743.9 2037.6,1744.0 2037.8,1744.0 2038.0,1744.0 2038.2,1744.0 2038.5,1744.0 2038.7,1744.0 2038.9,1744.0 2039.1,1744.1 2039.3,1744.1 2039.6,1744.1 2039.8,1744.1 2040.0,1744.1 2040.2,1744.1 2040.4,1744.1 2040.6,1744.1 2040.9,1744.1 2041.1,1744.1 2041.3,1744.1 2041.5,1744.1 2041.7,1744.1 2042.0,1744.2 2042.2,1744.2 2042.4,1744.2 2042.6,1744.2 2042.8,1744.2 2043.0,1744.2 2043.3,1744.2 2043.5,1744.2 2043.7,1744.2 2043.9,1744.2 2044.1,1744.2 2044.4,1744.2 2044.6,1744.2 2044.8,1744.2 2045.0,1744.2 2045.2,1744.2 2045.5,1744.2 2045.7,1744.2 2045.9,1744.2 2046.1,1744.2 2046.3,1744.3 2046.5,1744.3 2046.8,1744.3 2047.0,1744.3 2047.2,1744.3 2047.4,1744.3 2047.6,1744.3 2047.9,1744.3 2048.1,1744.3 2048.3,1744.3 2048.5,1744.3 2048.7,1744.3 2048.9,1744.3 2049.2,1744.3 2049.4,1744.3 2049.6,1744.3 2049.8,1744.3 2050.0,1744.3 2050.3,1744.3 2050.5,1744.3 2050.7,1744.3 2050.9,1744.3 2051.1,1744.3 2051.4,1744.4 2051.6,1744.4 2051.8,1744.4 2052.0,1744.4 2052.2,1744.4 2052.4,1744.4 2052.7,1744.4 2052.9,1744.4 2053.1,1744.4 2053.3,1744.4 2053.5,1744.4 2053.8,1744.4 2054.0,1744.4 2054.2,1744.4 2054.4,1744.4 2054.6,1744.4 2054.8,1744.4 2055.1,1744.4 2055.3,1744.4 2055.5,1744.4 2055.7,1744.4 2055.9,1744.4 2056.2,1744.4 2056.4,1744.4 2056.6,1744.5 2056.8,1744.5 2057.0,1744.5 2057.3,1744.5 2057.5,1744.5 2057.7,1744.5 2057.9,1744.5 2058.1,1744.5 2058.3,1744.5 2058.6,1744.5 2058.8,1744.5 2059.0,1744.5 2059.2,1744.5 2059.4,1744.5 2059.7,1744.5 2059.9,1744.5 2060.1,1744.5 2060.3,1744.5 2060.5,1744.5 2060.7,1744.5 2061.0,1744.5 2061.2,1744.5 2061.4,1744.5 2061.6,1744.5 2061.8,1744.5 2062.1,1744.6 2062.3,1744.6 2062.5,1744.6 2062.7,1744.6 2062.9,1744.6 2063.2,1744.6 2063.4,1744.6 2063.6,1744.6 2063.8,1744.6 2064.0,1744.6 2064.2,1744.6 2064.5,1744.6 2064.7,1744.6 2064.9,1744.6 2065.1,1744.6 2065.3,1744.6 2065.6,1744.6 2065.8,1744.6 2066.0,1744.6 2066.2,1744.6 2066.4,1744.6 2066.6,1744.6 2066.9,1744.6 2067.1,1744.6 2067.3,1744.7 2067.5,1744.7 2067.7,1744.7 2068.0,1744.7 2068.2,1744.7 2068.4,1744.7 2068.6,1744.7 2068.8,1744.7 2069.1,1744.7 2069.3,1744.7 2069.5,1744.7 2069.7,1744.7 2069.9,1744.7 2070.1,1744.7 2070.4,1744.7 2070.6,1744.7 2070.8,1744.7 2071.0,1744.7 2071.2,1744.7 2071.5,1744.7 2071.7,1744.7 2071.9,1744.7 2072.1,1744.7 2072.3,1744.7 2072.5,1744.7 2072.8,1744.8 2073.0,1744.8 2073.2,1744.8 2073.4,1744.8 2073.6,1744.8 2073.9,1744.8 2074.1,1744.8 2074.3,1744.8 2074.5,1744.8 2074.7,1744.8 2075.0,1744.8 2075.2,1744.8 2075.4,1744.8 2075.6,1744.8 2075.8,1744.8 2076.0,1744.8 2076.3,1744.8 2076.5,1744.8 2076.7,1744.8 2076.9,1744.8 2077.1,1744.8 2077.4,1744.8 2077.6,1744.8 2077.8,1744.8 2078.0,1744.8 2078.2,1744.9 2078.4,1744.9 2078.7,1744.9 2078.9,1744.9 2079.1,1744.9 2079.3,1744.9 2079.5,1744.9 2079.8,1744.9 2080.0,1744.9 2080.2,1744.9 2080.4,1744.9 2080.6,1744.9 2080.8,1744.9 2081.1,1744.9 2081.3,1744.9 2081.5,1744.9 2081.7,1744.9 2081.9,1744.9 2082.2,1744.9 2082.4,1744.9 2082.6,1744.9 2082.8,1744.9 2083.0,1744.9 2083.3,1744.9 2083.5,1744.9 2083.7,1745.0 2083.9,1745.0 2084.1,1745.0 2084.3,1745.0 2084.6,1745.0 2084.8,1745.0 2085.0,1745.0 2085.2,1745.0 2085.4,1745.0 2085.7,1745.0 2085.9,1745.0 2086.1,1745.0 2086.3,1745.0 2086.5,1745.0 2086.7,1745.0 2087.0,1745.0 2087.2,1745.0 2087.4,1745.0 2087.6,1745.0 2087.8,1745.0 2088.1,1745.0 2088.3,1745.0 2088.5,1745.0 2088.7,1745.0 2088.9,1745.0 2089.2,1745.1 2089.4,1745.1 2089.6,1745.1 2089.8,1745.1 2090.0,1745.1 2090.2,1745.1 2090.5,1745.1 2090.7,1745.1 2090.9,1745.1 2091.1,1745.1 2091.3,1745.1 2091.6,1745.1 2091.8,1745.1 2092.0,1745.1 2092.2,1745.1 2092.4,1745.1 2092.6,1745.1 2092.9,1745.1 2093.1,1745.1 2093.3,1745.1 2093.5,1745.1 2093.7,1745.1 2094.0,1745.1 2094.2,1745.1 2094.4,1745.1 2094.6,1745.2 2094.8,1745.2 2095.1,1745.2 2095.3,1745.2 2095.5,1745.2 2095.7,1745.2 2095.9,1745.2 2096.1,1745.2 2096.4,1745.2 2096.6,1745.2 2096.8,1745.2 2097.0,1745.2 2097.2,1745.2 2097.5,1745.2 2097.7,1745.2 2097.9,1745.2 2098.1,1745.2 2098.3,1745.2 2098.5,1745.2 2098.8,1745.2 2099.0,1745.2 2099.2,1745.2 2099.4,1745.2 2099.6,1745.2 2099.9,1745.2 2100.1,1745.3 2100.3,1745.3 2100.5,1745.3 2100.7,1745.3 2101.0,1745.3 2101.2,1745.3 2101.4,1745.3 2101.6,1745.3 2101.8,1745.3 2102.0,1745.3 2102.3,1745.3 2102.5,1745.3 2102.7,1745.3 2102.9,1745.3 2103.1,1745.3 2103.4,1745.3 2103.6,1745.3 2103.8,1745.3 2104.0,1745.3 2104.2,1745.3 2104.4,1745.3 2104.7,1745.3 2104.9,1745.3 2105.1,1745.3 2105.3,1745.3 2105.5,1745.4 2105.8,1745.4 2106.0,1745.4 2106.2,1745.4 2106.4,1745.4 2106.6,1745.4 2106.9,1745.4 2107.1,1745.4 2107.3,1745.4 2107.5,1745.4 2107.7,1745.4 2107.9,1745.4 2108.2,1745.4 2108.4,1745.4 2108.6,1745.4 2108.8,1745.4 2109.0,1745.4 2109.3,1745.4 2109.5,1745.4 2109.7,1745.4 2109.9,1745.4 2110.1,1745.4 2110.3,1745.4 2110.6,1745.4 2110.8,1745.4 2111.0,1745.5 2111.2,1745.5 2111.4,1745.5 2111.7,1745.5 2111.9,1745.5 2112.1,1745.5 2112.3,1745.5 2112.5,1745.5 2112.8,1745.5 2113.0,1745.5 2113.2,1745.5 2113.4,1745.5 2113.6,1745.5 2113.8,1745.5 2114.1,1745.5 2114.3,1745.5 2114.5,1745.5 2114.7,1745.5 2114.9,1745.5 2115.2,1745.5 2115.4,1745.5 2115.6,1745.5 2115.8,1745.5 2116.0,1745.5 2116.2,1745.5 2116.5,1745.6 2116.7,1745.6 2116.9,1745.6 2117.1,1745.6 2117.3,1745.6 2117.6,1745.6 2117.8,1745.6 2118.0,1745.6 2118.2,1745.6 2118.4,1745.6 2118.7,1745.6 2118.9,1745.6 2119.1,1745.6 2119.3,1745.6 2119.5,1745.6 2119.7,1745.6 2120.0,1745.6 2120.2,1745.6 2120.4,1745.6 2120.6,1745.6 2120.8,1745.6 2121.1,1745.6 2121.3,1745.6 2121.5,1745.6 2121.7,1745.6 2121.9,1745.6 2122.1,1745.7 2122.4,1745.7 2122.6,1745.7 2122.8,1745.7 2123.0,1745.7 2123.2,1745.7 2123.5,1745.7 2123.7,1745.7 2123.9,1745.7 2124.1,1745.7 2124.3,1745.7 2124.5,1745.7 2124.8,1745.7 2125.0,1745.7 2125.2,1745.7 2125.4,1745.7 2125.6,1745.7 2125.9,1745.7 2126.1,1745.7 2126.3,1745.7 2126.5,1745.7 2126.7,1745.7 2127.0,1745.7 2127.2,1745.7 2127.4,1745.7 2127.6,1745.8 2127.8,1745.8 2128.0,1745.8 2128.3,1745.8 2128.5,1745.8 2128.7,1745.8 2128.9,1745.8 2129.1,1745.8 2129.4,1745.8 2129.6,1745.8 2129.8,1745.8 2130.0,1745.8 2130.2,1745.8 2130.4,1745.8 2130.7,1745.8 2130.9,1745.8 2131.1,1745.8 2131.3,1745.8 2131.5,1745.8 2131.8,1745.8 2132.0,1745.8 2132.2,1745.8 2132.4,1745.8 2132.6,1745.8 2132.9,1745.8 2133.1,1745.8 2133.3,1745.9 2133.5,1745.9 2133.7,1745.9 2133.9,1745.9 2134.2,1745.9 2134.4,1745.9 2134.6,1745.9 2134.8,1745.9 2135.0,1745.9 2135.3,1745.9 2135.5,1745.9 2135.7,1745.9 2135.9,1745.9 2136.1,1745.9 2136.3,1745.9 2136.6,1745.9 2136.8,1745.9 2137.0,1745.9 2137.2,1745.9 2137.4,1745.9 2137.7,1745.9 2137.9,1745.9 2138.1,1745.9 2138.3,1745.9 2138.5,1745.9 2138.8,1745.9 2139.0,1745.9 2139.2,1746.0 2139.4,1746.0 2139.6,1746.0 2139.8,1746.0 2140.1,1746.0 2140.3,1746.0 2140.5,1746.0 2140.7,1746.0 2140.9,1746.0 2141.2,1746.0 2141.4,1746.0 2141.6,1746.0 2141.8,1746.0 2142.0,1746.0 2142.2,1746.0 2142.5,1746.0 2142.7,1746.0 2142.9,1746.0 2143.1,1746.0 2143.3,1746.0 2143.6,1746.0 2143.8,1746.0 2144.0,1746.0 2144.2,1746.0 2144.4,1746.0 2144.7,1746.0 2144.9,1746.0 2145.1,1746.0 2145.3,1746.0 2145.5,1746.0 2145.7,1746.0 2146.0,1746.0 2146.2,1746.0 2146.4,1746.1 2146.6,1746.1 2146.8,1746.1 2147.1,1746.1 2147.3,1746.1 2147.5,1746.1 2147.7,1746.1 2147.9,1746.1 2148.1,1746.1 2148.4,1746.1 2148.6,1746.1 2148.8,1746.1 2149.0,1746.1 2149.2,1746.1 2149.5,1746.1 2149.7,1746.1 2149.9,1746.1 2150.1,1746.1 2150.3,1746.1 2150.6,1746.1 2150.8,1746.1 2151.0,1746.0 2151.2,1746.0 2151.4,1746.0 2151.6,1746.0 2151.9,1746.0 2152.1,1746.0 2152.3,1746.0 2152.5,1746.0 2152.7,1746.0 2153.0,1746.0 2153.2,1745.9 2153.4,1745.9 2153.6,1745.9 2153.8,1745.8 2154.0,1745.8 2154.3,1745.7 2154.5,1745.6 2154.7,1745.4 2154.9,1745.2 2155.1,1744.9 2155.4,1744.5 2155.6,1744.0 2155.8,1743.4 2156.0,1742.7 2156.2,1741.9 2156.5,1741.0 2156.7,1740.0 2156.9,1739.0 2157.1,1738.1 2157.3,1737.3 2157.5,1736.6 2157.8,1736.1 2158.0,1736.0 2158.2,1736.2 2158.4,1736.6 2158.6,1737.3 2158.9,1738.1 2159.1,1739.1 2159.3,1740.1 2159.5,1741.1 2159.7,1742.0 2159.9,1742.8 2160.2,1743.5 2160.4,1744.1 2160.6,1744.6 2160.8,1745.0 2161.0,1745.3 2161.3,1745.5 2161.5,1745.7 2161.7,1745.8 2161.9,1745.9 2162.1,1746.0 2162.4,1746.0 2162.6,1746.1 2162.8,1746.1 2163.0,1746.1 2163.2,1746.2 2163.4,1746.2 2163.7,1746.2 2163.9,1746.2 2164.1,1746.2 2164.3,1746.3 2164.5,1746.3 2164.8,1746.3 2165.0,1746.3 2165.2,1746.3 2165.4,1746.3 2165.6,1746.3 2165.8,1746.3 2166.1,1746.4 2166.3,1746.4 2166.5,1746.4 2166.7,1746.4 2166.9,1746.4 2167.2,1746.4 2167.4,1746.4 2167.6,1746.4 2167.8,1746.4 2168.0,1746.4 2168.2,1746.4 2168.5,1746.4 2168.7,1746.4 2168.9,1746.5 2169.1,1746.5 2169.3,1746.5 2169.6,1746.5 2169.8,1746.5 2170.0,1746.5 2170.2,1746.5 2170.4,1746.5 2170.7,1746.5 2170.9,1746.5 2171.1,1746.5 2171.3,1746.5 2171.5,1746.5 2171.7,1746.5 2172.0,1746.5 2172.2,1746.5 2172.4,1746.5 2172.6,1746.5 2172.8,1746.6 2173.1,1746.6 2173.3,1746.6 2173.5,1746.6 2173.7,1746.6 2173.9,1746.6 2174.1,1746.6 2174.4,1746.6 2174.6,1746.6 2174.8,1746.6 2175.0,1746.6 2175.2,1746.6 2175.5,1746.6 2175.7,1746.6 2175.9,1746.6 2176.1,1746.6 2176.3,1746.6 2176.6,1746.6 2176.8,1746.6 2177.0,1746.6 2177.2,1746.6 2177.4,1746.6 2177.6,1746.7 2177.9,1746.7 2178.1,1746.7 2178.3,1746.7 2178.5,1746.7 2178.7,1746.7 2179.0,1746.7 2179.2,1746.7 2179.4,1746.7 2179.6,1746.7 2179.8,1746.7 2180.0,1746.7 2180.3,1746.7 2180.5,1746.7 2180.7,1746.7 2180.9,1746.7 2181.1,1746.7 2181.4,1746.7 2181.6,1746.7 2181.8,1746.7 2182.0,1746.7 2182.2,1746.7 2182.5,1746.7 2182.7,1746.7 2182.9,1746.8 2183.1,1746.8 2183.3,1746.8 2183.5,1746.8 2183.8,1746.8 2184.0,1746.8 2184.2,1746.8 2184.4,1746.8 2184.6,1746.8 2184.9,1746.8 2185.1,1746.8 2185.3,1746.8 2185.5,1746.8 2185.7,1746.8 2185.9,1746.8 2186.2,1746.8 2186.4,1746.8 2186.6,1746.8 2186.8,1746.8 2187.0,1746.8 2187.3,1746.8 2187.5,1746.8 2187.7,1746.8 2187.9,1746.8 2188.1,1746.8 2188.4,1746.9 2188.6,1746.9 2188.8,1746.9 2189.0,1746.9 2189.2,1746.9 2189.4,1746.9 2189.7,1746.9 2189.9,1746.9 2190.1,1746.9 2190.3,1746.9 2190.5,1746.9 2190.8,1746.9 2191.0,1746.9 2191.2,1746.9 2191.4,1746.9 2191.6,1746.9 2191.8,1746.9 2192.1,1746.9 2192.3,1746.9 2192.5,1746.9 2192.7,1746.9 2192.9,1746.9 2193.2,1746.9 2193.4,1746.9 2193.6,1746.9 2193.8,1746.9 2194.0,1746.9 2194.3,1747.0 2194.5,1747.0 2194.7,1747.0 2194.9,1747.0 2195.1,1747.0 2195.3,1747.0 2195.6,1747.0 2195.8,1747.0 2196.0,1747.0 2196.2,1747.0 2196.4,1747.0 2196.7,1747.0 2196.9,1747.0 2197.1,1747.0 2197.3,1747.0 2197.5,1747.0 2197.7,1747.0 2198.0,1747.0 2198.2,1747.0 2198.4,1747.0 2198.6,1747.0 2198.8,1747.0 2199.1,1747.0 2199.3,1747.0 2199.5,1747.0 2199.7,1747.0 2199.9,1747.0 2200.2,1747.0 2200.4,1747.0 2200.6,1747.0 2200.8,1747.0 2201.0,1747.0 2201.2,1747.0 2201.5,1747.0 2201.7,1747.0 2201.9,1747.0 2202.1,1747.0 2202.3,1747.0 2202.6,1747.0 2202.8,1747.0 2203.0,1747.0 2203.2,1747.0 2203.4,1747.0 2203.6,1747.0 2203.9,1747.0 2204.1,1747.0 2204.3,1747.0 2204.5,1747.0 2204.7,1747.0 2205.0,1747.0 2205.2,1747.0 2205.4,1747.0 2205.6,1747.0 2205.8,1747.0 2206.1,1747.0 2206.3,1747.0 2206.5,1747.0 2206.7,1747.0 2206.9,1747.0 2207.1,1746.9 2207.4,1746.9 2207.6,1746.9 2207.8,1746.8 2208.0,1746.8 2208.2,1746.7 2208.5,1746.6 2208.7,1746.5 2208.9,1746.4 2209.1,1746.2 2209.3,1745.9 2209.5,1745.6 2209.8,1745.3 2210.0,1744.8 2210.2,1744.3 2210.4,1743.7 2210.6,1743.1 2210.9,1742.3 2211.1,1741.6 2211.3,1740.8 2211.5,1740.1 2211.7,1739.4 2211.9,1738.8 2212.2,1738.4 2212.4,1738.1 2212.6,1738.0 2212.8,1738.1 2213.0,1738.4 2213.3,1738.9 2213.5,1739.4 2213.7,1740.1 2213.9,1740.9 2214.1,1741.7 2214.4,1742.4 2214.6,1743.1 2214.8,1743.8 2215.0,1744.4 2215.2,1744.9 2215.4,1745.4 2215.7,1745.7 2215.9,1746.1 2216.1,1746.3 2216.3,1746.5 2216.5,1746.7 2216.8,1746.8 2217.0,1746.9 2217.2,1747.0 2217.4,1747.0 2217.6,1747.1 2217.8,1747.1 2218.1,1747.1 2218.3,1747.2 2218.5,1747.2 2218.7,1747.2 2218.9,1747.2 2219.2,1747.2 2219.4,1747.3 2219.6,1747.3 2219.8,1747.3 2220.0,1747.3 2220.3,1747.3 2220.5,1747.3 2220.7,1747.3 2220.9,1747.3 2221.1,1747.4 2221.3,1747.4 2221.6,1747.4 2221.8,1747.4 2222.0,1747.4 2222.2,1747.4 2222.4,1747.4 2222.7,1747.4 2222.9,1747.4 2223.1,1747.4 2223.3,1747.4 2223.5,1747.4 2223.7,1747.5 2224.0,1747.5 2224.2,1747.5 2224.4,1747.5 2224.6,1747.5 2224.8,1747.5 2225.1,1747.5 2225.3,1747.5 2225.5,1747.5 2225.7,1747.5 2225.9,1747.5 2226.2,1747.5 2226.4,1747.5 2226.6,1747.5 2226.8,1747.5 2227.0,1747.5 2227.2,1747.5 2227.5,1747.5 2227.7,1747.6 2227.9,1747.6 2228.1,1747.6 2228.3,1747.6 2228.6,1747.6 2228.8,1747.6 2229.0,1747.6 2229.2,1747.6 2229.4,1747.6 2229.6,1747.6 2229.9,1747.6 2230.1,1747.6 2230.3,1747.6 2230.5,1747.6 2230.7,1747.6 2231.0,1747.6 2231.2,1747.6 2231.4,1747.6 2231.6,1747.6 2231.8,1747.6 2232.1,1747.6 2232.3,1747.7 2232.5,1747.7 2232.7,1747.7 2232.9,1747.7 2233.1,1747.7 2233.4,1747.7 2233.6,1747.7 2233.8,1747.7 2234.0,1747.7 2234.2,1747.7 2234.5,1747.7 2234.7,1747.7 2234.9,1747.7 2235.1,1747.7 2235.3,1747.7 2235.5,1747.7 2235.8,1747.7 2236.0,1747.7 2236.2,1747.7 2236.4,1747.7 2236.6,1747.7 2236.9,1747.7 2237.1,1747.8 2237.3,1747.8 2237.5,1747.8 2237.7,1747.8 2238.0,1747.8 2238.2,1747.8 2238.4,1747.8 2238.6,1747.8 2238.8,1747.8 2239.0,1747.8 2239.3,1747.8 2239.5,1747.8 2239.7,1747.8 2239.9,1747.8 2240.1,1747.8 2240.4,1747.8 2240.6,1747.8 2240.8,1747.8 2241.0,1747.8 2241.2,1747.8 2241.4,1747.8 2241.7,1747.8 2241.9,1747.8 2242.1,1747.8 2242.3,1747.9 2242.5,1747.9 2242.8,1747.9 2243.0,1747.9 2243.2,1747.9 2243.4,1747.9 2243.6,1747.9 2243.9,1747.9 2244.1,1747.9 2244.3,1747.9 2244.5,1747.9 2244.7,1747.9 2244.9,1747.9 2245.2,1747.9 2245.4,1747.9 2245.6,1747.9 2245.8,1747.9 2246.0,1747.9 2246.3,1747.9 2246.5,1747.9 2246.7,1747.9 2246.9,1747.9 2247.1,1747.9 2247.3,1747.9 2247.6,1748.0 2247.8,1748.0 2248.0,1748.0 2248.2,1748.0 2248.4,1748.0 2248.7,1748.0 2248.9,1748.0 2249.1,1748.0 2249.3,1748.0 2249.5,1748.0 2249.7,1748.0 2250.0,1748.0 2250.2,1748.0 2250.4,1748.0 2250.6,1748.0 2250.8,1748.0 2251.1,1748.0 2251.3,1748.0 2251.5,1748.0 2251.7,1748.0 2251.9,1748.0 2252.2,1748.0 2252.4,1748.0 2252.6,1748.0 2252.8,1748.0 2253.0,1748.1 2253.2,1748.1 2253.5,1748.1 2253.7,1748.1 2253.9,1748.1 2254.1,1748.1 2254.3,1748.1 2254.6,1748.1 2254.8,1748.1 2255.0,1748.1 2255.2,1748.1 2255.4,1748.1 2255.6,1748.1 2255.9,1748.1 2256.1,1748.1 2256.3,1748.1 2256.5,1748.1 2256.7,1748.1 2257.0,1748.1 2257.2,1748.1 2257.4,1748.1 2257.6,1748.1 2257.8,1748.1 2258.1,1748.1 2258.3,1748.1 2258.5,1748.2 2258.7,1748.2 2258.9,1748.2 2259.1,1748.2 2259.4,1748.2 2259.6,1748.2 2259.8,1748.2 2260.0,1748.2 2260.2,1748.2 2260.5,1748.2 2260.7,1748.2 2260.9,1748.2 2261.1,1748.2 2261.3,1748.2 2261.5,1748.2 2261.8,1748.2 2262.0,1748.2 2262.2,1748.2 2262.4,1748.2 2262.6,1748.2 2262.9,1748.2 2263.1,1748.2 2263.3,1748.2 2263.5,1748.2 2263.7,1748.3 2264.0,1748.3 2264.2,1748.3 2264.4,1748.3 2264.6,1748.3 2264.8,1748.3 2265.0,1748.3 2265.3,1748.3 2265.5,1748.3 2265.7,1748.3 2265.9,1748.3 2266.1,1748.3 2266.4,1748.3 2266.6,1748.3 2266.8,1748.3 2267.0,1748.3 2267.2,1748.3 2267.4,1748.3 2267.7,1748.3 2267.9,1748.3 2268.1,1748.3 2268.3,1748.3 2268.5,1748.3 2268.8,1748.3 2269.0,1748.3 2269.2,1748.4 2269.4,1748.4 2269.6,1748.4 2269.9,1748.4 2270.1,1748.4 2270.3,1748.4 2270.5,1748.4 2270.7,1748.4 2270.9,1748.4 2271.2,1748.4 2271.4,1748.4 2271.6,1748.4 2271.8,1748.4 2272.0,1748.4 2272.3,1748.4 2272.5,1748.4 2272.7,1748.4 2272.9,1748.4 2273.1,1748.4 2273.3,1748.4 2273.6,1748.4 2273.8,1748.4 2274.0,1748.4 2274.2,1748.4 2274.4,1748.4 2274.7,1748.5 2274.9,1748.5 2275.1,1748.5 2275.3,1748.5 2275.5,1748.5 2275.8,1748.5 2276.0,1748.5 2276.2,1748.5 2276.4,1748.5 2276.6,1748.5 2276.8,1748.5 2277.1,1748.5 2277.3,1748.5 2277.5,1748.5 2277.7,1748.5 2277.9,1748.5 2278.2,1748.5 2278.4,1748.5 2278.6,1748.5 2278.8,1748.5 2279.0,1748.5 2279.2,1748.5 2279.5,1748.5 2279.7,1748.5 2279.9,1748.5 2280.1,1748.6 2280.3,1748.6 2280.6,1748.6 2280.8,1748.6 2281.0,1748.6 2281.2,1748.6 2281.4,1748.6 2281.7,1748.6 2281.9,1748.6 2282.1,1748.6 2282.3,1748.6 2282.5,1748.6 2282.7,1748.6 2283.0,1748.6 2283.2,1748.6 2283.4,1748.6 2283.6,1748.6 2283.8,1748.6 2284.1,1748.6 2284.3,1748.6 2284.5,1748.6 2284.7,1748.6 2284.9,1748.6 2285.1,1748.6 2285.4,1748.6 2285.6,1748.7 2285.8,1748.7 2286.0,1748.7 2286.2,1748.7 2286.5,1748.7 2286.7,1748.7 2286.9,1748.7 2287.1,1748.7 2287.3,1748.7 2287.6,1748.7 2287.8,1748.7 2288.0,1748.7 2288.2,1748.7 2288.4,1748.7 2288.6,1748.7 2288.9,1748.7 2289.1,1748.7 2289.3,1748.7 2289.5,1748.7 2289.7,1748.7 2290.0,1748.7 2290.2,1748.7 2290.4,1748.7 2290.6,1748.7 2290.8,1748.7 2291.0,1748.8 2291.3,1748.8 2291.5,1748.8 2291.7,1748.8 2291.9,1748.8 2292.1,1748.8 2292.4,1748.8 2292.6,1748.8 2292.8,1748.8 2293.0,1748.8 2293.2,1748.8 2293.4,1748.8 2293.7,1748.8 2293.9,1748.8 2294.1,1748.8 2294.3,1748.8 2294.5,1748.8 2294.8,1748.8 2295.0,1748.8 2295.2,1748.8 2295.4,1748.8 2295.6,1748.8 2295.9,1748.8 2296.1,1748.8 2296.3,1748.8 2296.5,1748.9 2296.7,1748.9 2296.9,1748.9 2297.2,1748.9 2297.4,1748.9 2297.6,1748.9 2297.8,1748.9 2298.0,1748.9 2298.3,1748.9 2298.5,1748.9 2298.7,1748.9 2298.9,1748.9 2299.1,1748.9 2299.3,1748.9 2299.6,1748.9 2299.8,1748.9 2300.0,1748.9 2300.2,1748.9 2300.4,1748.9 2300.7,1748.9 2300.9,1748.9 2301.1,1748.9 2301.3,1748.9 2301.5,1748.9 2301.8,1748.9 2302.0,1749.0 2302.2,1749.0 2302.4,1749.0 2302.6,1749.0 2302.8,1749.0 2303.1,1749.0 2303.3,1749.0 2303.5,1749.0 2303.7,1749.0 2303.9,1749.0 2304.2,1749.0 2304.4,1749.0 2304.6,1749.0 2304.8,1749.0 2305.0,1749.0 2305.2,1749.0 2305.5,1749.0 2305.7,1749.0 2305.9,1749.0 2306.1,1749.0 2306.3,1749.0 2306.6,1749.0 2306.8,1749.0 2307.0,1749.0 2307.2,1749.0 2307.4,1749.1 2307.7,1749.1 2307.9,1749.1 2308.1,1749.1 2308.3,1749.1 2308.5,1749.1 2308.7,1749.1 2309.0,1749.1 2309.2,1749.1 2309.4,1749.1 2309.6,1749.1 2309.8,1749.1 2310.1,1749.1 2310.3,1749.1 2310.5,1749.1 2310.7,1749.1 2310.9,1749.1 2311.1,1749.1 2311.4,1749.1 2311.6,1749.1 2311.8,1749.1 2312.0,1749.1 2312.2,1749.1 2312.5,1749.1 2312.7,1749.1 2312.9,1749.2 2313.1,1749.2 2313.3,1749.2 2313.6,1749.2 2313.8,1749.2 2314.0,1749.2 2314.2,1749.2 2314.4,1749.2 2314.6,1749.2 2314.9,1749.2 2315.1,1749.2 2315.3,1749.2 2315.5,1749.2 2315.7,1749.2 2316.0,1749.2 2316.2,1749.2 2316.4,1749.2 2316.6,1749.2 2316.8,1749.2 2317.0,1749.2 2317.3,1749.2 2317.5,1749.2 2317.7,1749.2 2317.9,1749.2 2318.1,1749.2 2318.4,1749.3 2318.6,1749.3 2318.8,1749.3 2319.0,1749.3 2319.2,1749.3 2319.5,1749.3 2319.7,1749.3 2319.9,1749.3 2320.1,1749.3 2320.3,1749.3 2320.5,1749.3 2320.8,1749.3 2321.0,1749.3 2321.2,1749.3 2321.4,1749.3 2321.6,1749.3 2321.9,1749.3 2322.1,1749.3 2322.3,1749.3 2322.5,1749.3 2322.7,1749.3 2322.9,1749.3 2323.2,1749.3 2323.4,1749.3 2323.6,1749.3 2323.8,1749.4 2324.0,1749.4 2324.3,1749.4 2324.5,1749.4 2324.7,1749.4 2324.9,1749.4 2325.1,1749.4 2325.4,1749.4 2325.6,1749.4 2325.8,1749.4 2326.0,1749.4 2326.2,1749.4 2326.4,1749.4 2326.7,1749.4 2326.9,1749.4 2327.1,1749.4 2327.3,1749.4 2327.5,1749.4 2327.8,1749.4 2328.0,1749.4 2328.2,1749.4 2328.4,1749.4 2328.6,1749.4 2328.8,1749.4 2329.1,1749.4 2329.3,1749.5 2329.5,1749.5 2329.7,1749.5 2329.9,1749.5 2330.2,1749.5 2330.4,1749.5 2330.6,1749.5 2330.8,1749.5 2331.0,1749.5 2331.3,1749.5 2331.5,1749.5 2331.7,1749.5 2331.9,1749.5 2332.1,1749.5 2332.3,1749.5 2332.6,1749.5 2332.8,1749.5 2333.0,1749.5 2333.2,1749.5 2333.4,1749.5 2333.7,1749.5 2333.9,1749.5 2334.1,1749.5 2334.3,1749.5 2334.5,1749.6 2334.7,1749.6 2335.0,1749.6 2335.2,1749.6 2335.4,1749.6 2335.6,1749.6 2335.8,1749.6 2336.1,1749.6 2336.3,1749.6 2336.5,1749.6 2336.7,1749.6 2336.9,1749.6 2337.1,1749.6 2337.4,1749.6 2337.6,1749.6 2337.8,1749.6 2338.0,1749.6 2338.2,1749.6 2338.5,1749.6 2338.7,1749.6 2338.9,1749.6 2339.1,1749.6 2339.3,1749.6 2339.6,1749.6 2339.8,1749.6 2340.0,1749.7 2340.2,1749.7 2340.4,1749.7 2340.6,1749.7 2340.9,1749.7 2341.1,1749.7 2341.3,1749.7 2341.5,1749.7 2341.7,1749.7 2342.0,1749.7 2342.2,1749.7 2342.4,1749.7 2342.6,1749.7 2342.8,1749.7 2343.0,1749.7 2343.3,1749.7 2343.5,1749.7 2343.7,1749.7 2343.9,1749.7 2344.1,1749.7 2344.4,1749.7 2344.6,1749.7 2344.8,1749.7 2345.0,1749.7 2345.2,1749.7 2345.5,1749.8 2345.7,1749.8 2345.9,1749.8 2346.1,1749.8 2346.3,1749.8 2346.5,1749.8 2346.8,1749.8 2347.0,1749.8 2347.2,1749.8 2347.4,1749.8 2347.6,1749.8 2347.9,1749.8 2348.1,1749.8 2348.3,1749.8 2348.5,1749.8 2348.7,1749.8 2348.9,1749.8 2349.2,1749.8 2349.4,1749.8 2349.6,1749.8 2349.8,1749.8 2350.0,1749.8 2350.3,1749.8 2350.5,1749.8 2350.7,1749.8 2350.9,1749.9 2351.1,1749.9 2351.4,1749.9 2351.6,1749.9 2351.8,1749.9 2352.0,1749.9 2352.2,1749.9 2352.4,1749.9 2352.7,1749.9 2352.9,1749.9 2353.1,1749.9 2353.3,1749.9 2353.5,1749.9 2353.8,1749.9 2354.0,1749.9 2354.2,1749.9 2354.4,1749.9 2354.6,1749.9 2354.8,1749.9 2355.1,1749.9 2355.3,1749.9 2355.5,1749.9 2355.7,1749.9 2355.9,1749.9 2356.2,1749.9 2356.4,1750.0 2356.6,1750.0 2356.8,1750.0 2357.0,1750.0 2357.3,1750.0 2357.5,1750.0 2357.7,1750.0 2357.9,1750.0 2358.0,1750.0 2358.0,1750.0 2358.0,1750.0 2358.0,1750.0 2358.0,1750.0" fill="none" stroke="#000000" stroke-width="9" stroke-linejoin="round"/>
<line x1="1375" y1="986" x2="1375" y2="1790" stroke="#000" stroke-width="9"/>
<line x1="1375" y1="990" x2="2362" y2="990" stroke="#000" stroke-width="8"/>
<line x1="2358" y1="990" x2="2358" y2="1786" stroke="#000" stroke-width="8"/>
<line x1="1375" y1="1786" x2="2362" y2="1786" stroke="#000" stroke-width="8"/>
<line x1="1485" y1="1786" x2="1485" y2="1803" stroke="#000" stroke-width="6"/>
<text x="1485" y="1861" font-size="62" text-anchor="middle" >10</text>
<line x1="1703.5" y1="1786" x2="1703.5" y2="1803" stroke="#000" stroke-width="6"/>
<text x="1703.5" y="1861" font-size="62" text-anchor="middle" >20</text>
<line x1="1922" y1="1786" x2="1922" y2="1803" stroke="#000" stroke-width="6"/>
<text x="1922" y="1861" font-size="62" text-anchor="middle" >30</text>
<line x1="2140.5" y1="1786" x2="2140.5" y2="1803" stroke="#000" stroke-width="6"/>
<text x="2140.5" y="1861" font-size="62" text-anchor="middle" >40</text>
<line x1="2359" y1="1786" x2="2359" y2="1803" stroke="#000" stroke-width="6"/>
<text x="2359" y="1861" font-size="62" text-anchor="middle" >50</text>
<text x="1858" y="1924" font-size="48" text-anchor="middle" >2θ (degree)</text>
<text transform="translate(1338,1378) rotate(-90)" font-size="57" text-anchor="middle">Intensity (a.u)</text>
<text x="1417" y="1131" font-size="105" text-anchor="start" >(d)</text>
<text x="1833" y="1540" font-size="62" text-anchor="start" >After 30 days</text>
<line x1="1732" y1="1068" x2="1815" y2="1068" stroke="#ff0000" stroke-width="9"/>
<line x1="1732" y1="1145" x2="1815" y2="1145" stroke="#000" stroke-width="9"/>
<text x="1831" y="1082" font-size="62" text-anchor="start" >With GO</text>
<text x="1831" y="1157" font-size="62" text-anchor="start" >Without GO</text>
<text x="1547" y="1316" font-size="62" text-anchor="middle" >*</text>
<text x="1547" y="1608" font-size="62" text-anchor="middle" >*</text>
</g>
</svg>
</body></html>
